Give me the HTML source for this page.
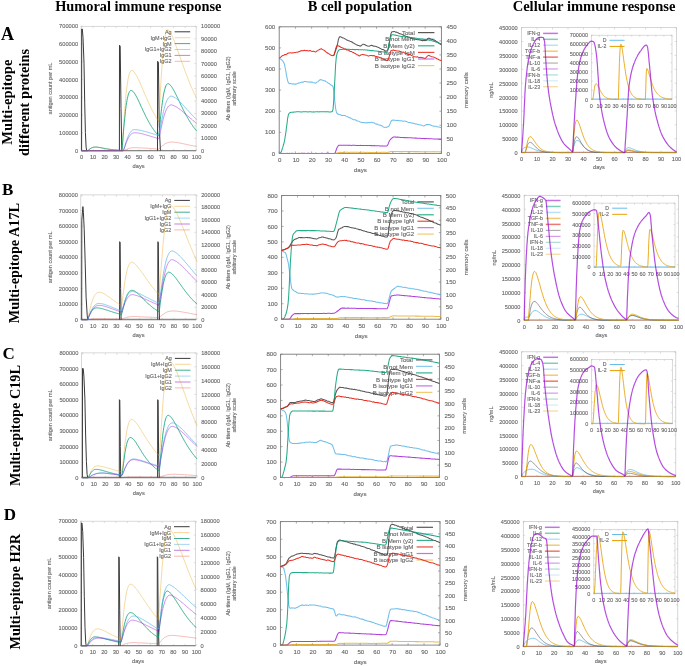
<!DOCTYPE html>
<html><head><meta charset="utf-8"><style>
html,body{margin:0;padding:0;background:#fff;}
svg{display:block;will-change:transform;}
text{stroke:#7a7a7a;stroke-width:0.12px;}
text[font-weight=bold]{stroke:none;}
</style></head><body>
<svg width="685" height="666" viewBox="0 0 685 666">
<rect width="685" height="666" fill="#fff"/>
<g font-family="Liberation Sans" fill="#5a5a5a" stroke-width="0.6">
<text x="138.3" y="11.1" font-family="Liberation Serif" font-size="14.35" font-weight="bold" text-anchor="middle" fill="#000">Humoral immune response</text>
<text x="359.8" y="11.1" font-family="Liberation Serif" font-size="14.45" font-weight="bold" text-anchor="middle" fill="#000">B cell population</text>
<text x="594" y="11.1" font-family="Liberation Serif" font-size="14.55" font-weight="bold" text-anchor="middle" fill="#000">Cellular immune response</text>
<text x="0.9" y="39.6" font-family="Liberation Serif" font-size="18" font-weight="bold" fill="#000">A</text>
<text x="2" y="195" font-family="Liberation Serif" font-size="17" font-weight="bold" fill="#000">B</text>
<text x="2.6" y="358.6" font-family="Liberation Serif" font-size="17" font-weight="bold" fill="#000">C</text>
<text x="3.8" y="520.3" font-family="Liberation Serif" font-size="17" font-weight="bold" fill="#000">D</text>
<text transform="translate(11.5,102.1) rotate(-90)" font-family="Liberation Serif" font-size="14.6" font-weight="bold" text-anchor="middle" fill="#000">Multi-epitope</text>
<text transform="translate(28.8,102.4) rotate(-90)" font-family="Liberation Serif" font-size="14.4" font-weight="bold" text-anchor="middle" fill="#000">different proteins</text>
<text transform="translate(18.8,263) rotate(-90)" font-family="Liberation Serif" font-size="14.3" font-weight="bold" text-anchor="middle" fill="#000">Multi-epitope A17L</text>
<text transform="translate(20.1,425.5) rotate(-90)" font-family="Liberation Serif" font-size="14.3" font-weight="bold" text-anchor="middle" fill="#000">Multi-epitope C19L</text>
<text transform="translate(20.1,591.8) rotate(-90)" font-family="Liberation Serif" font-size="14.3" font-weight="bold" text-anchor="middle" fill="#000">Multi-epitope H2R</text>
<rect x="81.1" y="26.3" width="115" height="124.5" fill="none" stroke="#c8c8c8" stroke-width="0.7"/>
<path d="M81.6 150.8v-1.8M81.6 26.3v1.8M93.1 150.8v-1.8M93.1 26.3v1.8M104.6 150.8v-1.8M104.6 26.3v1.8M116.1 150.8v-1.8M116.1 26.3v1.8M127.6 150.8v-1.8M127.6 26.3v1.8M139.1 150.8v-1.8M139.1 26.3v1.8M150.6 150.8v-1.8M150.6 26.3v1.8M162.1 150.8v-1.8M162.1 26.3v1.8M173.6 150.8v-1.8M173.6 26.3v1.8M185.1 150.8v-1.8M185.1 26.3v1.8M196.6 150.8v-1.8M196.6 26.3v1.8M81.1 150.8h1.8M81.1 133.01h1.8M81.1 115.23h1.8M81.1 97.44h1.8M81.1 79.66h1.8M81.1 61.87h1.8M81.1 44.09h1.8M81.1 26.3h1.8M196.1 150.8h-1.8M196.1 138.35h-1.8M196.1 125.9h-1.8M196.1 113.45h-1.8M196.1 101h-1.8M196.1 88.55h-1.8M196.1 76.1h-1.8M196.1 63.65h-1.8M196.1 51.2h-1.8M196.1 38.75h-1.8M196.1 26.3h-1.8" stroke="#c8c8c8" stroke-width="0.6" fill="none"/>
<text x="78.1" y="152.8" font-size="5.7" text-anchor="end">0</text>
<text x="78.1" y="135.01" font-size="5.7" text-anchor="end">100000</text>
<text x="78.1" y="117.23" font-size="5.7" text-anchor="end">200000</text>
<text x="78.1" y="99.44" font-size="5.7" text-anchor="end">300000</text>
<text x="78.1" y="81.66" font-size="5.7" text-anchor="end">400000</text>
<text x="78.1" y="63.87" font-size="5.7" text-anchor="end">500000</text>
<text x="78.1" y="46.09" font-size="5.7" text-anchor="end">600000</text>
<text x="78.1" y="28.3" font-size="5.7" text-anchor="end">700000</text>
<text x="201.1" y="152.8" font-size="5.7">0</text>
<text x="201.1" y="140.35" font-size="5.7">10000</text>
<text x="201.1" y="127.9" font-size="5.7">20000</text>
<text x="201.1" y="115.45" font-size="5.7">30000</text>
<text x="201.1" y="103" font-size="5.7">40000</text>
<text x="201.1" y="90.55" font-size="5.7">50000</text>
<text x="201.1" y="78.1" font-size="5.7">60000</text>
<text x="201.1" y="65.65" font-size="5.7">70000</text>
<text x="201.1" y="53.2" font-size="5.7">80000</text>
<text x="201.1" y="40.75" font-size="5.7">90000</text>
<text x="201.1" y="28.3" font-size="5.7">100000</text>
<text x="81.6" y="159" font-size="5.7" text-anchor="middle">0</text>
<text x="93.1" y="159" font-size="5.7" text-anchor="middle">10</text>
<text x="104.6" y="159" font-size="5.7" text-anchor="middle">20</text>
<text x="116.1" y="159" font-size="5.7" text-anchor="middle">30</text>
<text x="127.6" y="159" font-size="5.7" text-anchor="middle">40</text>
<text x="139.1" y="159" font-size="5.7" text-anchor="middle">50</text>
<text x="150.6" y="159" font-size="5.7" text-anchor="middle">60</text>
<text x="162.1" y="159" font-size="5.7" text-anchor="middle">70</text>
<text x="173.6" y="159" font-size="5.7" text-anchor="middle">80</text>
<text x="185.1" y="159" font-size="5.7" text-anchor="middle">90</text>
<text x="196.6" y="159" font-size="5.7" text-anchor="middle">100</text>
<text x="138.6" y="167.8" font-size="5.7" text-anchor="middle">days</text>
<text transform="translate(51.9,88.55) rotate(-90)" font-size="5.5" text-anchor="middle">antigen count per mL</text>
<text transform="translate(230.2,88.55) rotate(-90)" font-size="5.5" text-anchor="middle">Ab titers (IgM, IgG1, IgG2)</text>
<text transform="translate(236.1,88.55) rotate(-90)" font-size="5.5" text-anchor="middle">arbitrary scale</text>
<text x="171.6" y="33.76" font-size="5.45" text-anchor="end">Ag</text>
<path d="M174.6 31.8H190.2" stroke="#3a3a3a" stroke-width="1.0" stroke-opacity="1.0"/>
<text x="171.6" y="39.66" font-size="5.45" text-anchor="end">IgM+IgG</text>
<path d="M174.6 37.7H190.2" stroke="#f2c46a" stroke-width="0.7" stroke-opacity="1.0"/>
<text x="171.6" y="45.56" font-size="5.45" text-anchor="end">IgM</text>
<path d="M174.6 43.6H190.2" stroke="#3fb08f" stroke-width="1.0" stroke-opacity="1.0"/>
<text x="171.6" y="51.46" font-size="5.45" text-anchor="end">IgG1+IgG2</text>
<path d="M174.6 49.5H190.2" stroke="#8fcdf0" stroke-width="0.8" stroke-opacity="1.0"/>
<text x="171.6" y="57.36" font-size="5.45" text-anchor="end">IgG1</text>
<path d="M174.6 55.4H190.2" stroke="#b860e0" stroke-width="0.8" stroke-opacity="1.0"/>
<text x="171.6" y="63.26" font-size="5.45" text-anchor="end">IgG2</text>
<path d="M174.6 61.3H190.2" stroke="#f08a80" stroke-width="0.6" stroke-opacity="1.0"/>
<path d="M81.1 150.6H196.1" stroke="#808080" stroke-width="1.3" stroke-opacity="0.9"/>
<path d="M81.6 150.8 81.7 29 82.3 29 83 37.5 84 63.1 84.7 102.1 85.4 132.5 86.1 147.1 86.7 150.8" stroke="#3a3a3a" stroke-width="1.0" fill="none" stroke-linejoin="round" stroke-opacity="1.0"/>
<path d="M119.4 150.8 119.5 45.2 120.2 46.2 121 108.5 121.8 150.8" stroke="#3a3a3a" stroke-width="1.0" fill="none" stroke-linejoin="round" stroke-opacity="1.0"/>
<path d="M157.5 150.8 157.6 61.3 158.4 62.2 159.2 124 160.4 150.8" stroke="#3a3a3a" stroke-width="1.0" fill="none" stroke-linejoin="round" stroke-opacity="1.0"/>
<path d="M81.6 150.8 82 150.8 82.4 150.8 82.8 150.8 83.1 150.8 83.5 150.8 83.9 150.8 84.3 150.8 84.7 150.8 85.1 150.8 85.4 150.8 85.8 150.8 86.2 150.8 86.6 150.8 87 150.8 87.4 150.8 87.8 150.6 88.1 150.4 88.5 150.1 88.9 149.7 89.3 149.4 89.7 149.1 90.1 148.8 90.4 148.6 90.8 148.3 91.2 148.1 91.6 147.9 92 147.7 92.4 147.6 92.8 147.4 93.1 147.3 93.5 147.2 93.9 147.2 94.3 147.1 94.7 147.1 95.1 147.1 95.4 147.1 95.8 147.1 96.2 147.1 96.6 147.1 97 147.1 97.4 147.2 97.8 147.2 98.1 147.3 98.5 147.3 98.9 147.4 99.3 147.4 99.7 147.5 100.1 147.5 100.4 147.6 100.8 147.7 101.2 147.7 101.6 147.8 102 147.9 102.4 147.9 102.8 148 103.1 148.1 103.5 148.2 103.9 148.2 104.3 148.3 104.7 148.4 105.1 148.4 105.4 148.5 105.8 148.6 106.2 148.6 106.6 148.7 107 148.8 107.4 148.8 107.8 148.9 108.1 149 108.5 149 108.9 149.1 109.3 149.1 109.7 149.2 110.1 149.2 110.4 149.3 110.8 149.3 111.2 149.4 111.6 149.4 112 149.5 112.4 149.5 112.8 149.6 113.1 149.6 113.5 149.7 113.9 149.7 114.3 149.7 114.7 149.8 115.1 149.8 115.4 149.9 115.8 149.9 116.2 149.9 116.6 150 117 150 117.4 150 117.8 150.1 118.1 150.1 118.5 150.1 118.9 150.1 119.3 150.2 119.7 150.2 120.1 150.2 120.4 150.2 120.8 150.3 121.2 150.3 121.6 150.3 122 149.2 122.4 144.3 122.8 138.6 123.1 132.6 123.5 126.7 123.9 120.9 124.3 115.4 124.7 110.2 125.1 105.3 125.4 100.8 125.8 96.6 126.2 92.8 126.6 89.3 127 86.2 127.4 83.4 127.8 80.9 128.1 78.7 128.5 76.9 128.9 75.3 129.3 73.9 129.7 72.8 130.1 71.9 130.4 71.3 130.8 70.8 131.2 70.6 131.6 70.5 132 70.5 132.4 70.7 132.8 70.9 133.1 71.1 133.5 71.5 133.9 71.8 134.3 72.3 134.7 72.8 135.1 73.3 135.4 73.9 135.8 74.5 136.2 75.2 136.6 75.9 137 76.6 137.4 77.3 137.8 78.1 138.1 78.9 138.5 79.7 138.9 80.5 139.3 81.3 139.7 82.2 140.1 83 140.4 83.9 140.8 84.8 141.2 85.7 141.6 86.5 142 87.4 142.4 88.3 142.8 89.2 143.1 90.1 143.5 91.1 143.9 92 144.3 92.9 144.7 93.8 145.1 94.7 145.4 95.5 145.8 96.4 146.2 97.3 146.6 98.2 147 99.1 147.4 99.9 147.8 100.8 148.1 101.7 148.5 102.5 148.9 103.3 149.3 104.2 149.7 105 150.1 105.8 150.4 106.6 150.8 107.4 151.2 108.2 151.6 109 152 109.7 152.4 110.5 152.8 111.2 153.1 112 153.5 112.7 153.9 113.4 154.3 114.1 154.7 114.8 155.1 115.5 155.4 116.2 155.8 116.9 156.2 117.5 156.6 118.2 157 118.8 157.4 119.5 157.8 120.1 158.1 120.7 158.5 121.3 158.9 118.6 159.3 112.3 159.7 105.3 160.1 98.1 160.4 91.1 160.8 84.2 161.2 77.8 161.6 71.7 162 66 162.4 60.8 162.8 56 163.1 51.7 163.5 47.8 163.9 44.4 164.3 41.3 164.7 38.7 165.1 36.4 165.4 34.5 165.8 33 166.2 31.8 166.6 30.8 167 30.2 167.4 29.8 167.8 29.7 168.1 29.8 168.5 30.1 168.9 30.6 169.3 31 169.7 31.6 170.1 32.2 170.4 32.8 170.8 33.5 171.2 34.3 171.6 35.1 172 35.9 172.4 36.7 172.8 37.6 173.1 38.5 173.5 39.4 173.9 40.4 174.3 41.3 174.7 42.3 175.1 43.3 175.4 44.3 175.8 45.4 176.2 46.4 176.6 47.5 177 48.5 177.4 49.6 177.8 50.6 178.1 51.7 178.5 52.8 178.9 53.9 179.3 55 179.7 56.1 180.1 57.2 180.4 58.2 180.8 59.3 181.2 60.4 181.6 61.5 182 62.6 182.4 63.7 182.8 64.7 183.1 65.8 183.5 66.9 183.9 67.9 184.3 69 184.7 70 185.1 71.1 185.4 72.1 185.8 73.1 186.2 74.2 186.6 75.2 187 76.2 187.4 77.2 187.8 78.2 188.1 79.1 188.5 80.1 188.9 81.1 189.3 82 189.7 83 190.1 83.9 190.4 84.9 190.8 85.8 191.2 86.7 191.6 87.6 192 88.5 192.4 89.4 192.8 90.3 193.1 91.1 193.5 92 193.9 92.8 194.3 93.7 194.7 94.5 195.1 95.3 195.4 96.1 195.8 96.9 196.2 97.7 196.6 98.5" stroke="#e69f00" stroke-width="0.7" fill="none" stroke-linejoin="round" stroke-opacity="0.55"/>
<path d="M81.6 150.8 82 150.8 82.4 150.8 82.8 150.8 83.1 150.8 83.5 150.8 83.9 150.8 84.3 150.8 84.7 150.8 85.1 150.8 85.4 150.8 85.8 150.8 86.2 150.8 86.6 150.8 87 150.8 87.4 150.8 87.8 150.6 88.1 150.4 88.5 150.1 88.9 149.7 89.3 149.4 89.7 149.1 90.1 148.8 90.4 148.6 90.8 148.3 91.2 148.1 91.6 147.9 92 147.7 92.4 147.6 92.8 147.4 93.1 147.3 93.5 147.2 93.9 147.2 94.3 147.1 94.7 147.1 95.1 147.1 95.4 147.1 95.8 147.1 96.2 147.1 96.6 147.1 97 147.1 97.4 147.2 97.8 147.2 98.1 147.3 98.5 147.3 98.9 147.4 99.3 147.5 99.7 147.5 100.1 147.6 100.4 147.7 100.8 147.7 101.2 147.8 101.6 147.9 102 148 102.4 148 102.8 148.1 103.1 148.2 103.5 148.3 103.9 148.3 104.3 148.4 104.7 148.5 105.1 148.6 105.4 148.6 105.8 148.7 106.2 148.8 106.6 148.8 107 148.9 107.4 149 107.8 149 108.1 149.1 108.5 149.2 108.9 149.2 109.3 149.3 109.7 149.3 110.1 149.4 110.4 149.5 110.8 149.5 111.2 149.6 111.6 149.6 112 149.6 112.4 149.7 112.8 149.7 113.1 149.8 113.5 149.8 113.9 149.9 114.3 149.9 114.7 149.9 115.1 150 115.4 150 115.8 150 116.2 150.1 116.6 150.1 117 150.1 117.4 150.2 117.8 150.2 118.1 150.2 118.5 150.2 118.9 150.3 119.3 150.3 119.7 150.3 120.1 150.3 120.4 150.4 120.8 150.4 121.2 150.4 121.6 150.4 122 149.5 122.4 145.5 122.8 140.9 123.1 136.2 123.5 131.5 123.9 126.9 124.3 122.6 124.7 118.5 125.1 114.8 125.4 111.3 125.8 108.2 126.2 105.3 126.6 102.7 127 100.4 127.4 98.4 127.8 96.7 128.1 95.2 128.5 93.9 128.9 92.9 129.3 92 129.7 91.4 130.1 90.9 130.4 90.6 130.8 90.4 131.2 90.4 131.6 90.5 132 90.7 132.4 90.9 132.8 91.2 133.1 91.6 133.5 92 133.9 92.5 134.3 93 134.7 93.6 135.1 94.2 135.4 94.8 135.8 95.5 136.2 96.2 136.6 96.9 137 97.7 137.4 98.5 137.8 99.2 138.1 100 138.5 100.8 138.9 101.6 139.3 102.5 139.7 103.3 140.1 104.1 140.4 105 140.8 105.8 141.2 106.7 141.6 107.5 142 108.3 142.4 109.2 142.8 110 143.1 110.8 143.5 111.6 143.9 112.4 144.3 113.2 144.7 114 145.1 114.8 145.4 115.6 145.8 116.4 146.2 117.2 146.6 117.9 147 118.6 147.4 119.4 147.8 120.1 148.1 120.8 148.5 121.5 148.9 122.2 149.3 122.9 149.7 123.5 150.1 124.2 150.4 124.8 150.8 125.5 151.2 126.1 151.6 126.7 152 127.3 152.4 127.9 152.8 128.5 153.1 129 153.5 129.6 153.9 130.1 154.3 130.6 154.7 131.1 155.1 131.7 155.4 132.1 155.8 132.6 156.2 133.1 156.6 133.6 157 134 157.4 134.5 157.8 134.9 158.1 135.3 158.5 135.7 158.9 134.3 159.3 130.9 159.7 127.1 160.1 123.1 160.4 119.2 160.8 115.4 161.2 111.8 161.6 108.4 162 105.2 162.4 102.3 162.8 99.6 163.1 97.1 163.5 94.9 163.9 92.9 164.3 91.1 164.7 89.5 165.1 88.2 165.4 87 165.8 86 166.2 85.2 166.6 84.6 167 84.2 167.4 83.8 167.8 83.7 168.1 83.6 168.5 83.7 168.9 83.9 169.3 84.2 169.7 84.5 170.1 84.8 170.4 85.3 170.8 85.7 171.2 86.2 171.6 86.8 172 87.3 172.4 87.9 172.8 88.6 173.1 89.2 173.5 89.9 173.9 90.6 174.3 91.3 174.7 92 175.1 92.8 175.4 93.6 175.8 94.3 176.2 95.1 176.6 95.9 177 96.7 177.4 97.5 177.8 98.3 178.1 99.1 178.5 99.9 178.9 100.7 179.3 101.5 179.7 102.3 180.1 103.1 180.4 104 180.8 104.8 181.2 105.6 181.6 106.3 182 107.1 182.4 107.9 182.8 108.7 183.1 109.5 183.5 110.2 183.9 111 184.3 111.7 184.7 112.5 185.1 113.2 185.4 113.9 185.8 114.6 186.2 115.3 186.6 116 187 116.7 187.4 117.4 187.8 118.1 188.1 118.7 188.5 119.4 188.9 120 189.3 120.7 189.7 121.3 190.1 121.9 190.4 122.5 190.8 123.1 191.2 123.7 191.6 124.3 192 124.8 192.4 125.4 192.8 125.9 193.1 126.5 193.5 127 193.9 127.5 194.3 128 194.7 128.5 195.1 129 195.4 129.5 195.8 130 196.2 130.4 196.6 130.9" stroke="#009e73" stroke-width="1.0" fill="none" stroke-linejoin="round" stroke-opacity="0.8"/>
<path d="M81.6 150.8 82 150.8 82.4 150.8 82.8 150.8 83.1 150.8 83.5 150.8 83.9 150.8 84.3 150.8 84.7 150.8 85.1 150.8 85.4 150.8 85.8 150.8 86.2 150.8 86.6 150.8 87 150.8 87.4 150.8 87.8 150.8 88.1 150.8 88.5 150.8 88.9 150.8 89.3 150.8 89.7 150.8 90.1 150.8 90.4 150.8 90.8 150.8 91.2 150.8 91.6 150.8 92 150.8 92.4 150.8 92.8 150.8 93.1 150.8 93.5 150.8 93.9 150.8 94.3 150.8 94.7 150.8 95.1 150.8 95.4 150.8 95.8 150.8 96.2 150.8 96.6 150.8 97 150.8 97.4 150.8 97.8 150.8 98.1 150.8 98.5 150.8 98.9 150.8 99.3 150.8 99.7 150.8 100.1 150.8 100.4 150.8 100.8 150.8 101.2 150.8 101.6 150.8 102 150.8 102.4 150.8 102.8 150.8 103.1 150.8 103.5 150.8 103.9 150.8 104.3 150.8 104.7 150.8 105.1 150.8 105.4 150.8 105.8 150.8 106.2 150.8 106.6 150.8 107 150.8 107.4 150.8 107.8 150.8 108.1 150.8 108.5 150.8 108.9 150.8 109.3 150.8 109.7 150.8 110.1 150.8 110.4 150.8 110.8 150.8 111.2 150.8 111.6 150.8 112 150.8 112.4 150.8 112.8 150.8 113.1 150.8 113.5 150.8 113.9 150.8 114.3 150.8 114.7 150.8 115.1 150.8 115.4 150.8 115.8 150.8 116.2 150.8 116.6 150.8 117 150.8 117.4 150.8 117.8 150.8 118.1 150.8 118.5 150.8 118.9 150.8 119.3 150.8 119.7 150.8 120.1 150.8 120.4 150.8 120.8 150.8 121.2 150.8 121.6 150.8 122 150.8 122.4 150.8 122.8 150.8 123.1 150.7 123.5 149.9 123.9 148.9 124.3 147.8 124.7 146.6 125.1 145.3 125.4 144 125.8 142.8 126.2 141.6 126.6 140.4 127 139.3 127.4 138.2 127.8 137.2 128.1 136.3 128.5 135.4 128.9 134.6 129.3 133.9 129.7 133.2 130.1 132.6 130.4 132.1 130.8 131.6 131.2 131.2 131.6 130.8 132 130.5 132.4 130.2 132.8 130 133.1 129.9 133.5 129.8 133.9 129.7 134.3 129.6 134.7 129.6 135.1 129.6 135.4 129.7 135.8 129.7 136.2 129.7 136.6 129.7 137 129.8 137.4 129.8 137.8 129.9 138.1 129.9 138.5 130 138.9 130.1 139.3 130.1 139.7 130.2 140.1 130.3 140.4 130.3 140.8 130.4 141.2 130.5 141.6 130.6 142 130.7 142.4 130.8 142.8 130.9 143.1 131 143.5 131.1 143.9 131.2 144.3 131.3 144.7 131.4 145.1 131.5 145.4 131.6 145.8 131.7 146.2 131.8 146.6 131.9 147 132 147.4 132.1 147.8 132.2 148.1 132.4 148.5 132.5 148.9 132.6 149.3 132.7 149.7 132.8 150.1 132.9 150.4 133.1 150.8 133.2 151.2 133.3 151.6 133.4 152 133.5 152.4 133.6 152.8 133.8 153.1 133.9 153.5 134 153.9 134.1 154.3 134.2 154.7 134.4 155.1 134.5 155.4 134.6 155.8 134.7 156.2 134.8 156.6 135 157 135.1 157.4 135.2 157.8 135.3 158.1 135.4 158.5 135.6 158.9 135 159.3 133.4 159.7 131.6 160.1 129.5 160.4 127.4 160.8 125.2 161.2 123.1 161.6 121 162 118.9 162.4 116.9 162.8 115 163.1 113.2 163.5 111.4 163.9 109.8 164.3 108.3 164.7 106.8 165.1 105.5 165.4 104.3 165.8 103.1 166.2 102.1 166.6 101.1 167 100.3 167.4 99.5 167.8 98.9 168.1 98.3 168.5 97.8 168.9 97.3 169.3 97 169.7 96.7 170.1 96.5 170.4 96.3 170.8 96.2 171.2 96.2 171.6 96.2 172 96.3 172.4 96.4 172.8 96.5 173.1 96.7 173.5 96.8 173.9 97 174.3 97.3 174.7 97.5 175.1 97.7 175.4 98 175.8 98.3 176.2 98.5 176.6 98.8 177 99.2 177.4 99.5 177.8 99.8 178.1 100.2 178.5 100.5 178.9 100.9 179.3 101.2 179.7 101.6 180.1 102 180.4 102.4 180.8 102.8 181.2 103.1 181.6 103.5 182 104 182.4 104.4 182.8 104.8 183.1 105.2 183.5 105.6 183.9 106 184.3 106.4 184.7 106.9 185.1 107.3 185.4 107.7 185.8 108.1 186.2 108.6 186.6 109 187 109.4 187.4 109.8 187.8 110.3 188.1 110.7 188.5 111.1 188.9 111.6 189.3 112 189.7 112.4 190.1 112.8 190.4 113.2 190.8 113.7 191.2 114.1 191.6 114.5 192 114.9 192.4 115.3 192.8 115.7 193.1 116.1 193.5 116.5 193.9 116.9 194.3 117.3 194.7 117.7 195.1 118.1 195.4 118.5 195.8 118.9 196.2 119.3 196.6 119.7" stroke="#56b4e9" stroke-width="0.85" fill="none" stroke-linejoin="round" stroke-opacity="0.85"/>
<path d="M81.6 150.8 82 150.8 82.4 150.8 82.8 150.8 83.1 150.8 83.5 150.8 83.9 150.8 84.3 150.8 84.7 150.8 85.1 150.8 85.4 150.8 85.8 150.8 86.2 150.8 86.6 150.8 87 150.8 87.4 150.8 87.8 150.8 88.1 150.8 88.5 150.8 88.9 150.8 89.3 150.8 89.7 150.8 90.1 150.8 90.4 150.8 90.8 150.8 91.2 150.8 91.6 150.8 92 150.8 92.4 150.8 92.8 150.8 93.1 150.8 93.5 150.8 93.9 150.8 94.3 150.8 94.7 150.8 95.1 150.8 95.4 150.8 95.8 150.8 96.2 150.8 96.6 150.8 97 150.8 97.4 150.8 97.8 150.8 98.1 150.8 98.5 150.8 98.9 150.8 99.3 150.8 99.7 150.8 100.1 150.8 100.4 150.8 100.8 150.8 101.2 150.8 101.6 150.8 102 150.8 102.4 150.8 102.8 150.8 103.1 150.8 103.5 150.8 103.9 150.8 104.3 150.8 104.7 150.8 105.1 150.8 105.4 150.8 105.8 150.8 106.2 150.8 106.6 150.8 107 150.8 107.4 150.8 107.8 150.8 108.1 150.8 108.5 150.8 108.9 150.8 109.3 150.8 109.7 150.8 110.1 150.8 110.4 150.8 110.8 150.8 111.2 150.8 111.6 150.8 112 150.8 112.4 150.8 112.8 150.8 113.1 150.8 113.5 150.8 113.9 150.8 114.3 150.8 114.7 150.8 115.1 150.8 115.4 150.8 115.8 150.8 116.2 150.8 116.6 150.8 117 150.8 117.4 150.8 117.8 150.8 118.1 150.8 118.5 150.8 118.9 150.8 119.3 150.8 119.7 150.8 120.1 150.8 120.4 150.8 120.8 150.8 121.2 150.8 121.6 150.8 122 150.8 122.4 150.8 122.8 150.8 123.1 150.7 123.5 150.1 123.9 149.2 124.3 148.2 124.7 147.2 125.1 146.1 125.4 145 125.8 144 126.2 142.9 126.6 141.9 127 141 127.4 140.1 127.8 139.2 128.1 138.4 128.5 137.7 128.9 137 129.3 136.4 129.7 135.8 130.1 135.3 130.4 134.8 130.8 134.4 131.2 134.1 131.6 133.8 132 133.5 132.4 133.3 132.8 133.1 133.1 133 133.5 132.9 133.9 132.8 134.3 132.8 134.7 132.7 135.1 132.8 135.4 132.8 135.8 132.8 136.2 132.8 136.6 132.9 137 132.9 137.4 132.9 137.8 133 138.1 133.1 138.5 133.1 138.9 133.2 139.3 133.2 139.7 133.3 140.1 133.4 140.4 133.5 140.8 133.6 141.2 133.6 141.6 133.7 142 133.8 142.4 133.9 142.8 134 143.1 134.1 143.5 134.2 143.9 134.3 144.3 134.4 144.7 134.5 145.1 134.6 145.4 134.7 145.8 134.8 146.2 135 146.6 135.1 147 135.2 147.4 135.3 147.8 135.4 148.1 135.5 148.5 135.6 148.9 135.7 149.3 135.9 149.7 136 150.1 136.1 150.4 136.2 150.8 136.3 151.2 136.4 151.6 136.6 152 136.7 152.4 136.8 152.8 136.9 153.1 137 153.5 137.1 153.9 137.3 154.3 137.4 154.7 137.5 155.1 137.6 155.4 137.7 155.8 137.8 156.2 138 156.6 138.1 157 138.2 157.4 138.3 157.8 138.4 158.1 138.5 158.5 138.7 158.9 138.2 159.3 136.9 159.7 135.2 160.1 133.5 160.4 131.7 160.8 129.8 161.2 128 161.6 126.1 162 124.4 162.4 122.7 162.8 121 163.1 119.4 163.5 118 163.9 116.6 164.3 115.2 164.7 114 165.1 112.9 165.4 111.8 165.8 110.8 166.2 109.9 166.6 109.1 167 108.4 167.4 107.7 167.8 107.2 168.1 106.7 168.5 106.2 168.9 105.9 169.3 105.5 169.7 105.3 170.1 105.1 170.4 105 170.8 104.9 171.2 104.9 171.6 104.9 172 105 172.4 105.1 172.8 105.2 173.1 105.3 173.5 105.5 173.9 105.6 174.3 105.8 174.7 106 175.1 106.2 175.4 106.4 175.8 106.6 176.2 106.8 176.6 107.1 177 107.3 177.4 107.6 177.8 107.8 178.1 108.1 178.5 108.4 178.9 108.7 179.3 108.9 179.7 109.2 180.1 109.5 180.4 109.8 180.8 110.1 181.2 110.4 181.6 110.7 182 111.1 182.4 111.4 182.8 111.7 183.1 112 183.5 112.3 183.9 112.7 184.3 113 184.7 113.3 185.1 113.6 185.4 114 185.8 114.3 186.2 114.6 186.6 115 187 115.3 187.4 115.6 187.8 116 188.1 116.3 188.5 116.6 188.9 117 189.3 117.3 189.7 117.6 190.1 118 190.4 118.3 190.8 118.6 191.2 119 191.6 119.3 192 119.6 192.4 119.9 192.8 120.3 193.1 120.6 193.5 120.9 193.9 121.2 194.3 121.5 194.7 121.9 195.1 122.2 195.4 122.5 195.8 122.8 196.2 123.1 196.6 123.4" stroke="#9400d3" stroke-width="0.8" fill="none" stroke-linejoin="round" stroke-opacity="0.55"/>
<path d="M81.6 150.8 82 150.8 82.4 150.8 82.8 150.8 83.1 150.8 83.5 150.8 83.9 150.8 84.3 150.8 84.7 150.8 85.1 150.8 85.4 150.8 85.8 150.8 86.2 150.8 86.6 150.8 87 150.8 87.4 150.8 87.8 150.8 88.1 150.8 88.5 150.8 88.9 150.8 89.3 150.8 89.7 150.8 90.1 150.8 90.4 150.8 90.8 150.8 91.2 150.8 91.6 150.8 92 150.8 92.4 150.8 92.8 150.8 93.1 150.8 93.5 150.8 93.9 150.8 94.3 150.8 94.7 150.8 95.1 150.8 95.4 150.8 95.8 150.8 96.2 150.8 96.6 150.8 97 150.8 97.4 150.8 97.8 150.8 98.1 150.8 98.5 150.8 98.9 150.8 99.3 150.8 99.7 150.8 100.1 150.8 100.4 150.8 100.8 150.8 101.2 150.8 101.6 150.8 102 150.8 102.4 150.8 102.8 150.8 103.1 150.8 103.5 150.8 103.9 150.8 104.3 150.8 104.7 150.8 105.1 150.8 105.4 150.8 105.8 150.8 106.2 150.8 106.6 150.8 107 150.8 107.4 150.8 107.8 150.8 108.1 150.8 108.5 150.8 108.9 150.8 109.3 150.8 109.7 150.8 110.1 150.8 110.4 150.8 110.8 150.8 111.2 150.8 111.6 150.8 112 150.8 112.4 150.8 112.8 150.8 113.1 150.8 113.5 150.8 113.9 150.8 114.3 150.8 114.7 150.8 115.1 150.8 115.4 150.8 115.8 150.8 116.2 150.8 116.6 150.8 117 150.8 117.4 150.8 117.8 150.8 118.1 150.8 118.5 150.8 118.9 150.8 119.3 150.8 119.7 150.8 120.1 150.8 120.4 150.8 120.8 150.8 121.2 150.8 121.6 150.8 122 150.8 122.4 150.8 122.8 150.8 123.1 150.8 123.5 150.7 123.9 150.5 124.3 150.4 124.7 150.2 125.1 150 125.4 149.8 125.8 149.6 126.2 149.4 126.6 149.3 127 149.1 127.4 149 127.8 148.8 128.1 148.7 128.5 148.5 128.9 148.4 129.3 148.3 129.7 148.2 130.1 148.1 130.4 148 130.8 148 131.2 147.9 131.6 147.9 132 147.8 132.4 147.8 132.8 147.7 133.1 147.7 133.5 147.7 133.9 147.7 134.3 147.7 134.7 147.7 135.1 147.7 135.4 147.7 135.8 147.7 136.2 147.7 136.6 147.7 137 147.7 137.4 147.7 137.8 147.7 138.1 147.8 138.5 147.8 138.9 147.8 139.3 147.8 139.7 147.8 140.1 147.8 140.4 147.9 140.8 147.9 141.2 147.9 141.6 147.9 142 147.9 142.4 148 142.8 148 143.1 148 143.5 148 143.9 148.1 144.3 148.1 144.7 148.1 145.1 148.1 145.4 148.1 145.8 148.2 146.2 148.2 146.6 148.2 147 148.2 147.4 148.3 147.8 148.3 148.1 148.3 148.5 148.3 148.9 148.4 149.3 148.4 149.7 148.4 150.1 148.5 150.4 148.5 150.8 148.5 151.2 148.5 151.6 148.6 152 148.6 152.4 148.6 152.8 148.6 153.1 148.7 153.5 148.7 153.9 148.7 154.3 148.7 154.7 148.8 155.1 148.8 155.4 148.8 155.8 148.8 156.2 148.9 156.6 148.9 157 148.9 157.4 148.9 157.8 148.9 158.1 149 158.5 149 158.9 148.9 159.3 148.6 159.7 148.3 160.1 148 160.4 147.6 160.8 147.3 161.2 146.9 161.6 146.5 162 146.2 162.4 145.8 162.8 145.5 163.1 145.2 163.5 144.9 163.9 144.6 164.3 144.3 164.7 144.1 165.1 143.8 165.4 143.6 165.8 143.4 166.2 143.2 166.6 143.1 167 142.9 167.4 142.8 167.8 142.6 168.1 142.5 168.5 142.4 168.9 142.3 169.3 142.3 169.7 142.2 170.1 142.2 170.4 142.1 170.8 142.1 171.2 142.1 171.6 142.1 172 142.1 172.4 142.1 172.8 142.1 173.1 142.1 173.5 142.1 173.9 142.2 174.3 142.2 174.7 142.3 175.1 142.3 175.4 142.3 175.8 142.4 176.2 142.4 176.6 142.5 177 142.6 177.4 142.6 177.8 142.7 178.1 142.7 178.5 142.8 178.9 142.9 179.3 142.9 179.7 143 180.1 143.1 180.4 143.2 180.8 143.2 181.2 143.3 181.6 143.4 182 143.5 182.4 143.6 182.8 143.6 183.1 143.7 183.5 143.8 183.9 143.9 184.3 144 184.7 144 185.1 144.1 185.4 144.2 185.8 144.3 186.2 144.4 186.6 144.4 187 144.5 187.4 144.6 187.8 144.7 188.1 144.8 188.5 144.9 188.9 144.9 189.3 145 189.7 145.1 190.1 145.2 190.4 145.3 190.8 145.3 191.2 145.4 191.6 145.5 192 145.6 192.4 145.6 192.8 145.7 193.1 145.8 193.5 145.9 193.9 145.9 194.3 146 194.7 146.1 195.1 146.2 195.4 146.2 195.8 146.3 196.2 146.4 196.6 146.4" stroke="#e51e10" stroke-width="0.6" fill="none" stroke-linejoin="round" stroke-opacity="0.5"/>
<rect x="80.8" y="194.9" width="115.4" height="124.8" fill="none" stroke="#c8c8c8" stroke-width="0.7"/>
<path d="M81.7 319.7v-1.8M81.7 194.9v1.8M93.24 319.7v-1.8M93.24 194.9v1.8M104.78 319.7v-1.8M104.78 194.9v1.8M116.32 319.7v-1.8M116.32 194.9v1.8M127.86 319.7v-1.8M127.86 194.9v1.8M139.4 319.7v-1.8M139.4 194.9v1.8M150.94 319.7v-1.8M150.94 194.9v1.8M162.48 319.7v-1.8M162.48 194.9v1.8M174.02 319.7v-1.8M174.02 194.9v1.8M185.56 319.7v-1.8M185.56 194.9v1.8M197.1 319.7v-1.8M197.1 194.9v1.8M80.8 319.7h1.8M80.8 304.1h1.8M80.8 288.5h1.8M80.8 272.9h1.8M80.8 257.3h1.8M80.8 241.7h1.8M80.8 226.1h1.8M80.8 210.5h1.8M80.8 194.9h1.8M196.2 319.7h-1.8M196.2 307.22h-1.8M196.2 294.74h-1.8M196.2 282.26h-1.8M196.2 269.78h-1.8M196.2 257.3h-1.8M196.2 244.82h-1.8M196.2 232.34h-1.8M196.2 219.86h-1.8M196.2 207.38h-1.8M196.2 194.9h-1.8" stroke="#c8c8c8" stroke-width="0.6" fill="none"/>
<text x="77.8" y="321.7" font-size="5.7" text-anchor="end">0</text>
<text x="77.8" y="306.1" font-size="5.7" text-anchor="end">100000</text>
<text x="77.8" y="290.5" font-size="5.7" text-anchor="end">200000</text>
<text x="77.8" y="274.9" font-size="5.7" text-anchor="end">300000</text>
<text x="77.8" y="259.3" font-size="5.7" text-anchor="end">400000</text>
<text x="77.8" y="243.7" font-size="5.7" text-anchor="end">500000</text>
<text x="77.8" y="228.1" font-size="5.7" text-anchor="end">600000</text>
<text x="77.8" y="212.5" font-size="5.7" text-anchor="end">700000</text>
<text x="77.8" y="196.9" font-size="5.7" text-anchor="end">800000</text>
<text x="201.2" y="321.7" font-size="5.7">0</text>
<text x="201.2" y="309.22" font-size="5.7">20000</text>
<text x="201.2" y="296.74" font-size="5.7">40000</text>
<text x="201.2" y="284.26" font-size="5.7">60000</text>
<text x="201.2" y="271.78" font-size="5.7">80000</text>
<text x="201.2" y="259.3" font-size="5.7">100000</text>
<text x="201.2" y="246.82" font-size="5.7">120000</text>
<text x="201.2" y="234.34" font-size="5.7">140000</text>
<text x="201.2" y="221.86" font-size="5.7">160000</text>
<text x="201.2" y="209.38" font-size="5.7">180000</text>
<text x="201.2" y="196.9" font-size="5.7">200000</text>
<text x="81.7" y="327.9" font-size="5.7" text-anchor="middle">0</text>
<text x="93.24" y="327.9" font-size="5.7" text-anchor="middle">10</text>
<text x="104.78" y="327.9" font-size="5.7" text-anchor="middle">20</text>
<text x="116.32" y="327.9" font-size="5.7" text-anchor="middle">30</text>
<text x="127.86" y="327.9" font-size="5.7" text-anchor="middle">40</text>
<text x="139.4" y="327.9" font-size="5.7" text-anchor="middle">50</text>
<text x="150.94" y="327.9" font-size="5.7" text-anchor="middle">60</text>
<text x="162.48" y="327.9" font-size="5.7" text-anchor="middle">70</text>
<text x="174.02" y="327.9" font-size="5.7" text-anchor="middle">80</text>
<text x="185.56" y="327.9" font-size="5.7" text-anchor="middle">90</text>
<text x="197.1" y="327.9" font-size="5.7" text-anchor="middle">100</text>
<text x="138.5" y="336.7" font-size="5.7" text-anchor="middle">days</text>
<text transform="translate(51.6,257.3) rotate(-90)" font-size="5.5" text-anchor="middle">antigen count per mL</text>
<text transform="translate(230.3,257.3) rotate(-90)" font-size="5.5" text-anchor="middle">Ab titers (IgM, IgG1, IgG2)</text>
<text transform="translate(236.2,257.3) rotate(-90)" font-size="5.5" text-anchor="middle">arbitrary scale</text>
<text x="171.3" y="202.36" font-size="5.45" text-anchor="end">Ag</text>
<path d="M174.3 200.4H189.9" stroke="#3a3a3a" stroke-width="1.0" stroke-opacity="1.0"/>
<text x="171.3" y="208.26" font-size="5.45" text-anchor="end">IgM+IgG</text>
<path d="M174.3 206.3H189.9" stroke="#f2c46a" stroke-width="0.7" stroke-opacity="1.0"/>
<text x="171.3" y="214.16" font-size="5.45" text-anchor="end">IgM</text>
<path d="M174.3 212.2H189.9" stroke="#3fb08f" stroke-width="1.0" stroke-opacity="1.0"/>
<text x="171.3" y="220.06" font-size="5.45" text-anchor="end">IgG1+IgG2</text>
<path d="M174.3 218.1H189.9" stroke="#8fcdf0" stroke-width="0.8" stroke-opacity="1.0"/>
<text x="171.3" y="225.96" font-size="5.45" text-anchor="end">IgG1</text>
<path d="M174.3 224H189.9" stroke="#b860e0" stroke-width="0.8" stroke-opacity="1.0"/>
<text x="171.3" y="231.86" font-size="5.45" text-anchor="end">IgG2</text>
<path d="M174.3 229.9H189.9" stroke="#f08a80" stroke-width="0.6" stroke-opacity="1.0"/>
<path d="M80.8 319.5H196.2" stroke="#808080" stroke-width="1.3" stroke-opacity="0.9"/>
<path d="M81.7 319.7 81.8 220.2 82.9 206.6 83.4 212.3 84.2 229.2 85.2 263.1 86.1 297.1 87.2 315.2 87.7 319.7" stroke="#3a3a3a" stroke-width="1.0" fill="none" stroke-linejoin="round" stroke-opacity="1.0"/>
<path d="M119.6 319.7 119.7 241.7 120.1 242.5 120.6 288.5 121.1 319.7" stroke="#3a3a3a" stroke-width="1.0" fill="none" stroke-linejoin="round" stroke-opacity="1.0"/>
<path d="M157.7 319.7 157.9 241.7 158.3 242.5 158.8 296.3 159.5 319.7" stroke="#3a3a3a" stroke-width="1.0" fill="none" stroke-linejoin="round" stroke-opacity="1.0"/>
<path d="M81.7 319.7 82.1 319.7 82.5 319.7 82.9 319.7 83.2 319.7 83.6 319.7 84 319.7 84.4 319.7 84.8 319.7 85.2 319.7 85.6 319.7 85.9 319.7 86.3 319.7 86.7 319.7 87.1 319.7 87.5 319.7 87.9 318.5 88.3 316.9 88.6 315.2 89 313.4 89.4 311.7 89.8 310 90.2 308.4 90.6 306.8 91 305.3 91.3 303.9 91.7 302.6 92.1 301.4 92.5 300.3 92.9 299.2 93.3 298.2 93.7 297.4 94.1 296.6 94.4 295.9 94.8 295.2 95.2 294.6 95.6 294.1 96 293.7 96.4 293.3 96.8 293 97.1 292.8 97.5 292.6 97.9 292.4 98.3 292.3 98.7 292.3 99.1 292.2 99.5 292.3 99.8 292.3 100.2 292.4 100.6 292.4 101 292.5 101.4 292.6 101.8 292.8 102.2 292.9 102.5 293.1 102.9 293.2 103.3 293.4 103.7 293.6 104.1 293.8 104.5 294 104.9 294.3 105.2 294.5 105.6 294.7 106 295 106.4 295.2 106.8 295.5 107.2 295.7 107.6 296 107.9 296.3 108.3 296.5 108.7 296.8 109.1 297.1 109.5 297.4 109.9 297.6 110.3 297.9 110.6 298.2 111 298.5 111.4 298.8 111.8 299.1 112.2 299.3 112.6 299.6 113 299.9 113.3 300.2 113.7 300.5 114.1 300.8 114.5 301 114.9 301.3 115.3 301.6 115.7 301.9 116 302.2 116.4 302.4 116.8 302.7 117.2 303 117.6 303.2 118 303.5 118.4 303.8 118.8 304 119.1 304.3 119.5 304.6 119.9 304.8 120.3 305.1 120.7 305.3 121.1 305.6 121.5 305.8 121.8 304.2 122.2 301.5 122.6 298.5 123 295.5 123.4 292.4 123.8 289.5 124.2 286.7 124.5 284 124.9 281.4 125.3 279 125.7 276.8 126.1 274.8 126.5 272.9 126.9 271.2 127.2 269.7 127.6 268.3 128 267.1 128.4 266.1 128.8 265.1 129.2 264.4 129.6 263.7 129.9 263.2 130.3 262.8 130.7 262.5 131.1 262.3 131.5 262.1 131.9 262.1 132.3 262.2 132.6 262.4 133 262.6 133.4 262.8 133.8 263 134.2 263.3 134.6 263.6 135 264 135.3 264.3 135.7 264.7 136.1 265.1 136.5 265.5 136.9 265.9 137.3 266.4 137.7 266.8 138 267.3 138.4 267.8 138.8 268.3 139.2 268.8 139.6 269.3 140 269.8 140.4 270.3 140.8 270.8 141.1 271.4 141.5 271.9 141.9 272.5 142.3 273 142.7 273.5 143.1 274.1 143.5 274.6 143.8 275.2 144.2 275.7 144.6 276.3 145 276.8 145.4 277.4 145.8 277.9 146.2 278.5 146.5 279 146.9 279.6 147.3 280.1 147.7 280.7 148.1 281.2 148.5 281.7 148.9 282.3 149.2 282.8 149.6 283.3 150 283.9 150.4 284.4 150.8 284.9 151.2 285.4 151.6 285.9 151.9 286.4 152.3 286.9 152.7 287.4 153.1 287.9 153.5 288.4 153.9 288.8 154.3 289.3 154.6 289.8 155 290.2 155.4 290.7 155.8 291.2 156.2 291.6 156.6 292 157 292.5 157.3 292.9 157.7 293.3 158.1 293.8 158.5 294.2 158.9 294.6 159.3 292.8 159.7 288.3 160 283.3 160.4 278 160.8 272.6 161.2 267.3 161.6 262.1 162 257.1 162.4 252.3 162.8 247.8 163.1 243.4 163.5 239.4 163.9 235.6 164.3 232 164.7 228.7 165.1 225.6 165.5 222.8 165.8 220.3 166.2 218 166.6 215.9 167 214 167.4 212.4 167.8 210.9 168.2 209.7 168.5 208.7 168.9 207.8 169.3 207.1 169.7 206.6 170.1 206.2 170.5 206 170.9 205.9 171.2 205.9 171.6 206.1 172 206.3 172.4 206.7 172.8 207 173.2 207.5 173.6 207.9 173.9 208.5 174.3 209 174.7 209.6 175.1 210.2 175.5 210.9 175.9 211.6 176.3 212.3 176.6 213 177 213.8 177.4 214.6 177.8 215.4 178.2 216.2 178.6 217.1 179 218 179.3 218.8 179.7 219.7 180.1 220.6 180.5 221.6 180.9 222.5 181.3 223.4 181.7 224.4 182 225.3 182.4 226.3 182.8 227.3 183.2 228.2 183.6 229.2 184 230.2 184.4 231.1 184.7 232.1 185.1 233.1 185.5 234.1 185.9 235.1 186.3 236 186.7 237 187.1 238 187.5 239 187.8 239.9 188.2 240.9 188.6 241.9 189 242.8 189.4 243.8 189.8 244.7 190.2 245.7 190.5 246.6 190.9 247.6 191.3 248.5 191.7 249.4 192.1 250.3 192.5 251.3 192.9 252.2 193.2 253.1 193.6 254 194 254.8 194.4 255.7 194.8 256.6 195.2 257.5 195.6 258.3 195.9 259.2 196.3 260 196.7 260.8 197.1 261.7" stroke="#e69f00" stroke-width="0.7" fill="none" stroke-linejoin="round" stroke-opacity="0.55"/>
<path d="M81.7 319.7 82.1 319.7 82.5 319.7 82.9 319.7 83.2 319.7 83.6 319.7 84 319.7 84.4 319.7 84.8 319.7 85.2 319.7 85.6 319.7 85.9 319.7 86.3 319.7 86.7 319.7 87.1 319.7 87.5 319.7 87.9 319 88.3 318.1 88.6 317.2 89 316.2 89.4 315.3 89.8 314.5 90.2 313.6 90.6 312.9 91 312.2 91.3 311.5 91.7 311 92.1 310.4 92.5 310 92.9 309.5 93.3 309.2 93.7 308.9 94.1 308.6 94.4 308.4 94.8 308.2 95.2 308.1 95.6 308 96 307.9 96.4 307.9 96.8 307.8 97.1 307.9 97.5 307.9 97.9 307.9 98.3 307.9 98.7 308 99.1 308 99.5 308.1 99.8 308.2 100.2 308.3 100.6 308.3 101 308.4 101.4 308.5 101.8 308.6 102.2 308.7 102.5 308.8 102.9 308.9 103.3 309 103.7 309.1 104.1 309.3 104.5 309.4 104.9 309.5 105.2 309.6 105.6 309.7 106 309.9 106.4 310 106.8 310.1 107.2 310.2 107.6 310.4 107.9 310.5 108.3 310.6 108.7 310.7 109.1 310.9 109.5 311 109.9 311.1 110.3 311.2 110.6 311.4 111 311.5 111.4 311.6 111.8 311.7 112.2 311.9 112.6 312 113 312.1 113.3 312.2 113.7 312.4 114.1 312.5 114.5 312.6 114.9 312.7 115.3 312.8 115.7 312.9 116 313.1 116.4 313.2 116.8 313.3 117.2 313.4 117.6 313.5 118 313.6 118.4 313.7 118.8 313.8 119.1 313.9 119.5 314 119.9 314.1 120.3 314.2 120.7 314.3 121.1 314.4 121.5 314.5 121.8 313.6 122.2 312.2 122.6 310.5 123 308.9 123.4 307.2 123.8 305.6 124.2 304 124.5 302.6 124.9 301.2 125.3 299.9 125.7 298.7 126.1 297.5 126.5 296.5 126.9 295.6 127.2 294.7 127.6 294 128 293.3 128.4 292.7 128.8 292.2 129.2 291.7 129.6 291.3 129.9 291 130.3 290.8 130.7 290.6 131.1 290.4 131.5 290.4 131.9 290.3 132.3 290.3 132.6 290.4 133 290.5 133.4 290.6 133.8 290.8 134.2 290.9 134.6 291.1 135 291.4 135.3 291.6 135.7 291.9 136.1 292.1 136.5 292.4 136.9 292.7 137.3 293.1 137.7 293.4 138 293.7 138.4 294.1 138.8 294.4 139.2 294.8 139.6 295.2 140 295.6 140.4 295.9 140.8 296.3 141.1 296.7 141.5 297.1 141.9 297.5 142.3 297.9 142.7 298.3 143.1 298.7 143.5 299.1 143.8 299.5 144.2 299.8 144.6 300.2 145 300.6 145.4 301 145.8 301.4 146.2 301.8 146.5 302.1 146.9 302.5 147.3 302.9 147.7 303.2 148.1 303.6 148.5 303.9 148.9 304.3 149.2 304.6 149.6 305 150 305.3 150.4 305.6 150.8 306 151.2 306.3 151.6 306.6 151.9 306.9 152.3 307.2 152.7 307.5 153.1 307.8 153.5 308.1 153.9 308.4 154.3 308.6 154.6 308.9 155 309.2 155.4 309.4 155.8 309.7 156.2 309.9 156.6 310.2 157 310.4 157.3 310.7 157.7 310.9 158.1 311.1 158.5 311.3 158.9 311.5 159.3 310.5 159.7 308 160 305.2 160.4 302.3 160.8 299.5 161.2 296.7 161.6 294 162 291.5 162.4 289.2 162.8 287 163.1 284.9 163.5 283.1 163.9 281.4 164.3 279.9 164.7 278.5 165.1 277.3 165.5 276.2 165.8 275.3 166.2 274.5 166.6 273.8 167 273.3 167.4 272.9 167.8 272.6 168.2 272.3 168.5 272.2 168.9 272.2 169.3 272.3 169.7 272.4 170.1 272.5 170.5 272.7 170.9 273 171.2 273.2 171.6 273.5 172 273.9 172.4 274.2 172.8 274.6 173.2 275 173.6 275.4 173.9 275.8 174.3 276.3 174.7 276.7 175.1 277.2 175.5 277.7 175.9 278.2 176.3 278.7 176.6 279.2 177 279.7 177.4 280.2 177.8 280.8 178.2 281.3 178.6 281.9 179 282.4 179.3 282.9 179.7 283.5 180.1 284 180.5 284.6 180.9 285.1 181.3 285.7 181.7 286.2 182 286.8 182.4 287.3 182.8 287.8 183.2 288.4 183.6 288.9 184 289.4 184.4 289.9 184.7 290.5 185.1 291 185.5 291.5 185.9 292 186.3 292.5 186.7 293 187.1 293.5 187.5 294 187.8 294.4 188.2 294.9 188.6 295.4 189 295.8 189.4 296.3 189.8 296.7 190.2 297.2 190.5 297.6 190.9 298 191.3 298.5 191.7 298.9 192.1 299.3 192.5 299.7 192.9 300.1 193.2 300.5 193.6 300.9 194 301.3 194.4 301.6 194.8 302 195.2 302.4 195.6 302.7 195.9 303.1 196.3 303.4 196.7 303.8 197.1 304.1" stroke="#009e73" stroke-width="1.0" fill="none" stroke-linejoin="round" stroke-opacity="0.8"/>
<path d="M81.7 319.7 82.1 319.7 82.5 319.7 82.9 319.7 83.2 319.7 83.6 319.7 84 319.7 84.4 319.7 84.8 319.7 85.2 319.7 85.6 319.7 85.9 319.7 86.3 319.7 86.7 319.7 87.1 319.7 87.5 319.7 87.9 319 88.3 318 88.6 317 89 316 89.4 315 89.8 314 90.2 313 90.6 312.1 91 311.2 91.3 310.4 91.7 309.6 92.1 308.9 92.5 308.2 92.9 307.6 93.3 307 93.7 306.5 94.1 306 94.4 305.6 94.8 305.2 95.2 304.9 95.6 304.6 96 304.3 96.4 304.1 96.8 303.9 97.1 303.8 97.5 303.7 97.9 303.6 98.3 303.5 98.7 303.5 99.1 303.5 99.5 303.5 99.8 303.5 100.2 303.5 100.6 303.6 101 303.6 101.4 303.7 101.8 303.8 102.2 303.8 102.5 303.9 102.9 304 103.3 304.1 103.7 304.2 104.1 304.3 104.5 304.4 104.9 304.6 105.2 304.7 105.6 304.8 106 304.9 106.4 305.1 106.8 305.2 107.2 305.4 107.6 305.5 107.9 305.6 108.3 305.8 108.7 305.9 109.1 306.1 109.5 306.2 109.9 306.4 110.3 306.6 110.6 306.7 111 306.9 111.4 307 111.8 307.2 112.2 307.3 112.6 307.5 113 307.6 113.3 307.8 113.7 308 114.1 308.1 114.5 308.3 114.9 308.4 115.3 308.6 115.7 308.7 116 308.9 116.4 309.1 116.8 309.2 117.2 309.4 117.6 309.5 118 309.7 118.4 309.8 118.8 310 119.1 310.1 119.5 310.2 119.9 310.4 120.3 310.5 120.7 310.7 121.1 310.8 121.5 311 121.8 310.3 122.2 309.3 122.6 308.1 123 306.8 123.4 305.6 123.8 304.3 124.2 303.1 124.5 302 124.9 300.9 125.3 299.9 125.7 298.9 126.1 298 126.5 297.1 126.9 296.4 127.2 295.7 127.6 295 128 294.4 128.4 293.9 128.8 293.4 129.2 293 129.6 292.7 129.9 292.4 130.3 292.1 130.7 291.9 131.1 291.7 131.5 291.6 131.9 291.5 132.3 291.5 132.6 291.5 133 291.5 133.4 291.6 133.8 291.7 134.2 291.8 134.6 291.9 135 292 135.3 292.1 135.7 292.2 136.1 292.4 136.5 292.5 136.9 292.7 137.3 292.8 137.7 293 138 293.1 138.4 293.3 138.8 293.5 139.2 293.6 139.6 293.8 140 294 140.4 294.2 140.8 294.3 141.1 294.5 141.5 294.7 141.9 294.9 142.3 295.1 142.7 295.3 143.1 295.5 143.5 295.7 143.8 295.9 144.2 296.1 144.6 296.3 145 296.5 145.4 296.7 145.8 296.9 146.2 297.1 146.5 297.3 146.9 297.5 147.3 297.6 147.7 297.8 148.1 298 148.5 298.2 148.9 298.4 149.2 298.6 149.6 298.8 150 299 150.4 299.2 150.8 299.4 151.2 299.6 151.6 299.8 151.9 300 152.3 300.2 152.7 300.4 153.1 300.6 153.5 300.8 153.9 301 154.3 301.1 154.6 301.3 155 301.5 155.4 301.7 155.8 301.9 156.2 302.1 156.6 302.3 157 302.4 157.3 302.6 157.7 302.8 158.1 303 158.5 303.1 158.9 303.3 159.3 302.3 159.7 300 160 297.3 160.4 294.4 160.8 291.6 161.2 288.7 161.6 285.8 162 283.1 162.4 280.4 162.8 277.9 163.1 275.4 163.5 273.1 163.9 270.9 164.3 268.8 164.7 266.9 165.1 265.1 165.5 263.4 165.8 261.8 166.2 260.3 166.6 259 167 257.8 167.4 256.7 167.8 255.7 168.2 254.8 168.5 254 168.9 253.4 169.3 252.8 169.7 252.3 170.1 251.8 170.5 251.5 170.9 251.3 171.2 251.1 171.6 251 172 250.9 172.4 250.9 172.8 251 173.2 251.2 173.6 251.3 173.9 251.5 174.3 251.7 174.7 251.9 175.1 252.1 175.5 252.4 175.9 252.7 176.3 252.9 176.6 253.2 177 253.5 177.4 253.9 177.8 254.2 178.2 254.5 178.6 254.9 179 255.2 179.3 255.6 179.7 256 180.1 256.4 180.5 256.8 180.9 257.2 181.3 257.6 181.7 258 182 258.4 182.4 258.8 182.8 259.3 183.2 259.7 183.6 260.1 184 260.6 184.4 261 184.7 261.5 185.1 261.9 185.5 262.4 185.9 262.8 186.3 263.3 186.7 263.7 187.1 264.2 187.5 264.6 187.8 265.1 188.2 265.6 188.6 266 189 266.5 189.4 266.9 189.8 267.4 190.2 267.9 190.5 268.3 190.9 268.8 191.3 269.3 191.7 269.7 192.1 270.2 192.5 270.6 192.9 271.1 193.2 271.6 193.6 272 194 272.5 194.4 272.9 194.8 273.4 195.2 273.8 195.6 274.3 195.9 274.7 196.3 275.1 196.7 275.6 197.1 276" stroke="#56b4e9" stroke-width="0.85" fill="none" stroke-linejoin="round" stroke-opacity="0.85"/>
<path d="M81.7 319.7 82.1 319.7 82.5 319.7 82.9 319.7 83.2 319.7 83.6 319.7 84 319.7 84.4 319.7 84.8 319.7 85.2 319.7 85.6 319.7 85.9 319.7 86.3 319.7 86.7 319.7 87.1 319.7 87.5 319.7 87.9 319.1 88.3 318.2 88.6 317.3 89 316.4 89.4 315.5 89.8 314.6 90.2 313.8 90.6 313 91 312.2 91.3 311.5 91.7 310.8 92.1 310.1 92.5 309.5 92.9 309 93.3 308.5 93.7 308 94.1 307.6 94.4 307.2 94.8 306.9 95.2 306.6 95.6 306.3 96 306.1 96.4 305.9 96.8 305.8 97.1 305.6 97.5 305.5 97.9 305.4 98.3 305.4 98.7 305.4 99.1 305.3 99.5 305.4 99.8 305.4 100.2 305.4 100.6 305.4 101 305.5 101.4 305.5 101.8 305.6 102.2 305.7 102.5 305.8 102.9 305.8 103.3 305.9 103.7 306 104.1 306.1 104.5 306.2 104.9 306.3 105.2 306.5 105.6 306.6 106 306.7 106.4 306.8 106.8 306.9 107.2 307.1 107.6 307.2 107.9 307.3 108.3 307.5 108.7 307.6 109.1 307.7 109.5 307.9 109.9 308 110.3 308.2 110.6 308.3 111 308.4 111.4 308.6 111.8 308.7 112.2 308.9 112.6 309 113 309.2 113.3 309.3 113.7 309.4 114.1 309.6 114.5 309.7 114.9 309.9 115.3 310 115.7 310.1 116 310.3 116.4 310.4 116.8 310.6 117.2 310.7 117.6 310.8 118 311 118.4 311.1 118.8 311.2 119.1 311.4 119.5 311.5 119.9 311.6 120.3 311.8 120.7 311.9 121.1 312 121.5 312.1 121.8 311.6 122.2 310.6 122.6 309.5 123 308.4 123.4 307.3 123.8 306.2 124.2 305.1 124.5 304.1 124.9 303.1 125.3 302.2 125.7 301.3 126.1 300.5 126.5 299.7 126.9 299 127.2 298.4 127.6 297.8 128 297.3 128.4 296.8 128.8 296.4 129.2 296 129.6 295.7 129.9 295.4 130.3 295.2 130.7 295 131.1 294.9 131.5 294.7 131.9 294.7 132.3 294.6 132.6 294.6 133 294.6 133.4 294.7 133.8 294.8 134.2 294.9 134.6 295 135 295.1 135.3 295.2 135.7 295.3 136.1 295.4 136.5 295.5 136.9 295.7 137.3 295.8 137.7 295.9 138 296.1 138.4 296.2 138.8 296.4 139.2 296.5 139.6 296.7 140 296.8 140.4 297 140.8 297.2 141.1 297.3 141.5 297.5 141.9 297.7 142.3 297.8 142.7 298 143.1 298.2 143.5 298.3 143.8 298.5 144.2 298.7 144.6 298.9 145 299 145.4 299.2 145.8 299.4 146.2 299.6 146.5 299.7 146.9 299.9 147.3 300.1 147.7 300.3 148.1 300.4 148.5 300.6 148.9 300.8 149.2 301 149.6 301.2 150 301.3 150.4 301.5 150.8 301.7 151.2 301.8 151.6 302 151.9 302.2 152.3 302.4 152.7 302.5 153.1 302.7 153.5 302.9 153.9 303 154.3 303.2 154.6 303.4 155 303.5 155.4 303.7 155.8 303.9 156.2 304 156.6 304.2 157 304.4 157.3 304.5 157.7 304.7 158.1 304.8 158.5 305 158.9 305.1 159.3 304.3 159.7 302.2 160 299.9 160.4 297.4 160.8 294.9 161.2 292.4 161.6 290 162 287.6 162.4 285.3 162.8 283 163.1 280.9 163.5 278.9 163.9 277 164.3 275.2 164.7 273.5 165.1 271.9 165.5 270.4 165.8 269.1 166.2 267.8 166.6 266.7 167 265.6 167.4 264.7 167.8 263.8 168.2 263 168.5 262.4 168.9 261.8 169.3 261.3 169.7 260.8 170.1 260.5 170.5 260.2 170.9 260 171.2 259.8 171.6 259.7 172 259.7 172.4 259.7 172.8 259.8 173.2 259.9 173.6 260 173.9 260.2 174.3 260.4 174.7 260.5 175.1 260.8 175.5 261 175.9 261.2 176.3 261.4 176.6 261.7 177 262 177.4 262.3 177.8 262.5 178.2 262.8 178.6 263.2 179 263.5 179.3 263.8 179.7 264.1 180.1 264.5 180.5 264.8 180.9 265.2 181.3 265.5 181.7 265.9 182 266.2 182.4 266.6 182.8 267 183.2 267.4 183.6 267.7 184 268.1 184.4 268.5 184.7 268.9 185.1 269.3 185.5 269.7 185.9 270.1 186.3 270.5 186.7 270.9 187.1 271.3 187.5 271.7 187.8 272.1 188.2 272.5 188.6 272.9 189 273.3 189.4 273.7 189.8 274.1 190.2 274.5 190.5 274.9 190.9 275.3 191.3 275.7 191.7 276.1 192.1 276.5 192.5 276.9 192.9 277.3 193.2 277.7 193.6 278.1 194 278.5 194.4 278.9 194.8 279.3 195.2 279.7 195.6 280.1 195.9 280.5 196.3 280.9 196.7 281.3 197.1 281.6" stroke="#9400d3" stroke-width="0.8" fill="none" stroke-linejoin="round" stroke-opacity="0.55"/>
<path d="M81.7 319.7 82.1 319.7 82.5 319.7 82.9 319.7 83.2 319.7 83.6 319.7 84 319.7 84.4 319.7 84.8 319.7 85.2 319.7 85.6 319.7 85.9 319.7 86.3 319.7 86.7 319.7 87.1 319.7 87.5 319.7 87.9 319.7 88.3 319.6 88.6 319.5 89 319.5 89.4 319.4 89.8 319.4 90.2 319.3 90.6 319.3 91 319.2 91.3 319.2 91.7 319.1 92.1 319.1 92.5 319 92.9 319 93.3 319 93.7 318.9 94.1 318.9 94.4 318.9 94.8 318.9 95.2 318.8 95.6 318.8 96 318.8 96.4 318.8 96.8 318.8 97.1 318.8 97.5 318.8 97.9 318.8 98.3 318.8 98.7 318.8 99.1 318.8 99.5 318.8 99.8 318.8 100.2 318.8 100.6 318.8 101 318.8 101.4 318.8 101.8 318.8 102.2 318.8 102.5 318.8 102.9 318.8 103.3 318.8 103.7 318.8 104.1 318.8 104.5 318.8 104.9 318.8 105.2 318.8 105.6 318.9 106 318.9 106.4 318.9 106.8 318.9 107.2 318.9 107.6 318.9 107.9 318.9 108.3 318.9 108.7 318.9 109.1 318.9 109.5 318.9 109.9 319 110.3 319 110.6 319 111 319 111.4 319 111.8 319 112.2 319 112.6 319 113 319 113.3 319 113.7 319.1 114.1 319.1 114.5 319.1 114.9 319.1 115.3 319.1 115.7 319.1 116 319.1 116.4 319.1 116.8 319.1 117.2 319.1 117.6 319.1 118 319.2 118.4 319.2 118.8 319.2 119.1 319.2 119.5 319.2 119.9 319.2 120.3 319.2 120.7 319.2 121.1 319.2 121.5 319.2 121.8 319.2 122.2 319 122.6 318.8 123 318.7 123.4 318.5 123.8 318.4 124.2 318.2 124.5 318 124.9 317.9 125.3 317.8 125.7 317.6 126.1 317.5 126.5 317.4 126.9 317.3 127.2 317.2 127.6 317.1 128 317 128.4 317 128.8 316.9 129.2 316.8 129.6 316.8 129.9 316.7 130.3 316.7 130.7 316.7 131.1 316.6 131.5 316.6 131.9 316.6 132.3 316.6 132.6 316.6 133 316.6 133.4 316.6 133.8 316.6 134.2 316.6 134.6 316.6 135 316.6 135.3 316.6 135.7 316.6 136.1 316.6 136.5 316.6 136.9 316.6 137.3 316.7 137.7 316.7 138 316.7 138.4 316.7 138.8 316.7 139.2 316.7 139.6 316.7 140 316.8 140.4 316.8 140.8 316.8 141.1 316.8 141.5 316.8 141.9 316.8 142.3 316.8 142.7 316.9 143.1 316.9 143.5 316.9 143.8 316.9 144.2 316.9 144.6 316.9 145 317 145.4 317 145.8 317 146.2 317 146.5 317 146.9 317 147.3 317.1 147.7 317.1 148.1 317.1 148.5 317.1 148.9 317.1 149.2 317.1 149.6 317.2 150 317.2 150.4 317.2 150.8 317.2 151.2 317.2 151.6 317.2 151.9 317.3 152.3 317.3 152.7 317.3 153.1 317.3 153.5 317.3 153.9 317.3 154.3 317.4 154.6 317.4 155 317.4 155.4 317.4 155.8 317.4 156.2 317.4 156.6 317.5 157 317.5 157.3 317.5 157.7 317.5 158.1 317.5 158.5 317.5 158.9 317.6 159.3 317.4 159.7 317.2 160 316.9 160.4 316.5 160.8 316.2 161.2 315.9 161.6 315.5 162 315.2 162.4 314.9 162.8 314.6 163.1 314.3 163.5 314 163.9 313.8 164.3 313.5 164.7 313.3 165.1 313 165.5 312.8 165.8 312.6 166.2 312.4 166.6 312.2 167 312.1 167.4 311.9 167.8 311.8 168.2 311.7 168.5 311.6 168.9 311.5 169.3 311.4 169.7 311.3 170.1 311.2 170.5 311.1 170.9 311.1 171.2 311 171.6 311 172 311 172.4 311 172.8 311 173.2 311 173.6 311 173.9 311 174.3 311 174.7 311 175.1 311 175.5 311 175.9 311.1 176.3 311.1 176.6 311.1 177 311.2 177.4 311.2 177.8 311.3 178.2 311.3 178.6 311.4 179 311.4 179.3 311.5 179.7 311.5 180.1 311.6 180.5 311.6 180.9 311.7 181.3 311.8 181.7 311.8 182 311.9 182.4 312 182.8 312 183.2 312.1 183.6 312.2 184 312.2 184.4 312.3 184.7 312.4 185.1 312.5 185.5 312.5 185.9 312.6 186.3 312.7 186.7 312.7 187.1 312.8 187.5 312.9 187.8 313 188.2 313 188.6 313.1 189 313.2 189.4 313.3 189.8 313.3 190.2 313.4 190.5 313.5 190.9 313.6 191.3 313.6 191.7 313.7 192.1 313.8 192.5 313.9 192.9 313.9 193.2 314 193.6 314.1 194 314.2 194.4 314.2 194.8 314.3 195.2 314.4 195.6 314.4 195.9 314.5 196.3 314.6 196.7 314.6 197.1 314.7" stroke="#e51e10" stroke-width="0.6" fill="none" stroke-linejoin="round" stroke-opacity="0.5"/>
<rect x="81.4" y="352.9" width="114.8" height="124.8" fill="none" stroke="#c8c8c8" stroke-width="0.7"/>
<path d="M82.4 477.7v-1.8M82.4 352.9v1.8M93.88 477.7v-1.8M93.88 352.9v1.8M105.36 477.7v-1.8M105.36 352.9v1.8M116.84 477.7v-1.8M116.84 352.9v1.8M128.32 477.7v-1.8M128.32 352.9v1.8M139.8 477.7v-1.8M139.8 352.9v1.8M151.28 477.7v-1.8M151.28 352.9v1.8M162.76 477.7v-1.8M162.76 352.9v1.8M174.24 477.7v-1.8M174.24 352.9v1.8M185.72 477.7v-1.8M185.72 352.9v1.8M197.2 477.7v-1.8M197.2 352.9v1.8M81.4 477.7h1.8M81.4 462.1h1.8M81.4 446.5h1.8M81.4 430.9h1.8M81.4 415.3h1.8M81.4 399.7h1.8M81.4 384.1h1.8M81.4 368.5h1.8M81.4 352.9h1.8M196.2 477.7h-1.8M196.2 463.83h-1.8M196.2 449.97h-1.8M196.2 436.1h-1.8M196.2 422.23h-1.8M196.2 408.37h-1.8M196.2 394.5h-1.8M196.2 380.63h-1.8M196.2 366.77h-1.8M196.2 352.9h-1.8" stroke="#c8c8c8" stroke-width="0.6" fill="none"/>
<text x="78.4" y="479.7" font-size="5.7" text-anchor="end">0</text>
<text x="78.4" y="464.1" font-size="5.7" text-anchor="end">100000</text>
<text x="78.4" y="448.5" font-size="5.7" text-anchor="end">200000</text>
<text x="78.4" y="432.9" font-size="5.7" text-anchor="end">300000</text>
<text x="78.4" y="417.3" font-size="5.7" text-anchor="end">400000</text>
<text x="78.4" y="401.7" font-size="5.7" text-anchor="end">500000</text>
<text x="78.4" y="386.1" font-size="5.7" text-anchor="end">600000</text>
<text x="78.4" y="370.5" font-size="5.7" text-anchor="end">700000</text>
<text x="78.4" y="354.9" font-size="5.7" text-anchor="end">800000</text>
<text x="201.2" y="479.7" font-size="5.7">0</text>
<text x="201.2" y="465.83" font-size="5.7">20000</text>
<text x="201.2" y="451.97" font-size="5.7">40000</text>
<text x="201.2" y="438.1" font-size="5.7">60000</text>
<text x="201.2" y="424.23" font-size="5.7">80000</text>
<text x="201.2" y="410.37" font-size="5.7">100000</text>
<text x="201.2" y="396.5" font-size="5.7">120000</text>
<text x="201.2" y="382.63" font-size="5.7">140000</text>
<text x="201.2" y="368.77" font-size="5.7">160000</text>
<text x="201.2" y="354.9" font-size="5.7">180000</text>
<text x="82.4" y="485.9" font-size="5.7" text-anchor="middle">0</text>
<text x="93.88" y="485.9" font-size="5.7" text-anchor="middle">10</text>
<text x="105.36" y="485.9" font-size="5.7" text-anchor="middle">20</text>
<text x="116.84" y="485.9" font-size="5.7" text-anchor="middle">30</text>
<text x="128.32" y="485.9" font-size="5.7" text-anchor="middle">40</text>
<text x="139.8" y="485.9" font-size="5.7" text-anchor="middle">50</text>
<text x="151.28" y="485.9" font-size="5.7" text-anchor="middle">60</text>
<text x="162.76" y="485.9" font-size="5.7" text-anchor="middle">70</text>
<text x="174.24" y="485.9" font-size="5.7" text-anchor="middle">80</text>
<text x="185.72" y="485.9" font-size="5.7" text-anchor="middle">90</text>
<text x="197.2" y="485.9" font-size="5.7" text-anchor="middle">100</text>
<text x="138.8" y="494.7" font-size="5.7" text-anchor="middle">days</text>
<text transform="translate(52.2,415.3) rotate(-90)" font-size="5.5" text-anchor="middle">antigen count per mL</text>
<text transform="translate(230.3,415.3) rotate(-90)" font-size="5.5" text-anchor="middle">Ab titers (IgM, IgG1, IgG2)</text>
<text transform="translate(236.2,415.3) rotate(-90)" font-size="5.5" text-anchor="middle">arbitrary scale</text>
<text x="171.9" y="360.36" font-size="5.45" text-anchor="end">Ag</text>
<path d="M174.9 358.4H190.5" stroke="#3a3a3a" stroke-width="1.0" stroke-opacity="1.0"/>
<text x="171.9" y="366.26" font-size="5.45" text-anchor="end">IgM+IgG</text>
<path d="M174.9 364.3H190.5" stroke="#f2c46a" stroke-width="0.7" stroke-opacity="1.0"/>
<text x="171.9" y="372.16" font-size="5.45" text-anchor="end">IgM</text>
<path d="M174.9 370.2H190.5" stroke="#3fb08f" stroke-width="1.0" stroke-opacity="1.0"/>
<text x="171.9" y="378.06" font-size="5.45" text-anchor="end">IgG1+IgG2</text>
<path d="M174.9 376.1H190.5" stroke="#8fcdf0" stroke-width="0.8" stroke-opacity="1.0"/>
<text x="171.9" y="383.96" font-size="5.45" text-anchor="end">IgG1</text>
<path d="M174.9 382H190.5" stroke="#b860e0" stroke-width="0.8" stroke-opacity="1.0"/>
<text x="171.9" y="389.86" font-size="5.45" text-anchor="end">IgG2</text>
<path d="M174.9 387.9H190.5" stroke="#f08a80" stroke-width="0.6" stroke-opacity="1.0"/>
<path d="M81.4 477.5H196.2" stroke="#808080" stroke-width="1.3" stroke-opacity="0.9"/>
<path d="M82.4 477.7 82.5 368.5 83.2 368.5 83.9 376.1 84.9 399.1 85.6 434 86.4 461.3 87.1 474.4 87.7 477.7" stroke="#3a3a3a" stroke-width="1.0" fill="none" stroke-linejoin="round" stroke-opacity="1.0"/>
<path d="M119.3 477.7 119.4 399.7 119.8 400.5 120.3 446.5 120.7 477.7" stroke="#3a3a3a" stroke-width="1.0" fill="none" stroke-linejoin="round" stroke-opacity="1.0"/>
<path d="M157.6 477.7 157.7 399.7 158.1 400.5 158.6 454.3 159.3 477.7" stroke="#3a3a3a" stroke-width="1.0" fill="none" stroke-linejoin="round" stroke-opacity="1.0"/>
<path d="M82.4 477.7 82.8 477.7 83.2 477.7 83.6 477.7 83.9 477.7 84.3 477.7 84.7 477.7 85.1 477.7 85.5 477.7 85.9 477.7 86.2 477.7 86.6 477.7 87 477.7 87.4 477.7 87.8 477.7 88.2 477.7 88.5 477 88.9 476.1 89.3 475.2 89.7 474.3 90.1 473.3 90.5 472.5 90.8 471.7 91.2 470.9 91.6 470.2 92 469.6 92.4 469 92.8 468.5 93.2 468 93.5 467.6 93.9 467.2 94.3 466.9 94.7 466.7 95.1 466.5 95.5 466.3 95.8 466.1 96.2 466 96.6 466 97 465.9 97.4 465.9 97.8 465.9 98.1 465.9 98.5 466 98.9 466 99.3 466 99.7 466.1 100.1 466.1 100.4 466.2 100.8 466.3 101.2 466.3 101.6 466.4 102 466.5 102.4 466.6 102.7 466.6 103.1 466.7 103.5 466.8 103.9 466.9 104.3 467 104.7 467.1 105.1 467.2 105.4 467.3 105.8 467.4 106.2 467.5 106.6 467.6 107 467.8 107.4 467.9 107.7 468 108.1 468.1 108.5 468.2 108.9 468.3 109.3 468.4 109.7 468.5 110 468.6 110.4 468.8 110.8 468.9 111.2 469 111.6 469.1 112 469.2 112.3 469.3 112.7 469.4 113.1 469.5 113.5 469.6 113.9 469.8 114.3 469.9 114.7 470 115 470.1 115.4 470.2 115.8 470.3 116.2 470.4 116.6 470.5 117 470.6 117.3 470.7 117.7 470.8 118.1 470.9 118.5 471 118.9 471.1 119.3 471.2 119.6 471.3 120 471.4 120.4 471.5 120.8 471.6 121.2 471.7 121.6 471.8 121.9 471.9 122.3 469.7 122.7 466 123.1 462.1 123.5 458.1 123.9 454.2 124.3 450.5 124.6 446.9 125 443.6 125.4 440.5 125.8 437.6 126.2 434.9 126.6 432.5 126.9 430.3 127.3 428.4 127.7 426.7 128.1 425.2 128.5 423.9 128.9 422.7 129.2 421.8 129.6 421 130 420.4 130.4 420 130.8 419.7 131.2 419.5 131.5 419.4 131.9 419.5 132.3 419.6 132.7 419.8 133.1 420 133.5 420.2 133.8 420.5 134.2 420.8 134.6 421.2 135 421.6 135.4 422 135.8 422.4 136.2 422.9 136.5 423.3 136.9 423.8 137.3 424.4 137.7 424.9 138.1 425.4 138.5 426 138.8 426.6 139.2 427.1 139.6 427.7 140 428.3 140.4 428.9 140.8 429.5 141.1 430.1 141.5 430.8 141.9 431.4 142.3 432 142.7 432.6 143.1 433.3 143.4 433.9 143.8 434.5 144.2 435.1 144.6 435.8 145 436.4 145.4 437 145.8 437.6 146.1 438.2 146.5 438.8 146.9 439.4 147.3 440 147.7 440.6 148.1 441.2 148.4 441.8 148.8 442.4 149.2 443 149.6 443.6 150 444.1 150.4 444.7 150.7 445.3 151.1 445.8 151.5 446.4 151.9 446.9 152.3 447.4 152.7 448 153 448.5 153.4 449 153.8 449.5 154.2 450 154.6 450.5 155 451 155.3 451.5 155.7 452 156.1 452.4 156.5 452.9 156.9 453.3 157.3 453.8 157.7 454.2 158 454.7 158.4 455.1 158.8 455.5 159.2 455.9 159.6 453.7 160 448.4 160.3 442.5 160.7 436.3 161.1 430.1 161.5 424 161.9 418.1 162.3 412.5 162.6 407.1 163 402.1 163.4 397.3 163.8 392.9 164.2 388.9 164.6 385.1 164.9 381.7 165.3 378.5 165.7 375.7 166.1 373.2 166.5 371 166.9 369 167.3 367.3 167.6 365.8 168 364.6 168.4 363.7 168.8 362.9 169.2 362.3 169.6 361.9 169.9 361.7 170.3 361.7 170.7 361.9 171.1 362.1 171.5 362.5 171.9 362.9 172.2 363.3 172.6 363.8 173 364.4 173.4 365 173.8 365.7 174.2 366.4 174.5 367.1 174.9 367.9 175.3 368.7 175.7 369.6 176.1 370.5 176.5 371.4 176.9 372.3 177.2 373.2 177.6 374.2 178 375.2 178.4 376.2 178.8 377.2 179.2 378.2 179.5 379.3 179.9 380.3 180.3 381.4 180.7 382.4 181.1 383.5 181.5 384.6 181.8 385.7 182.2 386.7 182.6 387.8 183 388.9 183.4 390 183.8 391.1 184.1 392.2 184.5 393.3 184.9 394.4 185.3 395.5 185.7 396.5 186.1 397.6 186.4 398.7 186.8 399.8 187.2 400.8 187.6 401.9 188 402.9 188.4 404 188.8 405 189.1 406.1 189.5 407.1 189.9 408.1 190.3 409.1 190.7 410.1 191.1 411.1 191.4 412.1 191.8 413.1 192.2 414 192.6 415 193 415.9 193.4 416.9 193.7 417.8 194.1 418.7 194.5 419.6 194.9 420.5 195.3 421.4 195.7 422.3 196 423.2 196.4 424 196.8 424.9 197.2 425.7" stroke="#e69f00" stroke-width="0.7" fill="none" stroke-linejoin="round" stroke-opacity="0.55"/>
<path d="M82.4 477.7 82.8 477.7 83.2 477.7 83.6 477.7 83.9 477.7 84.3 477.7 84.7 477.7 85.1 477.7 85.5 477.7 85.9 477.7 86.2 477.7 86.6 477.7 87 477.7 87.4 477.7 87.8 477.7 88.2 477.7 88.5 477.1 88.9 476.4 89.3 475.6 89.7 474.9 90.1 474.2 90.5 473.5 90.8 472.9 91.2 472.4 91.6 471.8 92 471.4 92.4 471 92.8 470.7 93.2 470.4 93.5 470.1 93.9 469.9 94.3 469.7 94.7 469.6 95.1 469.5 95.5 469.4 95.8 469.4 96.2 469.4 96.6 469.4 97 469.4 97.4 469.4 97.8 469.5 98.1 469.5 98.5 469.6 98.9 469.6 99.3 469.7 99.7 469.8 100.1 469.9 100.4 470 100.8 470 101.2 470.1 101.6 470.2 102 470.3 102.4 470.4 102.7 470.5 103.1 470.6 103.5 470.8 103.9 470.9 104.3 471 104.7 471.1 105.1 471.2 105.4 471.3 105.8 471.4 106.2 471.5 106.6 471.6 107 471.7 107.4 471.9 107.7 472 108.1 472.1 108.5 472.2 108.9 472.3 109.3 472.4 109.7 472.5 110 472.6 110.4 472.7 110.8 472.8 111.2 472.9 111.6 473 112 473.1 112.3 473.2 112.7 473.3 113.1 473.4 113.5 473.5 113.9 473.6 114.3 473.7 114.7 473.8 115 473.9 115.4 474 115.8 474 116.2 474.1 116.6 474.2 117 474.3 117.3 474.4 117.7 474.4 118.1 474.5 118.5 474.6 118.9 474.7 119.3 474.7 119.6 474.8 120 474.9 120.4 474.9 120.8 475 121.2 475.1 121.6 475.1 121.9 475.2 122.3 473.4 122.7 470.4 123.1 467.1 123.5 463.9 123.9 460.8 124.3 457.9 124.6 455.1 125 452.6 125.4 450.3 125.8 448.2 126.2 446.3 126.6 444.6 126.9 443.1 127.3 441.9 127.7 440.8 128.1 439.9 128.5 439.1 128.9 438.5 129.2 438.1 129.6 437.7 130 437.6 130.4 437.5 130.8 437.5 131.2 437.6 131.5 437.8 131.9 438 132.3 438.3 132.7 438.6 133.1 438.9 133.5 439.3 133.8 439.8 134.2 440.2 134.6 440.7 135 441.2 135.4 441.8 135.8 442.3 136.2 442.9 136.5 443.5 136.9 444.1 137.3 444.7 137.7 445.3 138.1 445.9 138.5 446.6 138.8 447.2 139.2 447.8 139.6 448.4 140 449.1 140.4 449.7 140.8 450.3 141.1 450.9 141.5 451.6 141.9 452.2 142.3 452.8 142.7 453.4 143.1 454 143.4 454.5 143.8 455.1 144.2 455.7 144.6 456.2 145 456.8 145.4 457.3 145.8 457.9 146.1 458.4 146.5 458.9 146.9 459.4 147.3 459.9 147.7 460.4 148.1 460.9 148.4 461.3 148.8 461.8 149.2 462.2 149.6 462.7 150 463.1 150.4 463.5 150.7 463.9 151.1 464.3 151.5 464.7 151.9 465.1 152.3 465.5 152.7 465.8 153 466.2 153.4 466.5 153.8 466.8 154.2 467.2 154.6 467.5 155 467.8 155.3 468.1 155.7 468.4 156.1 468.7 156.5 469 156.9 469.2 157.3 469.5 157.7 469.7 158 470 158.4 470.2 158.8 470.5 159.2 470.7 159.6 468.9 160 464.9 160.3 460.5 160.7 456 161.1 451.6 161.5 447.3 161.9 443.3 162.3 439.6 162.6 436.2 163 433 163.4 430.2 163.8 427.6 164.2 425.3 164.6 423.3 164.9 421.5 165.3 420 165.7 418.7 166.1 417.7 166.5 416.8 166.9 416.2 167.3 415.7 167.6 415.4 168 415.3 168.4 415.3 168.8 415.4 169.2 415.6 169.6 415.8 169.9 416.1 170.3 416.5 170.7 416.9 171.1 417.3 171.5 417.8 171.9 418.3 172.2 418.8 172.6 419.3 173 419.9 173.4 420.5 173.8 421.2 174.2 421.8 174.5 422.5 174.9 423.1 175.3 423.8 175.7 424.5 176.1 425.2 176.5 425.9 176.9 426.7 177.2 427.4 177.6 428.1 178 428.9 178.4 429.6 178.8 430.3 179.2 431.1 179.5 431.8 179.9 432.5 180.3 433.3 180.7 434 181.1 434.7 181.5 435.5 181.8 436.2 182.2 436.9 182.6 437.6 183 438.3 183.4 439 183.8 439.7 184.1 440.4 184.5 441.1 184.9 441.7 185.3 442.4 185.7 443.1 186.1 443.7 186.4 444.4 186.8 445 187.2 445.6 187.6 446.2 188 446.9 188.4 447.5 188.8 448.1 189.1 448.6 189.5 449.2 189.9 449.8 190.3 450.3 190.7 450.9 191.1 451.4 191.4 452 191.8 452.5 192.2 453 192.6 453.5 193 454 193.4 454.5 193.7 455 194.1 455.5 194.5 455.9 194.9 456.4 195.3 456.8 195.7 457.3 196 457.7 196.4 458.1 196.8 458.6 197.2 459" stroke="#009e73" stroke-width="1.0" fill="none" stroke-linejoin="round" stroke-opacity="0.8"/>
<path d="M82.4 477.7 82.8 477.7 83.2 477.7 83.6 477.7 83.9 477.7 84.3 477.7 84.7 477.7 85.1 477.7 85.5 477.7 85.9 477.7 86.2 477.7 86.6 477.7 87 477.7 87.4 477.7 87.8 477.7 88.2 477.7 88.5 477.5 88.9 477.3 89.3 477.1 89.7 476.8 90.1 476.5 90.5 476.3 90.8 476 91.2 475.8 91.6 475.6 92 475.3 92.4 475.1 92.8 474.9 93.2 474.7 93.5 474.5 93.9 474.4 94.3 474.2 94.7 474.1 95.1 473.9 95.5 473.8 95.8 473.7 96.2 473.5 96.6 473.4 97 473.4 97.4 473.3 97.8 473.2 98.1 473.1 98.5 473.1 98.9 473 99.3 473 99.7 472.9 100.1 472.9 100.4 472.9 100.8 472.9 101.2 472.9 101.6 472.8 102 472.8 102.4 472.8 102.7 472.9 103.1 472.9 103.5 472.9 103.9 472.9 104.3 472.9 104.7 472.9 105.1 473 105.4 473 105.8 473 106.2 473.1 106.6 473.1 107 473.1 107.4 473.2 107.7 473.2 108.1 473.3 108.5 473.3 108.9 473.4 109.3 473.4 109.7 473.5 110 473.5 110.4 473.6 110.8 473.6 111.2 473.7 111.6 473.7 112 473.8 112.3 473.8 112.7 473.9 113.1 473.9 113.5 474 113.9 474 114.3 474.1 114.7 474.1 115 474.2 115.4 474.3 115.8 474.3 116.2 474.4 116.6 474.4 117 474.5 117.3 474.5 117.7 474.6 118.1 474.6 118.5 474.7 118.9 474.7 119.3 474.8 119.6 474.8 120 474.9 120.4 474.9 120.8 475 121.2 475 121.6 475.1 121.9 475.1 122.3 474.6 122.7 473.8 123.1 472.8 123.5 471.8 123.9 470.8 124.3 469.8 124.6 468.8 125 467.9 125.4 467 125.8 466.2 126.2 465.4 126.6 464.7 126.9 464 127.3 463.4 127.7 462.8 128.1 462.2 128.5 461.7 128.9 461.3 129.2 460.9 129.6 460.5 130 460.2 130.4 459.9 130.8 459.7 131.2 459.5 131.5 459.3 131.9 459.2 132.3 459.1 132.7 459 133.1 459 133.5 459 133.8 459 134.2 459 134.6 459 135 459.1 135.4 459.1 135.8 459.2 136.2 459.2 136.5 459.3 136.9 459.4 137.3 459.5 137.7 459.5 138.1 459.6 138.5 459.7 138.8 459.8 139.2 459.9 139.6 460 140 460.1 140.4 460.2 140.8 460.3 141.1 460.4 141.5 460.5 141.9 460.6 142.3 460.8 142.7 460.9 143.1 461 143.4 461.1 143.8 461.2 144.2 461.3 144.6 461.5 145 461.6 145.4 461.7 145.8 461.8 146.1 462 146.5 462.1 146.9 462.2 147.3 462.3 147.7 462.5 148.1 462.6 148.4 462.7 148.8 462.9 149.2 463 149.6 463.1 150 463.2 150.4 463.4 150.7 463.5 151.1 463.6 151.5 463.8 151.9 463.9 152.3 464 152.7 464.1 153 464.3 153.4 464.4 153.8 464.5 154.2 464.6 154.6 464.8 155 464.9 155.3 465 155.7 465.1 156.1 465.3 156.5 465.4 156.9 465.5 157.3 465.6 157.7 465.8 158 465.9 158.4 466 158.8 466.1 159.2 466.2 159.6 465.4 160 463.4 160.3 461.2 160.7 458.9 161.1 456.5 161.5 454.2 161.9 451.8 162.3 449.6 162.6 447.4 163 445.3 163.4 443.2 163.8 441.3 164.2 439.5 164.6 437.8 164.9 436.2 165.3 434.7 165.7 433.3 166.1 432 166.5 430.8 166.9 429.7 167.3 428.7 167.6 427.8 168 426.9 168.4 426.2 168.8 425.5 169.2 425 169.6 424.5 169.9 424 170.3 423.7 170.7 423.4 171.1 423.2 171.5 423 171.9 422.9 172.2 422.9 172.6 422.9 173 422.9 173.4 423 173.8 423.1 174.2 423.3 174.5 423.4 174.9 423.6 175.3 423.8 175.7 424 176.1 424.2 176.5 424.5 176.9 424.7 177.2 425 177.6 425.3 178 425.6 178.4 425.9 178.8 426.2 179.2 426.5 179.5 426.8 179.9 427.2 180.3 427.5 180.7 427.9 181.1 428.2 181.5 428.6 181.8 429 182.2 429.3 182.6 429.7 183 430.1 183.4 430.5 183.8 430.9 184.1 431.3 184.5 431.7 184.9 432.1 185.3 432.5 185.7 432.9 186.1 433.3 186.4 433.7 186.8 434.2 187.2 434.6 187.6 435 188 435.4 188.4 435.8 188.8 436.2 189.1 436.6 189.5 437.1 189.9 437.5 190.3 437.9 190.7 438.3 191.1 438.7 191.4 439.1 191.8 439.5 192.2 439.9 192.6 440.4 193 440.8 193.4 441.2 193.7 441.6 194.1 442 194.5 442.4 194.9 442.8 195.3 443.2 195.7 443.6 196 444 196.4 444.3 196.8 444.7 197.2 445.1" stroke="#56b4e9" stroke-width="0.85" fill="none" stroke-linejoin="round" stroke-opacity="0.85"/>
<path d="M82.4 477.7 82.8 477.7 83.2 477.7 83.6 477.7 83.9 477.7 84.3 477.7 84.7 477.7 85.1 477.7 85.5 477.7 85.9 477.7 86.2 477.7 86.6 477.7 87 477.7 87.4 477.7 87.8 477.7 88.2 477.7 88.5 477.5 88.9 477.3 89.3 477.1 89.7 476.9 90.1 476.6 90.5 476.4 90.8 476.2 91.2 475.9 91.6 475.7 92 475.5 92.4 475.3 92.8 475.1 93.2 474.9 93.5 474.8 93.9 474.6 94.3 474.5 94.7 474.3 95.1 474.2 95.5 474.1 95.8 473.9 96.2 473.8 96.6 473.7 97 473.7 97.4 473.6 97.8 473.5 98.1 473.5 98.5 473.4 98.9 473.4 99.3 473.3 99.7 473.3 100.1 473.3 100.4 473.2 100.8 473.2 101.2 473.2 101.6 473.2 102 473.2 102.4 473.2 102.7 473.2 103.1 473.2 103.5 473.2 103.9 473.2 104.3 473.3 104.7 473.3 105.1 473.3 105.4 473.4 105.8 473.4 106.2 473.4 106.6 473.5 107 473.5 107.4 473.5 107.7 473.6 108.1 473.6 108.5 473.7 108.9 473.7 109.3 473.8 109.7 473.8 110 473.9 110.4 473.9 110.8 474 111.2 474 111.6 474.1 112 474.1 112.3 474.2 112.7 474.2 113.1 474.3 113.5 474.3 113.9 474.4 114.3 474.4 114.7 474.5 115 474.6 115.4 474.6 115.8 474.7 116.2 474.7 116.6 474.8 117 474.8 117.3 474.9 117.7 474.9 118.1 475 118.5 475 118.9 475.1 119.3 475.1 119.6 475.2 120 475.2 120.4 475.3 120.8 475.3 121.2 475.4 121.6 475.4 121.9 475.5 122.3 475 122.7 474.1 123.1 473.2 123.5 472.2 123.9 471.2 124.3 470.3 124.6 469.3 125 468.4 125.4 467.6 125.8 466.8 126.2 466 126.6 465.3 126.9 464.6 127.3 464 127.7 463.4 128.1 462.9 128.5 462.4 128.9 462 129.2 461.6 129.6 461.2 130 460.9 130.4 460.6 130.8 460.4 131.2 460.2 131.5 460 131.9 459.9 132.3 459.8 132.7 459.7 133.1 459.7 133.5 459.7 133.8 459.7 134.2 459.7 134.6 459.7 135 459.8 135.4 459.8 135.8 459.9 136.2 459.9 136.5 460 136.9 460.1 137.3 460.1 137.7 460.2 138.1 460.3 138.5 460.4 138.8 460.5 139.2 460.6 139.6 460.7 140 460.8 140.4 460.9 140.8 461 141.1 461.1 141.5 461.2 141.9 461.3 142.3 461.4 142.7 461.5 143.1 461.7 143.4 461.8 143.8 461.9 144.2 462 144.6 462.1 145 462.3 145.4 462.4 145.8 462.5 146.1 462.6 146.5 462.8 146.9 462.9 147.3 463 147.7 463.2 148.1 463.3 148.4 463.4 148.8 463.5 149.2 463.7 149.6 463.8 150 463.9 150.4 464.1 150.7 464.2 151.1 464.3 151.5 464.4 151.9 464.6 152.3 464.7 152.7 464.8 153 465 153.4 465.1 153.8 465.2 154.2 465.3 154.6 465.5 155 465.6 155.3 465.7 155.7 465.8 156.1 466 156.5 466.1 156.9 466.2 157.3 466.3 157.7 466.4 158 466.6 158.4 466.7 158.8 466.8 159.2 466.9 159.6 466.1 160 464.3 160.3 462.2 160.7 460.1 161.1 457.8 161.5 455.6 161.9 453.4 162.3 451.3 162.6 449.2 163 447.3 163.4 445.4 163.8 443.6 164.2 441.9 164.6 440.3 164.9 438.8 165.3 437.4 165.7 436.1 166.1 434.8 166.5 433.7 166.9 432.7 167.3 431.7 167.6 430.9 168 430.1 168.4 429.4 168.8 428.8 169.2 428.3 169.6 427.8 169.9 427.4 170.3 427.1 170.7 426.8 171.1 426.6 171.5 426.5 171.9 426.4 172.2 426.3 172.6 426.3 173 426.4 173.4 426.5 173.8 426.6 174.2 426.7 174.5 426.9 174.9 427 175.3 427.2 175.7 427.4 176.1 427.6 176.5 427.8 176.9 428 177.2 428.3 177.6 428.5 178 428.8 178.4 429.1 178.8 429.4 179.2 429.7 179.5 430 179.9 430.3 180.3 430.6 180.7 430.9 181.1 431.2 181.5 431.6 181.8 431.9 182.2 432.2 182.6 432.6 183 432.9 183.4 433.3 183.8 433.6 184.1 434 184.5 434.4 184.9 434.7 185.3 435.1 185.7 435.4 186.1 435.8 186.4 436.2 186.8 436.6 187.2 436.9 187.6 437.3 188 437.7 188.4 438.1 188.8 438.4 189.1 438.8 189.5 439.2 189.9 439.6 190.3 439.9 190.7 440.3 191.1 440.7 191.4 441.1 191.8 441.4 192.2 441.8 192.6 442.2 193 442.5 193.4 442.9 193.7 443.3 194.1 443.6 194.5 444 194.9 444.4 195.3 444.7 195.7 445.1 196 445.4 196.4 445.8 196.8 446.1 197.2 446.5" stroke="#9400d3" stroke-width="0.8" fill="none" stroke-linejoin="round" stroke-opacity="0.55"/>
<path d="M82.4 477.7 82.8 477.7 83.2 477.7 83.6 477.7 83.9 477.7 84.3 477.7 84.7 477.7 85.1 477.7 85.5 477.7 85.9 477.7 86.2 477.7 86.6 477.7 87 477.7 87.4 477.7 87.8 477.7 88.2 477.7 88.5 477.7 88.9 477.7 89.3 477.7 89.7 477.7 90.1 477.7 90.5 477.7 90.8 477.7 91.2 477.7 91.6 477.7 92 477.7 92.4 477.7 92.8 477.7 93.2 477.7 93.5 477.7 93.9 477.7 94.3 477.7 94.7 477.7 95.1 477.7 95.5 477.7 95.8 477.7 96.2 477.7 96.6 477.7 97 477.7 97.4 477.7 97.8 477.7 98.1 477.7 98.5 477.7 98.9 477.7 99.3 477.7 99.7 477.7 100.1 477.7 100.4 477.7 100.8 477.7 101.2 477.7 101.6 477.7 102 477.7 102.4 477.7 102.7 477.7 103.1 477.7 103.5 477.7 103.9 477.7 104.3 477.7 104.7 477.7 105.1 477.7 105.4 477.7 105.8 477.7 106.2 477.7 106.6 477.7 107 477.7 107.4 477.7 107.7 477.7 108.1 477.7 108.5 477.7 108.9 477.7 109.3 477.7 109.7 477.7 110 477.7 110.4 477.7 110.8 477.7 111.2 477.7 111.6 477.7 112 477.7 112.3 477.7 112.7 477.7 113.1 477.7 113.5 477.7 113.9 477.7 114.3 477.7 114.7 477.7 115 477.7 115.4 477.7 115.8 477.7 116.2 477.7 116.6 477.7 117 477.7 117.3 477.7 117.7 477.7 118.1 477.7 118.5 477.7 118.9 477.7 119.3 477.7 119.6 477.7 120 477.7 120.4 477.7 120.8 477.7 121.2 477.7 121.6 477.7 121.9 477.7 122.3 477.7 122.7 477.6 123.1 477.6 123.5 477.6 123.9 477.5 124.3 477.5 124.6 477.4 125 477.4 125.4 477.4 125.8 477.3 126.2 477.3 126.6 477.3 126.9 477.2 127.3 477.2 127.7 477.2 128.1 477.2 128.5 477.1 128.9 477.1 129.2 477.1 129.6 477.1 130 477.1 130.4 477.1 130.8 477 131.2 477 131.5 477 131.9 477 132.3 477 132.7 477 133.1 477 133.5 477 133.8 477 134.2 477 134.6 477 135 477 135.4 477 135.8 477 136.2 477 136.5 477 136.9 477 137.3 477 137.7 477 138.1 477 138.5 477 138.8 477 139.2 477 139.6 477 140 477 140.4 477 140.8 477 141.1 477 141.5 477 141.9 477 142.3 477 142.7 477.1 143.1 477.1 143.4 477.1 143.8 477.1 144.2 477.1 144.6 477.1 145 477.1 145.4 477.1 145.8 477.1 146.1 477.1 146.5 477.1 146.9 477.1 147.3 477.1 147.7 477.1 148.1 477.1 148.4 477.1 148.8 477.1 149.2 477.1 149.6 477.1 150 477.1 150.4 477.1 150.7 477.1 151.1 477.1 151.5 477.1 151.9 477.1 152.3 477.2 152.7 477.2 153 477.2 153.4 477.2 153.8 477.2 154.2 477.2 154.6 477.2 155 477.2 155.3 477.2 155.7 477.2 156.1 477.2 156.5 477.2 156.9 477.2 157.3 477.2 157.7 477.2 158 477.2 158.4 477.2 158.8 477.2 159.2 477.2 159.6 477.2 160 477.1 160.3 476.9 160.7 476.8 161.1 476.6 161.5 476.5 161.9 476.3 162.3 476.2 162.6 476 163 475.9 163.4 475.8 163.8 475.6 164.2 475.5 164.6 475.4 164.9 475.3 165.3 475.2 165.7 475.1 166.1 475 166.5 474.9 166.9 474.8 167.3 474.8 167.6 474.7 168 474.6 168.4 474.6 168.8 474.5 169.2 474.5 169.6 474.4 169.9 474.4 170.3 474.4 170.7 474.3 171.1 474.3 171.5 474.3 171.9 474.3 172.2 474.3 172.6 474.2 173 474.2 173.4 474.2 173.8 474.2 174.2 474.2 174.5 474.2 174.9 474.2 175.3 474.2 175.7 474.3 176.1 474.3 176.5 474.3 176.9 474.3 177.2 474.3 177.6 474.3 178 474.3 178.4 474.4 178.8 474.4 179.2 474.4 179.5 474.4 179.9 474.4 180.3 474.4 180.7 474.5 181.1 474.5 181.5 474.5 181.8 474.5 182.2 474.6 182.6 474.6 183 474.6 183.4 474.6 183.8 474.7 184.1 474.7 184.5 474.7 184.9 474.7 185.3 474.8 185.7 474.8 186.1 474.8 186.4 474.8 186.8 474.9 187.2 474.9 187.6 474.9 188 475 188.4 475 188.8 475 189.1 475 189.5 475.1 189.9 475.1 190.3 475.1 190.7 475.2 191.1 475.2 191.4 475.2 191.8 475.2 192.2 475.3 192.6 475.3 193 475.3 193.4 475.3 193.7 475.4 194.1 475.4 194.5 475.4 194.9 475.5 195.3 475.5 195.7 475.5 196 475.5 196.4 475.6 196.8 475.6 197.2 475.6" stroke="#e51e10" stroke-width="0.6" fill="none" stroke-linejoin="round" stroke-opacity="0.5"/>
<rect x="80.5" y="521.2" width="115.1" height="124.6" fill="none" stroke="#c8c8c8" stroke-width="0.7"/>
<path d="M81.3 645.8v-1.8M81.3 521.2v1.8M92.81 645.8v-1.8M92.81 521.2v1.8M104.32 645.8v-1.8M104.32 521.2v1.8M115.83 645.8v-1.8M115.83 521.2v1.8M127.34 645.8v-1.8M127.34 521.2v1.8M138.85 645.8v-1.8M138.85 521.2v1.8M150.36 645.8v-1.8M150.36 521.2v1.8M161.87 645.8v-1.8M161.87 521.2v1.8M173.38 645.8v-1.8M173.38 521.2v1.8M184.89 645.8v-1.8M184.89 521.2v1.8M196.4 645.8v-1.8M196.4 521.2v1.8M80.5 645.8h1.8M80.5 628h1.8M80.5 610.2h1.8M80.5 592.4h1.8M80.5 574.6h1.8M80.5 556.8h1.8M80.5 539h1.8M80.5 521.2h1.8M195.6 645.8h-1.8M195.6 631.96h-1.8M195.6 618.11h-1.8M195.6 604.27h-1.8M195.6 590.42h-1.8M195.6 576.58h-1.8M195.6 562.73h-1.8M195.6 548.89h-1.8M195.6 535.04h-1.8M195.6 521.2h-1.8" stroke="#c8c8c8" stroke-width="0.6" fill="none"/>
<text x="77.5" y="647.8" font-size="5.7" text-anchor="end">0</text>
<text x="77.5" y="630" font-size="5.7" text-anchor="end">100000</text>
<text x="77.5" y="612.2" font-size="5.7" text-anchor="end">200000</text>
<text x="77.5" y="594.4" font-size="5.7" text-anchor="end">300000</text>
<text x="77.5" y="576.6" font-size="5.7" text-anchor="end">400000</text>
<text x="77.5" y="558.8" font-size="5.7" text-anchor="end">500000</text>
<text x="77.5" y="541" font-size="5.7" text-anchor="end">600000</text>
<text x="77.5" y="523.2" font-size="5.7" text-anchor="end">700000</text>
<text x="200.6" y="647.8" font-size="5.7">0</text>
<text x="200.6" y="633.96" font-size="5.7">20000</text>
<text x="200.6" y="620.11" font-size="5.7">40000</text>
<text x="200.6" y="606.27" font-size="5.7">60000</text>
<text x="200.6" y="592.42" font-size="5.7">80000</text>
<text x="200.6" y="578.58" font-size="5.7">100000</text>
<text x="200.6" y="564.73" font-size="5.7">120000</text>
<text x="200.6" y="550.89" font-size="5.7">140000</text>
<text x="200.6" y="537.04" font-size="5.7">160000</text>
<text x="200.6" y="523.2" font-size="5.7">180000</text>
<text x="81.3" y="654" font-size="5.7" text-anchor="middle">0</text>
<text x="92.81" y="654" font-size="5.7" text-anchor="middle">10</text>
<text x="104.32" y="654" font-size="5.7" text-anchor="middle">20</text>
<text x="115.83" y="654" font-size="5.7" text-anchor="middle">30</text>
<text x="127.34" y="654" font-size="5.7" text-anchor="middle">40</text>
<text x="138.85" y="654" font-size="5.7" text-anchor="middle">50</text>
<text x="150.36" y="654" font-size="5.7" text-anchor="middle">60</text>
<text x="161.87" y="654" font-size="5.7" text-anchor="middle">70</text>
<text x="173.38" y="654" font-size="5.7" text-anchor="middle">80</text>
<text x="184.89" y="654" font-size="5.7" text-anchor="middle">90</text>
<text x="196.4" y="654" font-size="5.7" text-anchor="middle">100</text>
<text x="138.05" y="662.8" font-size="5.7" text-anchor="middle">days</text>
<text transform="translate(51.3,583.5) rotate(-90)" font-size="5.5" text-anchor="middle">antigen count per mL</text>
<text transform="translate(229.7,583.5) rotate(-90)" font-size="5.5" text-anchor="middle">Ab titers (IgM, IgG1, IgG2)</text>
<text transform="translate(235.6,583.5) rotate(-90)" font-size="5.5" text-anchor="middle">arbitrary scale</text>
<text x="171" y="528.66" font-size="5.45" text-anchor="end">Ag</text>
<path d="M174 526.7H189.6" stroke="#3a3a3a" stroke-width="1.0" stroke-opacity="1.0"/>
<text x="171" y="534.56" font-size="5.45" text-anchor="end">IgM+IgG</text>
<path d="M174 532.6H189.6" stroke="#f2c46a" stroke-width="0.7" stroke-opacity="1.0"/>
<text x="171" y="540.46" font-size="5.45" text-anchor="end">IgM</text>
<path d="M174 538.5H189.6" stroke="#3fb08f" stroke-width="1.0" stroke-opacity="1.0"/>
<text x="171" y="546.36" font-size="5.45" text-anchor="end">IgG1+IgG2</text>
<path d="M174 544.4H189.6" stroke="#8fcdf0" stroke-width="0.8" stroke-opacity="1.0"/>
<text x="171" y="552.26" font-size="5.45" text-anchor="end">IgG1</text>
<path d="M174 550.3H189.6" stroke="#b860e0" stroke-width="0.8" stroke-opacity="1.0"/>
<text x="171" y="558.16" font-size="5.45" text-anchor="end">IgG2</text>
<path d="M174 556.2H189.6" stroke="#f08a80" stroke-width="0.6" stroke-opacity="1.0"/>
<path d="M80.5 645.6H195.6" stroke="#808080" stroke-width="1.3" stroke-opacity="0.9"/>
<path d="M81.3 645.8 81.4 523 82 523 82.7 531.6 83.6 557.4 84.3 596.7 85 627.4 85.7 642.1 86.2 645.8" stroke="#3a3a3a" stroke-width="1.0" fill="none" stroke-linejoin="round" stroke-opacity="1.0"/>
<path d="M118.7 645.8 118.8 556.8 119.2 557.7 119.7 610.2 120.2 645.8" stroke="#3a3a3a" stroke-width="1.0" fill="none" stroke-linejoin="round" stroke-opacity="1.0"/>
<path d="M157.2 645.8 157.3 556.8 157.7 557.7 158.2 619.1 158.9 645.8" stroke="#3a3a3a" stroke-width="1.0" fill="none" stroke-linejoin="round" stroke-opacity="1.0"/>
<path d="M81.3 645.8 81.7 645.8 82.1 645.8 82.5 645.8 82.8 645.8 83.2 645.8 83.6 645.8 84 645.8 84.4 645.8 84.8 645.8 85.1 645.8 85.5 645.8 85.9 645.8 86.3 645.8 86.7 645.8 87.1 645.8 87.5 644.9 87.8 643.8 88.2 642.6 88.6 641.4 89 640.3 89.4 639.1 89.8 638 90.2 637 90.5 636.1 90.9 635.2 91.3 634.3 91.7 633.6 92.1 632.9 92.5 632.2 92.8 631.7 93.2 631.2 93.6 630.7 94 630.3 94.4 630 94.8 629.7 95.2 629.4 95.5 629.2 95.9 629.1 96.3 629 96.7 628.9 97.1 628.9 97.5 628.8 97.9 628.9 98.2 628.9 98.6 628.9 99 629 99.4 629.1 99.8 629.2 100.2 629.3 100.5 629.4 100.9 629.5 101.3 629.6 101.7 629.8 102.1 629.9 102.5 630.1 102.9 630.2 103.2 630.4 103.6 630.6 104 630.7 104.4 630.9 104.8 631.1 105.2 631.3 105.6 631.5 105.9 631.7 106.3 631.9 106.7 632.1 107.1 632.3 107.5 632.5 107.9 632.7 108.2 632.9 108.6 633.1 109 633.3 109.4 633.5 109.8 633.7 110.2 633.9 110.6 634.1 110.9 634.3 111.3 634.5 111.7 634.7 112.1 634.9 112.5 635.1 112.9 635.3 113.3 635.4 113.6 635.6 114 635.8 114.4 636 114.8 636.2 115.2 636.4 115.6 636.6 115.9 636.7 116.3 636.9 116.7 637.1 117.1 637.3 117.5 637.4 117.9 637.6 118.3 637.8 118.6 637.9 119 638.1 119.4 638.2 119.8 638.4 120.2 638.5 120.6 638.7 120.9 638.8 121.3 636.6 121.7 632.8 122.1 628.7 122.5 624.5 122.9 620.4 123.3 616.5 123.6 612.7 124 609.2 124.4 605.9 124.8 602.9 125.2 600.2 125.6 597.6 126 595.4 126.3 593.4 126.7 591.6 127.1 590 127.5 588.6 127.9 587.5 128.3 586.5 128.6 585.7 129 585.1 129.4 584.7 129.8 584.4 130.2 584.2 130.6 584.2 131 584.2 131.3 584.4 131.7 584.5 132.1 584.8 132.5 585 132.9 585.3 133.3 585.6 133.7 585.9 134 586.3 134.4 586.7 134.8 587.1 135.2 587.5 135.6 588 136 588.4 136.3 588.9 136.7 589.4 137.1 589.9 137.5 590.4 137.9 591 138.3 591.5 138.7 592 139 592.6 139.4 593.2 139.8 593.7 140.2 594.3 140.6 594.9 141 595.4 141.4 596 141.7 596.6 142.1 597.2 142.5 597.8 142.9 598.4 143.3 598.9 143.7 599.5 144 600.1 144.4 600.7 144.8 601.3 145.2 601.9 145.6 602.4 146 603 146.4 603.6 146.7 604.2 147.1 604.7 147.5 605.3 147.9 605.9 148.3 606.4 148.7 607 149.1 607.5 149.4 608.1 149.8 608.6 150.2 609.1 150.6 609.7 151 610.2 151.4 610.7 151.7 611.2 152.1 611.8 152.5 612.3 152.9 612.8 153.3 613.3 153.7 613.8 154.1 614.3 154.4 614.7 154.8 615.2 155.2 615.7 155.6 616.1 156 616.6 156.4 617.1 156.8 617.5 157.1 618 157.5 618.4 157.9 618.8 158.3 619.3 158.7 617.1 159.1 612.1 159.4 606.3 159.8 600.4 160.2 594.4 160.6 588.6 161 582.9 161.4 577.5 161.8 572.4 162.1 567.5 162.5 563 162.9 558.8 163.3 554.9 163.7 551.3 164.1 548 164.4 545 164.8 542.3 165.2 539.9 165.6 537.8 166 535.9 166.4 534.3 166.8 533 167.1 531.9 167.5 530.9 167.9 530.2 168.3 529.7 168.7 529.4 169.1 529.3 169.5 529.3 169.8 529.4 170.2 529.7 170.6 530.1 171 530.5 171.4 531 171.8 531.5 172.1 532 172.5 532.6 172.9 533.3 173.3 533.9 173.7 534.6 174.1 535.4 174.5 536.1 174.8 536.9 175.2 537.8 175.6 538.6 176 539.5 176.4 540.3 176.8 541.2 177.2 542.2 177.5 543.1 177.9 544 178.3 545 178.7 545.9 179.1 546.9 179.5 547.9 179.8 548.9 180.2 549.9 180.6 550.9 181 551.9 181.4 552.9 181.8 553.9 182.2 554.9 182.5 555.9 182.9 557 183.3 558 183.7 559 184.1 560 184.5 561 184.9 562 185.2 563 185.6 564 186 565 186.4 566 186.8 567 187.2 568 187.5 569 187.9 570 188.3 571 188.7 571.9 189.1 572.9 189.5 573.8 189.9 574.8 190.2 575.7 190.6 576.7 191 577.6 191.4 578.5 191.8 579.4 192.2 580.3 192.6 581.2 192.9 582.1 193.3 583 193.7 583.9 194.1 584.7 194.5 585.6 194.9 586.4 195.2 587.3 195.6 588.1 196 588.9 196.4 589.7" stroke="#e69f00" stroke-width="0.7" fill="none" stroke-linejoin="round" stroke-opacity="0.55"/>
<path d="M81.3 645.8 81.7 645.8 82.1 645.8 82.5 645.8 82.8 645.8 83.2 645.8 83.6 645.8 84 645.8 84.4 645.8 84.8 645.8 85.1 645.8 85.5 645.8 85.9 645.8 86.3 645.8 86.7 645.8 87.1 645.8 87.5 645.2 87.8 644.4 88.2 643.6 88.6 642.8 89 642 89.4 641.3 89.8 640.6 90.2 640 90.5 639.5 90.9 639 91.3 638.6 91.7 638.2 92.1 637.9 92.5 637.6 92.8 637.4 93.2 637.2 93.6 637 94 636.9 94.4 636.9 94.8 636.8 95.2 636.8 95.5 636.8 95.9 636.8 96.3 636.9 96.7 636.9 97.1 636.9 97.5 637 97.9 637.1 98.2 637.1 98.6 637.2 99 637.3 99.4 637.3 99.8 637.4 100.2 637.5 100.5 637.6 100.9 637.7 101.3 637.8 101.7 637.9 102.1 638 102.5 638.1 102.9 638.2 103.2 638.3 103.6 638.4 104 638.5 104.4 638.6 104.8 638.7 105.2 638.9 105.6 639 105.9 639.1 106.3 639.2 106.7 639.3 107.1 639.4 107.5 639.5 107.9 639.6 108.2 639.7 108.6 639.8 109 639.9 109.4 640 109.8 640.1 110.2 640.2 110.6 640.3 110.9 640.4 111.3 640.5 111.7 640.6 112.1 640.7 112.5 640.8 112.9 640.9 113.3 641 113.6 641.1 114 641.2 114.4 641.3 114.8 641.4 115.2 641.5 115.6 641.6 115.9 641.7 116.3 641.7 116.7 641.8 117.1 641.9 117.5 642 117.9 642.1 118.3 642.1 118.6 642.2 119 642.3 119.4 642.4 119.8 642.4 120.2 642.5 120.6 642.6 120.9 642.6 121.3 641.4 121.7 639.3 122.1 637.1 122.5 634.8 122.9 632.5 123.3 630.4 123.6 628.3 124 626.4 124.4 624.6 124.8 622.9 125.2 621.4 125.6 620 126 618.8 126.3 617.7 126.7 616.7 127.1 615.8 127.5 615.1 127.9 614.4 128.3 613.9 128.6 613.5 129 613.1 129.4 612.9 129.8 612.7 130.2 612.6 130.6 612.6 131 612.6 131.3 612.7 131.7 612.8 132.1 613 132.5 613.1 132.9 613.4 133.3 613.6 133.7 613.9 134 614.2 134.4 614.5 134.8 614.8 135.2 615.2 135.6 615.6 136 615.9 136.3 616.3 136.7 616.7 137.1 617.2 137.5 617.6 137.9 618 138.3 618.4 138.7 618.9 139 619.3 139.4 619.8 139.8 620.2 140.2 620.7 140.6 621.1 141 621.6 141.4 622.1 141.7 622.5 142.1 623 142.5 623.4 142.9 623.8 143.3 624.3 143.7 624.7 144 625.2 144.4 625.6 144.8 626 145.2 626.4 145.6 626.9 146 627.3 146.4 627.7 146.7 628.1 147.1 628.5 147.5 628.9 147.9 629.3 148.3 629.6 148.7 630 149.1 630.4 149.4 630.8 149.8 631.1 150.2 631.5 150.6 631.8 151 632.1 151.4 632.5 151.7 632.8 152.1 633.1 152.5 633.4 152.9 633.7 153.3 634 153.7 634.3 154.1 634.6 154.4 634.9 154.8 635.2 155.2 635.4 155.6 635.7 156 636 156.4 636.2 156.8 636.5 157.1 636.7 157.5 637 157.9 637.2 158.3 637.4 158.7 635.9 159.1 632.5 159.4 628.8 159.8 625 160.2 621.3 160.6 617.8 161 614.4 161.4 611.3 161.8 608.4 162.1 605.7 162.5 603.3 162.9 601.2 163.3 599.3 163.7 597.6 164.1 596.1 164.4 594.9 164.8 593.8 165.2 592.9 165.6 592.2 166 591.7 166.4 591.4 166.8 591.1 167.1 591.1 167.5 591.1 167.9 591.2 168.3 591.4 168.7 591.6 169.1 591.9 169.5 592.2 169.8 592.5 170.2 592.9 170.6 593.3 171 593.7 171.4 594.2 171.8 594.6 172.1 595.1 172.5 595.6 172.9 596.1 173.3 596.7 173.7 597.2 174.1 597.8 174.5 598.3 174.8 598.9 175.2 599.5 175.6 600.1 176 600.7 176.4 601.3 176.8 601.9 177.2 602.5 177.5 603.1 177.9 603.7 178.3 604.3 178.7 604.9 179.1 605.5 179.5 606.1 179.8 606.7 180.2 607.3 180.6 607.9 181 608.5 181.4 609.1 181.8 609.7 182.2 610.3 182.5 610.8 182.9 611.4 183.3 612 183.7 612.6 184.1 613.1 184.5 613.7 184.9 614.2 185.2 614.8 185.6 615.3 186 615.8 186.4 616.4 186.8 616.9 187.2 617.4 187.5 617.9 187.9 618.4 188.3 618.9 188.7 619.4 189.1 619.9 189.5 620.3 189.9 620.8 190.2 621.3 190.6 621.7 191 622.2 191.4 622.6 191.8 623.1 192.2 623.5 192.6 623.9 192.9 624.3 193.3 624.7 193.7 625.1 194.1 625.5 194.5 625.9 194.9 626.3 195.2 626.7 195.6 627.1 196 627.4 196.4 627.8" stroke="#009e73" stroke-width="1.0" fill="none" stroke-linejoin="round" stroke-opacity="0.8"/>
<path d="M81.3 645.8 81.7 645.8 82.1 645.8 82.5 645.8 82.8 645.8 83.2 645.8 83.6 645.8 84 645.8 84.4 645.8 84.8 645.8 85.1 645.8 85.5 645.8 85.9 645.8 86.3 645.8 86.7 645.8 87.1 645.8 87.5 645.4 87.8 644.8 88.2 644.2 88.6 643.7 89 643.1 89.4 642.5 89.8 642 90.2 641.5 90.5 641 90.9 640.6 91.3 640.2 91.7 639.8 92.1 639.5 92.5 639.2 92.8 638.9 93.2 638.6 93.6 638.4 94 638.2 94.4 638 94.8 637.9 95.2 637.8 95.5 637.7 95.9 637.6 96.3 637.6 96.7 637.5 97.1 637.5 97.5 637.5 97.9 637.5 98.2 637.5 98.6 637.5 99 637.5 99.4 637.6 99.8 637.6 100.2 637.6 100.5 637.7 100.9 637.7 101.3 637.8 101.7 637.8 102.1 637.8 102.5 637.9 102.9 638 103.2 638 103.6 638.1 104 638.1 104.4 638.2 104.8 638.3 105.2 638.3 105.6 638.4 105.9 638.5 106.3 638.5 106.7 638.6 107.1 638.7 107.5 638.7 107.9 638.8 108.2 638.9 108.6 638.9 109 639 109.4 639.1 109.8 639.2 110.2 639.2 110.6 639.3 110.9 639.4 111.3 639.5 111.7 639.5 112.1 639.6 112.5 639.7 112.9 639.8 113.3 639.8 113.6 639.9 114 640 114.4 640.1 114.8 640.1 115.2 640.2 115.6 640.3 115.9 640.4 116.3 640.4 116.7 640.5 117.1 640.6 117.5 640.6 117.9 640.7 118.3 640.8 118.6 640.8 119 640.9 119.4 641 119.8 641 120.2 641.1 120.6 641.2 120.9 641.2 121.3 640.5 121.7 639.3 122.1 637.9 122.5 636.5 122.9 635.1 123.3 633.7 123.6 632.3 124 630.9 124.4 629.6 124.8 628.4 125.2 627.2 125.6 626.1 126 625 126.3 624.1 126.7 623.1 127.1 622.3 127.5 621.5 127.9 620.7 128.3 620.1 128.6 619.5 129 618.9 129.4 618.4 129.8 618 130.2 617.6 130.6 617.2 131 616.9 131.3 616.7 131.7 616.5 132.1 616.3 132.5 616.2 132.9 616.1 133.3 616 133.7 616 134 616 134.4 616.1 134.8 616.1 135.2 616.2 135.6 616.3 136 616.4 136.3 616.5 136.7 616.6 137.1 616.7 137.5 616.9 137.9 617 138.3 617.2 138.7 617.3 139 617.5 139.4 617.7 139.8 617.9 140.2 618.1 140.6 618.3 141 618.5 141.4 618.7 141.7 618.9 142.1 619.1 142.5 619.3 142.9 619.5 143.3 619.8 143.7 620 144 620.2 144.4 620.5 144.8 620.7 145.2 620.9 145.6 621.2 146 621.4 146.4 621.7 146.7 621.9 147.1 622.2 147.5 622.4 147.9 622.6 148.3 622.9 148.7 623.1 149.1 623.4 149.4 623.6 149.8 623.9 150.2 624.1 150.6 624.4 151 624.6 151.4 624.9 151.7 625.1 152.1 625.4 152.5 625.6 152.9 625.8 153.3 626.1 153.7 626.3 154.1 626.6 154.4 626.8 154.8 627 155.2 627.3 155.6 627.5 156 627.7 156.4 628 156.8 628.2 157.1 628.4 157.5 628.6 157.9 628.9 158.3 629.1 158.7 628 159.1 625.5 159.4 622.7 159.8 619.7 160.2 616.8 160.6 613.9 161 611.1 161.4 608.4 161.8 605.8 162.1 603.4 162.5 601.2 162.9 599.1 163.3 597.2 163.7 595.4 164.1 593.8 164.4 592.3 164.8 591 165.2 589.8 165.6 588.8 166 587.9 166.4 587.1 166.8 586.4 167.1 585.9 167.5 585.5 167.9 585.1 168.3 584.9 168.7 584.8 169.1 584.7 169.5 584.7 169.8 584.8 170.2 585 170.6 585.2 171 585.4 171.4 585.6 171.8 585.8 172.1 586.1 172.5 586.3 172.9 586.6 173.3 586.8 173.7 587.1 174.1 587.4 174.5 587.7 174.8 588 175.2 588.3 175.6 588.6 176 588.9 176.4 589.2 176.8 589.6 177.2 589.9 177.5 590.2 177.9 590.6 178.3 590.9 178.7 591.3 179.1 591.6 179.5 592 179.8 592.3 180.2 592.7 180.6 593.1 181 593.4 181.4 593.8 181.8 594.1 182.2 594.5 182.5 594.9 182.9 595.2 183.3 595.6 183.7 596 184.1 596.3 184.5 596.7 184.9 597.1 185.2 597.5 185.6 597.8 186 598.2 186.4 598.6 186.8 598.9 187.2 599.3 187.5 599.7 187.9 600 188.3 600.4 188.7 600.8 189.1 601.1 189.5 601.5 189.9 601.8 190.2 602.2 190.6 602.6 191 602.9 191.4 603.3 191.8 603.6 192.2 604 192.6 604.3 192.9 604.7 193.3 605 193.7 605.4 194.1 605.7 194.5 606 194.9 606.4 195.2 606.7 195.6 607.1 196 607.4 196.4 607.7" stroke="#56b4e9" stroke-width="0.85" fill="none" stroke-linejoin="round" stroke-opacity="0.85"/>
<path d="M81.3 645.8 81.7 645.8 82.1 645.8 82.5 645.8 82.8 645.8 83.2 645.8 83.6 645.8 84 645.8 84.4 645.8 84.8 645.8 85.1 645.8 85.5 645.8 85.9 645.8 86.3 645.8 86.7 645.8 87.1 645.8 87.5 645.5 87.8 645 88.2 644.5 88.6 644.1 89 643.6 89.4 643.1 89.8 642.7 90.2 642.2 90.5 641.8 90.9 641.4 91.3 641.1 91.7 640.7 92.1 640.4 92.5 640.1 92.8 639.9 93.2 639.6 93.6 639.4 94 639.2 94.4 639 94.8 638.8 95.2 638.7 95.5 638.6 95.9 638.5 96.3 638.4 96.7 638.3 97.1 638.3 97.5 638.2 97.9 638.2 98.2 638.2 98.6 638.2 99 638.2 99.4 638.2 99.8 638.2 100.2 638.2 100.5 638.3 100.9 638.3 101.3 638.3 101.7 638.4 102.1 638.4 102.5 638.5 102.9 638.5 103.2 638.6 103.6 638.6 104 638.7 104.4 638.7 104.8 638.8 105.2 638.9 105.6 638.9 105.9 639 106.3 639.1 106.7 639.2 107.1 639.2 107.5 639.3 107.9 639.4 108.2 639.4 108.6 639.5 109 639.6 109.4 639.7 109.8 639.8 110.2 639.8 110.6 639.9 110.9 640 111.3 640.1 111.7 640.2 112.1 640.2 112.5 640.3 112.9 640.4 113.3 640.5 113.6 640.5 114 640.6 114.4 640.7 114.8 640.8 115.2 640.9 115.6 640.9 115.9 641 116.3 641.1 116.7 641.2 117.1 641.2 117.5 641.3 117.9 641.4 118.3 641.5 118.6 641.5 119 641.6 119.4 641.7 119.8 641.7 120.2 641.8 120.6 641.9 120.9 641.9 121.3 641.3 121.7 640.1 122.1 638.8 122.5 637.4 122.9 636.1 123.3 634.7 123.6 633.4 124 632.2 124.4 631 124.8 629.9 125.2 628.8 125.6 627.8 126 626.9 126.3 626.1 126.7 625.3 127.1 624.5 127.5 623.9 127.9 623.3 128.3 622.7 128.6 622.3 129 621.8 129.4 621.5 129.8 621.2 130.2 620.9 130.6 620.7 131 620.5 131.3 620.3 131.7 620.2 132.1 620.2 132.5 620.2 132.9 620.2 133.3 620.2 133.7 620.3 134 620.3 134.4 620.4 134.8 620.5 135.2 620.6 135.6 620.7 136 620.8 136.3 620.9 136.7 621 137.1 621.1 137.5 621.3 137.9 621.4 138.3 621.6 138.7 621.7 139 621.9 139.4 622 139.8 622.2 140.2 622.3 140.6 622.5 141 622.7 141.4 622.9 141.7 623 142.1 623.2 142.5 623.4 142.9 623.6 143.3 623.8 143.7 623.9 144 624.1 144.4 624.3 144.8 624.5 145.2 624.7 145.6 624.9 146 625.1 146.4 625.3 146.7 625.5 147.1 625.6 147.5 625.8 147.9 626 148.3 626.2 148.7 626.4 149.1 626.6 149.4 626.8 149.8 627 150.2 627.2 150.6 627.4 151 627.6 151.4 627.8 151.7 627.9 152.1 628.1 152.5 628.3 152.9 628.5 153.3 628.7 153.7 628.9 154.1 629.1 154.4 629.3 154.8 629.4 155.2 629.6 155.6 629.8 156 630 156.4 630.2 156.8 630.3 157.1 630.5 157.5 630.7 157.9 630.9 158.3 631 158.7 630.3 159.1 628.5 159.4 626.4 159.8 624.2 160.2 622.1 160.6 619.9 161 617.8 161.4 615.7 161.8 613.8 162.1 611.9 162.5 610.2 162.9 608.5 163.3 607 163.7 605.5 164.1 604.2 164.4 602.9 164.8 601.8 165.2 600.8 165.6 599.8 166 599 166.4 598.3 166.8 597.6 167.1 597 167.5 596.5 167.9 596.1 168.3 595.8 168.7 595.5 169.1 595.3 169.5 595.2 169.8 595.1 170.2 595.1 170.6 595.1 171 595.2 171.4 595.4 171.8 595.5 172.1 595.7 172.5 595.8 172.9 596 173.3 596.2 173.7 596.4 174.1 596.7 174.5 596.9 174.8 597.1 175.2 597.4 175.6 597.6 176 597.9 176.4 598.1 176.8 598.4 177.2 598.7 177.5 599 177.9 599.2 178.3 599.5 178.7 599.8 179.1 600.1 179.5 600.4 179.8 600.7 180.2 601.1 180.6 601.4 181 601.7 181.4 602 181.8 602.3 182.2 602.7 182.5 603 182.9 603.3 183.3 603.6 183.7 604 184.1 604.3 184.5 604.6 184.9 605 185.2 605.3 185.6 605.6 186 605.9 186.4 606.3 186.8 606.6 187.2 606.9 187.5 607.3 187.9 607.6 188.3 607.9 188.7 608.3 189.1 608.6 189.5 608.9 189.9 609.3 190.2 609.6 190.6 609.9 191 610.2 191.4 610.6 191.8 610.9 192.2 611.2 192.6 611.5 192.9 611.8 193.3 612.2 193.7 612.5 194.1 612.8 194.5 613.1 194.9 613.4 195.2 613.7 195.6 614 196 614.3 196.4 614.6" stroke="#9400d3" stroke-width="0.8" fill="none" stroke-linejoin="round" stroke-opacity="0.55"/>
<path d="M81.3 645.8 81.7 645.8 82.1 645.8 82.5 645.8 82.8 645.8 83.2 645.8 83.6 645.8 84 645.8 84.4 645.8 84.8 645.8 85.1 645.8 85.5 645.8 85.9 645.8 86.3 645.8 86.7 645.8 87.1 645.8 87.5 645.8 87.8 645.8 88.2 645.7 88.6 645.7 89 645.7 89.4 645.7 89.8 645.7 90.2 645.6 90.5 645.6 90.9 645.6 91.3 645.6 91.7 645.6 92.1 645.6 92.5 645.5 92.8 645.5 93.2 645.5 93.6 645.5 94 645.5 94.4 645.5 94.8 645.5 95.2 645.5 95.5 645.5 95.9 645.5 96.3 645.5 96.7 645.5 97.1 645.5 97.5 645.5 97.9 645.5 98.2 645.5 98.6 645.5 99 645.5 99.4 645.5 99.8 645.5 100.2 645.5 100.5 645.5 100.9 645.5 101.3 645.5 101.7 645.5 102.1 645.5 102.5 645.5 102.9 645.5 103.2 645.5 103.6 645.5 104 645.5 104.4 645.5 104.8 645.5 105.2 645.5 105.6 645.5 105.9 645.5 106.3 645.5 106.7 645.5 107.1 645.5 107.5 645.5 107.9 645.5 108.2 645.5 108.6 645.5 109 645.5 109.4 645.5 109.8 645.5 110.2 645.5 110.6 645.5 110.9 645.5 111.3 645.5 111.7 645.5 112.1 645.5 112.5 645.5 112.9 645.5 113.3 645.5 113.6 645.5 114 645.6 114.4 645.6 114.8 645.6 115.2 645.6 115.6 645.6 115.9 645.6 116.3 645.6 116.7 645.6 117.1 645.6 117.5 645.6 117.9 645.6 118.3 645.6 118.6 645.6 119 645.6 119.4 645.6 119.8 645.6 120.2 645.6 120.6 645.6 120.9 645.6 121.3 645.5 121.7 645.4 122.1 645.2 122.5 645 122.9 644.8 123.3 644.7 123.6 644.5 124 644.3 124.4 644.2 124.8 644 125.2 643.9 125.6 643.7 126 643.6 126.3 643.5 126.7 643.4 127.1 643.3 127.5 643.2 127.9 643.1 128.3 643.1 128.6 643 129 642.9 129.4 642.9 129.8 642.8 130.2 642.8 130.6 642.8 131 642.7 131.3 642.7 131.7 642.7 132.1 642.7 132.5 642.7 132.9 642.7 133.3 642.7 133.7 642.7 134 642.7 134.4 642.7 134.8 642.7 135.2 642.7 135.6 642.7 136 642.7 136.3 642.7 136.7 642.8 137.1 642.8 137.5 642.8 137.9 642.8 138.3 642.8 138.7 642.8 139 642.8 139.4 642.8 139.8 642.9 140.2 642.9 140.6 642.9 141 642.9 141.4 642.9 141.7 642.9 142.1 643 142.5 643 142.9 643 143.3 643 143.7 643 144 643 144.4 643.1 144.8 643.1 145.2 643.1 145.6 643.1 146 643.1 146.4 643.2 146.7 643.2 147.1 643.2 147.5 643.2 147.9 643.2 148.3 643.3 148.7 643.3 149.1 643.3 149.4 643.3 149.8 643.3 150.2 643.4 150.6 643.4 151 643.4 151.4 643.4 151.7 643.4 152.1 643.5 152.5 643.5 152.9 643.5 153.3 643.5 153.7 643.5 154.1 643.6 154.4 643.6 154.8 643.6 155.2 643.6 155.6 643.6 156 643.7 156.4 643.7 156.8 643.7 157.1 643.7 157.5 643.7 157.9 643.8 158.3 643.8 158.7 643.6 159.1 643.2 159.4 642.8 159.8 642.4 160.2 641.9 160.6 641.5 161 641 161.4 640.6 161.8 640.1 162.1 639.7 162.5 639.4 162.9 639 163.3 638.6 163.7 638.3 164.1 638 164.4 637.7 164.8 637.4 165.2 637.2 165.6 637 166 636.7 166.4 636.5 166.8 636.4 167.1 636.2 167.5 636.1 167.9 635.9 168.3 635.8 168.7 635.7 169.1 635.6 169.5 635.6 169.8 635.5 170.2 635.5 170.6 635.4 171 635.4 171.4 635.4 171.8 635.4 172.1 635.4 172.5 635.4 172.9 635.4 173.3 635.5 173.7 635.5 174.1 635.5 174.5 635.5 174.8 635.6 175.2 635.6 175.6 635.6 176 635.7 176.4 635.7 176.8 635.7 177.2 635.8 177.5 635.8 177.9 635.8 178.3 635.9 178.7 635.9 179.1 636 179.5 636 179.8 636 180.2 636.1 180.6 636.1 181 636.2 181.4 636.2 181.8 636.3 182.2 636.3 182.5 636.4 182.9 636.4 183.3 636.4 183.7 636.5 184.1 636.5 184.5 636.6 184.9 636.6 185.2 636.7 185.6 636.7 186 636.8 186.4 636.8 186.8 636.9 187.2 636.9 187.5 637 187.9 637 188.3 637.1 188.7 637.1 189.1 637.2 189.5 637.3 189.9 637.3 190.2 637.4 190.6 637.4 191 637.5 191.4 637.5 191.8 637.6 192.2 637.6 192.6 637.7 192.9 637.7 193.3 637.8 193.7 637.8 194.1 637.9 194.5 637.9 194.9 638 195.2 638 195.6 638.1 196 638.1 196.4 638.2" stroke="#e51e10" stroke-width="0.6" fill="none" stroke-linejoin="round" stroke-opacity="0.5"/>
<rect x="279.2" y="26.8" width="162.2" height="126.6" fill="none" stroke="#7a7a7a" stroke-width="0.9"/>
<path d="M279.2 153.4v-2.0M279.2 26.8v2.0M295.42 153.4v-2.0M295.42 26.8v2.0M311.64 153.4v-2.0M311.64 26.8v2.0M327.86 153.4v-2.0M327.86 26.8v2.0M344.08 153.4v-2.0M344.08 26.8v2.0M360.3 153.4v-2.0M360.3 26.8v2.0M376.52 153.4v-2.0M376.52 26.8v2.0M392.74 153.4v-2.0M392.74 26.8v2.0M408.96 153.4v-2.0M408.96 26.8v2.0M425.18 153.4v-2.0M425.18 26.8v2.0M441.4 153.4v-2.0M441.4 26.8v2.0M279.2 153.4h2.0M279.2 132.3h2.0M279.2 111.2h2.0M279.2 90.1h2.0M279.2 69h2.0M279.2 47.9h2.0M279.2 26.8h2.0M441.4 153.4h-2.0M441.4 139.33h-2.0M441.4 125.27h-2.0M441.4 111.2h-2.0M441.4 97.13h-2.0M441.4 83.07h-2.0M441.4 69h-2.0M441.4 54.93h-2.0M441.4 40.87h-2.0M441.4 26.8h-2.0" stroke="#7a7a7a" stroke-width="0.6" fill="none"/>
<text x="275.2" y="155.5" font-size="6.1" text-anchor="end">0</text>
<text x="275.2" y="134.4" font-size="6.1" text-anchor="end">100</text>
<text x="275.2" y="113.3" font-size="6.1" text-anchor="end">200</text>
<text x="275.2" y="92.2" font-size="6.1" text-anchor="end">300</text>
<text x="275.2" y="71.1" font-size="6.1" text-anchor="end">400</text>
<text x="275.2" y="50" font-size="6.1" text-anchor="end">500</text>
<text x="275.2" y="28.9" font-size="6.1" text-anchor="end">600</text>
<text x="446.4" y="155.5" font-size="6.1">0</text>
<text x="446.4" y="141.43" font-size="6.1">50</text>
<text x="446.4" y="127.37" font-size="6.1">100</text>
<text x="446.4" y="113.3" font-size="6.1">150</text>
<text x="446.4" y="99.23" font-size="6.1">200</text>
<text x="446.4" y="85.17" font-size="6.1">250</text>
<text x="446.4" y="71.1" font-size="6.1">300</text>
<text x="446.4" y="57.03" font-size="6.1">350</text>
<text x="446.4" y="42.97" font-size="6.1">400</text>
<text x="446.4" y="28.9" font-size="6.1">450</text>
<text x="279.8" y="162.2" font-size="6.1" text-anchor="middle">0</text>
<text x="296.02" y="162.2" font-size="6.1" text-anchor="middle">10</text>
<text x="312.24" y="162.2" font-size="6.1" text-anchor="middle">20</text>
<text x="328.46" y="162.2" font-size="6.1" text-anchor="middle">30</text>
<text x="344.68" y="162.2" font-size="6.1" text-anchor="middle">40</text>
<text x="360.9" y="162.2" font-size="6.1" text-anchor="middle">50</text>
<text x="377.12" y="162.2" font-size="6.1" text-anchor="middle">60</text>
<text x="393.34" y="162.2" font-size="6.1" text-anchor="middle">70</text>
<text x="409.56" y="162.2" font-size="6.1" text-anchor="middle">80</text>
<text x="425.78" y="162.2" font-size="6.1" text-anchor="middle">90</text>
<text x="442" y="162.2" font-size="6.1" text-anchor="middle">100</text>
<text x="360.3" y="172" font-size="6.1" text-anchor="middle">days</text>
<text transform="translate(468.4,90.1) rotate(-90)" font-size="6.1" text-anchor="middle">memory cells</text>
<text x="414.8" y="34.8" font-size="6.1" text-anchor="end">Total</text>
<path d="M418 32.6H434.4" stroke="#3a3a3a" stroke-width="1.2" stroke-opacity="0.85"/>
<text x="414.8" y="41.4" font-size="6.1" text-anchor="end">B not Mem</text>
<path d="M418 39.2H434.4" stroke="#56b4e9" stroke-width="1.2" stroke-opacity="0.7"/>
<text x="414.8" y="48" font-size="6.1" text-anchor="end">B Mem (y2)</text>
<path d="M418 45.8H434.4" stroke="#009e73" stroke-width="1.2" stroke-opacity="0.8"/>
<text x="414.8" y="54.6" font-size="6.1" text-anchor="end">B isotype IgM</text>
<path d="M418 52.4H434.4" stroke="#e51e10" stroke-width="1.2" stroke-opacity="0.8"/>
<text x="414.8" y="61.2" font-size="6.1" text-anchor="end">B isotype IgG1</text>
<path d="M418 59H434.4" stroke="#9400d3" stroke-width="1.2" stroke-opacity="0.55"/>
<text x="414.8" y="67.8" font-size="6.1" text-anchor="end">B isotype IgG2</text>
<path d="M418 65.6H434.4" stroke="#e69f00" stroke-width="1.2" stroke-opacity="0.55"/>
<path d="M333.9 55.2 334.5 53.6 335 52.1 335.2 51.7 335.8 50 336.1 49 336.5 48 337.1 45.6 337.3 44.8 337.8 42.7 338.4 39.7 338.4 39.6 339.1 37.6 339.6 36.8 339.7 36.7 340.3 36.7 340.7 36.8 341 37 341.6 37.4 341.9 37.6 342.3 37.7 342.9 37.9 343 37.9 343.6 38.1 344.2 38.4 344.9 38.8 345.3 39 345.5 39.1 346.2 39.6 346.4 39.8 346.8 39.9 347.5 40.2 347.6 40.2 348.1 40.5 348.7 40.8 348.8 40.8 349.4 41 349.9 41.1 350.1 41.2 350.7 41.4 351 41.5 351.4 41.7 352 42.1 352.2 42.1 352.7 42.5 353.3 43 354 43.3 354.5 43.6 354.6 43.7 355.3 44.1 355.6 44.2 355.9 44.4 356.6 44.8 356.7 44.9 357.2 45.1 357.9 45.4 358.5 45.5 359 45.6 359.2 45.7 359.8 46 360.2 46.1 360.5 46.1 361.1 45.8 361.3 45.6 361.8 45.2 362.4 44.5 362.5 44.5 363.1 44.3 363.6 44.3 363.7 44.3 364.4 44.5 364.8 44.7 365 44.8 365.7 45.2 365.9 45.3 366.3 45.5 367 45.9 367.6 46 368.2 46.1 368.9 46.2 369.3 46.2 369.5 46.1 370.2 45.8 370.5 45.6 370.8 45.4 371.5 45.2 371.6 45.2 372.1 45.4 372.8 45.7 373.4 46 373.9 46.3 374.1 46.3 374.7 46.2 375 46.1 375.4 46.3 376 46.5 376.2 46.5 376.7 46.7 377.3 47 378 47.2 378.5 47.4 378.6 47.5 379.3 47.9 379.6 48 379.9 48.2 380.6 48.5 380.8 48.6 381.2 48.9 381.9 49.3 381.9 49.4 382.5 49.4 383.1 49.5 383.2 49.5 383.8 49.9 384.2 50 384.5 50.3 385.1 50.9 385.3 51.1 385.8 51.1 386.4 51 386.5 50.9 387.1 50.8 387.6 50.4 387.7 50.3 388.4 48.5 388.8 46.5 389 45.1 389.7 40.9 389.9 39.2 390.3 36.8 391 33.7 391.1 33.4 391.6 32.2 392.2 31.7 392.3 31.7 392.9 31.7 393.4 31.7 393.6 31.6 394.2 31.4 394.5 31.4 394.8 31.6 395.5 32 395.6 32.1 396.1 32.1 396.8 32.2 397.4 32.5 397.9 32.7 398.1 32.8 398.7 33.2 399.1 33.4 399.4 33.5 400 33.8 400.2 33.8 400.7 33.9 401.3 34.1 401.4 34.1 402 34.4 402.5 34.7 402.6 34.8 403.3 35.1 403.6 35.3 403.9 35.4 404.6 35.8 404.8 35.9 405.2 36 405.9 36.3 406.5 36.4 407.1 36.5 407.2 36.5 407.8 37 408.2 37.3 408.5 37.3 409.1 37.2 409.4 37.2 409.8 37.5 410.4 38 410.5 38.1 411.1 38.1 411.7 38.1 411.7 38.2 412.4 38.6 412.8 38.9 413 38.9 413.7 38.9 413.9 38.8 414.3 38.9 415 39.1 415.1 39.2 415.6 39.3 416.2 39.5 416.3 39.5 416.9 39.6 417.4 39.7 417.6 39.7 418.2 39.7 418.5 39.8 418.9 39.8 419.5 39.9 419.7 40 420.2 40.1 420.8 40.3 421.4 40.5 422 40.6 422.1 40.6 422.7 40.6 423.1 40.6 423.4 40.5 424 40.5 424.2 40.5 424.7 40.6 425.3 40.6 425.4 40.6 426 40.5 426.5 40.2 426.6 40 427.3 39.1 427.7 38.6 427.9 38.5 428.6 38.3 428.8 38.3 429.2 38.3 429.9 38.5 430 38.5 430.5 38.9 431.1 39.3 431.2 39.3 431.8 39.3 432.2 39.3 432.5 39.5 433.1 39.9 433.4 40.1 433.8 40.1 434.4 40.1 434.5 40.1 435.1 40.5 435.7 41 436.4 41.5 436.8 41.8 437 41.9 437.7 42.1 438 42.3 438.3 42.7 439 43.4 439.1 43.6 439.6 43.8 440.3 44.1 440.9 44.5 441.4 44.7" stroke="#3a3a3a" stroke-width="1.05" fill="none" stroke-linejoin="round" stroke-opacity="0.85"/>
<path d="M279.2 58.5 279.8 58.7 280.3 58.9 280.5 59 281.1 59.4 281.5 59.7 281.8 59.9 282.4 60.6 282.6 60.8 283.1 61.4 283.7 62.4 283.8 62.5 284.4 64.1 284.9 66.4 285 67 285.7 70.5 286.1 72.6 286.3 74.2 287 77.6 287.2 78.6 287.6 80.6 288.3 82.5 288.3 82.6 288.9 83.3 289.5 83.7 289.6 83.7 290.2 83.6 290.6 83.5 290.9 83.6 291.5 83.9 291.8 83.9 292.2 83.9 292.8 83.8 292.9 83.8 293.5 84 294 84.1 294.1 84.1 294.8 84.1 295.2 84 295.4 84.1 296.1 84.1 296.3 84.1 296.7 83.9 297.4 83.5 297.5 83.5 298 83.2 298.6 83 298.7 83 299.3 82.9 299.8 82.9 300 82.8 300.6 82.5 300.9 82.4 301.3 82.3 301.9 82.1 302 82.1 302.6 82.1 303.2 82.2 303.2 82.1 303.9 81.7 304.3 81.4 304.5 81.4 305.2 81.4 305.5 81.5 305.8 81.6 306.4 81.8 306.6 81.8 307.1 81.9 307.7 82.1 307.8 82.1 308.4 81.9 308.9 81.7 309 81.8 309.7 82 310 82.1 310.3 82.1 311 82.1 311.2 82.1 311.6 82.1 312.3 82.2 312.9 82.5 313.5 82.7 313.6 82.7 314.2 82.8 314.6 82.8 314.9 83 315.5 83.1 315.8 83.1 316.2 82.8 316.8 82.2 316.9 82.2 317.5 81.9 318 81.6 318.1 81.5 318.8 80.8 319.2 80.4 319.4 80.3 320.1 79.8 320.3 79.7 320.7 79.6 321.4 79.8 321.5 79.9 322 80 322.6 80.3 322.7 80.3 323.3 80.6 323.7 80.7 324 80.7 324.6 80.8 324.9 80.8 325.3 81 325.9 81.5 326 81.6 326.6 81.9 327.2 82.2 327.9 82.8 328.3 83.2 328.5 83.3 329.2 83.6 329.5 83.8 329.8 84.1 330.5 84.5 330.6 84.7 331.1 85 331.7 85.4 331.8 85.4 332.4 85.8 332.9 86.4 333.1 86.8 333.7 90.2 334 93.2 334.3 96.5 335 103.1 335.2 104.6 335.6 108.3 336.3 111.7 336.3 111.8 336.9 113.3 337.5 113.7 337.6 113.8 338.2 114.2 338.6 114.3 338.9 114.4 339.5 114.5 339.7 114.5 340.2 114.7 340.8 115 340.9 115 341.5 115.3 342 115.6 342.1 115.5 342.8 115.4 343.2 115.4 343.4 115.4 344.1 115.5 344.3 115.5 344.7 115.6 345.4 115.8 345.5 115.8 346 116.1 346.6 116.4 346.7 116.4 347.3 116.6 347.7 116.8 348 116.9 348.6 117.4 348.9 117.6 349.3 117.6 349.9 117.7 350 117.7 350.6 118 351.2 118.4 351.9 118.8 352.3 119.1 352.5 119.2 353.2 119.6 353.4 119.7 353.8 119.7 354.5 119.7 354.6 119.7 355.1 119.8 355.7 120 355.8 120 356.4 120.5 356.9 120.9 357.1 120.9 357.7 120.9 358 120.9 358.4 121.1 359 121.4 359.2 121.5 359.7 121.7 360.3 122 360.9 122.2 361.4 122.3 361.6 122.4 362.2 122.4 362.6 122.4 362.9 122.4 363.5 122.4 363.7 122.4 364.2 122.6 364.8 122.9 364.9 122.9 365.5 122.7 366 122.5 366.1 122.6 366.8 122.8 367.2 122.9 367.4 122.8 368.1 122.5 368.3 122.5 368.7 122.5 369.4 122.7 370 122.5 370.6 122.4 370.7 122.3 371.3 122.3 371.7 122.3 372 122.4 372.6 122.7 372.9 122.8 373.3 122.8 373.9 122.8 374 122.8 374.6 123.2 375.1 123.6 375.2 123.7 375.9 123.9 376.3 124.1 376.5 124.1 377.2 124.1 377.4 124.1 377.8 124.4 378.5 124.8 378.6 124.9 379.1 125 379.7 125.1 379.8 125.1 380.4 125.3 380.9 125.5 381.1 125.6 381.7 125.8 382 125.9 382.4 126.2 383 126.7 383.1 126.8 383.7 127.1 384.3 127.4 385 127.3 385.4 127.1 385.6 127.2 386.3 127.3 386.6 127.4 386.9 127.2 387.5 126.9 387.7 126.8 388.2 126.7 388.8 126.2 388.9 126.2 389.5 125.1 390 124 390.1 123.6 390.8 121.9 391.1 121.2 391.4 120.7 392.1 120.2 392.3 120.2 392.7 120.1 393.4 120.1 394 120.2 394.6 120.3 394.7 120.3 395.3 120.3 395.7 120.4 396 120.4 396.6 120.4 396.9 120.4 397.3 120.4 397.9 120.3 398 120.3 398.6 120.5 399.1 120.7 399.2 120.7 399.9 120.8 400.3 120.8 400.5 120.8 401.2 120.8 401.4 120.7 401.8 120.9 402.5 121.1 402.6 121.1 403.1 121.2 403.7 121.2 403.8 121.2 404.4 121 404.8 121 405.1 121.1 405.7 121.4 406 121.5 406.4 121.6 407 121.8 407.1 121.8 407.7 122.1 408.3 122.4 409 122.4 409.4 122.4 409.6 122.5 410.3 122.5 410.6 122.6 410.9 122.8 411.6 123.1 411.7 123.2 412.2 123.2 412.8 123.1 412.9 123.1 413.5 123.3 414 123.4 414.2 123.5 414.8 123.8 415.1 124 415.4 124 416.1 124 416.3 123.9 416.7 124.1 417.4 124.3 418 124.4 418.6 124.5 418.7 124.5 419.3 124.8 419.7 124.9 420 124.9 420.6 125 420.8 125 421.3 125.1 421.9 125.2 422 125.2 422.6 125.6 423.1 125.9 423.2 125.9 423.9 125.9 424.3 125.8 424.5 125.6 425.2 125.2 425.4 125.1 425.8 124.9 426.5 124.6 426.6 124.6 427.1 124.6 427.7 124.7 427.8 124.6 428.4 124.5 428.8 124.5 429.1 124.5 429.7 124.7 430 124.8 430.4 125 431 125.3 431.1 125.3 431.7 125.5 432.3 125.7 433 125.9 433.4 126.1 433.6 126.1 434.3 126.2 434.5 126.3 434.9 126.3 435.6 126.3 435.7 126.3 436.2 126.5 436.8 126.7 436.9 126.7 437.5 126.8 438 126.9 438.2 126.9 438.8 126.9 439.1 126.9 439.5 127.1 440.1 127.4 440.3 127.5 440.8 127.5 441.4 127.4" stroke="#56b4e9" stroke-width="1.05" fill="none" stroke-linejoin="round" stroke-opacity="0.85"/>
<path d="M279.2 153.4 279.8 153.4 280.3 153.3 280.5 153.2 281.1 152.1 281.5 151.2 281.8 150.3 282.4 148.2 282.6 147.7 283.1 146.2 283.7 144 283.8 143.9 284.4 141.4 284.9 138.5 285 137.8 285.7 133.5 286.1 130.8 286.3 128.7 287 123.6 287.2 122 287.6 118.7 288.3 115.2 288.3 115 288.9 113.6 289.5 113 289.6 112.9 290.2 112.5 290.6 112.4 290.9 112.3 291.5 112.3 291.8 112.3 292.2 112.2 292.8 112.2 292.9 112.2 293.5 112.1 294 112.1 294.1 112.1 294.8 112 295.2 111.9 295.4 111.9 296.1 111.8 296.3 111.7 296.7 111.7 297.4 111.8 297.5 111.8 298 111.8 298.6 111.8 298.7 111.8 299.3 111.8 299.8 111.8 300 111.8 300.6 111.9 300.9 111.9 301.3 111.9 301.9 111.9 302 111.9 302.6 111.8 303.2 111.8 303.9 111.8 304.3 111.8 304.5 111.8 305.2 111.8 305.5 111.8 305.8 111.8 306.4 111.8 306.6 111.8 307.1 111.8 307.7 111.9 307.8 111.9 308.4 111.9 308.9 111.8 309 111.8 309.7 111.8 310 111.8 310.3 111.8 311 111.8 311.2 111.8 311.6 111.9 312.3 111.9 312.9 111.9 313.5 111.8 313.6 111.8 314.2 111.9 314.6 111.9 314.9 111.9 315.5 111.8 315.8 111.7 316.2 111.7 316.8 111.8 316.9 111.8 317.5 111.8 318 111.8 318.1 111.8 318.8 111.9 319.2 111.9 319.4 111.8 320.1 111.8 320.3 111.7 320.7 111.8 321.4 111.8 321.5 111.8 322 111.8 322.6 111.8 322.7 111.8 323.3 111.8 323.7 111.8 324 111.8 324.6 111.8 324.9 111.8 325.3 111.8 325.9 111.8 326 111.9 326.6 111.8 327.2 111.8 327.9 111.8 328.3 111.8 328.5 111.9 329.2 111.9 329.5 111.9 329.8 111.9 330.5 111.9 330.6 111.9 331.1 111.8 331.7 111.8 331.8 111.8 332.4 111.4 332.9 109.7 333.1 108.8 333.7 101.3 334 95.7 334.3 89.6 335 76.7 335.2 73.3 335.6 64.8 336.3 57.2 336.3 57.1 336.9 54 337.5 52.6 337.6 52.3 338.2 50.8 338.6 50.3 338.9 50 339.5 49.7 339.7 49.7 340.2 49.6 340.8 49.4 340.9 49.4 341.5 49.4 342 49.5 342.1 49.4 342.8 49.3 343.2 49.3 343.4 49.3 344.1 49.3 344.3 49.3 344.7 49.2 345.4 49.2 345.5 49.2 346 49.2 346.6 49.3 346.7 49.3 347.3 49.3 347.7 49.3 348 49.3 348.6 49.3 348.9 49.3 349.3 49.3 349.9 49.4 350 49.4 350.6 49.4 351.2 49.4 351.9 49.4 352.3 49.3 352.5 49.4 353.2 49.5 353.4 49.5 353.8 49.6 354.5 49.6 354.6 49.6 355.1 49.6 355.7 49.6 355.8 49.6 356.4 49.5 356.9 49.5 357.1 49.5 357.7 49.6 358 49.6 358.4 49.6 359 49.7 359.2 49.7 359.7 49.7 360.3 49.7 360.9 49.7 361.4 49.8 361.6 49.8 362.2 49.8 362.6 49.8 362.9 49.8 363.5 49.9 363.7 49.9 364.2 49.8 364.8 49.8 364.9 49.8 365.5 49.9 366 49.9 366.1 49.9 366.8 50 367.2 50 367.4 50.1 368.1 50.1 368.3 50.2 368.7 50.2 369.4 50.3 370 50.4 370.6 50.6 370.7 50.6 371.3 50.6 371.7 50.6 372 50.6 372.6 50.6 372.9 50.6 373.3 50.7 373.9 50.8 374 50.8 374.6 50.9 375.1 51 375.2 51 375.9 51 376.3 51 376.5 51 377.2 51.2 377.4 51.2 377.8 51.2 378.5 51.3 378.6 51.3 379.1 51.4 379.7 51.5 379.8 51.5 380.4 51.6 380.9 51.7 381.1 51.7 381.7 51.7 382 51.7 382.4 51.8 383 51.9 383.1 51.9 383.7 52 384.3 52 385 52 385.4 52 385.6 52 386.3 52.2 386.6 52.2 386.9 52.1 387.5 50.8 387.7 50 388.2 47.5 388.8 43.9 388.9 43.9 389.5 41.3 390 39.6 390.1 39.1 390.8 37 391.1 36 391.4 35.4 392.1 34.7 392.3 34.7 392.7 34.7 393.4 34.8 394 35 394.6 35.1 394.7 35.1 395.3 35.1 395.7 35.1 396 35.2 396.6 35.4 396.9 35.5 397.3 35.6 397.9 35.8 398 35.8 398.6 35.9 399.1 36 399.2 36.1 399.9 36.2 400.3 36.3 400.5 36.3 401.2 36.4 401.4 36.4 401.8 36.4 402.5 36.5 402.6 36.5 403.1 36.6 403.7 36.7 403.8 36.7 404.4 36.8 404.8 36.9 405.1 36.9 405.7 36.9 406 36.9 406.4 37 407 37.1 407.1 37.1 407.7 37.1 408.3 37.1 409 37.3 409.4 37.5 409.6 37.5 410.3 37.5 410.6 37.5 410.9 37.5 411.6 37.6 411.7 37.6 412.2 37.7 412.8 37.8 412.9 37.8 413.5 37.8 414 37.8 414.2 37.9 414.8 38 415.1 38.1 415.4 38.2 416.1 38.3 416.3 38.3 416.7 38.3 417.4 38.4 418 38.6 418.6 38.7 418.7 38.7 419.3 38.7 419.7 38.7 420 38.8 420.6 38.9 420.8 38.9 421.3 39 421.9 39 422 39 422.6 39.1 423.1 39.1 423.2 39.2 423.9 39.3 424.3 39.4 424.5 39.4 425.2 39.6 425.4 39.6 425.8 39.7 426.5 39.7 426.6 39.7 427.1 39.8 427.7 39.9 427.8 39.9 428.4 40 428.8 40.1 429.1 40.1 429.7 40.2 430 40.2 430.4 40.3 431 40.3 431.1 40.3 431.7 40.6 432.3 40.9 433 41.1 433.4 41.3 433.6 41.3 434.3 41.4 434.5 41.5 434.9 41.6 435.6 41.9 435.7 41.9 436.2 42.1 436.8 42.2 436.9 42.2 437.5 42.5 438 42.7 438.2 42.8 438.8 43 439.1 43 439.5 43.2 440.1 43.4 440.3 43.5 440.8 43.6 441.4 43.8" stroke="#009e73" stroke-width="1.05" fill="none" stroke-linejoin="round" stroke-opacity="0.85"/>
<path d="M279.2 58.3 279.8 57.8 280.3 57.4 280.5 57.3 281.1 56.8 281.5 56.5 281.8 56.2 282.4 55.7 282.6 55.6 283.1 55.4 283.7 55.2 283.8 55.2 284.4 54.8 284.9 54.5 285 54.5 285.7 54.6 286.1 54.6 286.3 54.4 287 53.9 287.2 53.8 287.6 53.5 288.3 53 288.9 53 289.5 53 289.6 53 290.2 52.8 290.6 52.7 290.9 52.8 291.5 53 291.8 53.1 292.2 53 292.8 52.8 292.9 52.8 293.5 52.8 294 52.8 294.1 52.8 294.8 52.6 295.2 52.5 295.4 52.4 296.1 52.3 296.3 52.2 296.7 52.2 297.4 52.3 297.5 52.3 298 52.1 298.6 51.8 298.7 51.8 299.3 51.6 299.8 51.5 300 51.4 300.6 51 300.9 50.8 301.3 50.7 301.9 50.6 302 50.6 302.6 50.7 303.2 50.7 303.9 50.4 304.3 50.3 304.5 50.3 305.2 50.6 305.5 50.7 305.8 50.7 306.4 50.5 306.6 50.5 307.1 50.6 307.7 50.8 307.8 50.8 308.4 50.9 308.9 50.9 309 50.9 309.7 50.6 310 50.5 310.3 50.6 311 51 311.2 51.1 311.6 51.3 312.3 51.4 312.9 51.3 313.5 51.3 313.6 51.3 314.2 51.5 314.6 51.6 314.9 51.8 315.5 52 315.8 52 316.2 51.6 316.8 51 316.9 50.9 317.5 50.7 318 50.4 318.1 50.3 318.8 49.9 319.2 49.6 319.4 49.5 320.1 49.2 320.3 49.2 320.7 48.9 321.4 48.7 321.5 48.7 322 49.1 322.6 49.5 322.7 49.6 323.3 49.9 323.7 50.1 324 50.3 324.6 50.7 324.9 50.9 325.3 51.3 325.9 51.9 326 52 326.6 52.3 327.2 52.7 327.9 53.2 328.3 53.5 328.5 53.6 329.2 54 329.5 54.2 329.8 54.4 330.5 54.9 330.6 55 331.1 55.2 331.7 55.5 331.8 55.5 332.4 55.6 332.9 55.6 333.1 55.6 333.7 55.4 334 54.9 334.3 54 335 51.4 335.2 50.7 335.6 49 336.3 46.9 336.9 45.8 337.5 45.7 337.6 45.7 338.2 45.8 338.6 45.9 338.9 46 339.5 46.5 339.7 46.6 340.2 46.8 340.8 47.2 340.9 47.2 341.5 47.4 342 47.6 342.1 47.7 342.8 47.9 343.2 48 343.4 48.2 344.1 48.8 344.3 49 344.7 48.9 345.4 48.9 345.5 48.9 346 49.4 346.6 50 346.7 50 347.3 50 347.7 50 348 50.1 348.6 50.3 348.9 50.4 349.3 50.7 349.9 51.3 350 51.4 350.6 51.4 351.2 51.4 351.9 51.8 352.3 52.1 352.5 52.2 353.2 52.4 353.4 52.4 353.8 52.7 354.5 53.2 354.6 53.3 355.1 53.5 355.7 53.9 355.8 53.9 356.4 54.4 356.9 54.7 357.1 54.7 357.7 54.9 358 55 358.4 55.3 359 55.8 359.2 55.9 359.7 55.7 360.3 55.3 360.9 55 361.4 54.8 361.6 54.7 362.2 54.5 362.6 54.4 362.9 54.4 363.5 54.6 363.7 54.7 364.2 54.8 364.8 55 364.9 55 365.5 55.1 366 55.2 366.1 55.2 366.8 55.3 367.2 55.4 367.4 55.6 368.1 56 368.3 56.1 368.7 55.9 369.4 55.7 370 55.6 370.6 55.5 370.7 55.5 371.3 55.5 371.7 55.4 372 55.5 372.6 55.7 372.9 55.9 373.3 55.7 373.9 55.5 374 55.5 374.6 55.9 375.1 56.3 375.2 56.3 375.9 56.5 376.3 56.5 376.5 56.6 377.2 56.7 377.4 56.7 377.8 56.8 378.5 56.9 378.6 57 379.1 57.3 379.7 57.7 379.8 57.7 380.4 57.7 380.9 57.8 381.1 57.9 381.7 58.2 382 58.4 382.4 58.6 383 58.9 383.1 58.9 383.7 59.1 384.3 59.3 384.3 59.4 385 59.6 385.4 59.8 385.6 59.9 386.3 60.2 386.6 60.3 386.9 60.4 387.5 60.4 387.7 60.4 388.2 59.7 388.8 57.8 388.9 57.7 389.5 55.3 390 53.3 390.1 52.8 390.8 51.1 391.1 50.7 391.4 50.4 392.1 50.3 392.3 50.3 392.7 50.2 393.4 50 393.4 49.9 394 50.2 394.6 50.4 394.7 50.5 395.3 50.6 395.7 50.7 396 50.8 396.6 51 396.9 51 397.3 51 397.9 51 398 51 398.6 51.1 399.1 51.1 399.2 51.1 399.9 51.4 400.3 51.5 400.5 51.6 401.2 51.7 401.4 51.8 401.8 51.9 402.5 52.2 402.6 52.3 403.1 52.2 403.7 52.1 403.8 52.2 404.4 52.8 404.8 53.2 405.1 53.2 405.7 53.3 406 53.3 406.4 53.4 407 53.6 407.1 53.6 407.7 54 408.3 54.5 409 54.6 409.4 54.6 409.6 54.6 410.3 54.8 410.6 54.9 410.9 55.1 411.6 55.5 411.7 55.6 412.2 55.7 412.8 55.9 412.9 55.9 413.5 56.4 414 56.7 414.2 56.7 414.8 56.7 415.1 56.7 415.4 56.8 416.1 57 416.3 57.1 416.7 57 417.4 56.8 418 57.1 418.6 57.4 418.7 57.4 419.3 57.4 419.7 57.5 420 57.4 420.6 57.4 420.8 57.3 421.3 57.4 421.9 57.6 422 57.6 422.6 57.7 423.1 57.7 423.2 57.8 423.9 58.1 424.3 58.3 424.5 58.3 425.2 58.3 425.4 58.2 425.8 57.9 426.5 57.1 426.6 57 427.1 56.4 427.7 55.9 427.8 55.8 428.4 55.5 428.8 55.5 429.1 55.6 429.7 55.8 430 55.9 430.4 56.1 431 56.4 431.1 56.5 431.7 56.7 432.3 56.8 433 56.9 433.4 56.9 433.6 57 434.3 57.3 434.5 57.4 434.9 57.6 435.6 58 435.7 58.1 436.2 58.3 436.8 58.7 436.9 58.7 437.5 59 438 59.2 438.2 59.3 438.8 59.7 439.1 59.9 439.5 60 440.1 60.2 440.3 60.2 440.8 60.4 441.4 60.5" stroke="#e51e10" stroke-width="1.05" fill="none" stroke-linejoin="round" stroke-opacity="0.9"/>
<path d="M279.2 153.4 279.8 153.4 280.3 153.3 280.5 153.3 281.1 153.4 281.5 153.4 281.8 153.4 282.4 153.4 282.6 153.5 283.1 153.5 283.7 153.5 283.8 153.5 284.4 153.4 284.9 153.4 285 153.4 285.7 153.4 286.1 153.4 286.3 153.4 287 153.4 287.2 153.3 287.6 153.4 288.3 153.4 288.9 153.4 289.5 153.3 289.6 153.4 290.2 153.4 290.6 153.4 290.9 153.4 291.5 153.4 291.8 153.3 292.2 153.3 292.8 153.4 292.9 153.4 293.5 153.4 294 153.4 294.1 153.4 294.8 153.4 295.2 153.4 295.4 153.4 296.1 153.4 296.3 153.4 296.7 153.4 297.4 153.5 297.5 153.5 298 153.4 298.6 153.4 298.7 153.4 299.3 153.4 299.8 153.3 300 153.4 300.6 153.4 300.9 153.4 301.3 153.4 301.9 153.3 302 153.3 302.6 153.3 303.2 153.4 303.9 153.3 304.3 153.3 304.5 153.3 305.2 153.4 305.5 153.4 305.8 153.4 306.4 153.5 306.6 153.5 307.1 153.4 307.7 153.3 307.8 153.3 308.4 153.3 308.9 153.3 309 153.3 309.7 153.4 310 153.4 310.3 153.4 311 153.5 311.2 153.5 311.6 153.5 312.3 153.5 312.9 153.4 313.5 153.4 313.6 153.4 314.2 153.4 314.6 153.4 314.9 153.4 315.5 153.3 315.8 153.3 316.2 153.3 316.8 153.4 316.9 153.4 317.5 153.4 318 153.5 318.1 153.5 318.8 153.4 319.2 153.4 319.4 153.4 320.1 153.4 320.3 153.4 320.7 153.4 321.4 153.3 321.5 153.3 322 153.3 322.6 153.3 322.7 153.3 323.3 153.4 323.7 153.4 324 153.4 324.6 153.4 324.9 153.4 325.3 153.4 325.9 153.4 326 153.4 326.6 153.3 327.2 153.3 327.9 153.3 328.3 153.3 328.5 153.3 329.2 153.4 329.5 153.5 329.8 153.5 330.5 153.4 330.6 153.4 331.1 153.4 331.7 153.4 331.8 153.4 332.4 153.4 332.9 153.4 333.1 153.4 333.7 153.4 334 153.4 334.3 153.3 335 153 335.2 152.7 335.6 151.6 336.3 149.7 336.9 148 337.5 147 337.6 146.7 338.2 145.8 338.6 145.5 338.9 145.3 339.5 145.2 339.7 145.2 340.2 145.2 340.8 145.2 340.9 145.2 341.5 145.3 342 145.3 342.1 145.3 342.8 145.2 343.2 145.2 343.4 145.2 344.1 145.3 344.3 145.3 344.7 145.3 345.4 145.3 345.5 145.3 346 145.2 346.6 145.2 346.7 145.2 347.3 145.2 347.7 145.2 348 145.3 348.6 145.3 348.9 145.4 349.3 145.3 349.9 145.2 350 145.2 350.6 145.3 351.2 145.4 351.9 145.4 352.3 145.3 352.5 145.3 353.2 145.3 353.4 145.2 353.8 145.3 354.5 145.3 354.6 145.3 355.1 145.3 355.7 145.4 355.8 145.4 356.4 145.4 356.9 145.4 357.1 145.4 357.7 145.4 358 145.4 358.4 145.4 359 145.4 359.2 145.4 359.7 145.4 360.3 145.3 360.9 145.4 361.4 145.5 361.6 145.5 362.2 145.5 362.6 145.5 362.9 145.4 363.5 145.4 363.7 145.4 364.2 145.5 364.8 145.5 364.9 145.5 365.5 145.5 366 145.4 366.1 145.4 366.8 145.5 367.2 145.6 367.4 145.6 368.1 145.5 368.3 145.5 368.7 145.5 369.4 145.5 370 145.5 370.6 145.6 370.7 145.6 371.3 145.6 371.7 145.6 372 145.6 372.6 145.7 372.9 145.7 373.3 145.7 373.9 145.6 374 145.6 374.6 145.6 375.1 145.7 375.2 145.7 375.9 145.7 376.3 145.7 376.5 145.8 377.2 145.8 377.4 145.8 377.8 145.8 378.5 145.8 378.6 145.8 379.1 145.8 379.7 145.9 379.8 145.9 380.4 145.9 380.9 145.9 381.1 145.9 381.7 145.9 382 145.8 382.4 145.9 383 145.9 383.1 146 383.7 146 384.3 145.9 385 145.9 385.4 145.9 385.6 145.9 386.3 146 386.6 146 386.9 146 387.5 145.4 387.7 145.1 388.2 143.9 388.8 142.1 388.9 142.1 389.5 140.7 390 140 390.1 139.8 390.8 139.2 391.1 138.8 391.4 138.6 392.1 137.9 392.3 137.8 392.7 137.4 393.4 137.1 394 137 394.6 136.9 394.7 137 395.3 137.1 395.7 137.1 396 137.1 396.6 137.2 396.9 137.2 397.3 137.1 397.9 137.1 398 137.1 398.6 137.2 399.1 137.2 399.2 137.3 399.9 137.3 400.3 137.4 400.5 137.4 401.2 137.4 401.4 137.4 401.8 137.4 402.5 137.4 402.6 137.5 403.1 137.5 403.7 137.6 403.8 137.6 404.4 137.6 404.8 137.6 405.1 137.6 405.7 137.7 406 137.7 406.4 137.7 407 137.6 407.1 137.6 407.7 137.7 408.3 137.8 409 137.8 409.4 137.8 409.6 137.8 410.3 137.8 410.6 137.8 410.9 137.8 411.6 137.8 411.7 137.8 412.2 137.9 412.8 138 412.9 138 413.5 138 414 138 414.2 138 414.8 138.1 415.1 138.1 415.4 138.1 416.1 138.1 416.3 138.1 416.7 138.2 417.4 138.2 418 138.2 418.6 138.2 418.7 138.2 419.3 138.2 419.7 138.2 420 138.2 420.6 138.3 420.8 138.4 421.3 138.4 421.9 138.5 422 138.5 422.6 138.5 423.1 138.4 423.2 138.5 423.9 138.5 424.3 138.6 424.5 138.6 425.2 138.6 425.4 138.6 425.8 138.6 426.5 138.5 426.6 138.5 427.1 138.6 427.7 138.7 427.8 138.7 428.4 138.7 428.8 138.6 429.1 138.7 429.7 138.7 430 138.8 430.4 138.7 431 138.7 431.1 138.7 431.7 138.7 432.3 138.8 433 138.9 433.4 139 433.6 139 434.3 139 434.5 139 434.9 139 435.6 138.9 435.7 138.9 436.2 139 436.8 139 436.9 139 437.5 139.1 438 139.1 438.2 139.1 438.8 139.1 439.1 139.1 439.5 139.1 440.1 139.1 440.3 139.1 440.8 139.2 441.4 139.3" stroke="#9400d3" stroke-width="1.05" fill="none" stroke-linejoin="round" stroke-opacity="0.75"/>
<path d="M279.2 153.4 279.8 153.4 280.3 153.4 280.5 153.4 281.1 153.4 281.5 153.4 281.8 153.4 282.4 153.4 282.6 153.5 283.1 153.4 283.7 153.4 283.8 153.4 284.4 153.4 284.9 153.4 285 153.4 285.7 153.4 286.1 153.5 286.3 153.4 287 153.4 287.2 153.4 287.6 153.4 288.3 153.5 288.9 153.4 289.5 153.4 289.6 153.4 290.2 153.4 290.6 153.5 290.9 153.5 291.5 153.5 291.8 153.5 292.2 153.4 292.8 153.4 292.9 153.4 293.5 153.4 294 153.4 294.1 153.4 294.8 153.4 295.2 153.4 295.4 153.4 296.1 153.4 296.3 153.4 296.7 153.4 297.4 153.4 297.5 153.4 298 153.4 298.6 153.3 298.7 153.3 299.3 153.4 299.8 153.4 300 153.4 300.6 153.4 300.9 153.4 301.3 153.4 301.9 153.3 302 153.3 302.6 153.4 303.2 153.5 303.9 153.4 304.3 153.4 304.5 153.4 305.2 153.4 305.5 153.4 305.8 153.4 306.4 153.4 306.6 153.4 307.1 153.4 307.7 153.4 307.8 153.4 308.4 153.4 308.9 153.4 309 153.4 309.7 153.4 310 153.4 310.3 153.4 311 153.4 311.2 153.4 311.6 153.4 312.3 153.4 312.9 153.4 313.5 153.4 313.6 153.4 314.2 153.4 314.6 153.4 314.9 153.4 315.5 153.4 315.8 153.4 316.2 153.4 316.8 153.5 316.9 153.5 317.5 153.5 318 153.5 318.1 153.5 318.8 153.4 319.2 153.4 319.4 153.4 320.1 153.4 320.3 153.4 320.7 153.4 321.4 153.4 321.5 153.4 322 153.4 322.6 153.4 322.7 153.4 323.3 153.4 323.7 153.4 324 153.4 324.6 153.4 324.9 153.4 325.3 153.4 325.9 153.4 326 153.4 326.6 153.4 327.2 153.4 327.9 153.4 328.3 153.4 328.5 153.4 329.2 153.4 329.5 153.4 329.8 153.4 330.5 153.4 330.6 153.4 331.1 153.4 331.7 153.4 331.8 153.4 332.4 153.4 332.9 153.4 333.1 153.4 333.7 153.4 334 153.4 334.3 153.4 335 153.4 335.2 153.4 335.6 153.4 336.3 153.2 336.9 153.1 337.5 153 337.6 152.9 338.2 152.7 338.6 152.6 338.9 152.5 339.5 152.4 339.7 152.3 340.2 152.3 340.8 152.4 340.9 152.4 341.5 152.4 342 152.3 342.1 152.4 342.8 152.4 343.2 152.4 343.4 152.4 344.1 152.3 344.3 152.3 344.7 152.3 345.4 152.3 345.5 152.3 346 152.3 346.6 152.3 346.7 152.3 347.3 152.3 347.7 152.3 348 152.3 348.6 152.4 348.9 152.4 349.3 152.4 349.9 152.3 350 152.3 350.6 152.3 351.2 152.3 351.9 152.3 352.3 152.3 352.5 152.3 353.2 152.3 353.4 152.4 353.8 152.3 354.5 152.3 354.6 152.3 355.1 152.3 355.7 152.3 355.8 152.3 356.4 152.3 356.9 152.3 357.1 152.3 357.7 152.3 358 152.3 358.4 152.3 359 152.4 359.2 152.4 359.7 152.4 360.3 152.3 360.9 152.3 361.4 152.3 361.6 152.3 362.2 152.3 362.6 152.3 362.9 152.3 363.5 152.3 363.7 152.3 364.2 152.3 364.8 152.4 364.9 152.4 365.5 152.4 366 152.4 366.1 152.4 366.8 152.3 367.2 152.3 367.4 152.3 368.1 152.4 368.3 152.4 368.7 152.4 369.4 152.4 369.4 152.3 370 152.4 370.6 152.4 370.7 152.4 371.3 152.4 371.7 152.4 372 152.4 372.6 152.4 372.9 152.4 373.3 152.4 373.9 152.3 374 152.3 374.6 152.4 375.1 152.4 375.2 152.4 375.9 152.4 376.3 152.4 376.5 152.4 377.2 152.4 377.4 152.4 377.8 152.3 378.5 152.3 378.6 152.3 379.1 152.3 379.7 152.4 379.8 152.4 380.4 152.4 380.9 152.4 381.1 152.3 381.7 152.3 382 152.3 382.4 152.3 383 152.3 383.1 152.3 383.7 152.3 384.3 152.3 385 152.3 385.4 152.3 385.6 152.3 386.3 152.4 386.6 152.4 386.9 152.4 387.5 152.3 387.7 152.3 388.2 152.2 388.8 152.1 388.9 152.1 389.5 151.9 390 151.7 390.1 151.7 390.8 151.5 391.1 151.5 391.4 151.5 392.1 151.5 392.3 151.6 392.7 151.6 393.4 151.6 394 151.6 394.6 151.5 394.7 151.5 395.3 151.6 395.7 151.6 396 151.5 396.6 151.5 396.9 151.5 397.3 151.5 397.9 151.5 398 151.5 398.6 151.5 399.1 151.6 399.2 151.6 399.9 151.6 400.3 151.6 400.5 151.6 401.2 151.6 401.4 151.6 401.8 151.6 402.5 151.6 402.6 151.6 403.1 151.6 403.7 151.5 403.8 151.5 404.4 151.5 404.8 151.5 405.1 151.5 405.7 151.5 406 151.5 406.4 151.5 407 151.6 407.1 151.6 407.7 151.6 408.3 151.6 409 151.6 409.4 151.6 409.6 151.6 410.3 151.6 410.6 151.6 410.9 151.6 411.6 151.5 411.7 151.5 412.2 151.5 412.8 151.6 412.9 151.6 413.5 151.6 414 151.5 414.2 151.6 414.8 151.6 415.1 151.6 415.4 151.6 416.1 151.6 416.3 151.6 416.7 151.6 417.4 151.6 418 151.6 418.6 151.7 418.7 151.7 419.3 151.6 419.7 151.6 420 151.6 420.6 151.7 420.8 151.7 421.3 151.7 421.9 151.7 422 151.7 422.6 151.7 423.1 151.7 423.2 151.7 423.9 151.7 424.3 151.7 424.5 151.7 425.2 151.7 425.4 151.7 425.8 151.7 426.5 151.7 426.6 151.7 427.1 151.7 427.7 151.7 427.8 151.7 428.4 151.7 428.8 151.7 429.1 151.7 429.7 151.7 430 151.7 430.4 151.7 431 151.7 431.1 151.7 431.7 151.7 432.3 151.7 433 151.7 433.4 151.6 433.6 151.6 434.3 151.7 434.5 151.7 434.9 151.7 435.6 151.7 435.7 151.7 436.2 151.7 436.8 151.7 436.9 151.7 437.5 151.7 438 151.7 438.2 151.7 438.8 151.7 439.1 151.7 439.5 151.7 440.1 151.8 440.3 151.8 440.8 151.7 441.4 151.7" stroke="#e69f00" stroke-width="1.05" fill="none" stroke-linejoin="round" stroke-opacity="0.7"/>
<rect x="281.6" y="195.5" width="159.2" height="123.7" fill="none" stroke="#7a7a7a" stroke-width="0.9"/>
<path d="M281.6 319.2v-2.0M281.6 195.5v2.0M297.52 319.2v-2.0M297.52 195.5v2.0M313.44 319.2v-2.0M313.44 195.5v2.0M329.36 319.2v-2.0M329.36 195.5v2.0M345.28 319.2v-2.0M345.28 195.5v2.0M361.2 319.2v-2.0M361.2 195.5v2.0M377.12 319.2v-2.0M377.12 195.5v2.0M393.04 319.2v-2.0M393.04 195.5v2.0M408.96 319.2v-2.0M408.96 195.5v2.0M424.88 319.2v-2.0M424.88 195.5v2.0M440.8 319.2v-2.0M440.8 195.5v2.0M281.6 319.2h2.0M281.6 303.74h2.0M281.6 288.27h2.0M281.6 272.81h2.0M281.6 257.35h2.0M281.6 241.89h2.0M281.6 226.42h2.0M281.6 210.96h2.0M281.6 195.5h2.0M440.8 319.2h-2.0M440.8 306.83h-2.0M440.8 294.46h-2.0M440.8 282.09h-2.0M440.8 269.72h-2.0M440.8 257.35h-2.0M440.8 244.98h-2.0M440.8 232.61h-2.0M440.8 220.24h-2.0M440.8 207.87h-2.0M440.8 195.5h-2.0" stroke="#7a7a7a" stroke-width="0.6" fill="none"/>
<text x="277.6" y="321.3" font-size="6.1" text-anchor="end">0</text>
<text x="277.6" y="305.84" font-size="6.1" text-anchor="end">100</text>
<text x="277.6" y="290.38" font-size="6.1" text-anchor="end">200</text>
<text x="277.6" y="274.91" font-size="6.1" text-anchor="end">300</text>
<text x="277.6" y="259.45" font-size="6.1" text-anchor="end">400</text>
<text x="277.6" y="243.99" font-size="6.1" text-anchor="end">500</text>
<text x="277.6" y="228.52" font-size="6.1" text-anchor="end">600</text>
<text x="277.6" y="213.06" font-size="6.1" text-anchor="end">700</text>
<text x="277.6" y="197.6" font-size="6.1" text-anchor="end">800</text>
<text x="445.8" y="321.3" font-size="6.1">0</text>
<text x="445.8" y="308.93" font-size="6.1">50</text>
<text x="445.8" y="296.56" font-size="6.1">100</text>
<text x="445.8" y="284.19" font-size="6.1">150</text>
<text x="445.8" y="271.82" font-size="6.1">200</text>
<text x="445.8" y="259.45" font-size="6.1">250</text>
<text x="445.8" y="247.08" font-size="6.1">300</text>
<text x="445.8" y="234.71" font-size="6.1">350</text>
<text x="445.8" y="222.34" font-size="6.1">400</text>
<text x="445.8" y="209.97" font-size="6.1">450</text>
<text x="445.8" y="197.6" font-size="6.1">500</text>
<text x="282.2" y="328" font-size="6.1" text-anchor="middle">0</text>
<text x="298.12" y="328" font-size="6.1" text-anchor="middle">10</text>
<text x="314.04" y="328" font-size="6.1" text-anchor="middle">20</text>
<text x="329.96" y="328" font-size="6.1" text-anchor="middle">30</text>
<text x="345.88" y="328" font-size="6.1" text-anchor="middle">40</text>
<text x="361.8" y="328" font-size="6.1" text-anchor="middle">50</text>
<text x="377.72" y="328" font-size="6.1" text-anchor="middle">60</text>
<text x="393.64" y="328" font-size="6.1" text-anchor="middle">70</text>
<text x="409.56" y="328" font-size="6.1" text-anchor="middle">80</text>
<text x="425.48" y="328" font-size="6.1" text-anchor="middle">90</text>
<text x="441.4" y="328" font-size="6.1" text-anchor="middle">100</text>
<text x="361.2" y="337.8" font-size="6.1" text-anchor="middle">days</text>
<text transform="translate(467.8,257.35) rotate(-90)" font-size="6.1" text-anchor="middle">memory cells</text>
<text x="414.2" y="204.1" font-size="6.1" text-anchor="end">Total</text>
<path d="M417.4 201.9H433.8" stroke="#3a3a3a" stroke-width="1.2" stroke-opacity="0.85"/>
<text x="414.2" y="210.54" font-size="6.1" text-anchor="end">B not Mem</text>
<path d="M417.4 208.34H433.8" stroke="#56b4e9" stroke-width="1.2" stroke-opacity="0.7"/>
<text x="414.2" y="216.98" font-size="6.1" text-anchor="end">B Mem (y2)</text>
<path d="M417.4 214.78H433.8" stroke="#009e73" stroke-width="1.2" stroke-opacity="0.8"/>
<text x="414.2" y="223.42" font-size="6.1" text-anchor="end">B isotype IgM</text>
<path d="M417.4 221.22H433.8" stroke="#e51e10" stroke-width="1.2" stroke-opacity="0.8"/>
<text x="414.2" y="229.86" font-size="6.1" text-anchor="end">B isotype IgG1</text>
<path d="M417.4 227.66H433.8" stroke="#9400d3" stroke-width="1.2" stroke-opacity="0.55"/>
<text x="414.2" y="236.3" font-size="6.1" text-anchor="end">B isotype IgG2</text>
<path d="M417.4 234.1H433.8" stroke="#e69f00" stroke-width="1.2" stroke-opacity="0.55"/>
<path d="M281.6 250.6 282.2 250.3 282.7 250 282.9 250 283.5 250 283.8 250 284.1 249.8 284.8 249.6 285 249.5 285.4 249.2 286.1 248.7 286.7 248.5 287.2 248.3 287.3 248.2 288 247.9 288.3 247.5 288.6 247.3 289.2 246.5 289.4 246.2 289.9 245.5 290.5 244.4 290.6 244.3 291.2 243.4 291.7 242.6 291.8 242.5 292.4 241.6 292.8 241 293.1 240.7 293.7 240.1 293.9 239.9 294.3 239.6 295 239.3 295.1 239.3 295.6 239.1 296.2 238.9 296.2 238.8 296.9 238.5 297.3 238.3 297.5 238.2 298.2 237.9 298.4 237.8 298.8 237.6 299.4 237.5 299.5 237.5 300.1 237.6 300.7 237.6 301.3 237.6 301.8 237.6 302 237.6 302.6 237.7 302.9 237.7 303.3 237.7 303.9 237.7 304 237.7 304.5 237.7 305.1 237.7 305.2 237.7 305.8 237.6 306.3 237.5 306.4 237.5 307.1 237.5 307.4 237.6 307.7 237.6 308.3 237.7 308.5 237.7 309 237.7 309.6 237.6 310.3 237.8 310.7 238 310.9 238 311.5 238.1 311.9 238.2 312.2 238.2 312.8 238.4 313 238.5 313.4 238.6 314.1 238.8 314.7 238.8 315.2 238.8 315.4 238.8 316 239 316.4 239 316.6 239 317.3 238.7 317.5 238.6 317.9 238.4 318.5 238 318.6 238 319.2 237.8 319.7 237.7 319.8 237.7 320.4 237.6 320.8 237.5 321.1 237.4 321.7 237 322 236.9 322.4 236.9 323 237.1 323.1 237.1 323.6 237.2 324.2 237.4 324.3 237.4 324.9 237.5 325.3 237.6 325.5 237.7 326.2 237.9 326.4 238 326.8 238.1 327.4 238.3 327.6 238.3 328.1 238.5 328.7 238.8 329.4 238.8 329.8 238.8 330 238.9 330.6 239 330.9 239.1 331.3 239.3 331.9 239.7 332.1 239.8 332.5 239.8 333.2 239.8 333.8 239.9 334.3 239.7 334.5 239.6 335.1 239 335.4 238.6 335.7 238.2 336.4 236.9 336.5 236.4 337 234.8 337.6 232.2 337.7 232.1 338.3 230.1 338.8 229.3 338.9 229.2 339.5 228.9 339.9 228.8 340.2 228.6 340.8 228.2 341 228.1 341.5 227.9 342.1 227.8 342.1 227.7 342.7 227.3 343.3 226.9 343.4 226.9 344 226.6 344.4 226.4 344.6 226.4 345.3 226.4 345.5 226.4 345.9 226.5 346.6 226.6 347.2 226.6 347.7 226.6 347.8 226.7 348.5 226.8 348.9 227 349.1 227 349.7 227.2 350 227.3 350.4 227.4 351 227.6 351.1 227.7 351.6 227.7 352.2 227.8 352.3 227.8 352.9 227.9 353.4 227.9 353.6 228 354.2 228.2 354.5 228.4 354.8 228.3 355.5 228.3 355.6 228.3 356.1 228.6 356.7 228.9 357.4 229 357.8 229 358 229.1 358.7 229.4 359 229.6 359.3 229.6 359.9 229.6 360.1 229.6 360.6 229.8 361.2 230 361.8 230.3 362.3 230.5 362.5 230.5 363.1 230.7 363.4 230.8 363.7 230.9 364.4 231 364.6 231 365 231.2 365.7 231.4 366.3 231.6 366.8 231.8 366.9 231.9 367.6 232.1 367.9 232.2 368.2 232.2 368.8 232.3 369 232.4 369.5 232.4 370.1 232.5 370.2 232.5 370.8 232.7 371.3 232.9 371.4 233 372 233.3 372.4 233.5 372.7 233.5 373.3 233.5 373.5 233.5 373.9 233.6 374.6 233.8 374.7 233.8 375.2 233.9 375.8 234 375.8 234.1 376.5 234.4 376.9 234.7 377.1 234.7 377.8 234.7 378 234.7 378.4 234.9 379 235.3 379.1 235.4 379.7 235.4 380.3 235.4 380.9 235.7 381.4 235.9 381.6 235.9 382.2 236.1 382.5 236.2 382.9 236.2 383.5 236.2 383.6 236.2 384.1 236.5 384.7 236.9 384.8 236.9 385.4 237 385.9 237 386 237 386.7 237.1 387 237 387.3 236.8 387.9 235.1 388.1 234.2 388.6 231.2 389.2 226.6 389.2 226.5 389.9 222 390.3 218.7 390.5 217.8 391.1 214.7 391.5 213.6 391.8 212.9 392.4 211.7 392.6 211.4 393 211 393.7 210.8 394.3 210.6 394.8 210.5 395 210.5 395.6 210.6 396 210.7 396.2 210.7 396.9 210.7 397.1 210.6 397.5 210.8 398.1 211.1 398.2 211.1 398.8 211 399.3 211 399.4 211 400 211.4 400.4 211.6 400.7 211.6 401.3 211.5 401.6 211.5 402 211.7 402.6 212 402.7 212 403.2 212.1 403.8 212.2 403.9 212.2 404.5 212.1 404.9 212.1 405.1 212.2 405.8 212.5 406 212.6 406.4 212.7 407 212.8 407.2 212.9 407.7 212.8 408.3 212.8 409 213.1 409.4 213.2 409.6 213.3 410.2 213.5 410.5 213.6 410.9 213.5 411.5 213.4 411.7 213.4 412.1 213.6 412.8 214 413.4 214.1 413.9 214.3 414.1 214.3 414.7 214.4 415 214.5 415.3 214.6 416 214.8 416.1 214.9 416.6 215.1 417.2 215.3 417.3 215.3 417.9 215.7 418.4 216.1 418.5 216.1 419.1 216.3 419.5 216.4 419.8 216.6 420.4 216.9 420.6 217 421.1 217.2 421.7 217.3 422.3 217.5 422.9 217.7 423 217.7 423.6 218 424 218.1 424.2 218.2 424.9 218.5 425.1 218.5 425.5 218.7 426.2 219 426.2 219.1 426.8 219.3 427.3 219.5 427.4 219.5 428.1 219.8 428.5 220 428.7 220.2 429.3 220.5 429.6 220.6 430 220.8 430.6 221.2 430.7 221.2 431.2 221.3 431.8 221.5 431.9 221.5 432.5 221.9 433 222.1 433.2 222.2 433.8 222.6 434.1 222.7 434.4 222.8 435.1 223 435.2 223 435.7 223.1 436.3 223.3 437 223.8 437.4 224.1 437.6 224.1 438.3 224.3 438.6 224.4 438.9 224.5 439.5 224.8 439.7 224.9 440.2 225 440.8 225.1" stroke="#3a3a3a" stroke-width="1.05" fill="none" stroke-linejoin="round" stroke-opacity="0.85"/>
<path d="M281.6 250.8 282.2 251 282.7 251.2 282.9 251.3 283.5 251.7 283.8 251.9 284.1 252 284.8 252.2 285 252.4 285.4 252.8 286.1 254.3 286.1 254.4 286.7 256.6 287.2 258.6 287.3 259.1 288 261.7 288.3 263.3 288.6 264.7 289.2 269.1 289.4 270.9 289.9 275 290.5 280.9 290.6 281.4 291.2 285.6 291.7 288.2 291.8 288.6 292.4 289.6 292.8 289.8 293.1 290 293.7 290.5 293.9 290.7 294.3 290.9 295 291.2 295.1 291.2 295.6 291.6 296.2 292.1 296.9 292.4 297.3 292.6 297.5 292.8 298.2 293.2 298.4 293.3 298.8 293.3 299.4 293.3 299.5 293.3 300.1 293.2 300.7 293.2 301.3 293.4 301.8 293.5 302 293.5 302.6 293.4 302.9 293.4 303.3 293.5 303.9 293.5 304 293.5 304.5 293.7 305.1 293.9 305.2 293.9 305.8 293.8 306.3 293.7 306.4 293.7 307.1 293.8 307.4 293.8 307.7 293.9 308.3 294 308.5 294 309 294.1 309.6 294.2 310.3 294 310.7 293.9 310.9 293.9 311.5 294.1 311.9 294.2 312.2 294.2 312.8 294.1 313 294.1 313.4 294.1 314.1 294.1 314.7 294 315.2 294 315.4 294 316 293.8 316.4 293.7 316.6 293.7 317.3 293.7 317.5 293.7 317.9 293.6 318.5 293.4 318.6 293.4 319.2 293.3 319.7 293.3 319.8 293.3 320.4 293 320.8 292.9 321.1 292.9 321.7 292.8 322 292.7 322.4 292.8 323 292.9 323.1 292.9 323.6 292.9 324.2 292.9 324.3 293 324.9 293.1 325.3 293.2 325.5 293.2 326.2 293.2 326.4 293.2 326.8 293.3 327.4 293.6 327.6 293.7 328.1 293.8 328.7 293.9 329.4 294.2 329.8 294.4 330 294.4 330.6 294.5 330.9 294.6 331.3 294.7 331.9 294.9 332.1 294.9 332.5 295.1 333.2 295.3 333.8 295.6 334.3 295.8 334.5 296 335.1 296.4 335.4 296.6 335.7 296.8 336.4 297 336.5 297 337 297.1 337.6 297.1 337.7 297.1 338.3 297 338.8 296.9 338.9 296.9 339.5 296.8 339.9 296.7 340.2 296.7 340.8 296.6 341 296.5 341.5 296.5 342.1 296.5 342.7 296.6 343.3 296.7 343.4 296.7 344 296.6 344.4 296.5 344.6 296.6 345.3 296.7 345.5 296.7 345.9 296.8 346.6 296.9 347.2 297.1 347.7 297.2 347.8 297.2 348.5 297.3 348.9 297.3 349.1 297.4 349.7 297.7 350 297.8 350.4 297.7 351 297.7 351.1 297.7 351.6 297.8 352.2 298 352.3 298 352.9 298.2 353.4 298.3 353.6 298.3 354.2 298.5 354.5 298.6 354.8 298.5 355.5 298.4 355.6 298.4 356.1 298.4 356.7 298.5 357.4 298.9 357.8 299.1 358 299.1 358.7 299 359 299 359.3 299.1 359.9 299.3 360.1 299.3 360.6 299.5 361.2 299.6 361.8 299.7 362.3 299.8 362.5 299.7 363.1 299.7 363.4 299.7 363.7 299.8 364.4 299.8 364.6 299.9 365 300.1 365.7 300.4 366.3 300.4 366.8 300.3 366.9 300.4 367.6 300.7 367.9 300.8 368.2 300.8 368.8 300.7 369 300.7 369.5 300.8 370.1 301 370.2 301 370.8 301 371.3 301 371.4 301 372 301.1 372.4 301.1 372.7 301.2 373.3 301.4 373.5 301.5 373.9 301.5 374.6 301.5 374.7 301.5 375.2 301.7 375.8 302 376.5 302.2 376.9 302.3 377.1 302.3 377.8 302.2 378 302.2 378.4 302.4 379 302.6 379.1 302.7 379.7 302.7 380.3 302.8 380.9 302.8 381.4 302.9 381.6 302.9 382.2 302.9 382.5 303 382.9 303.1 383.5 303.3 383.6 303.4 384.1 303.5 384.7 303.6 384.8 303.6 385.4 303.5 385.9 303.4 386 303.5 386.7 303.7 387 303.8 387.3 303.6 387.9 302.4 388.1 301.9 388.6 300.4 389.2 297.9 389.9 295.5 390.3 293.8 390.5 293.2 391.1 291.5 391.5 290.9 391.8 290.5 392.4 290 392.6 289.8 393 289.5 393.7 289 393.7 288.9 394.3 288.5 394.8 288.1 395 288 395.6 287.6 396 287.3 396.2 287.1 396.9 286.6 397.1 286.5 397.5 286.3 398.1 286.2 398.2 286.2 398.8 286.4 399.3 286.6 399.4 286.6 400 286.7 400.4 286.8 400.7 286.8 401.3 286.8 401.6 286.8 402 287 402.6 287.2 402.7 287.2 403.2 287.3 403.8 287.4 403.9 287.4 404.5 287.3 404.9 287.3 405.1 287.3 405.8 287.6 406 287.7 406.4 287.7 407 287.8 407.2 287.8 407.7 288 408.3 288.2 409 288.2 409.4 288.2 409.6 288.3 410.2 288.3 410.5 288.3 410.9 288.5 411.5 288.7 411.7 288.8 412.1 288.7 412.8 288.7 413.4 288.8 413.9 288.9 414.1 288.9 414.7 289.2 415 289.3 415.3 289.3 416 289.2 416.1 289.2 416.6 289.3 417.2 289.5 417.3 289.5 417.9 289.6 418.4 289.7 418.5 289.7 419.1 289.9 419.5 290.1 419.8 290.1 420.4 290.1 420.6 290.2 421.1 290.3 421.7 290.4 422.3 290.7 422.9 291 423 291 423.6 291.1 424 291.2 424.2 291.2 424.9 291.2 425.1 291.2 425.5 291.2 426.2 291.3 426.8 291.6 427.3 291.9 427.4 291.9 428.1 292 428.5 292 428.7 292.1 429.3 292.2 429.6 292.2 430 292.3 430.6 292.6 430.7 292.6 431.2 292.7 431.8 292.8 431.9 292.8 432.5 293 433 293.1 433.2 293.1 433.8 293.3 434.1 293.3 434.4 293.4 435.1 293.5 435.2 293.5 435.7 293.6 436.3 293.9 437 294 437.4 294.1 437.6 294.1 438.3 294.1 438.6 294.1 438.9 294.3 439.5 294.7 439.7 294.7 440.2 294.7 440.8 294.7" stroke="#56b4e9" stroke-width="1.05" fill="none" stroke-linejoin="round" stroke-opacity="0.85"/>
<path d="M281.6 319.2 282.2 319.2 282.7 319.2 282.9 319.2 283.5 318.9 283.8 318.5 284.1 318 284.8 316.7 285 316.3 285.4 315.2 286.1 313.6 286.1 313.5 286.7 311.3 287.2 308.9 287.3 308.3 288 304.2 288.3 300.7 288.6 297.3 289.2 286.5 289.4 282.2 289.9 273 290.5 260.1 290.6 259.2 291.2 250.3 291.7 243.9 291.8 242.8 292.4 237.3 292.8 235.5 293.1 234.7 293.7 233.7 293.9 233.4 294.3 233 295 232.3 295.1 232.2 295.6 231.6 296.2 231.1 296.2 231 296.9 230.7 297.3 230.7 297.5 230.6 298.2 230.6 298.4 230.5 298.8 230.5 299.4 230.5 299.5 230.5 300.1 230.6 300.7 230.6 301.3 230.6 301.8 230.6 302 230.6 302.6 230.6 302.9 230.6 303.3 230.6 303.9 230.6 304 230.6 304.5 230.6 305.1 230.6 305.2 230.6 305.8 230.6 306.3 230.6 306.4 230.6 307.1 230.6 307.4 230.5 307.7 230.5 308.3 230.5 308.5 230.5 309 230.6 309.6 230.7 310.3 230.6 310.7 230.6 310.9 230.6 311.5 230.6 311.9 230.6 312.2 230.6 312.8 230.6 313 230.6 313.4 230.6 314.1 230.6 314.1 230.7 314.7 230.6 315.2 230.6 315.4 230.6 316 230.7 316.4 230.7 316.6 230.7 317.3 230.7 317.5 230.7 317.9 230.7 318.5 230.7 318.6 230.7 319.2 230.8 319.7 230.8 319.8 230.8 320.4 230.9 320.8 230.9 321.1 230.9 321.7 230.9 322 230.9 322.4 230.9 323 231 323.1 231 323.6 231 324.2 231 324.3 231 324.9 231 325.3 231 325.5 231.1 326.2 231.1 326.4 231.2 326.8 231.2 327.4 231.2 327.6 231.2 328.1 231.2 328.7 231.2 328.7 231.3 329.4 231.3 329.8 231.3 330 231.3 330.6 231.4 330.9 231.4 331.3 231.4 331.9 231.5 332.1 231.5 332.5 231.4 333.2 231.4 333.8 231.2 334.3 230.4 334.5 230.1 335.1 228 335.4 226.8 335.7 225.7 336.4 223.2 336.5 222.6 337 220.8 337.6 218.3 337.7 218.2 338.3 215.7 338.8 213.8 338.9 213.3 339.5 211.4 339.9 210.7 340.2 210.4 340.8 209.9 341 209.8 341.5 209.4 342.1 209 342.1 208.9 342.7 208.6 343.3 208.4 343.4 208.3 344 207.9 344.4 207.7 344.6 207.5 345.3 207.4 345.5 207.4 345.9 207.4 346.6 207.4 347.2 207.5 347.7 207.6 347.8 207.6 348.5 207.7 348.9 207.7 349.1 207.8 349.7 207.8 350 207.8 350.4 207.9 351 208 351.1 208 351.6 208.1 352.2 208.1 352.3 208.1 352.9 208.2 353.4 208.2 353.6 208.2 354.2 208.4 354.5 208.4 354.8 208.5 355.5 208.6 355.6 208.6 356.1 208.6 356.7 208.7 357.4 208.7 357.8 208.7 358 208.8 358.7 208.9 359 208.9 359.3 209 359.9 209.1 360.1 209.1 360.6 209.1 361.2 209.2 361.8 209.3 362.3 209.4 362.5 209.4 363.1 209.4 363.4 209.5 363.7 209.5 364.4 209.6 364.6 209.7 365 209.7 365.7 209.7 366.3 209.8 366.8 209.8 366.9 209.9 367.6 209.9 367.9 210 368.2 210 368.8 210.1 369 210.2 369.5 210.2 370.1 210.3 370.2 210.3 370.8 210.5 371.3 210.6 371.4 210.6 372 210.7 372.4 210.7 372.7 210.7 373.3 210.7 373.5 210.8 373.9 210.8 374.6 210.9 374.7 210.9 375.2 211 375.8 211.2 376.5 211.2 376.9 211.2 377.1 211.3 377.8 211.4 378 211.4 378.4 211.5 379 211.5 379.1 211.6 379.7 211.7 380.3 211.8 380.9 211.9 381.4 212 381.6 212 382.2 212 382.5 212.1 382.9 212.1 383.5 212.3 383.6 212.3 384.1 212.3 384.7 212.4 384.8 212.4 385.4 212.4 385.9 212.5 386 212.5 386.7 212.6 387 212.7 387.3 212.6 387.9 211.8 388.1 211.3 388.6 209.5 389.2 206.7 389.9 204.5 390.3 203.2 390.5 202.9 391.1 201.5 391.5 200.8 391.8 200.2 392.4 199.3 392.6 199.1 393 198.8 393.7 198.6 394.3 198.5 394.8 198.4 395 198.4 395.6 198.4 396 198.4 396.2 198.5 396.9 198.7 397.1 198.7 397.5 198.8 398.1 199 398.2 199 398.8 199.1 399.3 199.2 399.4 199.2 400 199.3 400.4 199.4 400.7 199.4 401.3 199.6 401.6 199.6 402 199.6 402.6 199.7 402.7 199.7 403.2 199.9 403.8 200 403.9 200 404.5 200.1 404.9 200.2 405.1 200.2 405.8 200.3 406 200.4 406.4 200.4 407 200.6 407.2 200.6 407.7 200.6 408.3 200.7 409 200.9 409.4 201 409.6 201 410.2 201.1 410.5 201.2 410.9 201.2 411.5 201.3 411.7 201.3 412.1 201.4 412.8 201.6 413.4 201.7 413.9 201.7 414.1 201.7 414.7 201.9 415 202 415.3 202.1 416 202.2 416.1 202.2 416.6 202.3 417.2 202.4 417.3 202.4 417.9 202.5 418.4 202.6 418.5 202.6 419.1 202.7 419.5 202.7 419.8 202.8 420.4 202.9 420.6 202.9 421.1 202.9 421.7 203 422.3 203.1 422.9 203.2 423 203.2 423.6 203.3 424 203.4 424.2 203.4 424.9 203.6 425.1 203.6 425.5 203.7 426.2 203.7 426.8 203.8 427.3 203.9 427.4 203.9 428.1 204 428.5 204.1 428.7 204.1 429.3 204.2 429.6 204.2 430 204.3 430.6 204.3 430.7 204.3 431.2 204.4 431.8 204.6 431.9 204.6 432.5 204.7 433 204.8 433.2 204.8 433.8 204.8 434.1 204.8 434.4 204.9 435.1 205 435.2 205 435.7 205.1 436.3 205.1 437 205.3 437.4 205.4 437.6 205.4 438.3 205.4 438.6 205.5 438.9 205.5 439.5 205.6 439.7 205.7 440.2 205.7 440.8 205.8" stroke="#009e73" stroke-width="1.05" fill="none" stroke-linejoin="round" stroke-opacity="0.85"/>
<path d="M281.6 250.6 282.2 250.4 282.7 250.1 282.9 250.1 283.5 249.8 283.8 249.6 284.1 249.5 284.8 249.2 285 249.1 285.4 248.9 286.1 248.7 286.7 248.4 287.2 248.2 287.3 248.2 288 248.1 288.3 248 288.6 247.7 289.2 247.1 289.4 246.9 289.9 246.4 290.5 245.7 290.6 245.7 291.2 245.4 291.7 245.4 291.8 245.3 292.4 245.2 292.8 245.1 293.1 245.2 293.7 245.4 293.9 245.4 294.3 245.3 295 245.2 295.1 245.2 295.6 245.2 296.2 245.2 296.9 245.1 297.3 245 297.5 245 298.2 244.9 298.4 244.9 298.8 244.9 299.4 245 299.5 245.1 300.1 245 300.7 244.9 301.3 244.8 301.8 244.8 302 244.7 302.6 244.5 302.9 244.4 303.3 244.4 303.9 244.4 304 244.4 304.5 244.4 305.1 244.5 305.2 244.5 305.8 244.3 306.3 244.1 306.4 244.2 307.1 244.3 307.4 244.5 307.7 244.4 308.3 244.4 308.5 244.4 309 244.6 309.6 244.8 310.3 245 310.7 245.1 310.9 245.1 311.5 245 311.9 244.9 312.2 245 312.8 245.3 313 245.4 313.4 245.5 314.1 245.6 314.7 245.5 315.2 245.4 315.4 245.5 316 245.6 316.4 245.6 316.6 245.7 317.3 245.7 317.5 245.7 317.9 245.4 318.5 245 318.6 245 319.2 244.8 319.7 244.7 319.8 244.7 320.4 244.4 320.8 244.3 321.1 244.2 321.7 244.2 322 244.2 322.4 244.1 323 244 323.1 244 323.6 244.2 324.2 244.4 324.3 244.4 324.9 244.5 325.3 244.5 325.5 244.6 326.2 244.8 326.4 244.8 326.8 245 327.4 245.3 327.6 245.4 328.1 245.5 328.7 245.7 329.4 245.9 329.8 246 330 246.1 330.6 246.3 330.9 246.3 331.3 246.4 331.9 246.6 332.1 246.7 332.5 246.7 333.2 246.8 333.8 246.8 334.3 246.5 334.5 246.4 335.1 245.8 335.4 245.4 335.7 244.8 336.4 243.8 336.5 243.5 337 242.9 337.6 242.1 337.7 242.1 338.3 241.5 338.8 241.3 338.9 241.2 339.5 241 339.9 240.8 340.2 240.8 340.8 240.8 341 240.8 341.5 240.8 342.1 240.7 342.7 240.6 343.3 240.5 343.4 240.4 344 240.3 344.4 240.2 344.6 240.2 345.3 240.4 345.5 240.5 345.9 240.4 346.6 240.3 347.2 240.7 347.7 241 347.8 241 348.5 240.9 348.9 240.9 349.1 241 349.7 241.1 350 241.1 350.4 241.3 351 241.7 351.1 241.7 351.6 241.7 352.2 241.6 352.3 241.6 352.9 241.9 353.4 242.1 353.6 242.1 354.2 242.2 354.5 242.2 354.8 242.4 355.5 242.6 355.6 242.7 356.1 242.8 356.7 242.9 357.4 243 357.8 243.1 358 243.1 358.7 243 359 243 359.3 243.2 359.9 243.5 360.1 243.6 360.6 243.6 361.2 243.6 361.8 243.6 362.3 243.7 362.5 243.8 363.1 243.9 363.4 244 363.7 244.1 364.4 244.4 364.6 244.5 365 244.6 365.7 244.7 366.3 244.8 366.8 244.9 366.9 244.9 367.6 244.9 367.9 245 368.2 245.1 368.8 245.4 369 245.5 369.5 245.5 370.1 245.5 370.2 245.5 370.8 245.6 371.3 245.7 371.4 245.7 372 245.8 372.4 245.9 372.7 246 373.3 246.4 373.5 246.5 373.9 246.4 374.6 246.3 374.7 246.3 375.2 246.6 375.8 246.9 375.8 247 376.5 247 376.9 247.1 377.1 247.1 377.8 247.1 378 247.2 378.4 247.2 379 247.3 379.1 247.3 379.7 247.5 380.3 247.8 380.9 247.7 381.4 247.7 381.6 247.8 382.2 248 382.5 248.1 382.9 248.3 383.5 248.4 383.6 248.5 384.1 248.6 384.7 248.7 384.8 248.7 385.4 248.9 385.9 249 386 249.1 386.7 249.2 387 249.3 387.3 249.2 387.9 248.6 388.1 248.2 388.6 246.8 389.2 244.4 389.2 244.3 389.9 242.3 390.3 241.2 390.5 241 391.1 240.4 391.5 240.1 391.8 239.8 392.4 239.2 392.6 239.1 393 238.7 393.7 238.4 394.3 238.6 394.8 238.8 395 238.8 395.6 238.9 396 239 396.2 239.1 396.9 239.2 397.1 239.3 397.5 239.3 398.1 239.3 398.2 239.3 398.8 239.3 399.3 239.3 399.4 239.4 400 239.6 400.4 239.7 400.7 239.7 401.3 239.8 401.6 239.9 402 240 402.6 240.2 402.7 240.2 403.2 240.1 403.8 240 403.9 240 404.5 240.3 404.9 240.6 405.1 240.6 405.8 240.5 406 240.5 406.4 240.5 407 240.5 407.2 240.5 407.7 240.8 408.3 241 409 241 409.4 241 409.6 241 410.2 241.1 410.5 241.1 410.9 241.2 411.5 241.4 411.7 241.5 412.1 241.5 412.8 241.6 413.4 242 413.9 242.2 414.1 242.2 414.7 242.3 415 242.3 415.3 242.4 416 242.6 416.1 242.7 416.6 242.6 417.2 242.6 417.3 242.6 417.9 242.8 418.4 243.1 418.5 243.1 419.1 243.2 419.5 243.2 419.8 243.2 420.4 243.2 420.6 243.2 421.1 243.3 421.7 243.5 422.3 243.6 422.9 243.7 423 243.8 423.6 244 424 244.2 424.2 244.2 424.9 244.4 425.1 244.4 425.5 244.5 426.2 244.5 426.8 244.7 427.3 244.9 427.4 244.9 428.1 245.1 428.5 245.2 428.7 245.3 429.3 245.4 429.6 245.4 430 245.5 430.6 245.7 430.7 245.8 431.2 245.8 431.8 245.9 431.9 245.9 432.5 245.9 433 245.9 433.2 245.9 433.8 246 434.1 246.1 434.4 246.2 435.1 246.5 435.2 246.5 435.7 246.6 436.3 246.8 437 247 437.4 247.1 437.6 247.2 438.3 247.4 438.6 247.5 438.9 247.5 439.5 247.6 439.7 247.6 440.2 247.7 440.8 247.7" stroke="#e51e10" stroke-width="1.05" fill="none" stroke-linejoin="round" stroke-opacity="0.9"/>
<path d="M281.6 319.2 282.2 319.2 282.7 319.2 282.9 319.2 283.5 319.2 283.8 319.2 284.1 319.2 284.8 319.2 285 319.2 285.4 319.3 286.1 319.3 286.7 319.2 287.2 319.2 287.3 319.2 288 319.2 288.3 319.2 288.6 319.2 289.2 319.1 289.4 319 289.9 318.8 290.5 318 290.6 317.9 291.2 316.8 291.7 315.9 291.8 315.8 292.4 315.1 292.8 314.8 293.1 314.6 293.7 314.1 293.9 313.9 294.3 313.7 295 313.6 295.1 313.6 295.6 313.6 296.2 313.6 296.9 313.6 297.3 313.6 297.5 313.6 298.2 313.6 298.4 313.6 298.8 313.6 299.4 313.6 299.5 313.6 300.1 313.6 300.7 313.6 301.3 313.5 301.8 313.5 302 313.5 302.6 313.6 302.9 313.6 303.3 313.6 303.9 313.5 304 313.5 304.5 313.5 305.1 313.5 305.2 313.5 305.8 313.5 306.3 313.5 306.4 313.5 307.1 313.5 307.4 313.6 307.7 313.6 308.3 313.6 308.5 313.6 309 313.5 309.6 313.5 310.3 313.5 310.7 313.5 310.9 313.5 311.5 313.5 311.9 313.5 312.2 313.5 312.8 313.5 313 313.6 313.4 313.5 314.1 313.5 314.7 313.5 315.2 313.5 315.4 313.5 316 313.5 316.4 313.5 316.6 313.5 317.3 313.4 317.5 313.4 317.9 313.4 318.5 313.4 318.6 313.4 319.2 313.5 319.7 313.5 319.8 313.5 320.4 313.4 320.8 313.4 321.1 313.4 321.7 313.4 322 313.4 322.4 313.4 323 313.4 323.1 313.3 323.6 313.3 324.2 313.3 324.3 313.3 324.9 313.4 325.3 313.4 325.5 313.4 326.2 313.4 326.4 313.4 326.8 313.4 327.4 313.3 327.6 313.3 328.1 313.3 328.7 313.3 329.4 313.3 329.8 313.3 330 313.3 330.6 313.4 330.9 313.4 331.3 313.4 331.9 313.4 332.1 313.4 332.5 313.3 333.2 313.3 333.8 313.3 334.3 313.2 334.5 313.1 335.1 312.8 335.4 312.6 335.7 312.4 336.4 312 336.5 311.9 337 311.5 337.6 311 337.7 311 338.3 310.5 338.8 310.1 338.9 310 339.5 309.5 339.9 309.3 340.2 309 340.8 308.5 341 308.4 341.5 308.2 342.1 308.1 342.7 308.1 343.3 308.1 343.4 308.1 344 308.1 344.4 308.1 344.6 308.1 345.3 308.2 345.5 308.2 345.9 308.2 346.6 308.2 347.2 308.2 347.7 308.1 347.8 308.1 348.5 308.1 348.9 308.2 349.1 308.2 349.7 308.3 350 308.3 350.4 308.3 351 308.2 351.1 308.2 351.6 308.3 352.2 308.3 352.3 308.3 352.9 308.3 353.4 308.3 353.6 308.3 354.2 308.2 354.5 308.2 354.8 308.2 355.5 308.3 355.6 308.3 356.1 308.3 356.7 308.4 357.4 308.4 357.8 308.4 358 308.4 358.7 308.4 359 308.4 359.3 308.4 359.9 308.4 360.1 308.4 360.6 308.4 361.2 308.3 361.8 308.4 362.3 308.5 362.5 308.5 363.1 308.5 363.4 308.4 363.7 308.4 364.4 308.4 364.6 308.4 365 308.4 365.7 308.5 366.3 308.5 366.8 308.4 366.9 308.4 367.6 308.5 367.9 308.6 368.2 308.5 368.8 308.5 369 308.5 369.5 308.5 370.1 308.5 370.2 308.5 370.8 308.5 371.3 308.5 371.4 308.5 372 308.5 372.4 308.5 372.7 308.5 373.3 308.6 373.5 308.6 373.9 308.6 374.6 308.6 374.7 308.6 375.2 308.6 375.8 308.6 376.5 308.6 376.9 308.7 377.1 308.7 377.8 308.7 378 308.7 378.4 308.7 379 308.7 379.1 308.7 379.7 308.7 380.3 308.7 380.9 308.8 381.4 308.8 381.6 308.8 382.2 308.7 382.5 308.7 382.9 308.7 383.5 308.8 383.6 308.8 384.1 308.8 384.7 308.8 384.8 308.8 385.4 308.8 385.9 308.8 386 308.8 386.7 308.8 387 308.7 387.3 308.3 387.9 306.9 388.1 306.4 388.6 304.8 389.2 302.4 389.9 300 390.3 298.3 390.5 297.8 391.1 296.4 391.5 296 391.8 295.8 392.4 295.7 392.6 295.7 393 295.6 393.7 295.5 394.3 295.3 394.8 295.2 395 295.2 395.6 295.2 396 295.2 396.2 295.1 396.9 295 397.1 295 397.5 295 398.1 295 398.2 295 398.8 295 399.3 295.1 399.4 295.1 400 295.2 400.4 295.3 400.7 295.3 401.3 295.3 401.6 295.3 402 295.4 402.6 295.4 402.7 295.4 403.2 295.5 403.8 295.6 403.9 295.6 404.5 295.6 404.9 295.7 405.1 295.7 405.8 295.8 406 295.8 406.4 295.8 407 295.8 407.2 295.8 407.7 295.9 408.3 296 409 296 409.4 296.1 409.6 296.1 410.2 296.1 410.5 296.1 410.9 296.2 411.5 296.2 411.7 296.2 412.1 296.3 412.8 296.4 413.4 296.5 413.9 296.5 414.1 296.5 414.7 296.6 415 296.6 415.3 296.7 416 296.7 416.1 296.7 416.6 296.8 417.2 296.8 417.3 296.8 417.9 296.9 418.4 296.9 418.5 296.9 419.1 297 419.5 297 419.8 297 420.4 297.2 420.6 297.2 421.1 297.3 421.7 297.3 422.3 297.4 422.9 297.4 423 297.4 423.6 297.5 424 297.6 424.2 297.6 424.9 297.6 425.1 297.7 425.5 297.7 426.2 297.7 426.8 297.8 427.3 297.9 427.4 297.9 428.1 297.9 428.5 297.9 428.7 297.9 429.3 298 429.6 298 430 298 430.6 298.1 430.7 298.1 431.2 298.1 431.8 298.2 431.9 298.2 432.5 298.3 433 298.4 433.2 298.4 433.8 298.5 434.1 298.5 434.4 298.5 435.1 298.5 435.2 298.5 435.7 298.6 436.3 298.7 437 298.7 437.4 298.8 437.6 298.8 438.3 298.8 438.6 298.8 438.9 298.9 439.5 298.9 439.7 298.9 440.2 299 440.8 299.1" stroke="#9400d3" stroke-width="1.05" fill="none" stroke-linejoin="round" stroke-opacity="0.75"/>
<path d="M281.6 319.2 282.2 319.2 282.7 319.2 282.9 319.2 283.5 319.2 283.8 319.2 284.1 319.2 284.8 319.2 285 319.2 285.4 319.2 286.1 319.2 286.7 319.2 287.2 319.2 287.3 319.2 288 319.2 288.3 319.2 288.6 319.2 289.2 319.2 289.4 319.2 289.9 319.2 290.5 319.2 290.6 319.2 291.2 319.2 291.7 319.2 291.8 319.2 292.4 319.2 292.8 319.2 293.1 319.1 293.7 319 293.9 318.9 294.3 318.8 295 318.7 295.1 318.6 295.6 318.5 296.2 318.4 296.9 318.4 297.3 318.5 297.5 318.5 298.2 318.5 298.4 318.5 298.8 318.4 299.4 318.4 299.5 318.4 300.1 318.4 300.7 318.4 301.3 318.4 301.8 318.4 302 318.4 302.6 318.4 302.9 318.4 303.3 318.4 303.9 318.4 304 318.4 304.5 318.4 305.1 318.5 305.2 318.5 305.8 318.4 306.3 318.4 306.4 318.4 307.1 318.4 307.4 318.4 307.7 318.5 308.3 318.5 308.5 318.5 309 318.5 309.6 318.5 310.3 318.5 310.7 318.4 310.9 318.4 311.5 318.4 311.9 318.4 312.2 318.4 312.8 318.4 313 318.5 313.4 318.4 314.1 318.4 314.7 318.4 315.2 318.4 315.4 318.4 316 318.4 316.4 318.4 316.6 318.4 317.3 318.4 317.5 318.4 317.9 318.4 318.5 318.5 318.6 318.5 319.2 318.5 319.7 318.5 319.8 318.5 320.4 318.5 320.8 318.5 321.1 318.4 321.7 318.4 322 318.4 322.4 318.4 323 318.4 323.1 318.4 323.6 318.4 324.2 318.4 324.3 318.4 324.9 318.4 325.3 318.4 325.5 318.4 326.2 318.4 326.4 318.4 326.8 318.4 327.4 318.4 327.6 318.4 328.1 318.4 328.7 318.4 329.4 318.4 329.8 318.4 330 318.4 330.6 318.4 330.9 318.5 331.3 318.4 331.9 318.4 332.1 318.4 332.5 318.4 333.2 318.4 333.8 318.4 334.3 318.4 334.5 318.4 335.1 318.4 335.4 318.4 335.7 318.4 336.4 318.4 336.5 318.4 337 318.4 337.6 318.3 337.7 318.3 338.3 318.2 338.8 318.1 338.9 318.1 339.5 317.9 339.9 317.8 340.2 317.8 340.8 317.7 341 317.6 341.5 317.7 342.1 317.7 342.7 317.7 343.3 317.7 343.4 317.7 344 317.7 344.4 317.7 344.6 317.7 345.3 317.6 345.5 317.6 345.9 317.6 346.6 317.6 347.2 317.6 347.7 317.6 347.8 317.6 348.5 317.6 348.9 317.6 349.1 317.6 349.7 317.7 350 317.7 350.4 317.7 351 317.6 351.1 317.6 351.6 317.6 352.2 317.6 352.3 317.6 352.9 317.6 353.4 317.6 353.6 317.6 354.2 317.7 354.5 317.7 354.8 317.6 355.5 317.6 355.6 317.6 356.1 317.6 356.7 317.6 357.4 317.6 357.8 317.7 358 317.7 358.7 317.6 359 317.6 359.3 317.7 359.9 317.7 360.1 317.7 360.6 317.7 361.2 317.6 361.8 317.6 362.3 317.6 362.5 317.6 363.1 317.6 363.4 317.6 363.7 317.6 364.4 317.6 364.6 317.6 365 317.6 365.7 317.7 366.3 317.7 366.8 317.7 366.9 317.7 367.6 317.6 367.9 317.6 368.2 317.7 368.8 317.7 369 317.7 369.5 317.7 370.1 317.7 370.2 317.7 370.8 317.7 371.3 317.7 371.4 317.7 372 317.7 372.4 317.7 372.7 317.7 373.3 317.7 373.5 317.7 373.9 317.7 374.6 317.6 374.7 317.6 375.2 317.7 375.8 317.7 376.5 317.7 376.9 317.7 377.1 317.7 377.8 317.7 378 317.7 378.4 317.6 379 317.6 379.1 317.6 379.7 317.7 380.3 317.7 380.9 317.7 381.4 317.7 381.6 317.7 382.2 317.7 382.5 317.6 382.9 317.6 383.5 317.6 383.6 317.6 384.1 317.6 384.7 317.6 384.8 317.6 385.4 317.6 385.9 317.6 386 317.6 386.7 317.7 387 317.7 387.3 317.7 387.9 317.6 388.1 317.6 388.6 317.5 389.2 317.3 389.9 317 390.3 316.8 390.5 316.8 391.1 316.5 391.5 316.4 391.8 316.3 392.4 316.1 392.6 316 393 315.9 393.7 315.8 394.3 315.8 394.8 315.8 395 315.8 395.6 315.9 396 315.9 396.2 315.9 396.9 315.9 397.1 315.9 397.5 315.9 398.1 315.9 398.2 315.9 398.8 315.9 399.3 315.9 399.4 315.9 400 315.9 400.4 315.9 400.7 315.9 401.3 315.9 401.6 315.9 402 315.9 402.6 315.9 402.7 315.9 403.2 315.9 403.8 315.9 403.9 315.9 404.5 315.9 404.9 315.9 405.1 315.9 405.8 315.9 406 315.9 406.4 316 407 316 407.2 316 407.7 316 408.3 316 409 316 409.4 316 409.6 316 410.2 316 410.5 316.1 410.9 316 411.5 316 411.7 316 412.1 316 412.8 316 413.4 316 413.9 316 414.1 316 414.7 316 415 316.1 415.3 316.1 416 316.1 416.1 316.1 416.6 316.1 417.2 316.1 417.3 316.1 417.9 316.1 418.4 316.2 418.5 316.2 419.1 316.1 419.5 316.1 419.8 316.1 420.4 316.2 420.6 316.2 421.1 316.2 421.7 316.2 422.3 316.2 422.9 316.2 423 316.2 423.6 316.2 424 316.2 424.2 316.2 424.9 316.2 425.1 316.2 425.5 316.2 426.2 316.3 426.8 316.3 427.3 316.3 427.4 316.3 428.1 316.3 428.5 316.3 428.7 316.3 429.3 316.3 429.6 316.3 430 316.3 430.6 316.3 430.7 316.3 431.2 316.3 431.8 316.3 431.9 316.3 432.5 316.3 433 316.3 433.2 316.3 433.8 316.3 434.1 316.3 434.4 316.3 435.1 316.4 435.2 316.4 435.7 316.4 436.3 316.4 437 316.4 437.4 316.4 437.6 316.4 438.3 316.4 438.6 316.4 438.9 316.4 439.5 316.4 439.7 316.4 440.2 316.4 440.8 316.4" stroke="#e69f00" stroke-width="1.05" fill="none" stroke-linejoin="round" stroke-opacity="0.7"/>
<rect x="280.6" y="354.2" width="158.8" height="123.3" fill="none" stroke="#7a7a7a" stroke-width="0.9"/>
<path d="M280.6 477.5v-2.0M280.6 354.2v2.0M296.48 477.5v-2.0M296.48 354.2v2.0M312.36 477.5v-2.0M312.36 354.2v2.0M328.24 477.5v-2.0M328.24 354.2v2.0M344.12 477.5v-2.0M344.12 354.2v2.0M360 477.5v-2.0M360 354.2v2.0M375.88 477.5v-2.0M375.88 354.2v2.0M391.76 477.5v-2.0M391.76 354.2v2.0M407.64 477.5v-2.0M407.64 354.2v2.0M423.52 477.5v-2.0M423.52 354.2v2.0M439.4 477.5v-2.0M439.4 354.2v2.0M280.6 477.5h2.0M280.6 462.09h2.0M280.6 446.68h2.0M280.6 431.26h2.0M280.6 415.85h2.0M280.6 400.44h2.0M280.6 385.02h2.0M280.6 369.61h2.0M280.6 354.2h2.0M439.4 477.5h-2.0M439.4 465.17h-2.0M439.4 452.84h-2.0M439.4 440.51h-2.0M439.4 428.18h-2.0M439.4 415.85h-2.0M439.4 403.52h-2.0M439.4 391.19h-2.0M439.4 378.86h-2.0M439.4 366.53h-2.0M439.4 354.2h-2.0" stroke="#7a7a7a" stroke-width="0.6" fill="none"/>
<text x="276.6" y="479.6" font-size="6.1" text-anchor="end">0</text>
<text x="276.6" y="464.19" font-size="6.1" text-anchor="end">100</text>
<text x="276.6" y="448.78" font-size="6.1" text-anchor="end">200</text>
<text x="276.6" y="433.36" font-size="6.1" text-anchor="end">300</text>
<text x="276.6" y="417.95" font-size="6.1" text-anchor="end">400</text>
<text x="276.6" y="402.54" font-size="6.1" text-anchor="end">500</text>
<text x="276.6" y="387.12" font-size="6.1" text-anchor="end">600</text>
<text x="276.6" y="371.71" font-size="6.1" text-anchor="end">700</text>
<text x="276.6" y="356.3" font-size="6.1" text-anchor="end">800</text>
<text x="444.4" y="479.6" font-size="6.1">0</text>
<text x="444.4" y="467.27" font-size="6.1">50</text>
<text x="444.4" y="454.94" font-size="6.1">100</text>
<text x="444.4" y="442.61" font-size="6.1">150</text>
<text x="444.4" y="430.28" font-size="6.1">200</text>
<text x="444.4" y="417.95" font-size="6.1">250</text>
<text x="444.4" y="405.62" font-size="6.1">300</text>
<text x="444.4" y="393.29" font-size="6.1">350</text>
<text x="444.4" y="380.96" font-size="6.1">400</text>
<text x="444.4" y="368.63" font-size="6.1">450</text>
<text x="444.4" y="356.3" font-size="6.1">500</text>
<text x="281.2" y="486.3" font-size="6.1" text-anchor="middle">0</text>
<text x="297.08" y="486.3" font-size="6.1" text-anchor="middle">10</text>
<text x="312.96" y="486.3" font-size="6.1" text-anchor="middle">20</text>
<text x="328.84" y="486.3" font-size="6.1" text-anchor="middle">30</text>
<text x="344.72" y="486.3" font-size="6.1" text-anchor="middle">40</text>
<text x="360.6" y="486.3" font-size="6.1" text-anchor="middle">50</text>
<text x="376.48" y="486.3" font-size="6.1" text-anchor="middle">60</text>
<text x="392.36" y="486.3" font-size="6.1" text-anchor="middle">70</text>
<text x="408.24" y="486.3" font-size="6.1" text-anchor="middle">80</text>
<text x="424.12" y="486.3" font-size="6.1" text-anchor="middle">90</text>
<text x="440" y="486.3" font-size="6.1" text-anchor="middle">100</text>
<text x="360" y="496.1" font-size="6.1" text-anchor="middle">days</text>
<text transform="translate(466.4,415.85) rotate(-90)" font-size="6.1" text-anchor="middle">memory cells</text>
<text x="412.8" y="362.1" font-size="6.1" text-anchor="end">Total</text>
<path d="M416 359.9H432.4" stroke="#3a3a3a" stroke-width="1.2" stroke-opacity="0.85"/>
<text x="412.8" y="368.6" font-size="6.1" text-anchor="end">B not Mem</text>
<path d="M416 366.4H432.4" stroke="#56b4e9" stroke-width="1.2" stroke-opacity="0.7"/>
<text x="412.8" y="375.1" font-size="6.1" text-anchor="end">B Mem (y2)</text>
<path d="M416 372.9H432.4" stroke="#009e73" stroke-width="1.2" stroke-opacity="0.8"/>
<text x="412.8" y="381.6" font-size="6.1" text-anchor="end">B isotype IgM</text>
<path d="M416 379.4H432.4" stroke="#e51e10" stroke-width="1.2" stroke-opacity="0.8"/>
<text x="412.8" y="388.1" font-size="6.1" text-anchor="end">B isotype IgG1</text>
<path d="M416 385.9H432.4" stroke="#9400d3" stroke-width="1.2" stroke-opacity="0.55"/>
<text x="412.8" y="394.6" font-size="6.1" text-anchor="end">B isotype IgG2</text>
<path d="M416 392.4H432.4" stroke="#e69f00" stroke-width="1.2" stroke-opacity="0.55"/>
<path d="M280.6 409.1 281.2 408.8 281.7 408.5 281.9 408.5 282.5 408.5 282.8 408.5 283.1 408.4 283.8 408.1 284 408 284.4 407.7 285 407.2 285.1 407.2 285.7 407 286.2 406.8 286.3 406.7 287 406.4 287.3 406.1 287.6 405.8 288.2 405.1 288.4 404.8 288.9 404.1 289.5 403.2 289.5 403.1 290.1 402.6 290.7 402.4 290.8 402.4 291.4 402.4 291.8 402.4 292 402.4 292.7 402.6 292.9 402.6 293.3 402.6 293.9 402.5 294 402.5 294.6 402.5 295.1 402.5 295.2 402.4 295.8 402.3 296.3 402.1 296.5 402 297.1 401.8 297.4 401.7 297.8 401.6 298.4 401.5 298.5 401.4 299 401.4 299.6 401.3 299.7 401.3 300.3 401.2 300.7 401.1 300.9 401 301.6 400.9 301.8 400.9 302.2 400.8 302.8 400.7 303 400.7 303.5 400.6 304.1 400.4 304.7 400.2 305.2 400.1 305.4 400.1 306 400.2 306.3 400.3 306.6 400.3 307.3 400.4 307.4 400.4 307.9 400.4 308.5 400.4 308.6 400.4 309.2 400.6 309.7 400.7 309.8 400.8 310.5 400.9 310.8 400.9 311.1 401 311.7 401.2 311.9 401.2 312.4 401.3 313 401.5 313.6 401.5 314.1 401.5 314.3 401.5 314.9 401.4 315.3 401.3 315.5 401.2 316.2 400.8 316.4 400.7 316.8 400.4 317.4 400 317.5 400 318.1 399.8 318.6 399.7 318.7 399.7 319.3 399.5 319.7 399.5 320 399.3 320.6 398.9 320.9 398.8 321.3 398.8 321.9 398.9 322 398.9 322.5 399.2 323.1 399.4 323.2 399.4 323.8 399.6 324.2 399.7 324.4 399.8 325.1 400.1 325.3 400.2 325.7 400.3 326.3 400.6 326.5 400.6 327 400.9 327.6 401.2 328.2 401.3 328.7 401.3 328.9 401.4 329.5 401.7 329.8 401.8 330.1 402 330.8 402.4 330.9 402.5 331.4 402.5 332 402.6 332.1 402.6 332.7 402.6 333.2 402.2 333.3 402 334 400.2 334.3 399 334.6 397.7 335.2 395.1 335.4 394.4 335.9 392.8 336.5 391.2 337.1 390.1 337.6 389.4 337.8 389.2 338.4 388.5 338.8 388.2 339 387.8 339.7 387.3 339.9 387.2 340.3 387.3 340.9 387.5 341 387.5 341.6 387.4 342.1 387.4 342.2 387.4 342.8 387.5 343.2 387.6 343.5 387.7 344.1 387.9 344.3 388 344.8 388 345.4 388.1 345.5 388.1 346 388.1 346.6 388.1 346.7 388.1 347.3 388.3 347.7 388.4 347.9 388.4 348.6 388.6 348.8 388.6 349.2 388.7 349.8 388.9 349.9 388.9 350.5 389 351.1 389.1 351.7 389.1 352.2 389.1 352.4 389.1 353 389.4 353.3 389.5 353.6 389.4 354.3 389.3 354.4 389.3 354.9 389.5 355.5 389.8 355.6 389.8 356.2 389.8 356.6 389.7 356.8 389.8 357.5 390.1 357.8 390.2 358.1 390.2 358.7 390.2 358.9 390.2 359.4 390.3 360 390.5 360.6 390.7 361.1 390.9 361.3 390.9 361.9 391 362.2 391.1 362.5 391.2 363.2 391.3 363.4 391.3 363.8 391.4 364.4 391.6 364.5 391.6 365.1 391.8 365.6 391.9 365.7 392 366.4 392.1 366.7 392.2 367 392.2 367.6 392.3 367.8 392.3 368.3 392.3 368.9 392.4 369.5 392.6 370.1 392.8 370.2 392.8 370.8 393.1 371.2 393.3 371.4 393.2 372.1 393.2 372.3 393.1 372.7 393.2 373.3 393.4 373.4 393.4 374 393.5 374.5 393.6 374.6 393.6 375.2 394 375.7 394.2 375.9 394.2 376.5 394.2 376.8 394.1 377.2 394.3 377.8 394.7 377.9 394.7 378.4 394.7 379 394.7 379.1 394.7 379.7 394.9 380.1 395.1 380.3 395.1 381 395.3 381.2 395.4 381.6 395.3 382.2 395.3 382.4 395.3 382.9 395.6 383.5 395.9 384.1 395.9 384.6 395.9 384.8 396 385.4 396 385.7 396 386 395.9 386.7 394.8 386.8 394 387.3 390.9 387.9 385.1 388 385 388.6 379 389.1 375 389.2 374 389.9 371 390.2 370.3 390.5 369.8 391.1 369.3 391.3 369.3 391.8 369.3 392.4 369.5 393 369.4 393.5 369.4 393.7 369.4 394.3 369.4 394.7 369.5 394.9 369.4 395.6 369.3 395.8 369.3 396.2 369.4 396.8 369.7 396.9 369.8 397.5 369.7 398 369.7 398.1 369.7 398.7 370.2 399.1 370.4 399.4 370.4 400 370.4 400.3 370.4 400.7 370.7 401.3 371 401.4 371.1 401.9 371.2 402.5 371.3 402.6 371.3 403.2 371.4 403.6 371.4 403.8 371.5 404.5 371.9 404.7 372 405.1 372.1 405.7 372.3 405.9 372.3 406.4 372.4 407 372.4 407.6 372.7 408.1 372.9 408.3 373 408.9 373.2 409.2 373.4 409.5 373.3 410.2 373.3 410.3 373.3 410.8 373.6 411.4 374 411.5 374 412.1 374.2 412.6 374.4 412.7 374.4 413.4 374.5 413.7 374.5 414 374.6 414.6 374.7 414.8 374.8 415.3 374.9 415.9 375 416.5 375.4 417 375.7 417.2 375.7 417.8 375.9 418.2 376 418.4 376.1 419.1 376.4 419.3 376.5 419.7 376.6 420.3 376.7 420.4 376.7 421 376.8 421.5 377 421.6 377 422.2 377.2 422.6 377.4 422.9 377.5 423.5 377.6 423.7 377.7 424.2 377.9 424.8 378.1 424.9 378.2 425.4 378.3 426 378.5 426.1 378.6 426.7 378.8 427.1 379 427.3 379.1 428 379.4 428.2 379.5 428.6 379.7 429.2 380 429.3 380 429.9 380.1 430.5 380.2 431.1 380.6 431.6 380.8 431.8 380.9 432.4 381.1 432.7 381.3 433 381.3 433.7 381.5 433.8 381.5 434.3 381.6 434.9 381.7 435 381.7 435.6 382.2 436 382.5 436.2 382.5 436.9 382.6 437.2 382.6 437.5 382.8 438.1 383.1 438.3 383.1 438.8 383.3 439.4 383.4" stroke="#3a3a3a" stroke-width="1.05" fill="none" stroke-linejoin="round" stroke-opacity="0.85"/>
<path d="M280.6 409.3 281.2 409.5 281.7 409.8 281.9 409.9 282.5 410.2 282.8 410.4 283.1 410.5 283.8 410.8 284 410.9 284.4 411.3 285 412 285.1 412.1 285.7 413.2 286.2 414.9 286.3 415.5 287 420 287.3 423.4 287.6 426.2 288.2 432.5 288.4 434.3 288.9 437.9 289.5 441.1 289.5 441.2 290.1 442.3 290.7 442.7 290.8 442.7 291.4 442.9 291.8 443 292 443.2 292.7 443.5 292.9 443.6 293.3 443.5 293.9 443.4 294 443.4 294.6 443.5 295.1 443.5 295.2 443.5 295.8 443.5 296.3 443.4 296.5 443.5 297.1 443.6 297.4 443.6 297.8 443.5 298.4 443.4 298.5 443.3 299 443.2 299.6 443.1 299.7 443.1 300.3 443.1 300.7 443.1 300.9 443 301.6 442.9 301.8 442.8 302.2 442.8 302.8 442.7 303 442.7 303.5 442.7 304.1 442.8 304.7 442.5 305.2 442.3 305.4 442.3 306 442.3 306.3 442.2 306.6 442.2 307.3 442.2 307.4 442.2 307.9 442.2 308.5 442.3 308.6 442.3 309.2 442.1 309.7 442 309.8 442.1 310.5 442.2 310.8 442.3 311.1 442.3 311.7 442.3 311.9 442.3 312.4 442.3 313 442.3 313.6 442.4 314.1 442.4 314.3 442.4 314.9 442.4 315.3 442.4 315.5 442.5 316.2 442.5 316.4 442.5 316.8 442.2 317.4 441.8 317.5 441.8 318.1 441.5 318.6 441.3 318.7 441.3 319.3 440.8 319.7 440.5 320 440.4 320.6 440.2 320.9 440.2 321.3 440.4 321.9 440.8 322 440.8 322.5 441 323.1 441.2 323.2 441.2 323.8 441.4 324.2 441.6 324.4 441.6 325.1 441.6 325.3 441.6 325.7 441.9 326.3 442.2 326.5 442.3 327 442.4 327.6 442.6 328.2 442.9 328.7 443.2 328.9 443.2 329.5 443.4 329.8 443.5 330.1 443.6 330.8 443.9 330.9 444 331.4 444.2 332 444.8 332.1 444.8 332.7 446 333.2 447.3 333.3 447.7 334 449.7 334.3 450.6 334.6 451.5 335.2 453 335.4 453.2 335.9 453.8 336.5 454 337.1 454 337.6 454 337.8 454 338.4 454.1 338.8 454.1 339 454.1 339.7 454.1 339.9 454.1 340.3 454.2 340.9 454.3 341 454.3 341.6 454.5 342.1 454.6 342.2 454.6 342.8 454.4 343.2 454.4 343.5 454.4 344.1 454.5 344.3 454.5 344.8 454.6 345.4 454.7 345.5 454.8 346 454.9 346.6 455.1 346.7 455.1 347.3 455.2 347.7 455.3 347.9 455.4 348.6 455.7 348.8 455.8 349.2 455.7 349.8 455.7 349.9 455.7 350.5 455.9 351.1 456 351.1 456.1 351.7 456.3 352.2 456.4 352.4 456.5 353 456.7 353.3 456.7 353.6 456.7 354.3 456.6 354.4 456.6 354.9 456.7 355.5 456.8 355.6 456.8 356.2 457.1 356.6 457.4 356.8 457.4 357.5 457.3 357.8 457.2 358.1 457.4 358.7 457.6 358.9 457.6 359.4 457.7 360 457.9 360.6 458 361.1 458 361.3 458 361.9 458 362.2 458 362.5 458 363.2 458.1 363.4 458.1 363.8 458.3 364.4 458.7 364.5 458.7 365.1 458.6 365.6 458.6 365.7 458.6 366.4 458.9 366.7 459 367 459 367.6 458.9 367.8 458.9 368.3 459 368.9 459.2 368.9 459.3 369.5 459.2 370.1 459.2 370.2 459.2 370.8 459.3 371.2 459.3 371.4 459.4 372.1 459.6 372.3 459.7 372.7 459.7 373.3 459.7 373.4 459.7 374 459.9 374.5 460.2 374.6 460.2 375.2 460.4 375.7 460.5 375.9 460.4 376.5 460.4 376.8 460.4 377.2 460.5 377.8 460.8 377.9 460.8 378.4 460.9 379 460.9 379.1 460.9 379.7 461 380.1 461 380.3 461 381 461.1 381.2 461.1 381.6 461.2 382.2 461.5 382.4 461.5 382.9 461.6 383.5 461.7 384.1 461.6 384.6 461.5 384.8 461.6 385.4 461.8 385.7 462 386 461.9 386.7 461.4 386.8 461 387.3 459.9 387.9 457.2 388 457.2 388.6 454.1 389.1 451.6 389.2 450.9 389.9 448.1 390.2 447.1 390.5 446.5 391.1 445.9 391.3 445.9 391.8 445.8 392.4 445.6 393 445.5 393.5 445.4 393.7 445.4 394.3 445.3 394.7 445.3 394.9 445.2 395.6 445.1 395.8 445.1 396.2 445 396.8 444.9 396.9 444.9 397.5 445 398 445.2 398.1 445.2 398.7 445.4 399.1 445.5 399.4 445.5 400 445.5 400.3 445.5 400.7 445.6 401.3 445.9 401.4 445.9 401.9 446 402.5 446.1 402.6 446.1 403.2 446 403.6 445.9 403.8 446 404.5 446.3 404.7 446.3 405.1 446.4 405.7 446.5 405.9 446.5 406.4 446.7 407 447 407.6 447 408.1 447 408.3 447 408.9 447 409.2 447.1 409.5 447.2 410.2 447.5 410.3 447.5 410.8 447.5 411.4 447.4 411.5 447.4 412.1 447.5 412.6 447.6 412.7 447.7 413.4 447.9 413.7 448.1 414 448 414.6 448 414.8 448 415.3 448.1 415.9 448.2 416.5 448.3 417 448.3 417.2 448.4 417.8 448.6 418.2 448.7 418.4 448.8 419.1 448.8 419.3 448.8 419.7 448.9 420.3 449.1 420.4 449.1 421 449.4 421.5 449.7 421.6 449.8 422.2 449.9 422.6 450 422.9 450 423.5 450 423.7 450 424.2 450.1 424.8 450.1 424.9 450.2 425.4 450.5 426 450.8 426.1 450.8 426.7 450.9 427.1 451 427.3 451 428 451.1 428.2 451.2 428.6 451.3 429.2 451.6 429.3 451.6 429.9 451.7 430.5 451.9 431.1 452 431.6 452.2 431.8 452.2 432.4 452.4 432.7 452.4 433 452.5 433.7 452.6 433.8 452.6 434.3 452.8 434.9 453 435 453 435.6 453.2 436 453.3 436.2 453.3 436.9 453.3 437.2 453.4 437.5 453.6 438.1 453.9 438.3 454 438.8 454 439.4 454" stroke="#56b4e9" stroke-width="1.05" fill="none" stroke-linejoin="round" stroke-opacity="0.85"/>
<path d="M280.6 477.5 281.2 477.5 281.7 477.3 281.9 477.2 282.5 476 282.8 475 283.1 473.9 283.8 471.6 284 470.9 284.4 469.1 285 466.7 285.1 466.6 285.7 464.1 286.2 461 286.3 460.1 287 453.1 287.3 448 287.6 443.6 288.2 433.1 288.4 429.7 288.9 423.1 289.5 416.6 289.5 416.3 290.1 413.9 290.7 412.8 290.8 412.6 291.4 411.8 291.8 411.5 292 411.3 292.7 411.1 292.9 411 293.3 411 293.9 411 294 411 294.6 411 295.1 411 295.2 411 295.8 411 296.3 411 296.5 411 297.1 410.9 297.4 410.9 297.8 410.9 298.4 410.9 298.5 410.9 299 410.9 299.6 410.9 299.7 410.9 300.3 410.9 300.7 410.9 300.9 411 301.6 411 301.8 411 302.2 411 302.8 411 303 411 303.5 411 304.1 411 304.7 411 305.2 411 305.4 411 306 411 306.3 411 306.6 411 307.3 411 307.4 411 307.9 411 308.5 411.1 308.6 411.1 309.2 411.1 309.7 411 309.8 411 310.5 411 310.8 411 311.1 411 311.7 411.1 311.9 411.1 312.4 411.1 313 411.1 313.6 411.1 314.1 411.1 314.3 411.1 314.9 411.1 315.3 411.2 315.5 411.1 316.2 411.1 316.4 411 316.8 411 317.4 411 317.5 411 318.1 411.1 318.6 411.1 318.7 411.1 319.3 411.1 319.7 411.2 320 411.1 320.6 411.1 320.9 411.1 321.3 411.1 321.9 411.1 322 411.1 322.5 411.1 323.1 411.1 323.2 411.1 323.8 411.1 324.2 411.1 324.4 411.1 325.1 411.1 325.3 411.2 325.7 411.2 326.3 411.2 326.5 411.2 327 411.2 327.6 411.2 328.2 411.2 328.7 411.2 328.9 411.2 329.5 411.2 329.8 411.3 330.1 411.2 330.8 411.2 330.9 411.2 331.4 411.2 332 411.2 332.1 411.2 332.7 410.8 333.2 409.3 333.3 408.6 334 402.9 334.3 399.2 334.6 395.5 335.2 388.4 335.4 386.9 335.9 383 336.5 378.7 336.5 378.6 337.1 374.9 337.6 372.2 337.8 371.5 338.4 369.6 338.8 369.2 339 369.1 339.7 369.1 339.9 369.1 340.3 369.1 340.9 369.1 341 369.1 341.6 369.2 342.1 369.2 342.2 369.2 342.8 369.3 343.2 369.3 343.5 369.3 344.1 369.3 344.3 369.4 344.8 369.4 345.4 369.4 345.5 369.4 346 369.4 346.6 369.5 346.7 369.5 347.3 369.5 347.7 369.5 347.9 369.5 348.6 369.5 348.8 369.5 349.2 369.5 349.8 369.6 349.9 369.6 350.5 369.6 351.1 369.6 351.7 369.6 352.2 369.6 352.4 369.7 353 369.8 353.3 369.8 353.6 369.8 354.3 369.9 354.4 369.9 354.9 369.9 355.5 369.9 355.6 369.9 356.2 369.9 356.6 369.9 356.8 369.9 357.5 370 357.8 370 358.1 370 358.7 370.1 358.9 370.1 359.4 370.1 360 370.1 360.6 370.2 361.1 370.2 361.3 370.2 361.9 370.2 362.2 370.2 362.5 370.3 363.2 370.3 363.4 370.3 363.8 370.3 364.4 370.3 364.5 370.3 365.1 370.3 365.6 370.4 365.7 370.4 366.4 370.4 366.7 370.5 367 370.5 367.6 370.6 367.8 370.6 368.3 370.6 368.9 370.7 369.5 370.8 370.1 371 370.2 371 370.8 371 371.2 371 371.4 371 372.1 371.1 372.3 371.1 372.7 371.1 373.3 371.2 373.4 371.2 374 371.3 374.5 371.4 374.6 371.4 375.2 371.4 375.7 371.4 375.9 371.5 376.5 371.6 376.8 371.6 377.2 371.6 377.8 371.7 377.9 371.7 378.4 371.8 379 371.9 379.1 371.9 379.7 372 380.1 372 380.3 372 381 372.1 381.2 372.1 381.6 372.2 382.2 372.3 382.4 372.3 382.9 372.3 383.5 372.4 384.1 372.4 384.6 372.4 384.8 372.4 385.4 372.5 385.7 372.6 386 372.5 386.7 371.6 386.8 371.1 387.3 369.2 387.9 366 388 366 388.6 362.8 389.1 360.6 389.2 360 389.9 358.2 390.2 357.6 390.5 357.2 391.1 356.5 391.3 356.4 391.8 355.9 392.4 355.6 393 355.6 393.5 355.7 393.7 355.7 394.3 355.7 394.7 355.7 394.9 355.8 395.6 355.9 395.8 355.9 396.2 356 396.8 356.1 396.9 356.1 397.5 356.2 398 356.3 398.1 356.3 398.7 356.4 399.1 356.5 399.4 356.5 400 356.6 400.3 356.6 400.7 356.6 401.3 356.7 401.4 356.7 401.9 356.8 402.5 356.9 402.6 356.9 403.2 357 403.6 357.1 403.8 357.1 404.5 357.1 404.7 357.2 405.1 357.2 405.7 357.3 405.9 357.3 406.4 357.4 407 357.4 407.6 357.6 408.1 357.7 408.3 357.7 408.9 357.7 409.2 357.8 409.5 357.8 410.2 357.9 410.3 357.9 410.8 358 411.4 358.1 411.5 358.1 412.1 358.1 412.6 358.1 412.7 358.2 413.4 358.3 413.7 358.4 414 358.4 414.6 358.5 414.8 358.6 415.3 358.6 415.9 358.7 416.5 358.8 417 358.9 417.2 358.9 417.8 359 418.2 359 418.4 359 419.1 359.2 419.3 359.2 419.7 359.2 420.3 359.3 420.4 359.3 421 359.4 421.5 359.5 421.6 359.6 422.2 359.7 422.6 359.8 422.9 359.9 423.5 360 423.7 360.1 424.2 360.2 424.8 360.3 424.9 360.3 425.4 360.4 426 360.5 426.1 360.5 426.7 360.7 427.1 360.7 427.3 360.8 428 360.9 428.2 361 428.6 361 429.2 361.1 429.3 361.1 429.9 361.2 430.5 361.4 431.1 361.6 431.6 361.7 431.8 361.7 432.4 361.7 432.7 361.7 433 361.8 433.7 362 433.8 362 434.3 362.1 434.9 362.2 435 362.2 435.6 362.4 436 362.5 436.2 362.5 436.9 362.6 437.2 362.6 437.5 362.7 438.1 362.9 438.3 362.9 438.8 363 439.4 363.1" stroke="#009e73" stroke-width="1.05" fill="none" stroke-linejoin="round" stroke-opacity="0.85"/>
<path d="M280.6 409.1 281.2 408.9 281.7 408.6 281.9 408.6 282.5 408.3 282.8 408.2 283.1 408 283.8 407.7 284 407.6 284.4 407.5 285 407.3 285.1 407.3 285.7 407 286.2 406.7 286.3 406.7 287 406.6 287.3 406.5 287.6 406.3 288.2 405.7 288.4 405.5 288.9 405 289.5 404.4 289.5 404.3 290.1 404.1 290.7 404 290.8 404 291.4 403.8 291.8 403.7 292 403.7 292.7 403.9 292.9 403.9 293.3 403.8 293.9 403.6 294 403.6 294.6 403.5 295.1 403.5 295.2 403.5 295.8 403.3 296.3 403.2 296.5 403.2 297.1 403.1 297.4 403 297.8 403.1 298.4 403.1 298.5 403.1 299 403 299.6 402.9 299.7 402.9 300.3 402.8 300.7 402.7 300.9 402.6 301.6 402.3 301.8 402.2 302.2 402.2 302.8 402.1 303 402.1 303.5 402.2 304.1 402.3 304.7 402 305.2 401.9 305.4 402 306 402.2 306.3 402.3 306.6 402.3 307.3 402.2 307.4 402.2 307.9 402.4 308.5 402.6 308.6 402.6 309.2 402.7 309.7 402.8 309.8 402.7 310.5 402.6 310.8 402.5 311.1 402.6 311.7 402.8 311.9 402.9 312.4 403 313 403 313.6 402.9 314.1 402.7 314.3 402.7 314.9 402.6 315.3 402.5 315.5 402.5 316.2 402.3 316.4 402.3 316.8 402 317.4 401.5 317.5 401.5 318.1 401.3 318.6 401.2 318.7 401.2 319.3 400.8 319.7 400.6 320 400.6 320.6 400.5 320.9 400.5 321.3 400.3 321.9 400.3 322 400.3 322.5 400.5 323.1 400.8 323.2 400.8 323.8 401 324.2 401.1 324.4 401.2 325.1 401.5 325.3 401.6 325.7 401.8 326.3 402.2 326.5 402.3 327 402.5 327.6 402.7 328.2 403 328.7 403.2 328.9 403.3 329.5 403.6 329.8 403.7 330.1 403.8 330.8 404 330.9 404.1 331.4 404.2 332 404.2 332.1 404.2 332.7 404.2 333.2 403.9 333.3 403.8 334 402.6 334.3 401.8 334.6 400.8 335.2 398.8 335.4 398.3 335.9 397.3 336.5 396.6 337.1 396.4 337.6 396.3 337.8 396.3 338.4 396.1 338.8 396 339 396.1 339.7 396.3 339.9 396.3 340.3 396.4 340.9 396.6 341 396.6 341.6 396.6 342.1 396.7 342.2 396.7 342.8 396.7 343.2 396.8 343.5 396.9 344.1 397.1 344.3 397.2 344.8 397.1 345.4 397 345.5 397 346 397.3 346.6 397.6 346.7 397.6 347.3 397.5 347.7 397.5 347.9 397.5 348.6 397.6 348.8 397.6 349.2 397.8 349.8 398.1 349.9 398.2 350.5 398.1 351.1 398 351.7 398.2 352.2 398.4 352.4 398.4 353 398.4 353.3 398.4 353.6 398.6 354.3 398.8 354.4 398.9 354.9 399 355.5 399.1 355.6 399.1 356.2 399.1 356.6 399.2 356.8 399.1 357.5 399 357.8 399 358.1 399.1 358.7 399.5 358.9 399.5 359.4 399.5 360 399.4 360.6 399.5 361.1 399.5 361.3 399.6 361.9 399.7 362.2 399.7 362.5 399.8 363.2 400.1 363.4 400.2 363.8 400.3 364.4 400.4 364.5 400.4 365.1 400.4 365.6 400.5 365.7 400.5 366.4 400.5 366.7 400.6 367 400.7 367.6 401 367.8 401.1 368.3 401 368.9 401 369.5 401.1 370.1 401.2 370.2 401.2 370.8 401.3 371.2 401.4 371.4 401.5 372.1 401.8 372.3 402 372.7 401.9 373.3 401.8 373.4 401.7 374 402 374.5 402.3 374.6 402.4 375.2 402.4 375.7 402.4 375.9 402.5 376.5 402.5 376.8 402.5 377.2 402.6 377.8 402.6 377.9 402.6 378.4 402.8 379 403.1 379.1 403.1 379.7 403 380.1 403 380.3 403.1 381 403.3 381.2 403.4 381.6 403.5 382.2 403.7 382.4 403.7 382.9 403.8 383.5 403.9 384.1 404.1 384.6 404.2 384.8 404.2 385.4 404.4 385.7 404.4 386 404.4 386.7 403.8 386.8 403.5 387.3 402.2 387.9 399.9 388 399.9 388.6 397.7 389.1 396.1 389.2 395.8 389.9 394.7 390.2 394.4 390.5 394.1 391.1 393.5 391.3 393.3 391.8 392.7 392.4 392.2 393 392.4 393.5 392.5 393.7 392.6 394.3 392.7 394.7 392.8 394.9 392.9 395.6 393.1 395.8 393.1 396.2 393.1 396.8 393.2 396.9 393.2 397.5 393.2 398 393.3 398.1 393.3 398.7 393.5 399.1 393.7 399.4 393.7 400 393.9 400.3 393.9 400.7 394 401.3 394.3 401.4 394.3 401.9 394.2 402.5 394.1 402.6 394.1 403.2 394.5 403.6 394.7 403.8 394.7 404.5 394.7 404.7 394.7 405.1 394.8 405.7 394.8 405.9 394.8 406.4 395.1 407 395.3 407.6 395.3 408.1 395.3 408.3 395.3 408.9 395.4 409.2 395.4 409.5 395.5 410.2 395.7 410.3 395.8 410.8 395.8 411.4 395.9 411.5 395.9 412.1 396.2 412.6 396.5 412.7 396.5 413.4 396.5 413.7 396.5 414 396.6 414.6 396.8 414.8 396.9 415.3 396.8 415.9 396.8 416.5 397 417 397.3 417.2 397.3 417.8 397.4 418.2 397.5 418.4 397.5 419.1 397.5 419.3 397.5 419.7 397.7 420.3 397.9 420.4 397.9 421 398 421.5 398.1 421.6 398.2 422.2 398.5 422.6 398.7 422.9 398.7 423.5 398.9 423.7 398.9 424.2 399 424.8 399.1 424.9 399.1 425.4 399.3 426 399.5 426.1 399.6 426.7 399.8 427.1 399.9 427.3 400 428 400.1 428.2 400.2 428.6 400.3 429.2 400.5 429.3 400.6 429.9 400.7 430.5 400.8 431.1 400.8 431.6 400.8 431.8 400.8 432.4 401 432.7 401.1 433 401.2 433.7 401.5 433.8 401.5 434.3 401.7 434.9 401.9 435 401.9 435.6 402.1 436 402.3 436.2 402.3 436.9 402.5 437.2 402.7 437.5 402.7 438.1 402.8 438.3 402.9 438.8 402.9 439.4 403" stroke="#e51e10" stroke-width="1.05" fill="none" stroke-linejoin="round" stroke-opacity="0.9"/>
<path d="M280.6 477.5 281.2 477.5 281.7 477.5 281.9 477.5 282.5 477.5 282.8 477.5 283.1 477.5 283.8 477.5 284 477.5 284.4 477.6 285 477.6 285.1 477.6 285.7 477.5 286.2 477.5 286.3 477.5 287 477.5 287.3 477.5 287.6 477.5 288.2 477.5 288.4 477.5 288.9 477.5 289.5 477.5 290.1 477.3 290.7 477 290.8 477 291.4 476.6 291.8 476.4 292 476.2 292.7 475.9 292.9 475.8 293.3 475.8 293.9 475.8 294 475.8 294.6 475.8 295.1 475.8 295.2 475.8 295.8 475.8 296.3 475.8 296.5 475.8 297.1 475.8 297.4 475.8 297.8 475.8 298.4 475.8 298.5 475.9 299 475.8 299.6 475.8 299.7 475.8 300.3 475.8 300.7 475.8 300.9 475.8 301.6 475.8 301.8 475.8 302.2 475.8 302.8 475.8 303 475.8 303.5 475.8 304.1 475.8 304.7 475.8 305.2 475.8 305.4 475.8 306 475.8 306.3 475.8 306.6 475.8 307.3 475.9 307.4 475.9 307.9 475.8 308.5 475.8 308.6 475.8 309.2 475.8 309.7 475.8 309.8 475.8 310.5 475.8 310.8 475.8 311.1 475.8 311.7 475.9 311.9 475.9 312.4 475.9 313 475.9 313.6 475.8 314.1 475.8 314.3 475.8 314.9 475.8 315.3 475.8 315.5 475.8 316.2 475.8 316.4 475.7 316.8 475.8 317.4 475.8 317.5 475.8 318.1 475.8 318.6 475.9 318.7 475.8 319.3 475.8 319.7 475.8 320 475.8 320.6 475.8 320.9 475.8 321.3 475.8 321.9 475.7 322 475.7 322.5 475.7 323.1 475.7 323.2 475.7 323.8 475.8 324.2 475.8 324.4 475.8 325.1 475.8 325.3 475.8 325.7 475.8 326.3 475.8 326.5 475.8 327 475.8 327.6 475.8 328.2 475.7 328.7 475.7 328.9 475.8 329.5 475.8 329.8 475.9 330.1 475.9 330.8 475.8 330.9 475.8 331.4 475.8 332 475.8 332.1 475.8 332.7 475.8 333.2 475.8 333.3 475.8 334 475.7 334.3 475.5 334.6 475.2 335.2 474 335.4 473.5 335.9 472.2 336.5 470.5 337.1 469.4 337.6 469.1 337.8 469.1 338.4 469.1 338.8 469.1 339 469.1 339.7 469.1 339.9 469.1 340.3 469.1 340.9 469.1 341 469.1 341.6 469.2 342.1 469.2 342.2 469.2 342.8 469.2 343.2 469.2 343.5 469.2 344.1 469.2 344.3 469.2 344.8 469.2 345.4 469.3 345.5 469.3 346 469.2 346.6 469.2 346.7 469.2 347.3 469.2 347.7 469.2 347.9 469.3 348.6 469.3 348.8 469.4 349.2 469.3 349.8 469.3 349.9 469.3 350.5 469.3 351.1 469.4 351.7 469.4 352.2 469.4 352.4 469.4 353 469.3 353.3 469.3 353.6 469.3 354.3 469.4 354.4 469.4 354.9 469.4 355.5 469.5 355.6 469.5 356.2 469.5 356.6 469.5 356.8 469.5 357.5 469.5 357.8 469.5 358.1 469.5 358.7 469.6 358.9 469.6 359.4 469.5 360 469.5 360.6 469.5 361.1 469.6 361.3 469.6 361.9 469.6 362.2 469.6 362.5 469.6 363.2 469.6 363.4 469.6 363.8 469.6 364.4 469.6 364.5 469.6 365.1 469.6 365.6 469.6 365.7 469.6 366.4 469.7 366.7 469.7 367 469.7 367.6 469.6 367.8 469.6 368.3 469.6 368.9 469.7 369.5 469.7 370.1 469.7 370.2 469.7 370.8 469.7 371.2 469.7 371.4 469.7 372.1 469.8 372.3 469.8 372.7 469.8 373.3 469.8 373.4 469.8 374 469.8 374.5 469.8 374.6 469.8 375.2 469.8 375.7 469.9 375.9 469.9 376.5 469.9 376.8 469.9 377.2 469.9 377.8 469.9 377.9 469.9 378.4 469.9 379 470 379.1 470 379.7 470 380.1 470 380.3 470 381 470 381.2 470 381.6 470 382.2 470 382.4 470.1 382.9 470 383.5 470 384.1 470 384.6 470 384.8 470 385.4 470 385.7 469.8 386 469.4 386.7 467.4 386.8 466.7 387.3 464.5 387.9 461.3 388 461.2 388.6 458.3 389.1 456.8 389.2 456.4 389.9 455.8 390.2 455.7 390.5 455.8 391.1 455.8 391.3 455.8 391.8 455.8 392.4 455.9 393 455.9 393.5 455.9 393.7 455.9 394.3 456 394.7 456.1 394.9 456.1 395.6 456.1 395.8 456.1 396.2 456.1 396.8 456.2 396.9 456.2 397.5 456.2 398 456.3 398.1 456.3 398.7 456.4 399.1 456.4 399.4 456.4 400 456.5 400.3 456.5 400.7 456.5 401.3 456.6 401.4 456.6 401.9 456.6 402.5 456.7 402.6 456.7 403.2 456.7 403.6 456.7 403.8 456.8 404.5 456.8 404.7 456.8 405.1 456.8 405.7 456.9 405.9 456.9 406.4 456.9 407 457 407.6 457 408.1 457 408.3 457.1 408.9 457.1 409.2 457.1 409.5 457.1 410.2 457.2 410.3 457.2 410.8 457.3 411.4 457.3 411.5 457.3 412.1 457.4 412.6 457.4 412.7 457.4 413.4 457.5 413.7 457.5 414 457.5 414.6 457.6 414.8 457.6 415.3 457.6 415.9 457.7 416.5 457.7 417 457.7 417.2 457.7 417.8 457.8 418.2 457.8 418.4 457.8 419.1 457.9 419.3 458 419.7 458 420.3 458.1 420.4 458.1 421 458.1 421.5 458.1 421.6 458.1 422.2 458.2 422.6 458.3 422.9 458.3 423.5 458.3 423.7 458.3 424.2 458.3 424.8 458.3 424.9 458.3 425.4 458.4 426 458.5 426.1 458.5 426.7 458.5 427.1 458.5 427.3 458.5 428 458.6 428.2 458.6 428.6 458.6 429.2 458.6 429.3 458.6 429.9 458.7 430.5 458.7 431.1 458.9 431.6 458.9 431.8 458.9 432.4 459 432.7 459 433 459 433.7 459 433.8 459 434.3 459 434.9 459.1 435 459.1 435.6 459.2 436 459.2 436.2 459.2 436.9 459.2 437.2 459.3 437.5 459.3 438.1 459.3 438.3 459.3 438.8 459.4 439.4 459.5" stroke="#9400d3" stroke-width="1.05" fill="none" stroke-linejoin="round" stroke-opacity="0.75"/>
<path d="M280.6 477.5 281.2 477.5 281.7 477.5 281.9 477.5 282.5 477.5 282.8 477.5 283.1 477.5 283.8 477.5 284 477.5 284.4 477.5 285 477.5 285.1 477.5 285.7 477.5 286.2 477.5 286.3 477.5 287 477.5 287.3 477.5 287.6 477.5 288.2 477.5 288.4 477.5 288.9 477.5 289.5 477.5 290.1 477.5 290.7 477.5 290.8 477.5 291.4 477.5 291.8 477.5 292 477.5 292.7 477.4 292.9 477.4 293.3 477.4 293.9 477.3 294 477.3 294.6 477.2 295.1 477.2 295.2 477.2 295.8 477.2 296.3 477.2 296.5 477.2 297.1 477.2 297.4 477.2 297.8 477.2 298.4 477.2 298.5 477.2 299 477.2 299.6 477.2 299.7 477.2 300.3 477.2 300.7 477.2 300.9 477.2 301.6 477.2 301.8 477.2 302.2 477.2 302.8 477.2 303 477.1 303.5 477.2 304.1 477.2 304.7 477.2 305.2 477.2 305.4 477.2 306 477.2 306.3 477.2 306.6 477.2 307.3 477.2 307.4 477.2 307.9 477.2 308.5 477.2 308.6 477.2 309.2 477.2 309.7 477.2 309.8 477.2 310.5 477.2 310.8 477.2 311.1 477.2 311.7 477.2 311.9 477.2 312.4 477.2 313 477.2 313.6 477.2 314.1 477.2 314.3 477.2 314.9 477.2 315.3 477.2 315.5 477.2 316.2 477.2 316.4 477.2 316.8 477.2 317.4 477.2 317.5 477.2 318.1 477.2 318.6 477.2 318.7 477.2 319.3 477.2 319.7 477.2 320 477.2 320.6 477.2 320.9 477.2 321.3 477.2 321.9 477.2 322 477.2 322.5 477.2 323.1 477.2 323.2 477.2 323.8 477.2 324.2 477.2 324.4 477.2 325.1 477.2 325.3 477.2 325.7 477.2 326.3 477.2 326.5 477.2 327 477.2 327.6 477.2 328.2 477.2 328.7 477.2 328.9 477.2 329.5 477.2 329.8 477.2 330.1 477.2 330.8 477.2 330.9 477.2 331.4 477.2 332 477.2 332.1 477.2 332.7 477.2 333.2 477.2 333.3 477.2 334 477.2 334.3 477.2 334.6 477.2 335.2 477.2 335.4 477.2 335.9 477.2 336.5 477.1 337.1 477.1 337.6 477 337.8 477 338.4 476.9 338.8 476.8 339 476.8 339.7 476.7 339.9 476.7 340.3 476.7 340.9 476.8 341 476.8 341.6 476.7 342.1 476.7 342.2 476.7 342.8 476.8 343.2 476.8 343.5 476.8 344.1 476.7 344.3 476.7 344.8 476.7 345.4 476.7 345.5 476.7 346 476.7 346.6 476.7 346.7 476.7 347.3 476.7 347.7 476.7 347.9 476.7 348.6 476.7 348.8 476.7 349.2 476.7 349.8 476.7 349.9 476.7 350.5 476.7 351.1 476.7 351.7 476.7 352.2 476.7 352.4 476.7 353 476.7 353.3 476.7 353.6 476.7 354.3 476.7 354.4 476.7 354.9 476.7 355.5 476.7 355.6 476.7 356.2 476.7 356.6 476.7 356.8 476.7 357.5 476.7 357.8 476.7 358.1 476.7 358.7 476.8 358.9 476.8 359.4 476.7 360 476.7 360.6 476.7 361.1 476.7 361.3 476.7 361.9 476.7 362.2 476.7 362.5 476.7 363.2 476.7 363.4 476.7 363.8 476.7 364.4 476.7 364.5 476.7 365.1 476.7 365.6 476.7 365.7 476.7 366.4 476.7 366.7 476.7 367 476.7 367.6 476.8 367.8 476.8 368.3 476.8 368.9 476.7 369.5 476.7 370.1 476.8 370.2 476.8 370.8 476.8 371.2 476.8 371.4 476.8 372.1 476.8 372.3 476.8 372.7 476.7 373.3 476.7 373.4 476.7 374 476.7 374.5 476.8 374.6 476.8 375.2 476.8 375.7 476.8 375.9 476.8 376.5 476.7 376.8 476.7 377.2 476.7 377.8 476.7 377.9 476.7 378.4 476.7 379 476.8 379.1 476.8 379.7 476.7 380.1 476.7 380.3 476.7 381 476.7 381.2 476.7 381.6 476.7 382.2 476.7 382.4 476.7 382.9 476.7 383.5 476.7 384.1 476.7 384.6 476.7 384.8 476.7 385.4 476.7 385.7 476.7 386 476.7 386.7 476.7 386.8 476.7 387.3 476.6 387.9 476.5 388 476.5 388.6 476.3 389.1 476.2 389.2 476.2 389.9 476 390.2 476 390.5 476 391.1 476 391.3 476 391.8 476 392.4 476 393 476 393.5 476 393.7 476 394.3 476 394.7 476 394.9 476 395.6 476 395.8 476 396.2 476 396.8 476 396.9 476 397.5 476 398 476 398.1 476 398.7 476 399.1 476 399.4 476 400 476 400.3 476 400.7 476 401.3 476 401.4 476 401.9 476 402.5 476 402.6 476 403.2 476 403.6 476 403.8 476 404.5 476 404.7 476 405.1 476 405.7 476 405.9 476 406.4 476 407 476 407.6 476 408.1 476 408.3 476 408.9 476 409.2 476.1 409.5 476 410.2 476 410.3 476 410.8 476 411.4 476 411.5 476 412.1 476 412.6 476 412.7 476 413.4 476 413.7 476 414 476 414.6 476 414.8 476 415.3 476 415.9 476 416.5 476.1 417 476.1 417.2 476.1 417.8 476 418.2 476 418.4 476 419.1 476.1 419.3 476.1 419.7 476.1 420.3 476.1 420.4 476.1 421 476.1 421.5 476.1 421.6 476.1 422.2 476.1 422.6 476.1 422.9 476.1 423.5 476.1 423.7 476.1 424.2 476.1 424.8 476.1 424.9 476.1 425.4 476.1 426 476.1 426.1 476.1 426.7 476.1 427.1 476.1 427.3 476.1 428 476.1 428.2 476.1 428.6 476.1 429.2 476.1 429.3 476.1 429.9 476.1 430.5 476.1 431.1 476.1 431.6 476.1 431.8 476.1 432.4 476.1 432.7 476.1 433 476.1 433.7 476.1 433.8 476.1 434.3 476.1 434.9 476.1 435 476.1 435.6 476.1 436 476.1 436.2 476.1 436.9 476.1 437.2 476.1 437.5 476.1 438.1 476.1 438.3 476.1 438.8 476.1 439.4 476.1" stroke="#e69f00" stroke-width="1.05" fill="none" stroke-linejoin="round" stroke-opacity="0.7"/>
<rect x="280.4" y="521.6" width="159.6" height="123.5" fill="none" stroke="#7a7a7a" stroke-width="0.9"/>
<path d="M280.4 645.1v-2.0M280.4 521.6v2.0M296.36 645.1v-2.0M296.36 521.6v2.0M312.32 645.1v-2.0M312.32 521.6v2.0M328.28 645.1v-2.0M328.28 521.6v2.0M344.24 645.1v-2.0M344.24 521.6v2.0M360.2 645.1v-2.0M360.2 521.6v2.0M376.16 645.1v-2.0M376.16 521.6v2.0M392.12 645.1v-2.0M392.12 521.6v2.0M408.08 645.1v-2.0M408.08 521.6v2.0M424.04 645.1v-2.0M424.04 521.6v2.0M440 645.1v-2.0M440 521.6v2.0M280.4 645.1h2.0M280.4 627.46h2.0M280.4 609.81h2.0M280.4 592.17h2.0M280.4 574.53h2.0M280.4 556.89h2.0M280.4 539.24h2.0M280.4 521.6h2.0M440 645.1h-2.0M440 632.75h-2.0M440 620.4h-2.0M440 608.05h-2.0M440 595.7h-2.0M440 583.35h-2.0M440 571h-2.0M440 558.65h-2.0M440 546.3h-2.0M440 533.95h-2.0M440 521.6h-2.0" stroke="#7a7a7a" stroke-width="0.6" fill="none"/>
<text x="276.4" y="647.2" font-size="6.1" text-anchor="end">0</text>
<text x="276.4" y="629.56" font-size="6.1" text-anchor="end">100</text>
<text x="276.4" y="611.91" font-size="6.1" text-anchor="end">200</text>
<text x="276.4" y="594.27" font-size="6.1" text-anchor="end">300</text>
<text x="276.4" y="576.63" font-size="6.1" text-anchor="end">400</text>
<text x="276.4" y="558.99" font-size="6.1" text-anchor="end">500</text>
<text x="276.4" y="541.34" font-size="6.1" text-anchor="end">600</text>
<text x="276.4" y="523.7" font-size="6.1" text-anchor="end">700</text>
<text x="445" y="647.2" font-size="6.1">0</text>
<text x="445" y="634.85" font-size="6.1">50</text>
<text x="445" y="622.5" font-size="6.1">100</text>
<text x="445" y="610.15" font-size="6.1">150</text>
<text x="445" y="597.8" font-size="6.1">200</text>
<text x="445" y="585.45" font-size="6.1">250</text>
<text x="445" y="573.1" font-size="6.1">300</text>
<text x="445" y="560.75" font-size="6.1">350</text>
<text x="445" y="548.4" font-size="6.1">400</text>
<text x="445" y="536.05" font-size="6.1">450</text>
<text x="445" y="523.7" font-size="6.1">500</text>
<text x="281" y="653.9" font-size="6.1" text-anchor="middle">0</text>
<text x="296.96" y="653.9" font-size="6.1" text-anchor="middle">10</text>
<text x="312.92" y="653.9" font-size="6.1" text-anchor="middle">20</text>
<text x="328.88" y="653.9" font-size="6.1" text-anchor="middle">30</text>
<text x="344.84" y="653.9" font-size="6.1" text-anchor="middle">40</text>
<text x="360.8" y="653.9" font-size="6.1" text-anchor="middle">50</text>
<text x="376.76" y="653.9" font-size="6.1" text-anchor="middle">60</text>
<text x="392.72" y="653.9" font-size="6.1" text-anchor="middle">70</text>
<text x="408.68" y="653.9" font-size="6.1" text-anchor="middle">80</text>
<text x="424.64" y="653.9" font-size="6.1" text-anchor="middle">90</text>
<text x="440.6" y="653.9" font-size="6.1" text-anchor="middle">100</text>
<text x="360.2" y="663.7" font-size="6.1" text-anchor="middle">days</text>
<text transform="translate(467,583.35) rotate(-90)" font-size="6.1" text-anchor="middle">memory cells</text>
<text x="413.4" y="529.5" font-size="6.1" text-anchor="end">Total</text>
<path d="M416.6 527.3H433" stroke="#3a3a3a" stroke-width="1.2" stroke-opacity="0.85"/>
<text x="413.4" y="536.05" font-size="6.1" text-anchor="end">B not Mem</text>
<path d="M416.6 533.85H433" stroke="#56b4e9" stroke-width="1.2" stroke-opacity="0.7"/>
<text x="413.4" y="542.6" font-size="6.1" text-anchor="end">B Mem (y2)</text>
<path d="M416.6 540.4H433" stroke="#009e73" stroke-width="1.2" stroke-opacity="0.8"/>
<text x="413.4" y="549.15" font-size="6.1" text-anchor="end">B isotype IgM</text>
<path d="M416.6 546.95H433" stroke="#e51e10" stroke-width="1.2" stroke-opacity="0.8"/>
<text x="413.4" y="555.7" font-size="6.1" text-anchor="end">B isotype IgG1</text>
<path d="M416.6 553.5H433" stroke="#9400d3" stroke-width="1.2" stroke-opacity="0.55"/>
<text x="413.4" y="562.25" font-size="6.1" text-anchor="end">B isotype IgG2</text>
<path d="M416.6 560.05H433" stroke="#e69f00" stroke-width="1.2" stroke-opacity="0.55"/>
<path d="M280.4 566.7 281 566.4 281.5 566.1 281.7 566.1 282.3 566.1 282.6 566.1 283 566 283.6 565.7 283.8 565.7 284.2 565.3 284.9 564.8 285.5 564.4 286 563.8 286.1 563.6 286.8 562.4 287.1 561.6 287.4 561 288.1 559.7 288.3 559.4 288.7 558.6 289.3 557.9 289.4 557.8 290 557.4 290.5 557 290.6 556.9 291.3 556.5 291.6 556.3 291.9 556.3 292.5 556.1 292.8 556 293.2 555.8 293.8 555.5 293.9 555.4 294.4 555.2 295 555 295.1 554.9 295.7 554.6 296.1 554.4 296.4 554.3 297 554.1 297.3 554 297.6 553.9 298.3 553.7 298.4 553.7 298.9 553.7 299.5 553.6 299.6 553.6 300.2 553.5 300.6 553.4 300.8 553.3 301.5 553.3 301.8 553.2 302.1 553.2 302.7 553.3 302.9 553.4 303.4 553.4 304 553.5 304.7 553.4 305.1 553.4 305.3 553.4 305.9 553.5 306.3 553.6 306.6 553.6 307.2 553.7 307.4 553.7 307.9 553.6 308.5 553.5 309.1 553.7 309.6 553.9 309.8 553.9 310.4 553.9 310.7 554 311 554.1 311.7 554.2 311.9 554.3 312.3 554.3 313 554.2 313.6 553.7 314.1 553.4 314.2 553.3 314.9 553.4 315.2 553.5 315.5 553.6 316.2 553.6 316.4 553.7 316.8 553.7 317.4 553.7 317.5 553.7 318.1 554 318.6 554.2 318.7 554.3 319.3 554.6 319.7 554.8 320 554.8 320.6 554.8 320.9 554.7 321.3 554.9 321.9 555.1 322 555.1 322.5 555.3 323.1 555.5 323.2 555.5 323.8 555.6 324.2 555.7 324.4 555.8 325.1 556 325.4 556.1 325.7 556.2 326.4 556.4 326.5 556.4 327 556.6 327.6 556.9 328.3 556.9 328.7 556.9 328.9 556.9 329.6 557.1 329.9 557.1 330.2 557.3 330.8 557.7 331 557.8 331.5 557.8 332.1 557.8 332.7 558 333.2 558.1 333.4 558.1 334 557.8 334.3 557.1 334.7 555.9 335.3 552.5 335.5 551.5 335.9 548.6 336.6 545 336.6 544.9 337.2 542.3 337.7 541.3 337.9 541.1 338.5 540.7 338.8 540.6 339.1 540.3 339.8 540 340 540 340.4 540.1 341 540.4 341.1 540.4 341.7 540.4 342.2 540.5 342.3 540.5 343 540.7 343.3 540.8 343.6 540.9 344.2 541.2 344.5 541.3 344.9 541.4 345.5 541.6 345.6 541.6 346.2 541.7 346.7 541.7 346.8 541.8 347.4 542 347.8 542.2 348.1 542.3 348.7 542.5 349 542.6 349.3 542.8 350 543 350.1 543.1 350.6 543.2 351.2 543.3 351.3 543.3 351.9 543.4 352.3 543.5 352.5 543.6 353.2 543.9 353.5 544.1 353.8 544.1 354.5 544 354.6 544 355.1 544.3 355.7 544.7 356.4 544.7 356.8 544.7 357 544.8 357.6 545.1 358 545.3 358.3 545.3 358.9 545.3 359.1 545.3 359.6 545.5 360.2 545.7 360.8 546 361.3 546.2 361.5 546.2 362.1 546.4 362.4 546.5 362.8 546.6 363.4 546.7 363.6 546.7 364 546.9 364.7 547.1 365.3 547.4 365.8 547.7 365.9 547.7 366.6 548 366.9 548.2 367.2 548.2 367.9 548.4 368.1 548.4 368.5 548.5 369.1 548.6 369.2 548.6 369.8 548.9 370.3 549.2 370.4 549.3 371.1 549.7 371.4 550 371.7 550 372.3 550 372.6 550 373 550.2 373.6 550.4 373.7 550.5 374.2 550.6 374.8 550.8 374.9 550.9 375.5 551.3 375.9 551.6 376.2 551.7 376.8 551.7 377.1 551.8 377.4 552 378.1 552.5 378.2 552.6 378.7 552.6 379.3 552.7 379.4 552.7 380 553.1 380.4 553.3 380.6 553.4 381.3 553.7 381.6 553.8 381.9 553.8 382.5 553.8 382.7 553.9 383.2 554.2 383.8 554.7 384.5 554.8 384.9 554.9 385.1 554.9 385.7 555 386.1 554.9 386.4 554.9 387 554.5 387.2 554.2 387.7 552.4 388.3 546.8 388.3 546.7 388.9 538.8 389.4 532.8 389.6 531.1 390.2 526.6 390.5 525.6 390.8 525.1 391.5 524.6 391.7 524.5 392.1 524.4 392.8 524.5 393.4 524.5 393.9 524.7 394 524.7 394.7 525 395 525.2 395.3 525.2 396 525.3 396.2 525.3 396.6 525.6 397.2 526 397.3 526.1 397.9 526.1 398.4 526.1 398.5 526.1 399.1 526.7 399.5 527 399.8 527 400.4 527 400.7 527 401.1 527.3 401.7 527.8 401.8 527.8 402.3 528 402.9 528.2 403 528.2 403.6 528.2 404 528.3 404.2 528.4 404.9 528.9 405.2 529.1 405.5 529.2 406.2 529.4 406.3 529.5 406.8 529.6 407.4 529.7 408.1 530 408.5 530.2 408.7 530.3 409.4 530.7 409.7 530.9 410 530.8 410.6 530.8 410.8 530.8 411.3 531.2 411.9 531.7 412.5 531.9 413 532.2 413.2 532.2 413.8 532.3 414.1 532.4 414.5 532.5 415.1 532.7 415.3 532.7 415.7 532.9 416.4 533.1 417 533.5 417.5 533.9 417.7 533.9 418.3 534.1 418.6 534.2 418.9 534.4 419.6 534.7 419.8 534.8 420.2 534.9 420.8 535 420.9 535 421.5 535.2 422 535.3 422.1 535.4 422.8 535.6 423.1 535.8 423.4 535.9 424 536.1 424.3 536.1 424.7 536.3 425.3 536.6 425.4 536.7 426 536.9 426.5 537 426.6 537.1 427.2 537.4 427.6 537.6 427.9 537.7 428.5 538 428.8 538.1 429.1 538.3 429.8 538.7 429.9 538.7 430.4 538.8 431 538.9 431.1 539 431.7 539.3 432.1 539.6 432.3 539.7 433 540 433.3 540.1 433.6 540.2 434.3 540.4 434.4 540.4 434.9 540.5 435.5 540.6 436.2 541.1 436.6 541.5 436.8 541.5 437.4 541.6 437.8 541.7 438.1 541.8 438.7 542.1 438.9 542.2 439.4 542.4 440 542.5" stroke="#3a3a3a" stroke-width="1.05" fill="none" stroke-linejoin="round" stroke-opacity="0.85"/>
<path d="M280.4 566.8 281 566.9 281.5 567 281.7 567 282.3 567.2 282.6 567.3 283 567.4 283.6 568.1 283.8 568.5 284.2 570 284.9 572.8 284.9 572.9 285.5 576.1 286 579.6 286.1 580.5 286.8 586.3 287.1 589.9 287.4 592.8 288.1 599.3 288.3 601.2 288.7 604.7 289.3 607.5 289.4 607.6 290 608.1 290.5 608.2 290.6 608.2 291.3 607.9 291.6 607.8 291.9 607.9 292.5 608 292.8 608.1 293.2 608 293.8 608 293.9 608 294.4 608.2 295 608.2 295.1 608.2 295.7 608 296.1 607.7 296.4 607.7 297 607.5 297.3 607.4 297.6 607.2 298.3 606.7 298.4 606.6 298.9 606.3 299.5 605.9 299.6 605.9 300.2 605.7 300.6 605.6 300.8 605.5 301.5 605.2 301.8 605.1 302.1 605.1 302.7 605.1 302.9 605.1 303.4 605.3 304 605.4 304.7 605.2 305.1 605 305.3 605 305.9 605.1 306.3 605.1 306.6 605.2 307.2 605.2 307.4 605.2 307.9 605.3 308.5 605.4 309.1 605.1 309.6 604.9 309.8 604.9 310.4 605.1 310.7 605.1 311 605.1 311.7 605 311.9 605 312.3 604.9 313 604.9 313.6 604.9 314.1 605 314.2 605 314.9 605 315.2 605.1 315.5 605.2 316.2 605.4 316.4 605.5 316.8 605.5 317.4 605.5 317.5 605.5 318.1 605.8 318.6 605.9 318.7 605.9 319.3 605.9 319.7 605.9 320 606 320.6 606.1 320.9 606.1 321.3 606.4 321.9 606.7 322 606.8 322.5 606.9 323.1 607 323.2 607 323.8 607.1 324.2 607.1 324.4 607.1 325.1 607 325.4 607 325.7 607.1 326.4 607.4 326.5 607.5 327 607.5 327.6 607.6 328.3 607.8 328.7 608 328.9 608 329.6 608.1 329.9 608.2 330.2 608.3 330.8 608.4 331 608.5 331.5 608.6 332.1 608.8 332.7 608.8 333.2 609 333.4 609 334 609.9 334.3 610.8 334.7 611.8 335.3 614.2 335.5 614.7 335.9 615.8 336.6 616 337.2 615.2 337.7 614.6 337.9 614.4 338.5 614.1 338.8 614 339.1 614 339.8 614.1 340 614.1 340.4 614.3 341 614.5 341.1 614.5 341.7 614.7 342.2 615 342.3 614.9 343 614.8 343.3 614.8 343.6 614.8 344.2 614.9 344.5 614.9 344.9 615 345.5 615.1 345.6 615.2 346.2 615.4 346.7 615.5 346.8 615.6 347.4 615.6 347.8 615.7 348.1 615.8 348.7 616 349 616.1 349.3 616.1 350 616 350.1 616 350.6 616.2 351.2 616.3 351.3 616.4 351.9 616.6 352.3 616.7 352.5 616.8 353.2 616.9 353.5 617 353.8 616.9 354.5 616.8 354.6 616.8 355.1 616.9 355.7 617 356.4 617.4 356.8 617.7 357 617.7 357.6 617.7 358 617.7 358.3 617.9 358.9 618.2 359.1 618.3 359.6 618.5 360.2 618.8 360.8 618.9 361.3 619 361.5 619.1 362.1 619.1 362.4 619.1 362.8 619.2 363.4 619.4 363.6 619.4 364 619.8 364.7 620.2 365.3 620.3 365.8 620.3 365.9 620.4 366.6 620.7 366.9 620.9 367.2 620.9 367.9 620.9 368.1 620.9 368.5 621.1 369.1 621.5 369.2 621.5 369.8 621.5 370.3 621.6 370.4 621.6 371.1 621.8 371.4 621.9 371.7 622 372.3 622.3 372.6 622.5 373 622.5 373.6 622.5 373.7 622.6 374.2 622.9 374.8 623.3 374.9 623.3 375.5 623.6 375.9 623.7 376.2 623.8 376.8 623.8 377.1 623.8 377.4 624 378.1 624.4 378.2 624.5 378.7 624.6 379.3 624.7 379.4 624.8 380 624.9 380.4 625 380.6 625 381.3 625.2 381.6 625.2 381.9 625.4 382.5 625.8 382.7 625.8 383.2 626 383.8 626.2 384.5 626.2 384.9 626.1 385.1 626.2 385.7 626.3 386.1 626 386.4 625.3 387 622.8 387.2 622 387.7 620 388.3 617.2 388.9 614.3 389.4 612.2 389.6 611.7 390.2 609.8 390.5 609.4 390.8 609.2 391.5 609 391.7 609 392.1 609 392.8 608.9 393.4 608.9 393.9 608.9 394 608.9 394.7 608.8 395 608.8 395.3 608.8 396 608.8 396.2 608.8 396.6 608.7 397.2 608.6 397.3 608.6 397.9 608.7 398.4 608.9 398.5 608.9 399.1 609.1 399.5 609.1 399.8 609.1 400.4 609.1 400.7 609.1 401.1 609.3 401.7 609.5 401.8 609.6 402.3 609.6 402.9 609.7 403 609.7 403.6 609.6 404 609.5 404.2 609.6 404.9 609.9 405.2 610 405.5 610 406.2 610.1 406.3 610.1 406.8 610.3 407.4 610.6 408.1 610.5 408.5 610.5 408.7 610.5 409.4 610.6 409.7 610.6 410 610.8 410.6 611 410.8 611.1 411.3 611 411.9 610.9 411.9 611 412.5 611 413 611.1 413.2 611.2 413.8 611.5 414.1 611.6 414.5 611.6 415.1 611.5 415.3 611.5 415.7 611.6 416.4 611.7 417 611.8 417.5 612 417.7 612 418.3 612.4 418.6 612.6 418.9 612.6 419.6 612.7 419.8 612.8 420.2 612.9 420.8 613.2 420.9 613.2 421.5 613.6 422 614 422.1 614 422.8 614.2 423.1 614.4 423.4 614.4 424 614.5 424.3 614.5 424.7 614.6 425.3 614.7 425.4 614.7 426 615.1 426.5 615.5 426.6 615.6 427.2 615.7 427.6 615.8 427.9 615.9 428.5 616.1 428.8 616.2 429.1 616.4 429.8 616.7 429.9 616.7 430.4 616.9 431 617.1 431.1 617.2 431.7 617.4 432.1 617.6 432.3 617.7 433 617.9 433.3 618 433.6 618.1 434.3 618.2 434.4 618.3 434.9 618.5 435.5 618.8 436.2 619.1 436.6 619.2 436.8 619.2 437.4 619.4 437.8 619.4 438.1 619.7 438.7 620.1 438.9 620.2 439.4 620.3 440 620.3" stroke="#56b4e9" stroke-width="1.05" fill="none" stroke-linejoin="round" stroke-opacity="0.85"/>
<path d="M280.4 645.1 281 645.1 281.5 645.2 281.7 645.1 282.3 644.8 282.6 644.2 283 643.5 283.6 641.4 283.8 640.7 284.2 638.8 284.9 636 284.9 635.9 285.5 632.6 286 629.4 286.1 628.6 286.8 623.6 287.1 619.3 287.4 614.8 288.1 599.9 288.3 594.6 288.7 584.7 289.3 576.5 289.4 576.2 290 574.2 290.5 573.5 290.6 573.4 291.3 573 291.6 572.8 291.9 572.7 292.5 572.6 292.8 572.6 293.2 572.6 293.8 572.5 293.9 572.5 294.4 572.5 295 572.5 295.1 572.5 295.7 572.5 296.1 572.5 296.4 572.5 297 572.4 297.3 572.4 297.6 572.4 298.3 572.4 298.4 572.4 298.9 572.4 299.5 572.5 299.6 572.5 300.2 572.5 300.6 572.5 300.8 572.5 301.5 572.6 301.8 572.6 302.1 572.6 302.7 572.6 302.9 572.6 303.4 572.6 304 572.6 304.7 572.6 305.1 572.6 305.3 572.6 305.9 572.6 306.3 572.6 306.6 572.6 307.2 572.6 307.4 572.6 307.9 572.7 308.5 572.7 309.1 572.7 309.6 572.7 309.8 572.7 310.4 572.7 310.7 572.7 311 572.7 311.7 572.7 311.9 572.7 312.3 572.8 313 572.8 313.6 572.8 314.1 572.8 314.2 572.8 314.9 572.8 315.2 572.9 315.5 572.8 316.2 572.8 316.4 572.7 316.8 572.7 317.4 572.8 317.5 572.8 318.1 572.8 318.6 572.8 318.7 572.8 319.3 572.9 319.7 572.9 320 572.9 320.6 572.8 320.9 572.8 321.3 572.8 321.9 572.9 322 572.9 322.5 572.9 323.1 572.9 323.2 572.9 323.8 572.9 324.2 572.9 324.4 572.9 325.1 572.9 325.4 573 325.7 573 326.4 573 326.5 573 327 573 327.6 573 328.3 573 328.7 573 328.9 573.1 329.6 573.1 329.9 573.1 330.2 573.1 330.8 573.1 331 573.1 331.5 573.1 332.1 573 332.7 573 333.2 572.4 333.4 572 334 568.1 334.3 564.9 334.7 561.6 335.3 555.4 335.5 554 335.9 550.4 336.6 546.1 336.6 546 337.2 543.2 337.7 542.1 337.9 541.9 338.5 541.4 338.8 541.2 339.1 541.1 339.8 540.8 340 540.8 340.4 540.7 341 540.7 341.1 540.7 341.7 540.8 342.2 540.9 342.3 540.9 343 540.9 343.3 540.9 343.6 540.9 344.2 541 344.5 541 344.9 541 345.5 541 345.6 541 346.2 541.1 346.7 541.1 346.8 541.1 347.4 541.2 347.8 541.2 348.1 541.2 348.7 541.2 349 541.2 349.3 541.2 350 541.3 350.1 541.3 350.6 541.4 351.2 541.4 351.3 541.4 351.9 541.4 352.3 541.4 352.5 541.4 353.2 541.5 353.5 541.6 353.8 541.6 354.5 541.7 354.6 541.7 355.1 541.7 355.7 541.7 356.4 541.7 356.8 541.7 357 541.7 357.6 541.8 358 541.8 358.3 541.8 358.9 541.9 359.1 541.9 359.6 541.9 360.2 542 360.8 542 361.3 542.1 361.5 542.1 362.1 542.1 362.4 542.1 362.8 542.1 363.4 542.2 363.6 542.2 364 542.2 364.7 542.2 365.3 542.3 365.8 542.3 365.9 542.3 366.6 542.4 366.9 542.5 367.2 542.5 367.9 542.7 368.1 542.7 368.5 542.7 369.1 542.8 369.2 542.8 369.8 543 370.3 543.2 370.4 543.2 371.1 543.2 371.4 543.3 371.7 543.3 372.3 543.3 372.6 543.3 373 543.4 373.6 543.5 373.7 543.5 374.2 543.6 374.8 543.8 374.9 543.8 375.5 543.8 375.9 543.8 376.2 543.9 376.8 544 377.1 544.1 377.4 544.1 378.1 544.2 378.2 544.2 378.7 544.3 379.3 544.5 379.4 544.5 380 544.6 380.4 544.6 380.6 544.7 381.3 544.7 381.6 544.8 381.9 544.8 382.5 545 382.7 545 383.2 545.1 383.8 545.1 384.5 545.2 384.9 545.1 385.1 545.1 385.7 544.6 386.1 543.9 386.4 542.8 387 539.9 387.2 539.1 387.7 536.8 388.3 533.7 388.3 533.6 388.9 530.9 389.4 529.5 389.6 529.2 390.2 528.4 390.5 528.2 390.8 528.2 391.5 528.1 391.7 528.1 392.1 528.1 392.8 528.2 393.4 528.4 393.9 528.5 394 528.5 394.7 528.5 395 528.5 395.3 528.6 396 528.8 396.2 528.8 396.6 528.9 397.2 529 397.3 529 397.9 529.2 398.4 529.3 398.5 529.3 399.1 529.4 399.5 529.5 399.8 529.5 400.4 529.6 400.7 529.6 401.1 529.7 401.7 529.7 401.8 529.7 402.3 529.9 402.9 530 403 530 403.6 530.2 404 530.3 404.2 530.3 404.9 530.3 405.2 530.4 405.5 530.4 406.2 530.6 406.3 530.6 406.8 530.6 407.4 530.7 408.1 530.9 408.5 531 408.7 531 409.4 531.1 409.7 531.1 410 531.2 410.6 531.3 410.8 531.3 411.3 531.4 411.9 531.6 412.5 531.6 413 531.7 413.2 531.7 413.8 531.9 414.1 531.9 414.5 532 415.1 532.1 415.3 532.2 415.7 532.3 416.4 532.4 417 532.5 417.5 532.6 417.7 532.7 418.3 532.8 418.6 532.8 418.9 532.9 419.6 533 419.8 533 420.2 533.1 420.8 533.1 420.9 533.2 421.5 533.3 422 533.4 422.1 533.4 422.8 533.6 423.1 533.7 423.4 533.7 424 533.9 424.3 534 424.7 534 425.3 534.1 425.4 534.1 426 534.3 426.5 534.4 426.6 534.4 427.2 534.5 427.6 534.6 427.9 534.6 428.5 534.8 428.8 534.8 429.1 534.8 429.8 534.9 429.9 534.9 430.4 535.1 431 535.3 431.1 535.3 431.7 535.4 432.1 535.5 432.3 535.5 433 535.5 433.3 535.6 433.6 535.6 434.3 535.8 434.4 535.8 434.9 535.9 435.5 536 436.2 536.2 436.6 536.3 436.8 536.3 437.4 536.4 437.8 536.4 438.1 536.5 438.7 536.7 438.9 536.7 439.4 536.8 440 536.9" stroke="#009e73" stroke-width="1.05" fill="none" stroke-linejoin="round" stroke-opacity="0.85"/>
<path d="M280.4 566.7 281 566.4 281.5 566.2 281.7 566.1 282.3 565.9 282.6 565.7 283 565.6 283.6 565.3 283.8 565.2 284.2 565.1 284.9 564.9 285.5 564.5 286 564 286.1 564 286.8 563.5 287.1 563.2 287.4 562.8 288.1 561.9 288.3 561.6 288.7 561.2 289.3 560.7 289.4 560.7 290 560.6 290.5 560.6 290.6 560.6 291.3 560.4 291.6 560.2 291.9 560.3 292.5 560.3 292.8 560.3 293.2 560.1 293.8 559.8 293.9 559.7 294.4 559.6 295 559.4 295.1 559.4 295.7 559 296.1 558.8 296.4 558.7 297 558.4 297.3 558.3 297.6 558.3 298.3 558.2 298.4 558.2 298.9 557.9 299.5 557.6 299.6 557.6 300.2 557.4 300.6 557.2 300.8 557 301.5 556.6 301.8 556.5 302.1 556.4 302.7 556.5 302.9 556.6 303.4 556.8 304 557 304.7 557 305.1 556.9 305.3 557 305.9 557.3 306.3 557.4 306.6 557.4 307.2 557.4 307.4 557.4 307.9 557.5 308.5 557.8 309.1 557.9 309.6 558 309.8 558 310.4 557.9 310.7 557.8 311 557.9 311.7 558.2 311.9 558.3 312.3 558.3 313 558.2 313.6 557.6 314.1 557.2 314.2 557.2 314.9 557.3 315.2 557.4 315.5 557.5 316.2 557.9 316.4 558 316.8 558 317.4 557.9 317.5 557.9 318.1 558.2 318.6 558.5 318.7 558.5 319.3 558.6 319.7 558.7 320 558.8 320.6 559.1 320.9 559.2 321.3 559.2 321.9 559.2 322 559.2 322.5 559.4 323.1 559.6 323.2 559.6 323.8 559.7 324.2 559.8 324.4 559.8 325.1 560 325.4 560.1 325.7 560.3 326.4 560.4 326.5 560.4 327 560.2 327.6 559.9 328.3 560 328.7 560.2 328.9 560.2 329.6 560.5 329.9 560.6 330.2 560.8 330.8 561.1 331 561.1 331.5 561.3 332.1 561.5 332.7 561.6 333.2 561.6 333.4 561.6 334 561.1 334.3 560.6 334.7 559.8 335.3 558.1 335.5 557.6 335.9 556.6 336.6 555.3 337.2 554.4 337.7 554.2 337.9 554.2 338.5 554.2 338.8 554.1 339.1 554.3 339.8 554.5 340 554.6 340.4 554.7 341 554.9 341.1 555 341.7 555.1 342.2 555.1 342.3 555.2 343 555.2 343.3 555.3 343.6 555.4 344.2 555.8 344.5 555.9 344.9 555.8 345.5 555.7 345.6 555.7 346.2 556.1 346.7 556.5 346.8 556.5 347.4 556.4 347.8 556.4 348.1 556.4 348.7 556.5 349 556.6 349.3 556.8 350 557.2 350.1 557.3 350.6 557.2 351.2 557.2 351.3 557.2 351.9 557.5 352.3 557.6 352.5 557.7 353.2 557.8 353.5 557.8 353.8 558 354.5 558.3 354.6 558.4 355.1 558.5 355.7 558.6 356.4 558.7 356.8 558.8 357 558.8 357.6 558.7 358 558.7 358.3 558.9 358.9 559.3 359.1 559.4 359.6 559.4 360.2 559.3 360.8 559.4 361.3 559.5 361.5 559.6 362.1 559.7 362.4 559.8 362.8 559.9 363.4 560.3 363.6 560.4 364 560.5 364.7 560.6 365.3 560.8 365.8 560.9 365.9 560.9 366.6 561 366.9 561.1 367.2 561.3 367.9 561.7 368.1 561.8 368.5 561.8 369.1 561.8 369.2 561.8 369.8 562 370.3 562.1 370.4 562.2 371.1 562.3 371.4 562.4 371.7 562.6 372.3 563.1 372.6 563.2 373 563.2 373.6 563.1 373.7 563.1 374.2 563.5 374.8 563.9 374.9 563.9 375.5 564 375.9 564.1 376.2 564.2 376.8 564.3 377.1 564.3 377.4 564.4 378.1 564.5 378.2 564.5 378.7 564.8 379.3 565.2 379.4 565.2 380 565.2 380.4 565.2 380.6 565.3 381.3 565.6 381.6 565.7 381.9 565.9 382.5 566.2 382.7 566.2 383.2 566.4 383.8 566.6 384.5 566.8 384.9 567 385.1 567 385.7 567 386.1 566.8 386.4 566.4 387 565.4 387.2 565 387.7 563.7 388.3 561.2 388.3 561.1 388.9 558.1 389.4 555.8 389.6 555.3 390.2 553.9 390.5 553.7 390.8 553.6 391.5 553.6 391.7 553.6 392.1 553.4 392.8 553.1 393.4 553.2 393.9 553.3 394 553.3 394.7 553.4 395 553.4 395.3 553.5 396 553.7 396.2 553.7 396.6 553.7 397.2 553.8 397.3 553.8 397.9 553.9 398.4 553.9 398.5 554 399.1 554.2 399.5 554.4 399.8 554.4 400.4 554.6 400.7 554.6 401.1 554.8 401.7 555 401.8 555.1 402.3 555 402.9 554.9 403 554.9 403.6 555.3 404 555.6 404.2 555.6 404.9 555.6 405.2 555.6 405.5 555.6 406.2 555.7 406.3 555.7 406.8 556 407.4 556.3 408.1 556.3 408.5 556.2 408.7 556.3 409.4 556.3 409.7 556.4 410 556.5 410.6 556.7 410.8 556.8 411.3 556.9 411.9 557 412.5 557.3 413 557.6 413.2 557.6 413.8 557.6 414.1 557.7 414.5 557.8 415.1 558 415.3 558.1 415.7 558 416.4 558 417 558.4 417.5 558.6 417.7 558.7 418.3 558.8 418.6 558.9 418.9 558.9 419.6 558.9 419.8 559 420.2 559.1 420.8 559.4 420.9 559.4 421.5 559.5 422 559.6 422.1 559.7 422.8 560.1 423.1 560.3 423.4 560.3 424 560.5 424.3 560.6 424.7 560.7 425.3 560.8 425.4 560.8 426 561 426.5 561.3 426.6 561.3 427.2 561.6 427.6 561.7 427.9 561.8 428.5 561.9 428.8 562 429.1 562.2 429.8 562.4 429.9 562.5 430.4 562.6 431 562.7 431.1 562.7 431.7 562.7 432.1 562.7 432.3 562.8 433 563 433.3 563.1 433.6 563.2 434.3 563.5 434.4 563.6 434.9 563.8 435.5 564 436.2 564.2 436.6 564.4 436.8 564.5 437.4 564.8 437.8 564.9 438.1 565 438.7 565.1 438.9 565.1 439.4 565.2 440 565.3" stroke="#e51e10" stroke-width="1.05" fill="none" stroke-linejoin="round" stroke-opacity="0.9"/>
<path d="M280.4 645.1 281 645.1 281.5 645 281.7 645.1 282.3 645.1 282.6 645.1 283 645.1 283.6 645.1 283.8 645.1 284.2 645.2 284.9 645.2 285.5 645.1 286 645.1 286.1 645.1 286.8 645.1 287.1 645 287.4 644.8 288.1 644.3 288.3 644 288.7 643.6 289.3 643 289.4 642.9 290 642.4 290.5 642 290.6 642 291.3 641.7 291.6 641.7 291.9 641.6 292.5 641.5 292.8 641.5 293.2 641.5 293.8 641.5 293.9 641.5 294.4 641.5 295 641.6 295.1 641.6 295.7 641.5 296.1 641.5 296.4 641.5 297 641.5 297.3 641.5 297.6 641.5 298.3 641.6 298.4 641.6 298.9 641.5 299.5 641.5 299.6 641.5 300.2 641.5 300.6 641.4 300.8 641.5 301.5 641.5 301.8 641.5 302.1 641.5 302.7 641.4 302.9 641.4 303.4 641.4 304 641.4 304.7 641.4 305.1 641.4 305.3 641.4 305.9 641.5 306.3 641.5 306.6 641.5 307.2 641.5 307.4 641.5 307.9 641.5 308.5 641.4 309.1 641.4 309.6 641.4 309.8 641.4 310.4 641.4 310.7 641.4 311 641.4 311.7 641.5 311.9 641.5 312.3 641.5 313 641.5 313 641.4 313.6 641.4 314.1 641.4 314.2 641.4 314.9 641.4 315.2 641.4 315.5 641.4 316.2 641.3 316.4 641.3 316.8 641.3 317.4 641.3 317.5 641.3 318.1 641.4 318.6 641.4 318.7 641.4 319.3 641.3 319.7 641.3 320 641.3 320.6 641.3 320.9 641.4 321.3 641.3 321.9 641.3 322 641.2 322.5 641.2 323.1 641.2 323.2 641.2 323.8 641.3 324.2 641.3 324.4 641.3 325.1 641.3 325.4 641.3 325.7 641.3 326.4 641.3 326.5 641.3 327 641.2 327.6 641.2 328.3 641.2 328.7 641.2 328.9 641.2 329.6 641.3 329.9 641.3 330.2 641.3 330.8 641.3 331 641.3 331.5 641.3 332.1 641.2 332.7 641.2 333.2 641.3 333.4 641.3 334 641.2 334.3 641.1 334.7 641 335.3 640.2 335.5 639.8 335.9 638.6 336.6 636.8 337.2 635.2 337.7 634 337.9 633.7 338.5 632.9 338.8 632.8 339.1 632.7 339.8 632.6 340 632.6 340.4 632.7 341 632.7 341.1 632.7 341.7 632.8 342.2 632.8 342.3 632.8 343 632.8 343.3 632.8 343.6 632.8 344.2 632.9 344.5 632.9 344.9 633 345.5 633 345.6 633 346.2 632.9 346.7 632.9 346.8 632.9 347.4 633 347.8 633 348.1 633 348.7 633.1 349 633.2 349.3 633.1 350 633.1 350.1 633.1 350.6 633.2 351.2 633.3 351.3 633.3 351.9 633.3 352.3 633.3 352.5 633.3 353.2 633.2 353.5 633.2 353.8 633.3 354.5 633.3 354.6 633.3 355.1 633.4 355.7 633.4 356.4 633.5 356.8 633.5 357 633.5 357.6 633.5 358 633.5 358.3 633.6 358.9 633.6 359.1 633.6 359.6 633.6 360.2 633.5 360.8 633.7 361.3 633.8 361.5 633.8 362.1 633.7 362.4 633.7 362.8 633.7 363.4 633.7 363.6 633.7 364 633.8 364.7 633.9 365.3 633.8 365.8 633.8 365.9 633.8 366.6 633.9 366.9 634 367.2 634 367.9 633.9 368.1 633.9 368.5 633.9 369.1 634 369.2 634 369.8 634 370.3 634.1 370.4 634.1 371.1 634.1 371.4 634.1 371.7 634.1 372.3 634.2 372.6 634.2 373 634.2 373.6 634.2 373.7 634.2 374.2 634.2 374.8 634.3 374.9 634.3 375.5 634.3 375.9 634.4 376.2 634.4 376.8 634.4 377.1 634.4 377.4 634.4 378.1 634.4 378.2 634.4 378.7 634.5 379.3 634.6 379.4 634.6 380 634.6 380.4 634.7 380.6 634.7 381.3 634.6 381.6 634.6 381.9 634.6 382.5 634.7 382.7 634.7 383.2 634.7 383.8 634.8 384.5 634.8 384.9 634.7 385.1 634.8 385.7 634.6 386.1 634.3 386.4 633.7 387 631.9 387.2 631.3 387.7 629.5 388.3 627.1 388.9 624.7 389.4 622.9 389.6 622.4 390.2 621 390.5 620.7 390.8 620.6 391.5 620.6 391.7 620.6 392.1 620.7 392.8 620.7 393.4 620.7 393.9 620.7 394 620.8 394.7 620.9 395 621 395.3 621 396 621.1 396.2 621.1 396.6 621.1 397.2 621.1 397.3 621.1 397.9 621.2 398.4 621.3 398.5 621.3 399.1 621.4 399.5 621.5 399.8 621.5 400.4 621.5 400.7 621.6 401.1 621.6 401.7 621.7 401.8 621.7 402.3 621.8 402.9 621.9 403 621.9 403.6 621.9 404 622 404.2 622 404.9 622.1 405.2 622.1 405.5 622.1 406.2 622.1 406.3 622.1 406.8 622.2 407.4 622.3 408.1 622.4 408.5 622.4 408.7 622.4 409.4 622.4 409.7 622.5 410 622.5 410.6 622.6 410.8 622.6 411.3 622.7 411.9 622.8 412.5 622.9 413 622.9 413.2 622.9 413.8 623 414.1 623.1 414.5 623.1 415.1 623.2 415.3 623.2 415.7 623.2 416.4 623.3 417 623.3 417.5 623.4 417.7 623.4 418.3 623.4 418.6 623.5 418.9 623.5 419.6 623.6 419.8 623.7 420.2 623.8 420.8 623.9 420.9 623.9 421.5 623.9 422 623.9 422.1 623.9 422.8 624 423.1 624.1 423.4 624.1 424 624.2 424.3 624.2 424.7 624.2 425.3 624.2 425.4 624.2 426 624.3 426.5 624.5 426.6 624.5 427.2 624.5 427.6 624.5 427.9 624.5 428.5 624.6 428.8 624.7 429.1 624.7 429.8 624.7 429.9 624.7 430.4 624.8 431 624.8 431.1 624.8 431.7 625 432.1 625.1 432.3 625.1 433 625.2 433.3 625.2 433.6 625.2 434.3 625.2 434.4 625.2 434.9 625.3 435.5 625.4 436.2 625.4 436.6 625.5 436.8 625.5 437.4 625.6 437.8 625.6 438.1 625.6 438.7 625.7 438.9 625.7 439.4 625.8 440 625.8" stroke="#9400d3" stroke-width="1.05" fill="none" stroke-linejoin="round" stroke-opacity="0.75"/>
<path d="M280.4 645.1 281 645.1 281.5 645.1 281.7 645.1 282.3 645.1 282.6 645.1 283 645.1 283.6 645.1 283.8 645.1 284.2 645.1 284.9 645.1 285.5 645.1 286 645.1 286.1 645.1 286.8 645.1 287.1 645.1 287.4 645.1 288.1 645.1 288.3 645.1 288.7 645.1 289.3 645.1 289.4 645.1 290 645.1 290.5 644.9 290.6 644.9 291.3 644.7 291.6 644.7 291.9 644.6 292.5 644.6 292.8 644.6 293.2 644.6 293.8 644.6 293.9 644.6 294.4 644.6 295 644.5 295.1 644.5 295.7 644.6 296.1 644.6 296.4 644.6 297 644.6 297.3 644.6 297.6 644.6 298.3 644.6 298.4 644.6 298.9 644.5 299.5 644.5 299.6 644.5 300.2 644.5 300.6 644.6 300.8 644.6 301.5 644.6 301.8 644.6 302.1 644.6 302.7 644.5 302.9 644.5 303.4 644.6 304 644.6 304.7 644.6 305.1 644.5 305.3 644.5 305.9 644.6 306.3 644.6 306.6 644.6 307.2 644.6 307.4 644.6 307.9 644.6 308.5 644.6 309.1 644.6 309.6 644.6 309.8 644.6 310.4 644.6 310.7 644.5 311 644.6 311.7 644.6 311.9 644.6 312.3 644.6 313 644.6 313.6 644.6 314.1 644.6 314.2 644.6 314.9 644.6 315.2 644.6 315.5 644.6 316.2 644.6 316.4 644.6 316.8 644.6 317.4 644.6 317.5 644.6 318.1 644.6 318.6 644.6 318.7 644.6 319.3 644.6 319.7 644.6 320 644.6 320.6 644.6 320.9 644.6 321.3 644.6 321.9 644.6 322 644.6 322.5 644.6 323.1 644.6 323.2 644.6 323.8 644.6 324.2 644.6 324.4 644.6 325.1 644.6 325.4 644.6 325.7 644.6 326.4 644.6 326.5 644.6 327 644.6 327.6 644.5 328.3 644.5 328.7 644.5 328.9 644.6 329.6 644.6 329.9 644.6 330.2 644.6 330.8 644.6 331 644.6 331.5 644.6 332.1 644.6 332.7 644.5 333.2 644.5 333.4 644.5 334 644.5 334.3 644.5 334.7 644.6 335.3 644.6 335.5 644.6 335.9 644.5 336.6 644.3 337.2 644.1 337.7 643.9 337.9 643.8 338.5 643.5 338.8 643.4 339.1 643.4 339.8 643.3 340 643.3 340.4 643.3 341 643.4 341.1 643.4 341.7 643.4 342.2 643.3 342.3 643.3 343 643.4 343.3 643.4 343.6 643.4 344.2 643.3 344.5 643.3 344.9 643.3 345.5 643.3 345.6 643.3 346.2 643.3 346.7 643.3 346.8 643.3 347.4 643.3 347.8 643.3 348.1 643.3 348.7 643.3 349 643.4 349.3 643.3 350 643.3 350.1 643.3 350.6 643.3 351.2 643.3 351.3 643.3 351.9 643.3 352.3 643.3 352.5 643.3 353.2 643.3 353.5 643.3 353.8 643.3 354.5 643.3 354.6 643.3 355.1 643.3 355.7 643.3 356.4 643.3 356.8 643.3 357 643.3 357.6 643.3 358 643.3 358.3 643.3 358.9 643.4 359.1 643.4 359.6 643.4 360.2 643.3 360.8 643.3 361.3 643.3 361.5 643.3 362.1 643.3 362.4 643.3 362.8 643.3 363.4 643.3 363.6 643.3 364 643.3 364.7 643.4 365.3 643.4 365.8 643.3 365.9 643.3 366.6 643.3 366.9 643.3 367.2 643.3 367.9 643.4 368.1 643.4 368.5 643.4 369.1 643.3 369.2 643.3 369.8 643.4 370.3 643.4 370.4 643.4 371.1 643.4 371.4 643.4 371.7 643.4 372.3 643.4 372.6 643.4 373 643.4 373.6 643.3 373.7 643.3 374.2 643.3 374.8 643.4 374.9 643.4 375.5 643.4 375.9 643.4 376.2 643.4 376.8 643.4 377.1 643.3 377.4 643.3 378.1 643.3 378.2 643.3 378.7 643.3 379.3 643.4 379.4 643.4 380 643.4 380.4 643.3 380.6 643.3 381.3 643.3 381.6 643.3 381.9 643.3 382.5 643.3 382.7 643.3 383.2 643.3 383.8 643.3 384.5 643.3 384.9 643.3 385.1 643.3 385.7 643.3 386.1 643.4 386.4 643.3 387 643.3 387.2 643.2 387.7 643.1 388.3 642.7 388.9 642.3 389.4 641.9 389.6 641.8 390.2 641.4 390.5 641.3 390.8 641.3 391.5 641.3 391.7 641.3 392.1 641.3 392.8 641.3 393.4 641.3 393.9 641.3 394 641.3 394.7 641.3 395 641.3 395.3 641.3 396 641.3 396.2 641.3 396.6 641.3 397.2 641.3 397.3 641.3 397.9 641.3 398.4 641.4 398.5 641.4 399.1 641.4 399.5 641.4 399.8 641.4 400.4 641.4 400.7 641.4 401.1 641.4 401.7 641.4 401.8 641.4 402.3 641.4 402.9 641.4 403 641.4 403.6 641.4 404 641.4 404.2 641.4 404.9 641.4 405.2 641.4 405.5 641.4 406.2 641.4 406.3 641.4 406.8 641.4 407.4 641.4 408.1 641.5 408.5 641.5 408.7 641.5 409.4 641.5 409.7 641.5 410 641.5 410.6 641.5 410.8 641.5 411.3 641.5 411.9 641.5 412.5 641.5 413 641.5 413.2 641.5 413.8 641.5 414.1 641.5 414.5 641.5 415.1 641.6 415.3 641.6 415.7 641.6 416.4 641.6 417 641.6 417.5 641.6 417.7 641.6 418.3 641.6 418.6 641.6 418.9 641.6 419.6 641.7 419.8 641.7 420.2 641.7 420.8 641.7 420.9 641.7 421.5 641.7 422 641.7 422.1 641.7 422.8 641.7 423.1 641.7 423.4 641.7 424 641.7 424.3 641.7 424.7 641.7 425.3 641.8 425.4 641.8 426 641.8 426.5 641.8 426.6 641.8 427.2 641.8 427.6 641.8 427.9 641.8 428.5 641.8 428.8 641.8 429.1 641.8 429.8 641.8 429.9 641.8 430.4 641.8 431 641.8 431.1 641.8 431.7 641.8 432.1 641.8 432.3 641.8 433 641.8 433.3 641.8 433.6 641.8 434.3 641.9 434.4 641.9 434.9 641.9 435.5 641.9 436.2 641.9 436.6 641.9 436.8 641.9 437.4 641.9 437.8 641.9 438.1 641.9 438.7 641.9 438.9 641.9 439.4 641.9 440 641.9" stroke="#e69f00" stroke-width="1.05" fill="none" stroke-linejoin="round" stroke-opacity="0.7"/>
<rect x="521.5" y="27.6" width="155" height="125" fill="none" stroke="#c4c4c4" stroke-width="0.7"/>
<path d="M521.5 152.6v-1.8M521.5 27.6v1.8M537 152.6v-1.8M537 27.6v1.8M552.5 152.6v-1.8M552.5 27.6v1.8M568 152.6v-1.8M568 27.6v1.8M583.5 152.6v-1.8M583.5 27.6v1.8M599 152.6v-1.8M599 27.6v1.8M614.5 152.6v-1.8M614.5 27.6v1.8M630 152.6v-1.8M630 27.6v1.8M645.5 152.6v-1.8M645.5 27.6v1.8M661 152.6v-1.8M661 27.6v1.8M676.5 152.6v-1.8M676.5 27.6v1.8M521.5 152.6h1.8M676.5 152.6h-1.8M521.5 138.71h1.8M676.5 138.71h-1.8M521.5 124.82h1.8M676.5 124.82h-1.8M521.5 110.93h1.8M676.5 110.93h-1.8M521.5 97.04h1.8M676.5 97.04h-1.8M521.5 83.16h1.8M676.5 83.16h-1.8M521.5 69.27h1.8M676.5 69.27h-1.8M521.5 55.38h1.8M676.5 55.38h-1.8M521.5 41.49h1.8M676.5 41.49h-1.8M521.5 27.6h1.8M676.5 27.6h-1.8" stroke="#c4c4c4" stroke-width="0.6" fill="none"/>
<text x="517.7" y="155.1" font-size="5.6" text-anchor="end">0</text>
<text x="517.7" y="141.21" font-size="5.6" text-anchor="end">50000</text>
<text x="517.7" y="127.32" font-size="5.6" text-anchor="end">100000</text>
<text x="517.7" y="113.43" font-size="5.6" text-anchor="end">150000</text>
<text x="517.7" y="99.54" font-size="5.6" text-anchor="end">200000</text>
<text x="517.7" y="85.66" font-size="5.6" text-anchor="end">250000</text>
<text x="517.7" y="71.77" font-size="5.6" text-anchor="end">300000</text>
<text x="517.7" y="57.88" font-size="5.6" text-anchor="end">350000</text>
<text x="517.7" y="43.99" font-size="5.6" text-anchor="end">400000</text>
<text x="517.7" y="30.1" font-size="5.6" text-anchor="end">450000</text>
<text x="521.5" y="160.9" font-size="5.6" text-anchor="middle">0</text>
<text x="537" y="160.9" font-size="5.6" text-anchor="middle">10</text>
<text x="552.5" y="160.9" font-size="5.6" text-anchor="middle">20</text>
<text x="568" y="160.9" font-size="5.6" text-anchor="middle">30</text>
<text x="583.5" y="160.9" font-size="5.6" text-anchor="middle">40</text>
<text x="599" y="160.9" font-size="5.6" text-anchor="middle">50</text>
<text x="614.5" y="160.9" font-size="5.6" text-anchor="middle">60</text>
<text x="630" y="160.9" font-size="5.6" text-anchor="middle">70</text>
<text x="645.5" y="160.9" font-size="5.6" text-anchor="middle">80</text>
<text x="661" y="160.9" font-size="5.6" text-anchor="middle">90</text>
<text x="676.5" y="160.9" font-size="5.6" text-anchor="middle">100</text>
<text x="599" y="169.4" font-size="5.6" text-anchor="middle">days</text>
<text transform="translate(493.2,90.1) rotate(-90)" font-size="5.6" text-anchor="middle">ng/mL</text>
<rect x="591.4" y="35.2" width="80.6" height="64.3" fill="none" stroke="#c4c4c4" stroke-width="0.6"/>
<path d="M591.4 99.5v-1.5M591.4 35.2v1.5M599.46 99.5v-1.5M599.46 35.2v1.5M607.52 99.5v-1.5M607.52 35.2v1.5M615.58 99.5v-1.5M615.58 35.2v1.5M623.64 99.5v-1.5M623.64 35.2v1.5M631.7 99.5v-1.5M631.7 35.2v1.5M639.76 99.5v-1.5M639.76 35.2v1.5M647.82 99.5v-1.5M647.82 35.2v1.5M655.88 99.5v-1.5M655.88 35.2v1.5M663.94 99.5v-1.5M663.94 35.2v1.5M672 99.5v-1.5M672 35.2v1.5M591.4 99.5h1.5M672 99.5h-1.5M591.4 90.31h1.5M672 90.31h-1.5M591.4 81.13h1.5M672 81.13h-1.5M591.4 71.94h1.5M672 71.94h-1.5M591.4 62.76h1.5M672 62.76h-1.5M591.4 53.57h1.5M672 53.57h-1.5M591.4 44.39h1.5M672 44.39h-1.5M591.4 35.2h1.5M672 35.2h-1.5" stroke="#c4c4c4" stroke-width="0.6" fill="none"/>
<text x="588" y="101.5" font-size="5.5" text-anchor="end">0</text>
<text x="588" y="92.31" font-size="5.5" text-anchor="end">100000</text>
<text x="588" y="83.13" font-size="5.5" text-anchor="end">200000</text>
<text x="588" y="73.94" font-size="5.5" text-anchor="end">300000</text>
<text x="588" y="64.76" font-size="5.5" text-anchor="end">400000</text>
<text x="588" y="55.57" font-size="5.5" text-anchor="end">500000</text>
<text x="588" y="46.39" font-size="5.5" text-anchor="end">600000</text>
<text x="588" y="37.2" font-size="5.5" text-anchor="end">700000</text>
<text x="591.4" y="107.8" font-size="5.5" text-anchor="middle">0</text>
<text x="599.46" y="107.8" font-size="5.5" text-anchor="middle">10</text>
<text x="607.52" y="107.8" font-size="5.5" text-anchor="middle">20</text>
<text x="615.58" y="107.8" font-size="5.5" text-anchor="middle">30</text>
<text x="623.64" y="107.8" font-size="5.5" text-anchor="middle">40</text>
<text x="631.7" y="107.8" font-size="5.5" text-anchor="middle">50</text>
<text x="639.76" y="107.8" font-size="5.5" text-anchor="middle">60</text>
<text x="647.82" y="107.8" font-size="5.5" text-anchor="middle">70</text>
<text x="655.88" y="107.8" font-size="5.5" text-anchor="middle">80</text>
<text x="663.94" y="107.8" font-size="5.5" text-anchor="middle">90</text>
<text x="672" y="107.8" font-size="5.5" text-anchor="middle">100</text>
<text x="540.1" y="35.27" font-size="5.2" text-anchor="end">IFN-g</text>
<path d="M543.1 33.4H557.9" stroke="#9400d3" stroke-width="1.5" stroke-opacity="0.55"/>
<text x="540.1" y="41.2" font-size="5.2" text-anchor="end">IL-4</text>
<path d="M543.1 39.33H557.9" stroke="#009e73" stroke-width="1.5" stroke-opacity="0.5"/>
<text x="540.1" y="47.13" font-size="5.2" text-anchor="end">IL-12</text>
<path d="M543.1 45.26H557.9" stroke="#56b4e9" stroke-width="1.5" stroke-opacity="0.4"/>
<text x="540.1" y="53.06" font-size="5.2" text-anchor="end">TGF-b</text>
<path d="M543.1 51.19H557.9" stroke="#e69f00" stroke-width="1.5" stroke-opacity="0.55"/>
<text x="540.1" y="58.99" font-size="5.2" text-anchor="end">TNF-a</text>
<path d="M543.1 57.12H557.9" stroke="#e51e10" stroke-width="1.5" stroke-opacity="0.6"/>
<text x="540.1" y="64.92" font-size="5.2" text-anchor="end">IL-10</text>
<path d="M543.1 63.05H557.9" stroke="#3c3c3c" stroke-width="0.8" stroke-opacity="0.6"/>
<text x="540.1" y="70.85" font-size="5.2" text-anchor="end">IL-6</text>
<path d="M543.1 68.98H557.9" stroke="#9400d3" stroke-width="0.8" stroke-opacity="0.6"/>
<text x="540.1" y="76.78" font-size="5.2" text-anchor="end">IFN-b</text>
<path d="M543.1 74.91H557.9" stroke="#009e73" stroke-width="0.8" stroke-opacity="0.5"/>
<text x="540.1" y="82.71" font-size="5.2" text-anchor="end">IL-18</text>
<path d="M543.1 80.84H557.9" stroke="#56b4e9" stroke-width="0.8" stroke-opacity="0.4"/>
<text x="540.1" y="88.64" font-size="5.2" text-anchor="end">IL-23</text>
<path d="M543.1 86.77H557.9" stroke="#e69f00" stroke-width="0.8" stroke-opacity="0.6"/>
<text x="606.4" y="42.17" font-size="5.2" text-anchor="end">D</text>
<path d="M609.6 40.3H624.6" stroke="#56b4e9" stroke-width="0.9" stroke-opacity="1.0"/>
<text x="606.4" y="48.27" font-size="5.2" text-anchor="end">IL-2</text>
<path d="M609.6 46.4H624.6" stroke="#e69f00" stroke-width="1.0" stroke-opacity="1.0"/>
<path d="M521.5 152.3H676.5" stroke="#b0603a" stroke-width="1.0" stroke-opacity="0.8"/>
<path d="M521.5 152.6 522 150.1 522.5 149.2 523.1 148.6 523.6 148.1 524.1 147.8 524.6 147.6 525.1 147.4 525.6 147.2 526.2 147.1 526.7 147.1 527.2 147.1 527.7 147 528.2 147.1 528.8 147.2 529.3 147.3 529.8 147.4 530.3 147.6 530.8 147.8 531.3 148 531.9 148.2 532.4 148.5 532.9 148.7 533.4 148.9 533.9 149.2 534.5 149.4 535 149.6 535.5 149.8 536 150 536.5 150.2 537.1 150.4 537.6 150.5 538.1 150.7 538.6 150.8 539.1 151 539.6 151.1 540.2 151.2 540.7 151.3 541.2 151.4 541.7 151.5 542.2 151.6 542.8 151.7 543.3 151.8 543.8 151.9 544.3 151.9 544.8 152 545.3 152 545.9 152.1 546.4 152.1 546.9 152.2 547.4 152.2 547.9 152.3 548.5 152.3 549 152.3 549.5 152.3 550 152.4 550.5 152.4 551 152.4 551.6 152.4 552.1 152.4 552.6 152.5 553.1 152.5 553.6 152.5 554.2 152.5 554.7 152.5 555.2 152.5 555.7 152.5 556.2 152.5 556.8 152.5 557.3 152.5 557.8 152.6 558.3 152.6 558.8 152.6 559.3 152.6 559.9 152.6 560.4 152.6 560.9 152.6 561.4 152.6 561.9 152.6 562.5 152.6 563 152.6 563.5 152.6 564 152.6 564.5 152.6 565 152.6 565.6 152.6 566.1 152.6 566.6 152.6 567.1 152.6 567.6 152.6 568.2 152.6 568.7 152.6 569.2 152.6 569.7 152.6 570.2 152.6 570.7 152.6 571.3 152.6 571.8 152.6 572.3 152.6 572.8 151.5 573.3 148.5 573.9 146.1 574.4 144.3 574.9 142.9 575.4 141.8 575.9 141.1 576.4 140.7 577 140.4 577.5 140.4 578 140.5 578.5 140.8 579 141.2 579.6 141.7 580.1 142.3 580.6 142.9 581.1 143.6 581.6 144.2 582.2 144.9 582.7 145.5 583.2 146.1 583.7 146.7 584.2 147.2 584.7 147.7 585.3 148.2 585.8 148.6 586.3 149 586.8 149.4 587.3 149.8 587.9 150.1 588.4 150.3 588.9 150.6 589.4 150.8 589.9 151 590.4 151.2 591 151.4 591.5 151.5 592 151.6 592.5 151.7 593 151.8 593.6 151.9 594.1 152 594.6 152.1 595.1 152.2 595.6 152.2 596.1 152.3 596.7 152.3 597.2 152.3 597.7 152.4 598.2 152.4 598.7 152.4 599.3 152.4 599.8 152.5 600.3 152.5 600.8 152.5 601.3 152.5 601.9 152.5 602.4 152.5 602.9 152.5 603.4 152.6 603.9 152.6 604.4 152.6 605 152.6 605.5 152.6 606 152.6 606.5 152.6 607 152.6 607.6 152.6 608.1 152.6 608.6 152.6 609.1 152.6 609.6 152.6 610.1 152.6 610.7 152.6 611.2 152.6 611.7 152.6 612.2 152.6 612.7 152.6 613.3 152.6 613.8 152.6 614.3 152.6 614.8 152.6 615.3 152.6 615.8 152.6 616.4 152.6 616.9 152.6 617.4 152.6 617.9 152.6 618.4 152.6 619 152.6 619.5 152.6 620 152.6 620.5 152.6 621 152.6 621.6 152.6 622.1 152.6 622.6 152.6 623.1 152.6 623.6 152.6 624.1 152.6 624.7 152.6 625.2 152.1 625.7 150.4 626.2 149.3 626.7 148.5 627.3 148 627.8 147.7 628.3 147.6 628.8 147.6 629.3 147.7 629.8 147.8 630.4 148 630.9 148.2 631.4 148.4 631.9 148.6 632.4 148.9 633 149.1 633.5 149.3 634 149.5 634.5 149.7 635 149.9 635.5 150.1 636.1 150.3 636.6 150.5 637.1 150.6 637.6 150.8 638.1 150.9 638.7 151.1 639.2 151.2 639.7 151.3 640.2 151.4 640.7 151.5 641.2 151.6 641.8 151.7 642.3 151.8 642.8 151.8 643.3 151.9 643.8 152 644.4 152 644.9 152.1 645.4 152.1 645.9 152.2 646.4 152.2 647 152.2 647.5 152.3 648 152.3 648.5 152.3 649 152.3 649.5 152.4 650.1 152.4 650.6 152.4 651.1 152.4 651.6 152.4 652.1 152.5 652.7 152.5 653.2 152.5 653.7 152.5 654.2 152.5 654.7 152.5 655.2 152.5 655.8 152.5 656.3 152.5 656.8 152.5 657.3 152.5 657.8 152.6 658.4 152.6 658.9 152.6 659.4 152.6 659.9 152.6 660.4 152.6 660.9 152.6 661.5 152.6 662 152.6 662.5 152.6 663 152.6 663.5 152.6 664.1 152.6 664.6 152.6 665.1 152.6 665.6 152.6 666.1 152.6 666.7 152.6 667.2 152.6 667.7 152.6 668.2 152.6 668.7 152.6 669.2 152.6 669.8 152.6 670.3 152.6 670.8 152.6 671.3 152.6 671.8 152.6 672.4 152.6 672.9 152.6 673.4 152.6 673.9 152.6 674.4 152.6 674.9 152.6 675.5 152.6 676 152.6 676.5 152.6" stroke="#56b4e9" stroke-width="0.9" fill="none" stroke-linejoin="round" stroke-opacity="0.85"/>
<path d="M521.5 152.6 522 152.6 522.5 152.6 523.1 152.6 523.6 152.6 524.1 152.6 524.6 152.6 525.1 152.6 525.6 151.6 526.2 149.4 526.7 147.4 527.2 145.8 527.7 144.6 528.2 143.6 528.8 143 529.3 142.6 529.8 142.4 530.3 142.3 530.8 142.5 531.3 142.7 531.9 143.1 532.4 143.6 532.9 144.1 533.4 144.7 533.9 145.2 534.5 145.8 535 146.3 535.5 146.9 536 147.4 536.5 147.9 537.1 148.3 537.6 148.8 538.1 149.1 538.6 149.5 539.1 149.8 539.6 150.1 540.2 150.4 540.7 150.7 541.2 150.9 541.7 151.1 542.2 151.3 542.8 151.4 543.3 151.6 543.8 151.7 544.3 151.8 544.8 151.9 545.3 152 545.9 152.1 546.4 152.1 546.9 152.2 547.4 152.2 547.9 152.3 548.5 152.3 549 152.4 549.5 152.4 550 152.4 550.5 152.4 551 152.5 551.6 152.5 552.1 152.5 552.6 152.5 553.1 152.5 553.6 152.5 554.2 152.5 554.7 152.6 555.2 152.6 555.7 152.6 556.2 152.6 556.8 152.6 557.3 152.6 557.8 152.6 558.3 152.6 558.8 152.6 559.3 152.6 559.9 152.6 560.4 152.6 560.9 152.6 561.4 152.6 561.9 152.6 562.5 152.6 563 152.6 563.5 152.6 564 152.6 564.5 152.6 565 152.6 565.6 152.6 566.1 152.6 566.6 152.6 567.1 152.6 567.6 152.6 568.2 152.6 568.7 152.6 569.2 152.6 569.7 152.6 570.2 152.6 570.7 152.6 571.3 152.6 571.8 152.6 572.3 152.6 572.8 151.5 573.3 147.5 573.9 144 574.4 141.2 574.9 139.3 575.4 137.9 575.9 137.1 576.4 136.8 577 136.8 577.5 137.1 578 137.6 578.5 138.3 579 139.1 579.6 139.9 580.1 140.8 580.6 141.7 581.1 142.6 581.6 143.4 582.2 144.2 582.7 145 583.2 145.7 583.7 146.4 584.2 147 584.7 147.6 585.3 148.1 585.8 148.6 586.3 149 586.8 149.4 587.3 149.8 587.9 150.1 588.4 150.4 588.9 150.6 589.4 150.9 589.9 151.1 590.4 151.3 591 151.4 591.5 151.6 592 151.7 592.5 151.8 593 151.9 593.6 152 594.1 152.1 594.6 152.1 595.1 152.2 595.6 152.2 596.1 152.3 596.7 152.3 597.2 152.4 597.7 152.4 598.2 152.4 598.7 152.4 599.3 152.5 599.8 152.5 600.3 152.5 600.8 152.5 601.3 152.5 601.9 152.5 602.4 152.5 602.9 152.5 603.4 152.6 603.9 152.6 604.4 152.6 605 152.6 605.5 152.6 606 152.6 606.5 152.6 607 152.6 607.6 152.6 608.1 152.6 608.6 152.6 609.1 152.6 609.6 152.6 610.1 152.6 610.7 152.6 611.2 152.6 611.7 152.6 612.2 152.6 612.7 152.6 613.3 152.6 613.8 152.6 614.3 152.6 614.8 152.6 615.3 152.6 615.8 152.6 616.4 152.6 616.9 152.6 617.4 152.6 617.9 152.6 618.4 152.6 619 152.6 619.5 152.6 620 152.6 620.5 152.6 621 152.6 621.6 152.6 622.1 152.6 622.6 152.6 623.1 152.6 623.6 152.6 624.1 152.6 624.7 152.6 625.2 152.4 625.7 151.8 626.2 151.2 626.7 150.8 627.3 150.6 627.8 150.4 628.3 150.4 628.8 150.4 629.3 150.4 629.8 150.5 630.4 150.6 630.9 150.7 631.4 150.8 631.9 151 632.4 151.1 633 151.2 633.5 151.3 634 151.4 634.5 151.5 635 151.6 635.5 151.7 636.1 151.8 636.6 151.9 637.1 152 637.6 152 638.1 152.1 638.7 152.1 639.2 152.2 639.7 152.2 640.2 152.3 640.7 152.3 641.2 152.3 641.8 152.4 642.3 152.4 642.8 152.4 643.3 152.4 643.8 152.5 644.4 152.5 644.9 152.5 645.4 152.5 645.9 152.5 646.4 152.5 647 152.5 647.5 152.5 648 152.5 648.5 152.6 649 152.6 649.5 152.6 650.1 152.6 650.6 152.6 651.1 152.6 651.6 152.6 652.1 152.6 652.7 152.6 653.2 152.6 653.7 152.6 654.2 152.6 654.7 152.6 655.2 152.6 655.8 152.6 656.3 152.6 656.8 152.6 657.3 152.6 657.8 152.6 658.4 152.6 658.9 152.6 659.4 152.6 659.9 152.6 660.4 152.6 660.9 152.6 661.5 152.6 662 152.6 662.5 152.6 663 152.6 663.5 152.6 664.1 152.6 664.6 152.6 665.1 152.6 665.6 152.6 666.1 152.6 666.7 152.6 667.2 152.6 667.7 152.6 668.2 152.6 668.7 152.6 669.2 152.6 669.8 152.6 670.3 152.6 670.8 152.6 671.3 152.6 671.8 152.6 672.4 152.6 672.9 152.6 673.4 152.6 673.9 152.6 674.4 152.6 674.9 152.6 675.5 152.6 676 152.6 676.5 152.6" stroke="#3c3c3c" stroke-width="0.7" fill="none" stroke-linejoin="round" stroke-opacity="0.75"/>
<path d="M521.5 152.6 522 152.6 522.5 152.6 523.1 152.6 523.6 152.6 524.1 152.6 524.6 152.6 525.1 152.4 525.6 150.9 526.2 148.4 526.7 145.8 527.2 143.2 527.7 141 528.2 139.3 528.8 138 529.3 137.2 529.8 136.7 530.3 136.6 530.8 136.8 531.3 137.2 531.9 137.6 532.4 138.2 532.9 138.9 533.4 139.7 533.9 140.4 534.5 141.2 535 142 535.5 142.7 536 143.5 536.5 144.2 537.1 144.9 537.6 145.5 538.1 146.1 538.6 146.7 539.1 147.2 539.6 147.7 540.2 148.2 540.7 148.6 541.2 149 541.7 149.4 542.2 149.7 542.8 150 543.3 150.2 543.8 150.5 544.3 150.7 544.8 150.9 545.3 151.1 545.9 151.2 546.4 151.4 546.9 151.5 547.4 151.6 547.9 151.7 548.5 151.8 549 151.9 549.5 152 550 152.1 550.5 152.1 551 152.2 551.6 152.2 552.1 152.3 552.6 152.3 553.1 152.3 553.6 152.4 554.2 152.4 554.7 152.4 555.2 152.4 555.7 152.5 556.2 152.5 556.8 152.5 557.3 152.5 557.8 152.5 558.3 152.5 558.8 152.5 559.3 152.5 559.9 152.6 560.4 152.6 560.9 152.6 561.4 152.6 561.9 152.6 562.5 152.6 563 152.6 563.5 152.6 564 152.6 564.5 152.6 565 152.6 565.6 152.6 566.1 152.6 566.6 152.6 567.1 152.6 567.6 152.6 568.2 152.6 568.7 152.6 569.2 152.6 569.7 152.6 570.2 152.6 570.7 152.6 571.3 152.6 571.8 152.6 572.3 152.6 572.8 150.4 573.3 142.4 573.9 135.4 574.4 129.9 574.9 125.8 575.4 122.9 575.9 121.1 576.4 120.3 577 120.1 577.5 120.5 578 121.3 578.5 122.3 579 123.6 579.6 125.1 580.1 126.6 580.6 128.2 581.1 129.8 581.6 131.4 582.2 132.9 582.7 134.4 583.2 135.8 583.7 137.2 584.2 138.5 584.7 139.7 585.3 140.8 585.8 141.8 586.3 142.8 586.8 143.7 587.3 144.5 587.9 145.3 588.4 146 588.9 146.6 589.4 147.2 589.9 147.7 590.4 148.2 591 148.7 591.5 149.1 592 149.4 592.5 149.7 593 150 593.6 150.3 594.1 150.5 594.6 150.8 595.1 151 595.6 151.1 596.1 151.3 596.7 151.4 597.2 151.6 597.7 151.7 598.2 151.8 598.7 151.9 599.3 151.9 599.8 152 600.3 152.1 600.8 152.1 601.3 152.2 601.9 152.2 602.4 152.3 602.9 152.3 603.4 152.3 603.9 152.4 604.4 152.4 605 152.4 605.5 152.4 606 152.5 606.5 152.5 607 152.5 607.6 152.5 608.1 152.5 608.6 152.5 609.1 152.5 609.6 152.5 610.1 152.5 610.7 152.6 611.2 152.6 611.7 152.6 612.2 152.6 612.7 152.6 613.3 152.6 613.8 152.6 614.3 152.6 614.8 152.6 615.3 152.6 615.8 152.6 616.4 152.6 616.9 152.6 617.4 152.6 617.9 152.6 618.4 152.6 619 152.6 619.5 152.6 620 152.6 620.5 152.6 621 152.6 621.6 152.6 622.1 152.6 622.6 152.6 623.1 152.6 623.6 152.6 624.1 152.6 624.7 152.6 625.2 152.4 625.7 151.6 626.2 150.9 626.7 150.4 627.3 150.1 627.8 149.9 628.3 149.8 628.8 149.8 629.3 149.9 629.8 150 630.4 150.1 630.9 150.2 631.4 150.3 631.9 150.5 632.4 150.6 633 150.8 633.5 150.9 634 151 634.5 151.1 635 151.3 635.5 151.4 636.1 151.5 636.6 151.6 637.1 151.7 637.6 151.7 638.1 151.8 638.7 151.9 639.2 152 639.7 152 640.2 152.1 640.7 152.1 641.2 152.2 641.8 152.2 642.3 152.3 642.8 152.3 643.3 152.3 643.8 152.3 644.4 152.4 644.9 152.4 645.4 152.4 645.9 152.4 646.4 152.5 647 152.5 647.5 152.5 648 152.5 648.5 152.5 649 152.5 649.5 152.5 650.1 152.5 650.6 152.5 651.1 152.5 651.6 152.6 652.1 152.6 652.7 152.6 653.2 152.6 653.7 152.6 654.2 152.6 654.7 152.6 655.2 152.6 655.8 152.6 656.3 152.6 656.8 152.6 657.3 152.6 657.8 152.6 658.4 152.6 658.9 152.6 659.4 152.6 659.9 152.6 660.4 152.6 660.9 152.6 661.5 152.6 662 152.6 662.5 152.6 663 152.6 663.5 152.6 664.1 152.6 664.6 152.6 665.1 152.6 665.6 152.6 666.1 152.6 666.7 152.6 667.2 152.6 667.7 152.6 668.2 152.6 668.7 152.6 669.2 152.6 669.8 152.6 670.3 152.6 670.8 152.6 671.3 152.6 671.8 152.6 672.4 152.6 672.9 152.6 673.4 152.6 673.9 152.6 674.4 152.6 674.9 152.6 675.5 152.6 676 152.6 676.5 152.6" stroke="#e69f00" stroke-width="0.95" fill="none" stroke-linejoin="round" stroke-opacity="0.9"/>
<path d="M591.4 99H672" stroke="#56b4e9" stroke-width="0.9" stroke-opacity="0.8"/>
<path d="M591.4 99.5 591.7 99.5 591.9 99.5 592.2 99.5 592.5 99.5 592.7 99.3 593 98.2 593.3 96.5 593.6 94.4 593.8 92.4 594.1 90.4 594.4 88.6 594.6 87.1 594.9 85.9 595.2 84.9 595.4 84.3 595.7 83.9 596 83.7 596.3 83.7 596.5 83.9 596.8 84.1 597.1 84.4 597.3 84.8 597.6 85.3 597.9 85.7 598.1 86.3 598.4 86.8 598.7 87.3 598.9 87.9 599.2 88.5 599.5 89 599.8 89.6 600 90.1 600.3 90.6 600.6 91.2 600.8 91.6 601.1 92.1 601.4 92.6 601.6 93 601.9 93.4 602.2 93.8 602.5 94.2 602.7 94.6 603 94.9 603.3 95.2 603.5 95.5 603.8 95.8 604.1 96.1 604.3 96.3 604.6 96.5 604.9 96.8 605.1 97 605.4 97.2 605.7 97.3 606 97.5 606.2 97.6 606.5 97.8 606.8 97.9 607 98 607.3 98.2 607.6 98.3 607.8 98.4 608.1 98.5 608.4 98.5 608.7 98.6 608.9 98.7 609.2 98.7 609.5 98.8 609.7 98.9 610 98.9 610.3 99 610.5 99 610.8 99.1 611.1 99.1 611.3 99.1 611.6 99.2 611.9 99.2 612.2 99.2 612.4 99.2 612.7 99.3 613 99.3 613.2 99.3 613.5 99.3 613.8 99.3 614 99.3 614.3 99.4 614.6 99.4 614.9 99.4 615.1 99.4 615.4 99.4 615.7 99.4 615.9 99.4 616.2 99.4 616.5 99.4 616.7 99.4 617 99.4 617.3 99.4 617.5 99.5 617.8 99.5 618.1 99.5 618.4 99.1 618.6 91 618.9 80.8 619.2 71 619.4 62.6 619.7 55.9 620 50.8 620.2 47.3 620.5 45.1 620.8 44.2 621.1 44.2 621.3 44.7 621.6 45.7 621.9 46.9 622.1 48.4 622.4 50.1 622.7 51.9 622.9 53.8 623.2 55.8 623.5 57.8 623.7 59.8 624 61.9 624.3 63.8 624.6 65.8 624.8 67.7 625.1 69.5 625.4 71.3 625.6 73 625.9 74.6 626.2 76.1 626.4 77.6 626.7 79 627 80.4 627.3 81.6 627.5 82.8 627.8 84 628.1 85 628.3 86 628.6 87 628.9 87.9 629.1 88.7 629.4 89.4 629.7 90.2 629.9 90.8 630.2 91.5 630.5 92.1 630.8 92.6 631 93.1 631.3 93.6 631.6 94 631.8 94.5 632.1 94.8 632.4 95.2 632.6 95.5 632.9 95.8 633.2 96.1 633.5 96.4 633.7 96.6 634 96.8 634.3 97 634.5 97.2 634.8 97.4 635.1 97.6 635.3 97.7 635.6 97.9 635.9 98 636.1 98.1 636.4 98.2 636.7 98.3 637 98.4 637.2 98.5 637.5 98.6 637.8 98.7 638 98.7 638.3 98.8 638.6 98.8 638.8 98.9 639.1 98.9 639.4 99 639.7 99 639.9 99.1 640.2 99.1 640.5 99.1 640.7 99.2 641 99.2 641.3 99.2 641.5 99.2 641.8 99.3 642.1 99.3 642.3 99.3 642.6 99.3 642.9 99.3 643.2 99.3 643.4 99.4 643.7 99.4 644 99.4 644.2 99.4 644.5 99.4 644.8 99.4 645 99.4 645.3 99.4 645.6 94.4 645.9 84.4 646.1 76.4 646.4 71.3 646.7 68.9 646.9 68.5 647.2 68.7 647.5 69.2 647.7 69.8 648 70.5 648.3 71.4 648.5 72.2 648.8 73.1 649.1 74.1 649.4 75 649.6 76 649.9 76.9 650.2 77.8 650.4 78.7 650.7 79.6 651 80.5 651.2 81.3 651.5 82.2 651.8 82.9 652.1 83.7 652.3 84.5 652.6 85.2 652.9 85.8 653.1 86.5 653.4 87.1 653.7 87.7 653.9 88.3 654.2 88.9 654.5 89.4 654.7 89.9 655 90.4 655.3 90.8 655.6 91.3 655.8 91.7 656.1 92.1 656.4 92.5 656.6 92.8 656.9 93.2 657.2 93.5 657.4 93.8 657.7 94.1 658 94.4 658.3 94.7 658.5 94.9 658.8 95.2 659.1 95.4 659.3 95.6 659.6 95.8 659.9 96 660.1 96.2 660.4 96.4 660.7 96.5 660.9 96.7 661.2 96.9 661.5 97 661.8 97.1 662 97.3 662.3 97.4 662.6 97.5 662.8 97.6 663.1 97.7 663.4 97.8 663.6 97.9 663.9 98 664.2 98.1 664.5 98.1 664.7 98.2 665 98.3 665.3 98.4 665.5 98.4 665.8 98.5 666.1 98.5 666.3 98.6 666.6 98.6 666.9 98.7 667.1 98.7 667.4 98.8 667.7 98.8 668 98.9 668.2 98.9 668.5 98.9 668.8 99 669 99 669.3 99 669.6 99 669.8 99.1 670.1 99.1 670.4 99.1 670.7 99.1 670.9 99.2 671.2 99.2 671.5 99.2 671.7 99.2 672 99.2" stroke="#e69f00" stroke-width="1.0" fill="none" stroke-linejoin="round" stroke-opacity="0.85"/>
<path d="M521.5 152.6 521.7 150.6 521.8 148.6 522 146.4 522.2 144.2 522.4 141.9 522.5 139.4 522.7 136.9 522.9 134.4 523 131.7 523.2 129 523.4 126.2 523.6 123.3 523.7 120.2 523.9 116.7 524.1 112.9 524.2 109 524.4 105.1 524.6 101.1 524.8 97.4 524.9 93.9 525.1 90.7 525.3 88 525.4 85.8 525.6 83.7 525.8 81.8 525.9 79.9 526.1 78.1 526.3 76.3 526.5 74.6 526.6 73 526.8 71.5 527 70 527.1 68.6 527.3 67.2 527.5 65.9 527.7 64.7 527.8 63.6 528 62.5 528.2 61.4 528.3 60.4 528.5 59.5 528.7 58.6 528.9 57.8 529 57 529.2 56.3 529.4 55.5 529.5 54.8 529.7 54.1 529.9 53.5 530.1 52.8 530.2 52.2 530.4 51.6 530.6 51 530.7 50.4 530.9 49.9 531.1 49.4 531.3 48.9 531.4 48.4 531.6 47.9 531.8 47.5 531.9 47 532.1 46.6 532.3 46.2 532.4 45.9 532.6 45.5 532.8 45.1 533 44.8 533.1 44.5 533.3 44.2 533.5 43.8 533.6 43.5 533.8 43.2 534 42.9 534.2 42.6 534.3 42.3 534.5 42 534.7 41.7 534.8 41.4 535 41.1 535.2 40.9 535.4 40.6 535.5 40.4 535.7 40.1 535.9 39.9 536 39.7 536.2 39.4 536.4 39.2 536.6 39.1 536.7 38.9 536.9 38.7 537.1 38.5 537.2 38.4 537.4 38.3 537.6 38.2 537.8 38 537.9 38 538.1 37.9 538.3 37.8 538.4 37.7 538.6 37.7 538.8 37.6 538.9 37.5 539.1 37.5 539.3 37.4 539.5 37.4 539.6 37.4 539.8 37.3 540 37.3 540.1 37.3 540.3 37.3 540.5 37.3 540.7 37.3 540.8 37.3 541 37.3 541.2 37.4 541.3 37.4 541.5 37.4 541.7 37.4 541.9 37.4 542 37.4 542.2 37.4 542.4 37.5 542.5 37.5 542.7 37.5 542.9 37.5 543.1 37.6 543.2 37.6 543.4 37.7 543.6 38 543.7 38.4 543.9 38.9 544.1 39.5 544.3 40.1 544.4 40.9 544.6 41.9 544.8 43.6 544.9 45.8 545.1 48.3 545.3 51.2 545.4 54.2 545.6 57.3 545.8 60.3 546 63 546.1 65.5 546.3 67.8 546.5 70 546.6 72.2 546.8 74.4 547 76.6 547.2 78.7 547.3 80.7 547.5 82.5 547.7 84.3 547.8 85.9 548 87.4 548.2 88.8 548.4 90.2 548.5 91.5 548.7 92.8 548.9 94 549 95.2 549.2 96.3 549.4 97.4 549.6 98.5 549.7 99.5 549.9 100.5 550.1 101.5 550.2 102.4 550.4 103.3 550.6 104.3 550.8 105.2 550.9 106.1 551.1 107 551.3 107.9 551.4 108.7 551.6 109.6 551.8 110.4 552 111.2 552.1 112.1 552.3 112.9 552.5 113.7 552.6 114.4 552.8 115.2 553 115.9 553.1 116.7 553.3 117.4 553.5 118.1 553.7 118.8 553.8 119.5 554 120.1 554.2 120.8 554.3 121.4 554.5 122 554.7 122.6 554.9 123.2 555 123.7 555.2 124.3 555.4 124.8 555.5 125.3 555.7 125.8 555.9 126.3 556.1 126.8 556.2 127.3 556.4 127.8 556.6 128.3 556.7 128.8 556.9 129.3 557.1 129.8 557.3 130.2 557.4 130.7 557.6 131.1 557.8 131.6 557.9 132 558.1 132.5 558.3 132.9 558.5 133.3 558.6 133.8 558.8 134.2 559 134.6 559.1 135 559.3 135.4 559.5 135.8 559.6 136.2 559.8 136.5 560 136.9 560.2 137.3 560.3 137.6 560.5 138 560.7 138.3 560.8 138.7 561 139 561.2 139.3 561.4 139.6 561.5 140 561.7 140.3 561.9 140.6 562 140.9 562.2 141.1 562.4 141.4 562.6 141.7 562.7 142 562.9 142.2 563.1 142.5 563.2 142.7 563.4 143 563.6 143.2 563.8 143.4 563.9 143.6 564.1 143.9 564.3 144.1 564.4 144.3 564.6 144.5 564.8 144.7 565 144.9 565.1 145 565.3 145.2 565.5 145.4 565.6 145.6 565.8 145.8 566 145.9 566.1 146.1 566.3 146.3 566.5 146.4 566.7 146.6 566.8 146.7 567 146.9 567.2 147 567.3 147.2 567.5 147.3 567.7 147.5 567.9 147.6 568 147.8 568.2 147.9 568.4 148.1 568.5 148.2 568.7 148.4 568.9 148.5 569.1 148.7 569.2 148.8 569.4 149 569.6 149.1 569.7 149.3 569.9 149.5 570.1 149.6 570.3 149.8 570.4 149.9 570.6 150.1 570.8 150.3 570.9 150.4 571.1 150.6 571.3 150.8 571.5 151 571.6 151.2 571.8 151.4 572 151.5 572.1 151.7 572.3 151.9 572.5 152.1 572.6 152.3" stroke="#9400d3" stroke-width="1.2" fill="none" stroke-linejoin="round" stroke-opacity="0.7"/>
<path d="M572.6 152.3 572.8 148.7 573 145.2 573.2 141.8 573.3 138.4 573.5 135 573.7 131.7 573.9 128.5 574 125.4 574.2 122.3 574.4 119.2 574.6 116.3 574.7 113.4 574.9 110.5 575.1 107.7 575.3 105 575.4 102.4 575.6 99.7 575.8 97.1 576 94.4 576.1 91.8 576.3 89.3 576.5 86.8 576.7 84.4 576.8 82.2 577 80.2 577.2 78.4 577.4 76.8 577.5 75.4 577.7 74.1 577.9 72.8 578 71.6 578.2 70.5 578.4 69.4 578.6 68.3 578.7 67.2 578.9 66.2 579.1 65.3 579.3 64.4 579.4 63.5 579.6 62.6 579.8 61.8 580 61 580.1 60.3 580.3 59.6 580.5 58.9 580.7 58.3 580.8 57.7 581 57.1 581.2 56.5 581.4 56 581.5 55.5 581.7 55 581.9 54.6 582.1 54.1 582.2 53.7 582.4 53.3 582.6 52.8 582.8 52.4 582.9 52 583.1 51.6 583.3 51.3 583.4 50.9 583.6 50.5 583.8 50.2 584 49.9 584.1 49.5 584.3 49.2 584.5 48.9 584.7 48.6 584.8 48.3 585 48 585.2 47.7 585.4 47.4 585.5 47.2 585.7 46.9 585.9 46.7 586.1 46.4 586.2 46.2 586.4 45.9 586.6 45.7 586.8 45.5 586.9 45.3 587.1 45 587.3 44.8 587.5 44.6 587.6 44.4 587.8 44.2 588 44 588.2 43.8 588.3 43.6 588.5 43.4 588.7 43.2 588.8 43 589 42.8 589.2 42.6 589.4 42.4 589.5 42.2 589.7 42.1 589.9 41.9 590.1 41.8 590.2 41.7 590.4 41.5 590.6 41.4 590.8 41.4 590.9 41.3 591.1 41.2 591.3 41.2 591.5 41.2 591.6 41.2 591.8 41.2 592 41.3 592.2 41.3 592.3 41.3 592.5 41.4 592.7 41.4 592.9 41.5 593 41.5 593.2 41.6 593.4 41.7 593.6 41.8 593.7 41.9 593.9 42.2 594.1 42.5 594.2 43 594.4 43.5 594.6 44.1 594.8 44.6 594.9 45.3 595.1 46.1 595.3 47 595.5 48 595.6 49 595.8 50.2 596 51.4 596.2 52.6 596.3 54 596.5 55.3 596.7 56.8 596.9 58.6 597 60.6 597.2 62.9 597.4 65.2 597.6 67.8 597.7 70.4 597.9 73.1 598.1 75.8 598.3 78.5 598.4 81.2 598.6 83.8 598.8 86.4 599 88.8 599.1 91 599.3 93.1 599.5 94.9 599.6 96.4 599.8 97.9 600 99.3 600.2 100.6 600.3 101.9 600.5 103.2 600.7 104.4 600.9 105.6 601 106.8 601.2 107.9 601.4 109 601.6 110 601.7 111 601.9 112 602.1 113 602.3 113.9 602.4 114.8 602.6 115.7 602.8 116.5 603 117.4 603.1 118.1 603.3 118.9 603.5 119.7 603.7 120.4 603.8 121.1 604 121.8 604.2 122.5 604.4 123.2 604.5 123.9 604.7 124.5 604.9 125.2 605 125.8 605.2 126.4 605.4 127.1 605.6 127.7 605.7 128.3 605.9 128.9 606.1 129.4 606.3 130 606.4 130.6 606.6 131.1 606.8 131.6 607 132.2 607.1 132.7 607.3 133.2 607.5 133.7 607.7 134.1 607.8 134.6 608 135 608.2 135.5 608.4 135.9 608.5 136.3 608.7 136.7 608.9 137.1 609.1 137.5 609.2 137.8 609.4 138.2 609.6 138.5 609.8 138.8 609.9 139.1 610.1 139.4 610.3 139.7 610.4 140 610.6 140.3 610.8 140.6 611 140.9 611.1 141.2 611.3 141.5 611.5 141.7 611.7 142 611.8 142.3 612 142.5 612.2 142.8 612.4 143 612.5 143.3 612.7 143.5 612.9 143.8 613.1 144 613.2 144.2 613.4 144.5 613.6 144.7 613.8 144.9 613.9 145.1 614.1 145.3 614.3 145.5 614.5 145.7 614.6 145.9 614.8 146.1 615 146.3 615.2 146.5 615.3 146.7 615.5 146.9 615.7 147 615.8 147.2 616 147.4 616.2 147.6 616.4 147.7 616.5 147.9 616.7 148 616.9 148.2 617.1 148.3 617.2 148.5 617.4 148.6 617.6 148.7 617.8 148.9 617.9 149 618.1 149.1 618.3 149.3 618.5 149.4 618.6 149.5 618.8 149.6 619 149.8 619.2 149.9 619.3 150 619.5 150.1 619.7 150.2 619.9 150.4 620 150.5 620.2 150.6 620.4 150.7 620.5 150.8 620.7 150.9 620.9 151 621.1 151.1 621.2 151.2 621.4 151.3 621.6 151.4 621.8 151.5 621.9 151.6 622.1 151.7 622.3 151.8 622.5 151.8 622.6 151.9 622.8 152 623 152.1 623.2 152.1 623.3 152.2 623.5 152.3 623.7 152.3 623.9 152.4 624 152.4 624.2 152.5 624.4 152.5 624.6 152.6 624.7 152.6" stroke="#9400d3" stroke-width="1.2" fill="none" stroke-linejoin="round" stroke-opacity="0.7"/>
<path d="M624.7 152.6 624.9 149.9 625.1 147.2 625.2 144.5 625.4 141.7 625.6 139 625.8 136.4 625.9 133.7 626.1 131 626.3 128.3 626.5 125.6 626.6 123 626.8 120.3 627 117.6 627.2 114.9 627.3 112.1 627.5 109.1 627.7 106.1 627.8 103 628 100 628.2 97.1 628.4 94.4 628.5 91.8 628.7 89.6 628.9 87.6 629.1 86 629.2 84.7 629.4 83.4 629.6 82.2 629.8 81 629.9 79.9 630.1 78.9 630.3 77.8 630.4 76.9 630.6 75.9 630.8 75 631 74.2 631.1 73.4 631.3 72.6 631.5 71.8 631.7 71.1 631.8 70.4 632 69.8 632.2 69.2 632.3 68.5 632.5 68 632.7 67.4 632.9 66.8 633 66.3 633.2 65.8 633.4 65.3 633.6 64.8 633.7 64.3 633.9 63.8 634.1 63.3 634.3 62.9 634.4 62.4 634.6 62 634.8 61.5 634.9 61.1 635.1 60.7 635.3 60.3 635.5 59.9 635.6 59.5 635.8 59.1 636 58.7 636.2 58.3 636.3 58 636.5 57.6 636.7 57.3 636.9 56.9 637 56.6 637.2 56.3 637.4 55.9 637.5 55.6 637.7 55.3 637.9 55 638.1 54.7 638.2 54.4 638.4 54.1 638.6 53.9 638.8 53.6 638.9 53.3 639.1 53 639.3 52.8 639.4 52.5 639.6 52.3 639.8 52 640 51.8 640.1 51.5 640.3 51.3 640.5 51.1 640.7 50.8 640.8 50.6 641 50.4 641.2 50.1 641.4 49.9 641.5 49.6 641.7 49.4 641.9 49.2 642 48.9 642.2 48.7 642.4 48.4 642.6 48.2 642.7 48 642.9 47.8 643.1 47.5 643.3 47.3 643.4 47.1 643.6 46.9 643.8 46.7 643.9 46.5 644.1 46.4 644.3 46.2 644.5 46 644.6 45.9 644.8 45.8 645 45.6 645.2 45.5 645.3 45.4 645.5 45.3 645.7 45.2 645.9 45.2 646 45.1 646.2 45.1 646.4 45.1 646.5 45.1 646.7 45.3 646.9 45.5 647.1 45.8 647.2 46.2 647.4 46.6 647.6 47.3 647.8 48.2 647.9 49.4 648.1 50.9 648.3 52.5 648.5 54.2 648.6 56 648.8 57.9 649 59.8 649.1 61.7 649.3 63.5 649.5 65.3 649.7 66.9 649.8 68.7 650 70.5 650.2 72.4 650.4 74.4 650.5 76.4 650.7 78.3 650.9 80.3 651 82.3 651.2 84.3 651.4 86.2 651.6 88 651.7 89.8 651.9 91.5 652.1 93.1 652.3 94.6 652.4 95.9 652.6 97.1 652.8 98.3 653 99.5 653.1 100.6 653.3 101.8 653.5 102.8 653.6 103.9 653.8 104.9 654 105.9 654.2 106.9 654.3 107.8 654.5 108.7 654.7 109.6 654.9 110.5 655 111.4 655.2 112.2 655.4 113 655.5 113.8 655.7 114.6 655.9 115.3 656.1 116.1 656.2 116.8 656.4 117.5 656.6 118.2 656.8 118.8 656.9 119.5 657.1 120.1 657.3 120.8 657.5 121.4 657.6 122.1 657.8 122.7 658 123.3 658.1 123.9 658.3 124.5 658.5 125.1 658.7 125.7 658.8 126.2 659 126.8 659.2 127.3 659.4 127.9 659.5 128.4 659.7 129 659.9 129.5 660.1 130 660.2 130.5 660.4 131 660.6 131.4 660.7 131.9 660.9 132.4 661.1 132.8 661.3 133.2 661.4 133.7 661.6 134.1 661.8 134.5 662 134.9 662.1 135.3 662.3 135.6 662.5 136 662.6 136.4 662.8 136.7 663 137 663.2 137.3 663.3 137.7 663.5 138 663.7 138.3 663.9 138.6 664 138.9 664.2 139.2 664.4 139.5 664.6 139.8 664.7 140.1 664.9 140.4 665.1 140.6 665.2 140.9 665.4 141.2 665.6 141.5 665.8 141.7 665.9 142 666.1 142.2 666.3 142.5 666.5 142.7 666.6 143 666.8 143.2 667 143.5 667.2 143.7 667.3 143.9 667.5 144.1 667.7 144.4 667.8 144.6 668 144.8 668.2 145 668.4 145.2 668.5 145.4 668.7 145.6 668.9 145.8 669.1 146 669.2 146.2 669.4 146.4 669.6 146.6 669.7 146.7 669.9 146.9 670.1 147.1 670.3 147.3 670.4 147.4 670.6 147.6 670.8 147.8 671 147.9 671.1 148.1 671.3 148.2 671.5 148.4 671.7 148.5 671.8 148.7 672 148.8 672.2 149 672.3 149.1 672.5 149.3 672.7 149.4 672.9 149.5 673 149.7 673.2 149.8 673.4 149.9 673.6 150.1 673.7 150.2 673.9 150.3 674.1 150.4 674.2 150.5 674.4 150.6 674.6 150.8 674.8 150.9 674.9 151 675.1 151.1 675.3 151.2 675.5 151.3 675.6 151.4 675.8 151.4 676 151.5 676.2 151.6 676.3 151.7 676.5 151.8" stroke="#9400d3" stroke-width="1.2" fill="none" stroke-linejoin="round" stroke-opacity="0.7"/>
<rect x="524.2" y="195.3" width="154.3" height="125" fill="none" stroke="#c4c4c4" stroke-width="0.7"/>
<path d="M524.2 320.3v-1.8M524.2 195.3v1.8M539.63 320.3v-1.8M539.63 195.3v1.8M555.06 320.3v-1.8M555.06 195.3v1.8M570.49 320.3v-1.8M570.49 195.3v1.8M585.92 320.3v-1.8M585.92 195.3v1.8M601.35 320.3v-1.8M601.35 195.3v1.8M616.78 320.3v-1.8M616.78 195.3v1.8M632.21 320.3v-1.8M632.21 195.3v1.8M647.64 320.3v-1.8M647.64 195.3v1.8M663.07 320.3v-1.8M663.07 195.3v1.8M678.5 320.3v-1.8M678.5 195.3v1.8M524.2 320.3h1.8M678.5 320.3h-1.8M524.2 306.41h1.8M678.5 306.41h-1.8M524.2 292.52h1.8M678.5 292.52h-1.8M524.2 278.63h1.8M678.5 278.63h-1.8M524.2 264.74h1.8M678.5 264.74h-1.8M524.2 250.86h1.8M678.5 250.86h-1.8M524.2 236.97h1.8M678.5 236.97h-1.8M524.2 223.08h1.8M678.5 223.08h-1.8M524.2 209.19h1.8M678.5 209.19h-1.8M524.2 195.3h1.8M678.5 195.3h-1.8" stroke="#c4c4c4" stroke-width="0.6" fill="none"/>
<text x="520.4" y="322.8" font-size="5.6" text-anchor="end">0</text>
<text x="520.4" y="308.91" font-size="5.6" text-anchor="end">50000</text>
<text x="520.4" y="295.02" font-size="5.6" text-anchor="end">100000</text>
<text x="520.4" y="281.13" font-size="5.6" text-anchor="end">150000</text>
<text x="520.4" y="267.24" font-size="5.6" text-anchor="end">200000</text>
<text x="520.4" y="253.36" font-size="5.6" text-anchor="end">250000</text>
<text x="520.4" y="239.47" font-size="5.6" text-anchor="end">300000</text>
<text x="520.4" y="225.58" font-size="5.6" text-anchor="end">350000</text>
<text x="520.4" y="211.69" font-size="5.6" text-anchor="end">400000</text>
<text x="520.4" y="197.8" font-size="5.6" text-anchor="end">450000</text>
<text x="524.2" y="328.6" font-size="5.6" text-anchor="middle">0</text>
<text x="539.63" y="328.6" font-size="5.6" text-anchor="middle">10</text>
<text x="555.06" y="328.6" font-size="5.6" text-anchor="middle">20</text>
<text x="570.49" y="328.6" font-size="5.6" text-anchor="middle">30</text>
<text x="585.92" y="328.6" font-size="5.6" text-anchor="middle">40</text>
<text x="601.35" y="328.6" font-size="5.6" text-anchor="middle">50</text>
<text x="616.78" y="328.6" font-size="5.6" text-anchor="middle">60</text>
<text x="632.21" y="328.6" font-size="5.6" text-anchor="middle">70</text>
<text x="647.64" y="328.6" font-size="5.6" text-anchor="middle">80</text>
<text x="663.07" y="328.6" font-size="5.6" text-anchor="middle">90</text>
<text x="678.5" y="328.6" font-size="5.6" text-anchor="middle">100</text>
<text x="601.35" y="337.1" font-size="5.6" text-anchor="middle">days</text>
<text transform="translate(495.9,257.8) rotate(-90)" font-size="5.6" text-anchor="middle">ng/mL</text>
<rect x="594" y="203.1" width="81" height="64.3" fill="none" stroke="#c4c4c4" stroke-width="0.6"/>
<path d="M594 267.4v-1.5M594 203.1v1.5M602.1 267.4v-1.5M602.1 203.1v1.5M610.2 267.4v-1.5M610.2 203.1v1.5M618.3 267.4v-1.5M618.3 203.1v1.5M626.4 267.4v-1.5M626.4 203.1v1.5M634.5 267.4v-1.5M634.5 203.1v1.5M642.6 267.4v-1.5M642.6 203.1v1.5M650.7 267.4v-1.5M650.7 203.1v1.5M658.8 267.4v-1.5M658.8 203.1v1.5M666.9 267.4v-1.5M666.9 203.1v1.5M675 267.4v-1.5M675 203.1v1.5M594 267.4h1.5M675 267.4h-1.5M594 256.68h1.5M675 256.68h-1.5M594 245.97h1.5M675 245.97h-1.5M594 235.25h1.5M675 235.25h-1.5M594 224.53h1.5M675 224.53h-1.5M594 213.82h1.5M675 213.82h-1.5M594 203.1h1.5M675 203.1h-1.5" stroke="#c4c4c4" stroke-width="0.6" fill="none"/>
<text x="590.6" y="269.4" font-size="5.5" text-anchor="end">0</text>
<text x="590.6" y="258.68" font-size="5.5" text-anchor="end">100000</text>
<text x="590.6" y="247.97" font-size="5.5" text-anchor="end">200000</text>
<text x="590.6" y="237.25" font-size="5.5" text-anchor="end">300000</text>
<text x="590.6" y="226.53" font-size="5.5" text-anchor="end">400000</text>
<text x="590.6" y="215.82" font-size="5.5" text-anchor="end">500000</text>
<text x="590.6" y="205.1" font-size="5.5" text-anchor="end">600000</text>
<text x="594" y="275.7" font-size="5.5" text-anchor="middle">0</text>
<text x="602.1" y="275.7" font-size="5.5" text-anchor="middle">10</text>
<text x="610.2" y="275.7" font-size="5.5" text-anchor="middle">20</text>
<text x="618.3" y="275.7" font-size="5.5" text-anchor="middle">30</text>
<text x="626.4" y="275.7" font-size="5.5" text-anchor="middle">40</text>
<text x="634.5" y="275.7" font-size="5.5" text-anchor="middle">50</text>
<text x="642.6" y="275.7" font-size="5.5" text-anchor="middle">60</text>
<text x="650.7" y="275.7" font-size="5.5" text-anchor="middle">70</text>
<text x="658.8" y="275.7" font-size="5.5" text-anchor="middle">80</text>
<text x="666.9" y="275.7" font-size="5.5" text-anchor="middle">90</text>
<text x="675" y="275.7" font-size="5.5" text-anchor="middle">100</text>
<text x="542.8" y="202.37" font-size="5.2" text-anchor="end">IFN-g</text>
<path d="M545.8 200.5H560.6" stroke="#9400d3" stroke-width="1.5" stroke-opacity="0.55"/>
<text x="542.8" y="208.34" font-size="5.2" text-anchor="end">IL-4</text>
<path d="M545.8 206.47H560.6" stroke="#009e73" stroke-width="1.5" stroke-opacity="0.5"/>
<text x="542.8" y="214.31" font-size="5.2" text-anchor="end">IL-12</text>
<path d="M545.8 212.44H560.6" stroke="#56b4e9" stroke-width="1.5" stroke-opacity="0.4"/>
<text x="542.8" y="220.28" font-size="5.2" text-anchor="end">TGF-b</text>
<path d="M545.8 218.41H560.6" stroke="#e69f00" stroke-width="1.5" stroke-opacity="0.55"/>
<text x="542.8" y="226.25" font-size="5.2" text-anchor="end">TNF-a</text>
<path d="M545.8 224.38H560.6" stroke="#e51e10" stroke-width="1.5" stroke-opacity="0.6"/>
<text x="542.8" y="232.22" font-size="5.2" text-anchor="end">IL-10</text>
<path d="M545.8 230.35H560.6" stroke="#3c3c3c" stroke-width="0.8" stroke-opacity="0.6"/>
<text x="542.8" y="238.19" font-size="5.2" text-anchor="end">IL-6</text>
<path d="M545.8 236.32H560.6" stroke="#9400d3" stroke-width="0.8" stroke-opacity="0.6"/>
<text x="542.8" y="244.16" font-size="5.2" text-anchor="end">IFN-b</text>
<path d="M545.8 242.29H560.6" stroke="#009e73" stroke-width="0.8" stroke-opacity="0.5"/>
<text x="542.8" y="250.13" font-size="5.2" text-anchor="end">IL-18</text>
<path d="M545.8 248.26H560.6" stroke="#56b4e9" stroke-width="0.8" stroke-opacity="0.4"/>
<text x="542.8" y="256.1" font-size="5.2" text-anchor="end">IL-23</text>
<path d="M545.8 254.23H560.6" stroke="#e69f00" stroke-width="0.8" stroke-opacity="0.6"/>
<text x="609" y="210.07" font-size="5.2" text-anchor="end">D</text>
<path d="M612.2 208.2H627.2" stroke="#56b4e9" stroke-width="0.9" stroke-opacity="1.0"/>
<text x="609" y="216.17" font-size="5.2" text-anchor="end">IL-2</text>
<path d="M612.2 214.3H627.2" stroke="#e69f00" stroke-width="1.0" stroke-opacity="1.0"/>
<path d="M524.2 320H678.5" stroke="#b0603a" stroke-width="1.0" stroke-opacity="0.8"/>
<path d="M524.2 320.3 524.7 318.3 525.2 317.5 525.7 317.1 526.3 317 526.8 317 527.3 317 527.8 317.1 528.3 317.2 528.8 317.4 529.4 316.8 529.9 315.9 530.4 314.9 530.9 314 531.4 313.1 531.9 312.4 532.5 311.8 533 311.3 533.5 311 534 310.7 534.5 310.6 535 310.5 535.6 310.5 536.1 310.6 536.6 310.8 537.1 311 537.6 311.3 538.1 311.7 538.6 312 539.2 312.4 539.7 312.8 540.2 313.2 540.7 313.6 541.2 314 541.7 314.3 542.3 314.7 542.8 315.1 543.3 315.5 543.8 315.8 544.3 316.1 544.8 316.4 545.4 316.7 545.9 317 546.4 317.3 546.9 317.5 547.4 317.7 547.9 317.9 548.5 318.1 549 318.3 549.5 318.5 550 318.7 550.5 318.8 551 318.9 551.6 319.1 552.1 319.2 552.6 319.3 553.1 319.4 553.6 319.5 554.1 319.5 554.6 319.6 555.2 319.7 555.7 319.7 556.2 319.8 556.7 319.8 557.2 319.9 557.7 319.9 558.3 320 558.8 320 559.3 320 559.8 320 560.3 320.1 560.8 320.1 561.4 320.1 561.9 320.1 562.4 320.2 562.9 320.2 563.4 320.2 563.9 320.2 564.5 320.2 565 320.2 565.5 320.2 566 320.2 566.5 320.2 567 320.2 567.5 320.2 568.1 320.3 568.6 320.3 569.1 320.3 569.6 320.3 570.1 320.3 570.6 320.3 571.2 320.3 571.7 320.3 572.2 320.3 572.7 320.3 573.2 320.3 573.7 320.3 574.3 320.3 574.8 320.3 575.3 320.3 575.8 319.7 576.3 318.5 576.8 317.5 577.4 316.7 577.9 316 578.4 315.5 578.9 315.1 579.4 314.8 579.9 314.5 580.4 314.3 581 314.2 581.5 314.2 582 314.2 582.5 314.3 583 314.4 583.5 314.6 584.1 314.8 584.6 315 585.1 315.2 585.6 315.5 586.1 315.8 586.6 316 587.2 316.3 587.7 316.6 588.2 316.8 588.7 317.1 589.2 317.3 589.7 317.6 590.3 317.8 590.8 318 591.3 318.2 591.8 318.4 592.3 318.5 592.8 318.7 593.4 318.8 593.9 319 594.4 319.1 594.9 319.2 595.4 319.3 595.9 319.4 596.4 319.5 597 319.6 597.5 319.6 598 319.7 598.5 319.8 599 319.8 599.5 319.9 600.1 319.9 600.6 320 601.1 320 601.6 320 602.1 320.1 602.6 320.1 603.2 320.1 603.7 320.1 604.2 320.1 604.7 320.2 605.2 320.2 605.7 320.2 606.3 320.2 606.8 320.2 607.3 320.2 607.8 320.2 608.3 320.2 608.8 320.2 609.3 320.3 609.9 320.3 610.4 320.3 610.9 320.3 611.4 320.3 611.9 320.3 612.4 320.3 613 320.3 613.5 320.3 614 320.3 614.5 320.3 615 320.3 615.5 320.3 616.1 320.3 616.6 320.3 617.1 320.3 617.6 320.3 618.1 320.3 618.6 320.3 619.2 320.3 619.7 320.3 620.2 320.3 620.7 320.3 621.2 320.3 621.7 320.3 622.3 320.3 622.8 320.3 623.3 320.3 623.8 320.3 624.3 320.3 624.8 320.3 625.3 320.3 625.9 320.3 626.4 320.3 626.9 320.1 627.4 319.1 627.9 318.2 628.4 317.5 629 317 629.5 316.5 630 316.2 630.5 315.9 631 315.8 631.5 315.7 632.1 315.6 632.6 315.6 633.1 315.6 633.6 315.7 634.1 315.8 634.6 315.9 635.2 316 635.7 316.2 636.2 316.4 636.7 316.6 637.2 316.7 637.7 316.9 638.2 317.1 638.8 317.3 639.3 317.5 639.8 317.7 640.3 317.8 640.8 318 641.3 318.1 641.9 318.3 642.4 318.4 642.9 318.6 643.4 318.7 643.9 318.8 644.4 318.9 645 319 645.5 319.1 646 319.2 646.5 319.3 647 319.4 647.5 319.5 648.1 319.5 648.6 319.6 649.1 319.6 649.6 319.7 650.1 319.7 650.6 319.8 651.1 319.8 651.7 319.9 652.2 319.9 652.7 319.9 653.2 320 653.7 320 654.2 320 654.8 320.1 655.3 320.1 655.8 320.1 656.3 320.1 656.8 320.1 657.3 320.1 657.9 320.2 658.4 320.2 658.9 320.2 659.4 320.2 659.9 320.2 660.4 320.2 661 320.2 661.5 320.2 662 320.2 662.5 320.2 663 320.2 663.5 320.3 664.1 320.3 664.6 320.3 665.1 320.3 665.6 320.3 666.1 320.3 666.6 320.3 667.1 320.3 667.7 320.3 668.2 320.3 668.7 320.3 669.2 320.3 669.7 320.3 670.2 320.3 670.8 320.3 671.3 320.3 671.8 320.3 672.3 320.3 672.8 320.3 673.3 320.3 673.9 320.3 674.4 320.3 674.9 320.3 675.4 320.3 675.9 320.3 676.4 320.3 677 320.3 677.5 320.3 678 320.3 678.5 320.3" stroke="#56b4e9" stroke-width="0.9" fill="none" stroke-linejoin="round" stroke-opacity="0.85"/>
<path d="M524.2 320.3 524.7 320.3 525.2 320.3 525.7 320.3 526.3 320.3 526.8 320.3 527.3 320.3 527.8 320.3 528.3 320.3 528.8 318.5 529.4 315.2 529.9 312.1 530.4 309.4 530.9 307.2 531.4 305.4 531.9 304 532.5 302.9 533 302.2 533.5 301.7 534 301.5 534.5 301.4 535 301.5 535.6 301.8 536.1 302.2 536.6 302.7 537.1 303.3 537.6 303.9 538.1 304.5 538.6 305.2 539.2 305.9 539.7 306.7 540.2 307.4 540.7 308.1 541.2 308.8 541.7 309.4 542.3 310.1 542.8 310.7 543.3 311.3 543.8 311.9 544.3 312.5 544.8 313 545.4 313.5 545.9 314 546.4 314.4 546.9 314.8 547.4 315.2 547.9 315.6 548.5 316 549 316.3 549.5 316.6 550 316.9 550.5 317.1 551 317.4 551.6 317.6 552.1 317.8 552.6 318 553.1 318.2 553.6 318.4 554.1 318.5 554.6 318.7 555.2 318.8 555.7 318.9 556.2 319 556.7 319.2 557.2 319.2 557.7 319.3 558.3 319.4 558.8 319.5 559.3 319.6 559.8 319.6 560.3 319.7 560.8 319.7 561.4 319.8 561.9 319.8 562.4 319.9 562.9 319.9 563.4 319.9 563.9 320 564.5 320 565 320 565.5 320.1 566 320.1 566.5 320.1 567 320.1 567.5 320.1 568.1 320.1 568.6 320.2 569.1 320.2 569.6 320.2 570.1 320.2 570.6 320.2 571.2 320.2 571.7 320.2 572.2 320.2 572.7 320.2 573.2 320.2 573.7 320.2 574.3 320.3 574.8 320.3 575.3 320.3 575.8 319 576.3 315.9 576.8 313.1 577.4 311 577.9 309.4 578.4 308.3 578.9 307.6 579.4 307.3 579.9 307.3 580.4 307.4 581 307.8 581.5 308.3 582 308.8 582.5 309.4 583 310.1 583.5 310.7 584.1 311.4 584.6 312.1 585.1 312.7 585.6 313.3 586.1 313.9 586.6 314.4 587.2 314.9 587.7 315.4 588.2 315.9 588.7 316.3 589.2 316.7 589.7 317 590.3 317.4 590.8 317.6 591.3 317.9 591.8 318.2 592.3 318.4 592.8 318.6 593.4 318.8 593.9 318.9 594.4 319.1 594.9 319.2 595.4 319.3 595.9 319.4 596.4 319.5 597 319.6 597.5 319.7 598 319.8 598.5 319.8 599 319.9 599.5 319.9 600.1 320 600.6 320 601.1 320 601.6 320.1 602.1 320.1 602.6 320.1 603.2 320.1 603.7 320.2 604.2 320.2 604.7 320.2 605.2 320.2 605.7 320.2 606.3 320.2 606.8 320.2 607.3 320.2 607.8 320.2 608.3 320.3 608.8 320.3 609.3 320.3 609.9 320.3 610.4 320.3 610.9 320.3 611.4 320.3 611.9 320.3 612.4 320.3 613 320.3 613.5 320.3 614 320.3 614.5 320.3 615 320.3 615.5 320.3 616.1 320.3 616.6 320.3 617.1 320.3 617.6 320.3 618.1 320.3 618.6 320.3 619.2 320.3 619.7 320.3 620.2 320.3 620.7 320.3 621.2 320.3 621.7 320.3 622.3 320.3 622.8 320.3 623.3 320.3 623.8 320.3 624.3 320.3 624.8 320.3 625.3 320.3 625.9 320.3 626.4 320.3 626.9 320.2 627.4 319.3 627.9 318.3 628.4 317.6 629 316.9 629.5 316.4 630 316 630.5 315.7 631 315.5 631.5 315.4 632.1 315.3 632.6 315.3 633.1 315.4 633.6 315.5 634.1 315.6 634.6 315.7 635.2 315.9 635.7 316.1 636.2 316.3 636.7 316.5 637.2 316.7 637.7 316.9 638.2 317.1 638.8 317.3 639.3 317.4 639.8 317.6 640.3 317.8 640.8 318 641.3 318.1 641.9 318.3 642.4 318.4 642.9 318.6 643.4 318.7 643.9 318.8 644.4 318.9 645 319 645.5 319.1 646 319.2 646.5 319.3 647 319.4 647.5 319.5 648.1 319.5 648.6 319.6 649.1 319.6 649.6 319.7 650.1 319.7 650.6 319.8 651.1 319.8 651.7 319.9 652.2 319.9 652.7 319.9 653.2 320 653.7 320 654.2 320 654.8 320.1 655.3 320.1 655.8 320.1 656.3 320.1 656.8 320.1 657.3 320.1 657.9 320.2 658.4 320.2 658.9 320.2 659.4 320.2 659.9 320.2 660.4 320.2 661 320.2 661.5 320.2 662 320.2 662.5 320.2 663 320.2 663.5 320.3 664.1 320.3 664.6 320.3 665.1 320.3 665.6 320.3 666.1 320.3 666.6 320.3 667.1 320.3 667.7 320.3 668.2 320.3 668.7 320.3 669.2 320.3 669.7 320.3 670.2 320.3 670.8 320.3 671.3 320.3 671.8 320.3 672.3 320.3 672.8 320.3 673.3 320.3 673.9 320.3 674.4 320.3 674.9 320.3 675.4 320.3 675.9 320.3 676.4 320.3 677 320.3 677.5 320.3 678 320.3 678.5 320.3" stroke="#3c3c3c" stroke-width="0.7" fill="none" stroke-linejoin="round" stroke-opacity="0.75"/>
<path d="M524.2 320.3 524.7 320.3 525.2 320.3 525.7 320.3 526.3 320.3 526.8 320.3 527.3 320.3 527.8 320.3 528.3 318.4 528.8 313.5 529.4 307.3 529.9 300.8 530.4 294.5 530.9 288.8 531.4 283.9 531.9 279.8 532.5 276.6 533 274.2 533.5 272.6 534 271.7 534.5 271.4 535 271.6 535.6 272.2 536.1 273.1 536.6 274.3 537.1 275.7 537.6 277.2 538.1 278.9 538.6 280.7 539.2 282.5 539.7 284.3 540.2 286.2 540.7 288.1 541.2 289.9 541.7 291.7 542.3 293.4 542.8 295.1 543.3 296.7 543.8 298.3 544.3 299.8 544.8 301.2 545.4 302.5 545.9 303.8 546.4 305 546.9 306.1 547.4 307.2 547.9 308.2 548.5 309.1 549 310 549.5 310.8 550 311.5 550.5 312.3 551 312.9 551.6 313.5 552.1 314.1 552.6 314.6 553.1 315.1 553.6 315.5 554.1 315.9 554.6 316.3 555.2 316.6 555.7 316.9 556.2 317.2 556.7 317.5 557.2 317.7 557.7 318 558.3 318.2 558.8 318.4 559.3 318.5 559.8 318.7 560.3 318.8 560.8 319 561.4 319.1 561.9 319.2 562.4 319.3 562.9 319.4 563.4 319.5 563.9 319.6 564.5 319.6 565 319.7 565.5 319.7 566 319.8 566.5 319.8 567 319.9 567.5 319.9 568.1 320 568.6 320 569.1 320 569.6 320 570.1 320.1 570.6 320.1 571.2 320.1 571.7 320.1 572.2 320.1 572.7 320.2 573.2 320.2 573.7 320.2 574.3 320.2 574.8 320.2 575.3 320.2 575.8 319.3 576.3 315.3 576.8 311 577.4 307 577.9 303.6 578.4 301 578.9 299 579.4 297.7 579.9 297 580.4 296.7 581 296.8 581.5 297.1 582 297.7 582.5 298.3 583 299.1 583.5 300 584.1 300.9 584.6 301.8 585.1 302.8 585.6 303.8 586.1 304.7 586.6 305.7 587.2 306.6 587.7 307.5 588.2 308.3 588.7 309.1 589.2 309.9 589.7 310.7 590.3 311.4 590.8 312 591.3 312.7 591.8 313.2 592.3 313.8 592.8 314.3 593.4 314.8 593.9 315.2 594.4 315.6 594.9 316 595.4 316.4 595.9 316.7 596.4 317 597 317.3 597.5 317.5 598 317.8 598.5 318 599 318.2 599.5 318.4 600.1 318.5 600.6 318.7 601.1 318.8 601.6 319 602.1 319.1 602.6 319.2 603.2 319.3 603.7 319.4 604.2 319.5 604.7 319.5 605.2 319.6 605.7 319.7 606.3 319.7 606.8 319.8 607.3 319.8 607.8 319.9 608.3 319.9 608.8 320 609.3 320 609.9 320 610.4 320 610.9 320.1 611.4 320.1 611.9 320.1 612.4 320.1 613 320.1 613.5 320.2 614 320.2 614.5 320.2 615 320.2 615.5 320.2 616.1 320.2 616.6 320.2 617.1 320.2 617.6 320.2 618.1 320.2 618.6 320.2 619.2 320.3 619.7 320.3 620.2 320.3 620.7 320.3 621.2 320.3 621.7 320.3 622.3 320.3 622.8 320.3 623.3 320.3 623.8 320.3 624.3 320.3 624.8 320.3 625.3 320.3 625.9 320.3 626.4 320.3 626.9 320.2 627.4 319.1 627.9 318 628.4 317.1 629 316.3 629.5 315.7 630 315.1 630.5 314.8 631 314.5 631.5 314.3 632.1 314.2 632.6 314.2 633.1 314.2 633.6 314.3 634.1 314.4 634.6 314.6 635.2 314.8 635.7 315 636.2 315.2 636.7 315.4 637.2 315.7 637.7 315.9 638.2 316.2 638.8 316.4 639.3 316.6 639.8 316.8 640.3 317.1 640.8 317.3 641.3 317.5 641.9 317.7 642.4 317.8 642.9 318 643.4 318.2 643.9 318.3 644.4 318.5 645 318.6 645.5 318.7 646 318.9 646.5 319 647 319.1 647.5 319.2 648.1 319.3 648.6 319.3 649.1 319.4 649.6 319.5 650.1 319.6 650.6 319.6 651.1 319.7 651.7 319.7 652.2 319.8 652.7 319.8 653.2 319.9 653.7 319.9 654.2 319.9 654.8 320 655.3 320 655.8 320 656.3 320 656.8 320.1 657.3 320.1 657.9 320.1 658.4 320.1 658.9 320.1 659.4 320.2 659.9 320.2 660.4 320.2 661 320.2 661.5 320.2 662 320.2 662.5 320.2 663 320.2 663.5 320.2 664.1 320.2 664.6 320.2 665.1 320.2 665.6 320.3 666.1 320.3 666.6 320.3 667.1 320.3 667.7 320.3 668.2 320.3 668.7 320.3 669.2 320.3 669.7 320.3 670.2 320.3 670.8 320.3 671.3 320.3 671.8 320.3 672.3 320.3 672.8 320.3 673.3 320.3 673.9 320.3 674.4 320.3 674.9 320.3 675.4 320.3 675.9 320.3 676.4 320.3 677 320.3 677.5 320.3 678 320.3 678.5 320.3" stroke="#e69f00" stroke-width="0.95" fill="none" stroke-linejoin="round" stroke-opacity="0.9"/>
<path d="M594 266.9H675" stroke="#56b4e9" stroke-width="0.9" stroke-opacity="0.8"/>
<path d="M594 267.4 594.3 267.4 594.5 267.4 594.8 267.4 595.1 267.4 595.4 267.4 595.6 267.4 595.9 267.4 596.2 266.7 596.4 262.5 596.7 255.9 597 248.4 597.3 240.8 597.5 233.8 597.8 227.6 598.1 222.4 598.3 218.3 598.6 215.4 598.9 213.4 599.1 212.4 599.4 212.2 599.7 212.5 600 213 600.2 213.7 600.5 214.6 600.8 215.6 601 216.8 601.3 218.1 601.6 219.5 601.9 220.9 602.1 222.4 602.4 223.9 602.7 225.4 602.9 227 603.2 228.5 603.5 230 603.8 231.5 604 233 604.3 234.4 604.6 235.8 604.8 237.2 605.1 238.6 605.4 239.9 605.6 241.1 605.9 242.4 606.2 243.6 606.5 244.7 606.7 245.8 607 246.9 607.3 247.9 607.5 248.9 607.8 249.8 608.1 250.7 608.4 251.6 608.6 252.4 608.9 253.2 609.2 253.9 609.4 254.6 609.7 255.3 610 256 610.3 256.6 610.5 257.2 610.8 257.7 611.1 258.3 611.3 258.8 611.6 259.2 611.9 259.7 612.2 260.1 612.4 260.5 612.7 260.9 613 261.3 613.2 261.6 613.5 262 613.8 262.3 614 262.6 614.3 262.9 614.6 263.1 614.9 263.4 615.1 263.6 615.4 263.8 615.7 264 615.9 264.2 616.2 264.4 616.5 264.6 616.8 264.8 617 264.9 617.3 265.1 617.6 265.2 617.8 265.3 618.1 265.5 618.4 265.6 618.7 265.7 618.9 265.8 619.2 265.9 619.5 266 619.7 266.1 620 266.1 620.3 266.2 620.5 266.3 620.8 265.8 621.1 261.2 621.4 254.8 621.6 248.2 621.9 242.3 622.2 237.6 622.4 234.1 622.7 231.8 623 230.5 623.3 230.2 623.5 230.4 623.8 230.8 624.1 231.4 624.3 232.1 624.6 232.9 624.9 233.8 625.2 234.8 625.4 235.8 625.7 236.9 626 238 626.2 239.1 626.5 240.1 626.8 241.2 627.1 242.3 627.3 243.4 627.6 244.4 627.9 245.4 628.1 246.4 628.4 247.4 628.7 248.3 628.9 249.2 629.2 250.1 629.5 250.9 629.8 251.7 630 252.5 630.3 253.3 630.6 254 630.8 254.7 631.1 255.3 631.4 256 631.7 256.6 631.9 257.1 632.2 257.7 632.5 258.2 632.7 258.7 633 259.2 633.3 259.6 633.6 260.1 633.8 260.5 634.1 260.8 634.4 261.2 634.6 261.6 634.9 261.9 635.2 262.2 635.4 262.5 635.7 262.8 636 263 636.3 263.3 636.5 263.5 636.8 263.7 637.1 263.9 637.3 264.1 637.6 264.3 637.9 264.5 638.2 264.7 638.4 264.8 638.7 265 639 265.1 639.2 265.3 639.5 265.4 639.8 265.5 640.1 265.6 640.3 265.7 640.6 265.8 640.9 265.9 641.1 266 641.4 266.1 641.7 266.2 641.9 266.2 642.2 266.3 642.5 266.4 642.8 266.4 643 266.5 643.3 266.6 643.6 266.6 643.8 266.7 644.1 266.7 644.4 266.7 644.7 266.8 644.9 266.8 645.2 266.9 645.5 266.9 645.7 266.9 646 266.9 646.3 267 646.6 267 646.8 267 647.1 267.1 647.4 267.1 647.6 267.1 647.9 264.6 648.2 258.1 648.5 250.6 648.7 243.7 649 238.1 649.3 233.9 649.5 231.1 649.8 229.6 650.1 229.3 650.3 229.4 650.6 229.8 650.9 230.4 651.2 231.1 651.4 232 651.7 232.9 652 233.9 652.2 234.9 652.5 236 652.8 237.1 653.1 238.2 653.3 239.3 653.6 240.3 653.9 241.4 654.1 242.5 654.4 243.6 654.7 244.6 655 245.6 655.2 246.6 655.5 247.5 655.8 248.4 656 249.3 656.3 250.2 656.6 251 656.8 251.8 657.1 252.5 657.4 253.3 657.7 254 657.9 254.6 658.2 255.3 658.5 255.9 658.7 256.5 659 257 659.3 257.6 659.6 258.1 659.8 258.6 660.1 259 660.4 259.5 660.6 259.9 660.9 260.3 661.2 260.7 661.5 261.1 661.7 261.4 662 261.7 662.3 262 662.5 262.3 662.8 262.6 663.1 262.9 663.4 263.1 663.6 263.4 663.9 263.6 664.2 263.8 664.4 264 664.7 264.2 665 264.4 665.2 264.5 665.5 264.7 665.8 264.8 666.1 265 666.3 265.1 666.6 265.3 666.9 265.4 667.1 265.5 667.4 265.6 667.7 265.7 668 265.8 668.2 265.9 668.5 266 668.8 266.1 669 266.1 669.3 266.2 669.6 266.3 669.9 266.3 670.1 266.4 670.4 266.5 670.7 266.5 670.9 266.6 671.2 266.6 671.5 266.7 671.7 266.7 672 266.7 672.3 266.8 672.6 266.8 672.8 266.9 673.1 266.9 673.4 266.9 673.6 266.9 673.9 267 674.2 267 674.5 267 674.7 267 675 267.1" stroke="#e69f00" stroke-width="1.0" fill="none" stroke-linejoin="round" stroke-opacity="0.85"/>
<path d="M524.2 320.3 524.4 313.2 524.5 306.2 524.7 299.4 524.9 293 525.1 287 525.2 281.4 525.4 276.4 525.6 272 525.7 268.1 525.9 264.4 526.1 260.8 526.2 257.4 526.4 254.2 526.6 251.1 526.8 248.2 526.9 245.5 527.1 242.9 527.3 240.6 527.4 238.4 527.6 236.4 527.8 234.6 527.9 233 528.1 231.4 528.3 230 528.5 228.6 528.6 227.3 528.8 226.1 529 224.9 529.1 223.7 529.3 222.6 529.5 221.6 529.6 220.6 529.8 219.7 530 218.8 530.2 217.9 530.3 217.1 530.5 216.3 530.7 215.5 530.8 214.8 531 214.1 531.2 213.4 531.4 212.7 531.5 212.1 531.7 211.4 531.9 210.8 532 210.2 532.2 209.6 532.4 209 532.5 208.4 532.7 207.8 532.9 207.3 533.1 206.8 533.2 206.3 533.4 205.8 533.6 205.4 533.7 204.9 533.9 204.5 534.1 204.1 534.2 203.7 534.4 203.3 534.6 203 534.8 202.7 534.9 202.4 535.1 202.1 535.3 201.8 535.4 201.5 535.6 201.2 535.8 200.9 536 200.6 536.1 200.3 536.3 200 536.5 199.7 536.6 199.5 536.8 199.2 537 199 537.1 198.7 537.3 198.5 537.5 198.2 537.7 198 537.8 197.8 538 197.6 538.2 197.4 538.3 197.2 538.5 197.1 538.7 196.9 538.8 196.8 539 196.7 539.2 196.6 539.4 196.5 539.5 196.5 539.7 196.4 539.9 196.4 540 196.4 540.2 196.4 540.4 196.4 540.5 196.5 540.7 196.5 540.9 196.6 541.1 196.6 541.2 196.7 541.4 196.8 541.6 196.9 541.7 197 541.9 197.1 542.1 197.2 542.3 197.3 542.4 197.4 542.6 197.5 542.8 197.6 542.9 197.7 543.1 197.9 543.3 198 543.4 198.1 543.6 198.2 543.8 198.3 544 198.5 544.1 198.6 544.3 198.7 544.5 198.9 544.6 199 544.8 199.2 545 199.3 545.1 199.5 545.3 199.8 545.5 200 545.7 200.3 545.8 200.6 546 201.2 546.2 202.2 546.3 203.4 546.5 205 546.7 206.7 546.8 208.6 547 210.6 547.2 212.7 547.4 214.8 547.5 216.9 547.7 218.9 547.9 220.8 548 222.5 548.2 224.2 548.4 226 548.6 227.8 548.7 229.7 548.9 231.5 549.1 233.4 549.2 235.2 549.4 237.1 549.6 238.9 549.7 240.8 549.9 242.5 550.1 244.3 550.3 246 550.4 247.6 550.6 249.2 550.8 250.7 550.9 252.2 551.1 253.5 551.3 254.9 551.4 256.1 551.6 257.4 551.8 258.7 552 259.9 552.1 261.1 552.3 262.2 552.5 263.4 552.6 264.5 552.8 265.6 553 266.7 553.2 267.7 553.3 268.8 553.5 269.8 553.7 270.8 553.8 271.8 554 272.8 554.2 273.7 554.3 274.6 554.5 275.5 554.7 276.4 554.9 277.3 555 278.2 555.2 279 555.4 279.9 555.5 280.7 555.7 281.5 555.9 282.4 556 283.2 556.2 284 556.4 284.8 556.6 285.6 556.7 286.3 556.9 287.1 557.1 287.9 557.2 288.6 557.4 289.4 557.6 290.1 557.7 290.8 557.9 291.5 558.1 292.2 558.3 292.8 558.4 293.5 558.6 294.1 558.8 294.7 558.9 295.4 559.1 295.9 559.3 296.5 559.5 297.1 559.6 297.6 559.8 298.1 560 298.7 560.1 299.1 560.3 299.6 560.5 300.1 560.6 300.5 560.8 301 561 301.4 561.2 301.9 561.3 302.3 561.5 302.7 561.7 303.2 561.8 303.6 562 304 562.2 304.4 562.3 304.8 562.5 305.2 562.7 305.5 562.9 305.9 563 306.3 563.2 306.6 563.4 307 563.5 307.3 563.7 307.7 563.9 308 564 308.3 564.2 308.7 564.4 309 564.6 309.3 564.7 309.6 564.9 309.9 565.1 310.1 565.2 310.4 565.4 310.7 565.6 310.9 565.8 311.2 565.9 311.4 566.1 311.7 566.3 311.9 566.4 312.1 566.6 312.3 566.8 312.5 566.9 312.7 567.1 312.9 567.3 313.1 567.5 313.3 567.6 313.5 567.8 313.7 568 313.8 568.1 314 568.3 314.2 568.5 314.3 568.6 314.5 568.8 314.7 569 314.8 569.2 315 569.3 315.1 569.5 315.3 569.7 315.4 569.8 315.6 570 315.7 570.2 315.8 570.4 316 570.5 316.1 570.7 316.2 570.9 316.4 571 316.5 571.2 316.7 571.4 316.8 571.5 316.9 571.7 317.1 571.9 317.2 572.1 317.3 572.2 317.5 572.4 317.6 572.6 317.8 572.7 317.9 572.9 318 573.1 318.2 573.2 318.3 573.4 318.5 573.6 318.6 573.8 318.8 573.9 319 574.1 319.1 574.3 319.3 574.4 319.4 574.6 319.6 574.8 319.7 574.9 319.9 575.1 320" stroke="#9400d3" stroke-width="1.2" fill="none" stroke-linejoin="round" stroke-opacity="0.7"/>
<path d="M575.3 320 575.4 314 575.6 308.2 575.8 302.5 576 297 576.1 291.7 576.3 286.6 576.5 281.7 576.6 277.1 576.8 272.7 577 268.5 577.2 264.6 577.3 261 577.5 257.7 577.7 254.7 577.9 251.9 578 249.2 578.2 246.7 578.4 244.2 578.5 241.9 578.7 239.6 578.9 237.6 579.1 235.7 579.2 234.1 579.4 232.6 579.6 231.3 579.7 230.3 579.9 229.5 580.1 228.7 580.3 227.9 580.4 227.2 580.6 226.5 580.8 225.8 580.9 225.2 581.1 224.6 581.3 224 581.5 223.5 581.6 223 581.8 222.5 582 222.1 582.1 221.6 582.3 221.2 582.5 220.8 582.7 220.4 582.8 220.1 583 219.7 583.2 219.4 583.4 219.1 583.5 218.8 583.7 218.5 583.9 218.2 584 217.9 584.2 217.6 584.4 217.3 584.6 217 584.7 216.8 584.9 216.5 585.1 216.3 585.2 216 585.4 215.8 585.6 215.5 585.8 215.3 585.9 215.1 586.1 214.8 586.3 214.6 586.4 214.4 586.6 214.2 586.8 214 587 213.8 587.1 213.6 587.3 213.4 587.5 213.3 587.6 213.1 587.8 212.9 588 212.8 588.2 212.6 588.3 212.5 588.5 212.3 588.7 212.2 588.8 212.1 589 212 589.2 211.9 589.4 211.8 589.5 211.6 589.7 211.5 589.9 211.4 590.1 211.3 590.2 211.3 590.4 211.2 590.6 211.1 590.7 211 590.9 210.9 591.1 210.8 591.3 210.7 591.4 210.6 591.6 210.5 591.8 210.4 591.9 210.4 592.1 210.3 592.3 210.2 592.5 210.1 592.6 210.1 592.8 210 593 210 593.1 209.9 593.3 209.9 593.5 209.8 593.7 209.8 593.8 209.8 594 209.8 594.2 209.8 594.3 209.7 594.5 209.7 594.7 209.8 594.9 209.8 595 209.8 595.2 209.9 595.4 209.9 595.6 210 595.7 210.1 595.9 210.2 596.1 210.3 596.2 210.4 596.4 210.6 596.6 210.9 596.8 211.6 596.9 212.6 597.1 213.8 597.3 215.2 597.4 216.7 597.6 218.4 597.8 220.1 598 221.7 598.1 223.3 598.3 224.8 598.5 226.2 598.6 227.8 598.8 229.4 599 231 599.2 232.7 599.3 234.4 599.5 236.2 599.7 237.9 599.8 239.6 600 241.4 600.2 243.1 600.4 244.8 600.5 246.5 600.7 248.1 600.9 249.7 601.1 251.2 601.2 252.6 601.4 254 601.6 255.3 601.7 256.6 601.9 257.9 602.1 259.2 602.3 260.5 602.4 261.8 602.6 263.1 602.8 264.3 602.9 265.5 603.1 266.7 603.3 267.9 603.5 269 603.6 270.1 603.8 271.2 604 272.3 604.1 273.3 604.3 274.3 604.5 275.3 604.7 276.2 604.8 277.1 605 278 605.2 278.8 605.3 279.5 605.5 280.3 605.7 281.1 605.9 281.8 606 282.5 606.2 283.2 606.4 283.9 606.5 284.6 606.7 285.3 606.9 285.9 607.1 286.6 607.2 287.2 607.4 287.9 607.6 288.5 607.8 289.1 607.9 289.7 608.1 290.2 608.3 290.8 608.4 291.4 608.6 291.9 608.8 292.4 609 293 609.1 293.5 609.3 294 609.5 294.5 609.6 295 609.8 295.4 610 295.9 610.2 296.4 610.3 296.8 610.5 297.2 610.7 297.7 610.8 298.1 611 298.5 611.2 298.9 611.4 299.3 611.5 299.7 611.7 300.1 611.9 300.5 612 300.8 612.2 301.2 612.4 301.6 612.6 302 612.7 302.3 612.9 302.7 613.1 303 613.3 303.4 613.4 303.7 613.6 304 613.8 304.4 613.9 304.7 614.1 305 614.3 305.3 614.5 305.7 614.6 306 614.8 306.3 615 306.6 615.1 306.9 615.3 307.2 615.5 307.5 615.7 307.7 615.8 308 616 308.3 616.2 308.6 616.3 308.8 616.5 309.1 616.7 309.4 616.9 309.6 617 309.9 617.2 310.1 617.4 310.4 617.5 310.6 617.7 310.9 617.9 311.1 618.1 311.3 618.2 311.5 618.4 311.8 618.6 312 618.8 312.2 618.9 312.4 619.1 312.6 619.3 312.8 619.4 313 619.6 313.2 619.8 313.5 620 313.7 620.1 313.9 620.3 314.1 620.5 314.3 620.6 314.5 620.8 314.7 621 314.8 621.2 315 621.3 315.2 621.5 315.4 621.7 315.6 621.8 315.8 622 316 622.2 316.1 622.4 316.3 622.5 316.5 622.7 316.7 622.9 316.8 623 317 623.2 317.2 623.4 317.3 623.6 317.5 623.7 317.6 623.9 317.8 624.1 317.9 624.2 318.1 624.4 318.2 624.6 318.4 624.8 318.5 624.9 318.6 625.1 318.7 625.3 318.9 625.5 319 625.6 319.1 625.8 319.2 626 319.3 626.1 319.4 626.3 319.5 626.5 319.6 626.7 319.7" stroke="#9400d3" stroke-width="1.2" fill="none" stroke-linejoin="round" stroke-opacity="0.7"/>
<path d="M626.7 319.7 626.8 314.6 627 309.7 627.2 304.9 627.3 300.2 627.5 295.8 627.7 291.6 627.9 287.7 628 284 628.2 280.5 628.4 277.4 628.6 274.6 628.7 272 628.9 269.6 629.1 267.4 629.3 265.3 629.4 263.3 629.6 261.5 629.8 259.7 629.9 258.1 630.1 256.6 630.3 255.2 630.5 253.9 630.6 252.7 630.8 251.6 631 250.4 631.2 249.4 631.3 248.3 631.5 247.3 631.7 246.3 631.9 245.3 632 244.4 632.2 243.5 632.4 242.6 632.6 241.8 632.7 240.9 632.9 240.2 633.1 239.4 633.2 238.7 633.4 238 633.6 237.3 633.8 236.7 633.9 236.1 634.1 235.5 634.3 234.9 634.5 234.4 634.6 233.9 634.8 233.4 635 232.9 635.2 232.4 635.3 232 635.5 231.5 635.7 231.1 635.8 230.7 636 230.2 636.2 229.8 636.4 229.4 636.5 229.1 636.7 228.7 636.9 228.3 637.1 228 637.2 227.6 637.4 227.3 637.6 226.9 637.8 226.6 637.9 226.3 638.1 226 638.3 225.7 638.4 225.4 638.6 225.1 638.8 224.8 639 224.5 639.1 224.2 639.3 223.9 639.5 223.7 639.7 223.4 639.8 223.1 640 222.9 640.2 222.6 640.4 222.3 640.5 222.1 640.7 221.9 640.9 221.6 641 221.4 641.2 221.2 641.4 220.9 641.6 220.7 641.7 220.5 641.9 220.3 642.1 220.1 642.3 219.9 642.4 219.7 642.6 219.5 642.8 219.3 643 219.1 643.1 218.9 643.3 218.7 643.5 218.5 643.6 218.3 643.8 218.2 644 218 644.2 217.8 644.3 217.6 644.5 217.4 644.7 217.3 644.9 217.1 645 216.9 645.2 216.7 645.4 216.5 645.6 216.3 645.7 216.2 645.9 216 646.1 215.8 646.2 215.6 646.4 215.4 646.6 215.2 646.8 214.9 646.9 214.7 647.1 214.4 647.3 214.2 647.5 213.9 647.6 213.7 647.8 213.4 648 213.2 648.2 213 648.3 212.9 648.5 212.7 648.7 212.6 648.8 212.5 649 212.5 649.2 212.6 649.4 212.8 649.5 213.1 649.7 213.4 649.9 213.9 650.1 214.3 650.2 215 650.4 216.1 650.6 217.6 650.8 219.4 650.9 221.4 651.1 223.6 651.3 225.9 651.5 228.2 651.6 230.4 651.8 232.5 652 234.3 652.1 236 652.3 237.7 652.5 239.4 652.7 241.1 652.8 242.7 653 244.4 653.2 246.1 653.4 247.8 653.5 249.4 653.7 251 653.9 252.6 654.1 254.2 654.2 255.8 654.4 257.3 654.6 258.8 654.7 260.2 654.9 261.6 655.1 263 655.3 264.3 655.4 265.6 655.6 266.8 655.8 268 656 269.1 656.1 270.2 656.3 271.2 656.5 272.3 656.7 273.3 656.8 274.3 657 275.3 657.2 276.3 657.3 277.3 657.5 278.3 657.7 279.2 657.9 280.2 658 281.1 658.2 282 658.4 282.9 658.6 283.7 658.7 284.6 658.9 285.4 659.1 286.2 659.3 287 659.4 287.8 659.6 288.6 659.8 289.3 659.9 290 660.1 290.7 660.3 291.4 660.5 292.1 660.6 292.8 660.8 293.4 661 294 661.2 294.6 661.3 295.2 661.5 295.7 661.7 296.2 661.9 296.7 662 297.2 662.2 297.7 662.4 298.2 662.5 298.7 662.7 299.2 662.9 299.6 663.1 300.1 663.2 300.5 663.4 301 663.6 301.4 663.8 301.8 663.9 302.3 664.1 302.7 664.3 303.1 664.5 303.5 664.6 303.9 664.8 304.3 665 304.7 665.1 305 665.3 305.4 665.5 305.8 665.7 306.1 665.8 306.5 666 306.8 666.2 307.2 666.4 307.5 666.5 307.8 666.7 308.1 666.9 308.4 667.1 308.7 667.2 309 667.4 309.3 667.6 309.6 667.7 309.9 667.9 310.1 668.1 310.4 668.3 310.6 668.4 310.9 668.6 311.1 668.8 311.3 669 311.6 669.1 311.8 669.3 312 669.5 312.2 669.7 312.4 669.8 312.5 670 312.7 670.2 312.9 670.4 313.1 670.5 313.3 670.7 313.4 670.9 313.6 671 313.8 671.2 313.9 671.4 314.1 671.6 314.3 671.7 314.4 671.9 314.6 672.1 314.7 672.3 314.9 672.4 315 672.6 315.2 672.8 315.3 673 315.5 673.1 315.6 673.3 315.8 673.5 315.9 673.6 316 673.8 316.1 674 316.3 674.2 316.4 674.3 316.5 674.5 316.6 674.7 316.7 674.9 316.8 675 316.9 675.2 317 675.4 317.1 675.6 317.2 675.7 317.3 675.9 317.4 676.1 317.5 676.2 317.6 676.4 317.7 676.6 317.8 676.8 317.8 676.9 317.9 677.1 318 677.3 318 677.5 318.1 677.6 318.1 677.8 318.2 678 318.2 678.2 318.3 678.3 318.3 678.5 318.4" stroke="#9400d3" stroke-width="1.2" fill="none" stroke-linejoin="round" stroke-opacity="0.7"/>
<rect x="521.6" y="351.8" width="154.2" height="124.8" fill="none" stroke="#c4c4c4" stroke-width="0.7"/>
<path d="M521.6 476.6v-1.8M521.6 351.8v1.8M537.02 476.6v-1.8M537.02 351.8v1.8M552.44 476.6v-1.8M552.44 351.8v1.8M567.86 476.6v-1.8M567.86 351.8v1.8M583.28 476.6v-1.8M583.28 351.8v1.8M598.7 476.6v-1.8M598.7 351.8v1.8M614.12 476.6v-1.8M614.12 351.8v1.8M629.54 476.6v-1.8M629.54 351.8v1.8M644.96 476.6v-1.8M644.96 351.8v1.8M660.38 476.6v-1.8M660.38 351.8v1.8M675.8 476.6v-1.8M675.8 351.8v1.8M521.6 476.6h1.8M675.8 476.6h-1.8M521.6 462.73h1.8M675.8 462.73h-1.8M521.6 448.87h1.8M675.8 448.87h-1.8M521.6 435h1.8M675.8 435h-1.8M521.6 421.13h1.8M675.8 421.13h-1.8M521.6 407.27h1.8M675.8 407.27h-1.8M521.6 393.4h1.8M675.8 393.4h-1.8M521.6 379.53h1.8M675.8 379.53h-1.8M521.6 365.67h1.8M675.8 365.67h-1.8M521.6 351.8h1.8M675.8 351.8h-1.8" stroke="#c4c4c4" stroke-width="0.6" fill="none"/>
<text x="517.8" y="479.1" font-size="5.6" text-anchor="end">0</text>
<text x="517.8" y="465.23" font-size="5.6" text-anchor="end">50000</text>
<text x="517.8" y="451.37" font-size="5.6" text-anchor="end">100000</text>
<text x="517.8" y="437.5" font-size="5.6" text-anchor="end">150000</text>
<text x="517.8" y="423.63" font-size="5.6" text-anchor="end">200000</text>
<text x="517.8" y="409.77" font-size="5.6" text-anchor="end">250000</text>
<text x="517.8" y="395.9" font-size="5.6" text-anchor="end">300000</text>
<text x="517.8" y="382.03" font-size="5.6" text-anchor="end">350000</text>
<text x="517.8" y="368.17" font-size="5.6" text-anchor="end">400000</text>
<text x="517.8" y="354.3" font-size="5.6" text-anchor="end">450000</text>
<text x="521.6" y="484.9" font-size="5.6" text-anchor="middle">0</text>
<text x="537.02" y="484.9" font-size="5.6" text-anchor="middle">10</text>
<text x="552.44" y="484.9" font-size="5.6" text-anchor="middle">20</text>
<text x="567.86" y="484.9" font-size="5.6" text-anchor="middle">30</text>
<text x="583.28" y="484.9" font-size="5.6" text-anchor="middle">40</text>
<text x="598.7" y="484.9" font-size="5.6" text-anchor="middle">50</text>
<text x="614.12" y="484.9" font-size="5.6" text-anchor="middle">60</text>
<text x="629.54" y="484.9" font-size="5.6" text-anchor="middle">70</text>
<text x="644.96" y="484.9" font-size="5.6" text-anchor="middle">80</text>
<text x="660.38" y="484.9" font-size="5.6" text-anchor="middle">90</text>
<text x="675.8" y="484.9" font-size="5.6" text-anchor="middle">100</text>
<text x="598.7" y="493.4" font-size="5.6" text-anchor="middle">days</text>
<text transform="translate(493.3,414.2) rotate(-90)" font-size="5.6" text-anchor="middle">ng/mL</text>
<rect x="591.6" y="359.4" width="80.8" height="64.4" fill="none" stroke="#c4c4c4" stroke-width="0.6"/>
<path d="M591.6 423.8v-1.5M591.6 359.4v1.5M599.68 423.8v-1.5M599.68 359.4v1.5M607.76 423.8v-1.5M607.76 359.4v1.5M615.84 423.8v-1.5M615.84 359.4v1.5M623.92 423.8v-1.5M623.92 359.4v1.5M632 423.8v-1.5M632 359.4v1.5M640.08 423.8v-1.5M640.08 359.4v1.5M648.16 423.8v-1.5M648.16 359.4v1.5M656.24 423.8v-1.5M656.24 359.4v1.5M664.32 423.8v-1.5M664.32 359.4v1.5M672.4 423.8v-1.5M672.4 359.4v1.5M591.6 423.8h1.5M672.4 423.8h-1.5M591.6 413.07h1.5M672.4 413.07h-1.5M591.6 402.33h1.5M672.4 402.33h-1.5M591.6 391.6h1.5M672.4 391.6h-1.5M591.6 380.87h1.5M672.4 380.87h-1.5M591.6 370.13h1.5M672.4 370.13h-1.5M591.6 359.4h1.5M672.4 359.4h-1.5" stroke="#c4c4c4" stroke-width="0.6" fill="none"/>
<text x="588.2" y="425.8" font-size="5.5" text-anchor="end">0</text>
<text x="588.2" y="415.07" font-size="5.5" text-anchor="end">100000</text>
<text x="588.2" y="404.33" font-size="5.5" text-anchor="end">200000</text>
<text x="588.2" y="393.6" font-size="5.5" text-anchor="end">300000</text>
<text x="588.2" y="382.87" font-size="5.5" text-anchor="end">400000</text>
<text x="588.2" y="372.13" font-size="5.5" text-anchor="end">500000</text>
<text x="588.2" y="361.4" font-size="5.5" text-anchor="end">600000</text>
<text x="591.6" y="432.1" font-size="5.5" text-anchor="middle">0</text>
<text x="599.68" y="432.1" font-size="5.5" text-anchor="middle">10</text>
<text x="607.76" y="432.1" font-size="5.5" text-anchor="middle">20</text>
<text x="615.84" y="432.1" font-size="5.5" text-anchor="middle">30</text>
<text x="623.92" y="432.1" font-size="5.5" text-anchor="middle">40</text>
<text x="632" y="432.1" font-size="5.5" text-anchor="middle">50</text>
<text x="640.08" y="432.1" font-size="5.5" text-anchor="middle">60</text>
<text x="648.16" y="432.1" font-size="5.5" text-anchor="middle">70</text>
<text x="656.24" y="432.1" font-size="5.5" text-anchor="middle">80</text>
<text x="664.32" y="432.1" font-size="5.5" text-anchor="middle">90</text>
<text x="672.4" y="432.1" font-size="5.5" text-anchor="middle">100</text>
<text x="540.2" y="359.17" font-size="5.2" text-anchor="end">IFN-g</text>
<path d="M543.2 357.3H558" stroke="#9400d3" stroke-width="1.5" stroke-opacity="0.55"/>
<text x="540.2" y="365.14" font-size="5.2" text-anchor="end">IL-4</text>
<path d="M543.2 363.27H558" stroke="#009e73" stroke-width="1.5" stroke-opacity="0.5"/>
<text x="540.2" y="371.11" font-size="5.2" text-anchor="end">IL-12</text>
<path d="M543.2 369.24H558" stroke="#56b4e9" stroke-width="1.5" stroke-opacity="0.4"/>
<text x="540.2" y="377.08" font-size="5.2" text-anchor="end">TGF-b</text>
<path d="M543.2 375.21H558" stroke="#e69f00" stroke-width="1.5" stroke-opacity="0.55"/>
<text x="540.2" y="383.05" font-size="5.2" text-anchor="end">TNF-a</text>
<path d="M543.2 381.18H558" stroke="#e51e10" stroke-width="1.5" stroke-opacity="0.6"/>
<text x="540.2" y="389.02" font-size="5.2" text-anchor="end">IL-10</text>
<path d="M543.2 387.15H558" stroke="#3c3c3c" stroke-width="0.8" stroke-opacity="0.6"/>
<text x="540.2" y="394.99" font-size="5.2" text-anchor="end">IL-6</text>
<path d="M543.2 393.12H558" stroke="#9400d3" stroke-width="0.8" stroke-opacity="0.6"/>
<text x="540.2" y="400.96" font-size="5.2" text-anchor="end">IFN-b</text>
<path d="M543.2 399.09H558" stroke="#009e73" stroke-width="0.8" stroke-opacity="0.5"/>
<text x="540.2" y="406.93" font-size="5.2" text-anchor="end">IL-18</text>
<path d="M543.2 405.06H558" stroke="#56b4e9" stroke-width="0.8" stroke-opacity="0.4"/>
<text x="540.2" y="412.9" font-size="5.2" text-anchor="end">IL-23</text>
<path d="M543.2 411.03H558" stroke="#e69f00" stroke-width="0.8" stroke-opacity="0.6"/>
<text x="606.6" y="366.37" font-size="5.2" text-anchor="end">D</text>
<path d="M609.8 364.5H624.8" stroke="#56b4e9" stroke-width="0.9" stroke-opacity="1.0"/>
<text x="606.6" y="372.47" font-size="5.2" text-anchor="end">IL-2</text>
<path d="M609.8 370.6H624.8" stroke="#e69f00" stroke-width="1.0" stroke-opacity="1.0"/>
<path d="M521.6 476.3H675.8" stroke="#b0603a" stroke-width="1.0" stroke-opacity="0.8"/>
<path d="M521.6 476.6 522.1 475.2 522.6 474.2 523.1 473.4 523.7 472.7 524.2 472.2 524.7 471.7 525.2 471.2 525.7 470.9 526.2 470.6 526.8 470.3 527.3 470 527.8 469.9 528.3 469.7 528.8 469.6 529.3 469.4 529.9 469.4 530.4 469.3 530.9 469.3 531.4 469.2 531.9 469.2 532.4 469.2 532.9 469.3 533.5 469.5 534 469.6 534.5 469.8 535 470.1 535.5 470.3 536 470.6 536.6 470.9 537.1 471.1 537.6 471.4 538.1 471.7 538.6 472 539.1 472.3 539.7 472.6 540.2 472.9 540.7 473.1 541.2 473.4 541.7 473.6 542.2 473.8 542.7 474 543.3 474.2 543.8 474.4 544.3 474.6 544.8 474.8 545.3 474.9 545.8 475.1 546.4 475.2 546.9 475.3 547.4 475.5 547.9 475.6 548.4 475.7 548.9 475.7 549.4 475.8 550 475.9 550.5 476 551 476 551.5 476.1 552 476.1 552.5 476.2 553.1 476.2 553.6 476.3 554.1 476.3 554.6 476.3 555.1 476.4 555.6 476.4 556.2 476.4 556.7 476.4 557.2 476.4 557.7 476.5 558.2 476.5 558.7 476.5 559.2 476.5 559.8 476.5 560.3 476.5 560.8 476.5 561.3 476.5 561.8 476.5 562.3 476.6 562.9 476.6 563.4 476.6 563.9 476.6 564.4 476.6 564.9 476.6 565.4 476.6 566 476.6 566.5 476.6 567 476.6 567.5 476.6 568 476.6 568.5 476.6 569 476.6 569.6 476.6 570.1 476.6 570.6 476.6 571.1 476.6 571.6 476.6 572.1 476.6 572.7 475.7 573.2 473.5 573.7 471.8 574.2 470.4 574.7 469.4 575.2 468.7 575.8 468.2 576.3 467.9 576.8 467.7 577.3 467.7 577.8 467.8 578.3 468 578.8 468.2 579.4 468.4 579.9 468.7 580.4 469 580.9 469.4 581.4 469.7 581.9 470.1 582.5 470.4 583 470.7 583.5 471.1 584 471.4 584.5 471.7 585 472 585.5 472.3 586.1 472.6 586.6 472.9 587.1 473.1 587.6 473.4 588.1 473.6 588.6 473.8 589.2 474 589.7 474.2 590.2 474.4 590.7 474.5 591.2 474.7 591.7 474.8 592.3 475 592.8 475.1 593.3 475.2 593.8 475.3 594.3 475.4 594.8 475.5 595.3 475.6 595.9 475.7 596.4 475.7 596.9 475.8 597.4 475.9 597.9 475.9 598.4 476 599 476 599.5 476.1 600 476.1 600.5 476.2 601 476.2 601.5 476.2 602.1 476.3 602.6 476.3 603.1 476.3 603.6 476.3 604.1 476.4 604.6 476.4 605.1 476.4 605.7 476.4 606.2 476.4 606.7 476.4 607.2 476.5 607.7 476.5 608.2 476.5 608.8 476.5 609.3 476.5 609.8 476.5 610.3 476.5 610.8 476.5 611.3 476.5 611.9 476.5 612.4 476.5 612.9 476.5 613.4 476.6 613.9 476.6 614.4 476.6 614.9 476.6 615.5 476.6 616 476.6 616.5 476.6 617 476.6 617.5 476.6 618 476.6 618.6 476.6 619.1 476.6 619.6 476.6 620.1 476.6 620.6 476.6 621.1 476.6 621.6 476.6 622.2 476.6 622.7 476.6 623.2 476.6 623.7 476.6 624.2 476.6 624.7 476.1 625.3 474.5 625.8 473.3 626.3 472.2 626.8 471.4 627.3 470.7 627.8 470.2 628.4 469.9 628.9 469.6 629.4 469.5 629.9 469.4 630.4 469.4 630.9 469.5 631.4 469.6 632 469.7 632.5 469.9 633 470.1 633.5 470.3 634 470.6 634.5 470.8 635.1 471.1 635.6 471.3 636.1 471.6 636.6 471.9 637.1 472.1 637.6 472.4 638.2 472.6 638.7 472.8 639.2 473 639.7 473.3 640.2 473.5 640.7 473.7 641.2 473.9 641.8 474 642.3 474.2 642.8 474.4 643.3 474.5 643.8 474.7 644.3 474.8 644.9 474.9 645.4 475 645.9 475.1 646.4 475.2 646.9 475.3 647.4 475.4 648 475.5 648.5 475.6 649 475.7 649.5 475.7 650 475.8 650.5 475.9 651 475.9 651.6 476 652.1 476 652.6 476.1 653.1 476.1 653.6 476.1 654.1 476.2 654.7 476.2 655.2 476.2 655.7 476.3 656.2 476.3 656.7 476.3 657.2 476.3 657.7 476.4 658.3 476.4 658.8 476.4 659.3 476.4 659.8 476.4 660.3 476.4 660.8 476.5 661.4 476.5 661.9 476.5 662.4 476.5 662.9 476.5 663.4 476.5 663.9 476.5 664.5 476.5 665 476.5 665.5 476.5 666 476.5 666.5 476.5 667 476.5 667.5 476.6 668.1 476.6 668.6 476.6 669.1 476.6 669.6 476.6 670.1 476.6 670.6 476.6 671.2 476.6 671.7 476.6 672.2 476.6 672.7 476.6 673.2 476.6 673.7 476.6 674.3 476.6 674.8 476.6 675.3 476.6 675.8 476.6" stroke="#56b4e9" stroke-width="0.9" fill="none" stroke-linejoin="round" stroke-opacity="0.85"/>
<path d="M521.6 476.6 522.1 476.6 522.6 476.6 523.1 476.6 523.7 476.6 524.2 476.6 524.7 476.6 525.2 476.6 525.7 475.1 526.2 471.7 526.8 468.8 527.3 466.4 527.8 464.5 528.3 463 528.8 462.1 529.3 461.4 529.9 461.1 530.4 461.1 530.9 461.2 531.4 461.4 531.9 461.7 532.4 462.1 532.9 462.6 533.5 463.1 534 463.6 534.5 464.2 535 464.8 535.5 465.3 536 465.9 536.6 466.4 537.1 467 537.6 467.5 538.1 468 538.6 468.5 539.1 469 539.7 469.5 540.2 469.9 540.7 470.3 541.2 470.7 541.7 471.1 542.2 471.5 542.7 471.8 543.3 472.1 543.8 472.4 544.3 472.7 544.8 473 545.3 473.2 545.8 473.5 546.4 473.7 546.9 473.9 547.4 474.1 547.9 474.3 548.4 474.5 548.9 474.6 549.4 474.8 550 474.9 550.5 475 551 475.1 551.5 475.2 552 475.3 552.5 475.4 553.1 475.5 553.6 475.6 554.1 475.7 554.6 475.8 555.1 475.8 555.6 475.9 556.2 475.9 556.7 476 557.2 476 557.7 476.1 558.2 476.1 558.7 476.2 559.2 476.2 559.8 476.2 560.3 476.3 560.8 476.3 561.3 476.3 561.8 476.3 562.3 476.4 562.9 476.4 563.4 476.4 563.9 476.4 564.4 476.4 564.9 476.4 565.4 476.4 566 476.5 566.5 476.5 567 476.5 567.5 476.5 568 476.5 568.5 476.5 569 476.5 569.6 476.5 570.1 476.5 570.6 476.5 571.1 476.5 571.6 476.5 572.1 476.6 572.7 475.5 573.2 471.8 573.7 468.7 574.2 466.3 574.7 464.7 575.2 463.6 575.8 463.1 576.3 463 576.8 463.2 577.3 463.5 577.8 463.9 578.3 464.5 578.8 465 579.4 465.7 579.9 466.3 580.4 467 580.9 467.6 581.4 468.3 581.9 468.9 582.5 469.5 583 470 583.5 470.5 584 471 584.5 471.5 585 471.9 585.5 472.3 586.1 472.7 586.6 473.1 587.1 473.4 587.6 473.7 588.1 473.9 588.6 474.2 589.2 474.4 589.7 474.6 590.2 474.8 590.7 475 591.2 475.1 591.7 475.3 592.3 475.4 592.8 475.5 593.3 475.6 593.8 475.7 594.3 475.8 594.8 475.9 595.3 476 595.9 476 596.4 476.1 596.9 476.1 597.4 476.2 597.9 476.2 598.4 476.3 599 476.3 599.5 476.3 600 476.4 600.5 476.4 601 476.4 601.5 476.4 602.1 476.4 602.6 476.5 603.1 476.5 603.6 476.5 604.1 476.5 604.6 476.5 605.1 476.5 605.7 476.5 606.2 476.5 606.7 476.5 607.2 476.6 607.7 476.6 608.2 476.6 608.8 476.6 609.3 476.6 609.8 476.6 610.3 476.6 610.8 476.6 611.3 476.6 611.9 476.6 612.4 476.6 612.9 476.6 613.4 476.6 613.9 476.6 614.4 476.6 614.9 476.6 615.5 476.6 616 476.6 616.5 476.6 617 476.6 617.5 476.6 618 476.6 618.6 476.6 619.1 476.6 619.6 476.6 620.1 476.6 620.6 476.6 621.1 476.6 621.6 476.6 622.2 476.6 622.7 476.6 623.2 476.6 623.7 476.6 624.2 476.6 624.7 476.5 625.3 475.8 625.8 475.1 626.3 474.6 626.8 474.1 627.3 473.8 627.8 473.6 628.4 473.4 628.9 473.3 629.4 473.3 629.9 473.3 630.4 473.3 630.9 473.4 631.4 473.5 632 473.6 632.5 473.7 633 473.8 633.5 473.9 634 474.1 634.5 474.2 635.1 474.3 635.6 474.5 636.1 474.6 636.6 474.7 637.1 474.8 637.6 475 638.2 475.1 638.7 475.2 639.2 475.3 639.7 475.4 640.2 475.4 640.7 475.5 641.2 475.6 641.8 475.7 642.3 475.8 642.8 475.8 643.3 475.9 643.8 475.9 644.3 476 644.9 476 645.4 476.1 645.9 476.1 646.4 476.2 646.9 476.2 647.4 476.2 648 476.3 648.5 476.3 649 476.3 649.5 476.3 650 476.4 650.5 476.4 651 476.4 651.6 476.4 652.1 476.4 652.6 476.4 653.1 476.5 653.6 476.5 654.1 476.5 654.7 476.5 655.2 476.5 655.7 476.5 656.2 476.5 656.7 476.5 657.2 476.5 657.7 476.5 658.3 476.5 658.8 476.5 659.3 476.6 659.8 476.6 660.3 476.6 660.8 476.6 661.4 476.6 661.9 476.6 662.4 476.6 662.9 476.6 663.4 476.6 663.9 476.6 664.5 476.6 665 476.6 665.5 476.6 666 476.6 666.5 476.6 667 476.6 667.5 476.6 668.1 476.6 668.6 476.6 669.1 476.6 669.6 476.6 670.1 476.6 670.6 476.6 671.2 476.6 671.7 476.6 672.2 476.6 672.7 476.6 673.2 476.6 673.7 476.6 674.3 476.6 674.8 476.6 675.3 476.6 675.8 476.6" stroke="#3c3c3c" stroke-width="0.7" fill="none" stroke-linejoin="round" stroke-opacity="0.75"/>
<path d="M521.6 476.6 522.1 476.6 522.6 476.6 523.1 476.6 523.7 476.6 524.2 476.6 524.7 476.6 525.2 476.6 525.7 474.6 526.2 470.6 526.8 465.8 527.3 460.9 527.8 456.4 528.3 452.5 528.8 449.4 529.3 447.1 529.9 445.5 530.4 444.7 530.9 444.4 531.4 444.6 531.9 445.1 532.4 445.9 532.9 446.8 533.5 447.9 534 449.2 534.5 450.5 535 451.8 535.5 453.2 536 454.5 536.6 455.9 537.1 457.2 537.6 458.5 538.1 459.8 538.6 461 539.1 462.1 539.7 463.2 540.2 464.2 540.7 465.2 541.2 466.1 541.7 466.9 542.2 467.7 542.7 468.5 543.3 469.2 543.8 469.8 544.3 470.4 544.8 470.9 545.3 471.4 545.8 471.9 546.4 472.3 546.9 472.7 547.4 473.1 547.9 473.4 548.4 473.7 548.9 474 549.4 474.2 550 474.4 550.5 474.6 551 474.8 551.5 475 552 475.2 552.5 475.3 553.1 475.4 553.6 475.5 554.1 475.6 554.6 475.7 555.1 475.8 555.6 475.9 556.2 476 556.7 476 557.2 476.1 557.7 476.1 558.2 476.2 558.7 476.2 559.2 476.3 559.8 476.3 560.3 476.3 560.8 476.4 561.3 476.4 561.8 476.4 562.3 476.4 562.9 476.4 563.4 476.5 563.9 476.5 564.4 476.5 564.9 476.5 565.4 476.5 566 476.5 566.5 476.5 567 476.5 567.5 476.5 568 476.5 568.5 476.6 569 476.6 569.6 476.6 570.1 476.6 570.6 476.6 571.1 476.6 571.6 476.6 572.1 476.6 572.7 475.6 573.2 470.3 573.7 464.6 574.2 459.7 574.7 456 575.2 453.4 575.8 451.8 576.3 451.1 576.8 451.1 577.3 451.4 577.8 451.9 578.3 452.5 578.8 453.2 579.4 454 579.9 454.8 580.4 455.7 580.9 456.6 581.4 457.5 581.9 458.5 582.5 459.4 583 460.3 583.5 461.1 584 462 584.5 462.8 585 463.6 585.5 464.4 586.1 465.1 586.6 465.8 587.1 466.4 587.6 467.1 588.1 467.7 588.6 468.2 589.2 468.8 589.7 469.3 590.2 469.8 590.7 470.2 591.2 470.6 591.7 471 592.3 471.4 592.8 471.8 593.3 472.1 593.8 472.4 594.3 472.7 594.8 473 595.3 473.2 595.9 473.5 596.4 473.7 596.9 473.9 597.4 474.1 597.9 474.3 598.4 474.4 599 474.6 599.5 474.7 600 474.9 600.5 475 601 475.1 601.5 475.2 602.1 475.3 602.6 475.4 603.1 475.5 603.6 475.6 604.1 475.6 604.6 475.7 605.1 475.8 605.7 475.8 606.2 475.9 606.7 476 607.2 476 607.7 476 608.2 476.1 608.8 476.1 609.3 476.2 609.8 476.2 610.3 476.2 610.8 476.3 611.3 476.3 611.9 476.3 612.4 476.3 612.9 476.3 613.4 476.4 613.9 476.4 614.4 476.4 614.9 476.4 615.5 476.4 616 476.4 616.5 476.5 617 476.5 617.5 476.5 618 476.5 618.6 476.5 619.1 476.5 619.6 476.5 620.1 476.5 620.6 476.5 621.1 476.5 621.6 476.5 622.2 476.5 622.7 476.5 623.2 476.5 623.7 476.6 624.2 476.6 624.7 476.3 625.3 475.2 625.8 474.2 626.3 473.4 626.8 472.7 627.3 472.2 627.8 471.8 628.4 471.5 628.9 471.4 629.4 471.3 629.9 471.3 630.4 471.4 630.9 471.5 631.4 471.6 632 471.8 632.5 471.9 633 472.1 633.5 472.3 634 472.5 634.5 472.6 635.1 472.8 635.6 473 636.1 473.2 636.6 473.4 637.1 473.6 637.6 473.7 638.2 473.9 638.7 474.1 639.2 474.2 639.7 474.4 640.2 474.5 640.7 474.6 641.2 474.8 641.8 474.9 642.3 475 642.8 475.1 643.3 475.2 643.8 475.3 644.3 475.4 644.9 475.5 645.4 475.6 645.9 475.6 646.4 475.7 646.9 475.8 647.4 475.8 648 475.9 648.5 475.9 649 476 649.5 476 650 476.1 650.5 476.1 651 476.1 651.6 476.2 652.1 476.2 652.6 476.2 653.1 476.3 653.6 476.3 654.1 476.3 654.7 476.3 655.2 476.4 655.7 476.4 656.2 476.4 656.7 476.4 657.2 476.4 657.7 476.4 658.3 476.4 658.8 476.5 659.3 476.5 659.8 476.5 660.3 476.5 660.8 476.5 661.4 476.5 661.9 476.5 662.4 476.5 662.9 476.5 663.4 476.5 663.9 476.5 664.5 476.5 665 476.5 665.5 476.6 666 476.6 666.5 476.6 667 476.6 667.5 476.6 668.1 476.6 668.6 476.6 669.1 476.6 669.6 476.6 670.1 476.6 670.6 476.6 671.2 476.6 671.7 476.6 672.2 476.6 672.7 476.6 673.2 476.6 673.7 476.6 674.3 476.6 674.8 476.6 675.3 476.6 675.8 476.6" stroke="#e69f00" stroke-width="0.95" fill="none" stroke-linejoin="round" stroke-opacity="0.9"/>
<path d="M591.6 423.3H672.4" stroke="#56b4e9" stroke-width="0.9" stroke-opacity="0.8"/>
<path d="M591.6 423.8 591.9 423.8 592.1 423.8 592.4 423.8 592.7 423.7 593 422.4 593.2 419.8 593.5 416.1 593.8 411.9 594 407.5 594.3 403.1 594.6 399.1 594.8 395.4 595.1 392.3 595.4 389.7 595.7 387.7 595.9 386.3 596.2 385.3 596.5 384.9 596.7 384.9 597 385.1 597.3 385.5 597.5 386.1 597.8 386.8 598.1 387.6 598.4 388.5 598.6 389.5 598.9 390.6 599.2 391.7 599.4 392.9 599.7 394 600 395.2 600.2 396.4 600.5 397.6 600.8 398.8 601.1 399.9 601.3 401 601.6 402.1 601.9 403.2 602.1 404.3 602.4 405.3 602.7 406.3 602.9 407.2 603.2 408.1 603.5 409 603.8 409.8 604 410.6 604.3 411.4 604.6 412.1 604.8 412.8 605.1 413.4 605.4 414.1 605.7 414.7 605.9 415.2 606.2 415.7 606.5 416.2 606.7 416.7 607 417.2 607.3 417.6 607.5 418 607.8 418.4 608.1 418.7 608.4 419.1 608.6 419.4 608.9 419.7 609.2 419.9 609.4 420.2 609.7 420.4 610 420.7 610.2 420.9 610.5 421.1 610.8 421.3 611.1 421.4 611.3 421.6 611.6 421.8 611.9 421.9 612.1 422 612.4 422.1 612.7 422.3 612.9 422.4 613.2 422.5 613.5 422.6 613.8 422.7 614 422.7 614.3 422.8 614.6 422.9 614.8 422.9 615.1 423 615.4 423.1 615.7 423.1 615.9 423.2 616.2 423.2 616.5 423.3 616.7 423.3 617 423.3 617.3 423.4 617.5 423.4 617.8 423.4 618.1 423.5 618.4 422.8 618.6 416.2 618.9 406.9 619.2 397.2 619.4 388.4 619.7 381 620 375.2 620.2 371.1 620.5 368.6 620.8 367.4 621.1 367.3 621.3 367.9 621.6 369 621.9 370.5 622.1 372.3 622.4 374.3 622.7 376.5 622.9 378.7 623.2 381.1 623.5 383.4 623.8 385.8 624 388.1 624.3 390.3 624.6 392.5 624.8 394.6 625.1 396.6 625.4 398.6 625.6 400.4 625.9 402.1 626.2 403.8 626.5 405.3 626.7 406.7 627 408.1 627.3 409.3 627.5 410.5 627.8 411.6 628.1 412.6 628.4 413.5 628.6 414.4 628.9 415.2 629.2 415.9 629.4 416.6 629.7 417.2 630 417.8 630.2 418.3 630.5 418.8 630.8 419.3 631.1 419.7 631.3 420 631.6 420.4 631.9 420.7 632.1 421 632.4 421.2 632.7 421.5 632.9 421.7 633.2 421.9 633.5 422.1 633.8 422.2 634 422.4 634.3 422.5 634.6 422.6 634.8 422.7 635.1 422.8 635.4 422.9 635.6 423 635.9 423.1 636.2 423.2 636.5 423.2 636.7 423.3 637 423.3 637.3 423.4 637.5 423.4 637.8 423.5 638.1 423.5 638.4 423.5 638.6 423.5 638.9 423.6 639.2 423.6 639.4 423.6 639.7 423.6 640 423.6 640.2 423.7 640.5 423.7 640.8 423.7 641.1 423.7 641.3 423.7 641.6 423.7 641.9 423.7 642.1 423.7 642.4 423.7 642.7 423.7 642.9 423.8 643.2 423.8 643.5 423.8 643.8 423.8 644 423.8 644.3 423.8 644.6 423.8 644.8 423.8 645.1 423.8 645.4 423.8 645.6 420.4 645.9 407.8 646.2 394.6 646.5 384.2 646.7 377.4 647 374.1 647.3 373.5 647.5 373.9 647.8 374.7 648.1 375.7 648.3 377 648.6 378.4 648.9 380 649.2 381.6 649.4 383.2 649.7 384.9 650 386.5 650.2 388.2 650.5 389.8 650.8 391.4 651.1 392.9 651.3 394.5 651.6 395.9 651.9 397.3 652.1 398.7 652.4 400 652.7 401.3 652.9 402.5 653.2 403.6 653.5 404.7 653.8 405.8 654 406.8 654.3 407.7 654.6 408.6 654.8 409.5 655.1 410.3 655.4 411.1 655.6 411.8 655.9 412.5 656.2 413.2 656.5 413.8 656.7 414.4 657 414.9 657.3 415.5 657.5 416 657.8 416.4 658.1 416.9 658.3 417.3 658.6 417.7 658.9 418 659.2 418.4 659.4 418.7 659.7 419 660 419.3 660.2 419.6 660.5 419.9 660.8 420.1 661.1 420.3 661.3 420.5 661.6 420.7 661.9 420.9 662.1 421.1 662.4 421.3 662.7 421.4 662.9 421.6 663.2 421.7 663.5 421.9 663.8 422 664 422.1 664.3 422.2 664.6 422.3 664.8 422.4 665.1 422.5 665.4 422.6 665.6 422.6 665.9 422.7 666.2 422.8 666.5 422.9 666.7 422.9 667 423 667.3 423 667.5 423.1 667.8 423.1 668.1 423.2 668.3 423.2 668.6 423.2 668.9 423.3 669.2 423.3 669.4 423.3 669.7 423.4 670 423.4 670.2 423.4 670.5 423.4 670.8 423.5 671 423.5 671.3 423.5 671.6 423.5 671.9 423.5 672.1 423.6 672.4 423.6" stroke="#e69f00" stroke-width="1.0" fill="none" stroke-linejoin="round" stroke-opacity="0.85"/>
<path d="M521.6 476.6 521.8 470.9 521.9 465.2 522.1 459.7 522.3 454.4 522.5 449.3 522.6 444.5 522.8 439.9 523 435.6 523.1 431.6 523.3 428 523.5 424.5 523.6 421.2 523.8 418 524 414.9 524.2 411.9 524.3 409 524.5 406.3 524.7 403.7 524.8 401.2 525 398.9 525.2 396.7 525.3 394.6 525.5 392.8 525.7 391.1 525.9 389.5 526 388.1 526.2 386.7 526.4 385.3 526.5 384 526.7 382.7 526.9 381.5 527 380.4 527.2 379.3 527.4 378.2 527.6 377.2 527.7 376.3 527.9 375.4 528.1 374.5 528.2 373.7 528.4 372.9 528.6 372.2 528.7 371.6 528.9 371 529.1 370.4 529.3 369.8 529.4 369.2 529.6 368.7 529.8 368.1 529.9 367.6 530.1 367.1 530.3 366.6 530.4 366.1 530.6 365.7 530.8 365.2 531 364.8 531.1 364.4 531.3 364 531.5 363.7 531.6 363.3 531.8 363 532 362.7 532.2 362.5 532.3 362.2 532.5 362 532.7 361.8 532.8 361.7 533 361.5 533.2 361.3 533.3 361.2 533.5 361 533.7 360.9 533.9 360.7 534 360.6 534.2 360.4 534.4 360.3 534.5 360.1 534.7 360 534.9 359.9 535 359.8 535.2 359.6 535.4 359.5 535.6 359.4 535.7 359.3 535.9 359.2 536.1 359.2 536.2 359.1 536.4 359 536.6 359 536.7 358.9 536.9 358.8 537.1 358.8 537.3 358.8 537.4 358.8 537.6 358.7 537.8 358.7 537.9 358.7 538.1 358.7 538.3 358.7 538.4 358.8 538.6 358.8 538.8 358.8 539 358.8 539.1 358.9 539.3 358.9 539.5 358.9 539.6 359 539.8 359 540 359 540.2 359.1 540.3 359.2 540.5 359.2 540.7 359.3 540.8 359.3 541 359.5 541.2 359.6 541.3 359.9 541.5 360.2 541.7 360.5 541.9 360.9 542 361.3 542.2 361.7 542.4 362.2 542.5 362.8 542.7 363.4 542.9 364 543 364.8 543.2 366.1 543.4 367.8 543.6 369.7 543.7 371.8 543.9 374.2 544.1 376.5 544.2 379 544.4 381.3 544.6 383.5 544.7 385.6 544.9 387.3 545.1 389 545.3 390.6 545.4 392.2 545.6 393.8 545.8 395.3 545.9 396.8 546.1 398.3 546.3 399.8 546.4 401.2 546.6 402.7 546.8 404.1 547 405.4 547.1 406.8 547.3 408.1 547.5 409.4 547.6 410.7 547.8 411.9 548 413.2 548.1 414.4 548.3 415.6 548.5 416.8 548.7 418 548.8 419.1 549 420.3 549.2 421.5 549.3 422.6 549.5 423.7 549.7 424.9 549.9 426 550 427 550.2 428.1 550.4 429.2 550.5 430.2 550.7 431.2 550.9 432.2 551 433.2 551.2 434.1 551.4 435 551.6 435.9 551.7 436.8 551.9 437.6 552.1 438.4 552.2 439.2 552.4 440 552.6 440.7 552.7 441.4 552.9 442.2 553.1 442.9 553.3 443.6 553.4 444.3 553.6 445 553.8 445.7 553.9 446.4 554.1 447 554.3 447.7 554.4 448.3 554.6 449 554.8 449.6 555 450.2 555.1 450.8 555.3 451.4 555.5 452 555.6 452.6 555.8 453.1 556 453.7 556.1 454.2 556.3 454.8 556.5 455.3 556.7 455.8 556.8 456.3 557 456.8 557.2 457.3 557.3 457.7 557.5 458.2 557.7 458.6 557.8 459.1 558 459.5 558.2 459.9 558.4 460.3 558.5 460.7 558.7 461.1 558.9 461.5 559 461.8 559.2 462.2 559.4 462.6 559.6 462.9 559.7 463.3 559.9 463.6 560.1 464 560.2 464.3 560.4 464.7 560.6 465 560.7 465.3 560.9 465.6 561.1 466 561.3 466.3 561.4 466.6 561.6 466.9 561.8 467.2 561.9 467.4 562.1 467.7 562.3 468 562.4 468.3 562.6 468.5 562.8 468.8 563 469 563.1 469.3 563.3 469.5 563.5 469.7 563.6 469.9 563.8 470.2 564 470.4 564.1 470.5 564.3 470.7 564.5 470.9 564.7 471.1 564.8 471.3 565 471.4 565.2 471.6 565.3 471.7 565.5 471.9 565.7 472 565.8 472.2 566 472.3 566.2 472.4 566.4 472.6 566.5 472.7 566.7 472.8 566.9 473 567 473.1 567.2 473.2 567.4 473.3 567.6 473.4 567.7 473.5 567.9 473.7 568.1 473.8 568.2 473.9 568.4 474 568.6 474.1 568.7 474.2 568.9 474.3 569.1 474.4 569.3 474.5 569.4 474.6 569.6 474.7 569.8 474.8 569.9 474.9 570.1 475 570.3 475.1 570.4 475.2 570.6 475.3 570.8 475.4 571 475.5 571.1 475.6 571.3 475.7 571.5 475.8 571.6 475.9 571.8 476 572 476.1 572.1 476.1 572.3 476.2 572.5 476.3" stroke="#9400d3" stroke-width="1.2" fill="none" stroke-linejoin="round" stroke-opacity="0.7"/>
<path d="M572.5 476.3 572.7 471.5 572.8 466.8 573 462.2 573.2 457.6 573.4 453.2 573.5 449 573.7 444.8 573.9 440.8 574.1 437 574.2 433.4 574.4 429.9 574.6 426.7 574.8 423.6 574.9 420.8 575.1 418.2 575.3 415.8 575.5 413.4 575.6 411.1 575.8 408.8 576 406.6 576.2 404.5 576.3 402.4 576.5 400.5 576.7 398.6 576.9 396.8 577 395.1 577.2 393.5 577.4 392.1 577.6 390.7 577.7 389.5 577.9 388.4 578.1 387.5 578.3 386.6 578.4 385.9 578.6 385.1 578.8 384.4 579 383.7 579.1 383 579.3 382.3 579.5 381.7 579.7 381 579.9 380.4 580 379.9 580.2 379.3 580.4 378.8 580.6 378.2 580.7 377.7 580.9 377.3 581.1 376.8 581.3 376.4 581.4 376 581.6 375.6 581.8 375.2 582 374.8 582.1 374.5 582.3 374.1 582.5 373.8 582.7 373.5 582.8 373.2 583 372.9 583.2 372.7 583.4 372.4 583.5 372.2 583.7 372 583.9 371.8 584.1 371.5 584.2 371.3 584.4 371.1 584.6 371 584.8 370.8 584.9 370.6 585.1 370.4 585.3 370.3 585.5 370.1 585.6 369.9 585.8 369.8 586 369.6 586.2 369.5 586.3 369.4 586.5 369.2 586.7 369.1 586.9 369 587 368.8 587.2 368.7 587.4 368.6 587.6 368.5 587.7 368.3 587.9 368.2 588.1 368.1 588.3 368 588.4 367.9 588.6 367.7 588.8 367.6 589 367.5 589.1 367.4 589.3 367.3 589.5 367.1 589.7 367 589.8 366.9 590 366.7 590.2 366.6 590.4 366.4 590.5 366.3 590.7 366.1 590.9 366 591.1 366 591.2 365.9 591.4 365.9 591.6 366 591.8 366 591.9 366 592.1 366 592.3 366.1 592.5 366.1 592.7 366.2 592.8 366.2 593 366.3 593.2 366.3 593.4 366.4 593.5 366.5 593.7 366.6 593.9 366.7 594.1 366.8 594.2 366.9 594.4 367.1 594.6 367.5 594.8 368.3 594.9 369.4 595.1 370.8 595.3 372.5 595.5 374.4 595.6 376.4 595.8 378.5 596 380.6 596.2 382.7 596.3 384.8 596.5 386.7 596.7 388.5 596.9 390.5 597 392.7 597.2 394.8 597.4 397.1 597.6 399.3 597.7 401.6 597.9 403.8 598.1 405.9 598.3 407.9 598.4 409.8 598.6 411.5 598.8 413 599 414.5 599.1 415.9 599.3 417.4 599.5 418.8 599.7 420.1 599.8 421.5 600 422.8 600.2 424 600.4 425.3 600.5 426.5 600.7 427.6 600.9 428.8 601.1 429.9 601.2 431 601.4 432 601.6 433 601.8 434 601.9 435 602.1 435.9 602.3 436.8 602.5 437.6 602.6 438.5 602.8 439.2 603 440 603.2 440.8 603.3 441.5 603.5 442.2 603.7 442.9 603.9 443.6 604 444.3 604.2 445 604.4 445.6 604.6 446.3 604.7 446.9 604.9 447.6 605.1 448.2 605.3 448.8 605.5 449.4 605.6 449.9 605.8 450.5 606 451.1 606.2 451.6 606.3 452.2 606.5 452.7 606.7 453.2 606.9 453.7 607 454.2 607.2 454.7 607.4 455.1 607.6 455.6 607.7 456 607.9 456.5 608.1 456.9 608.3 457.3 608.4 457.7 608.6 458.1 608.8 458.5 609 458.9 609.1 459.3 609.3 459.7 609.5 460 609.7 460.4 609.8 460.7 610 461.1 610.2 461.4 610.4 461.8 610.5 462.1 610.7 462.4 610.9 462.8 611.1 463.1 611.2 463.4 611.4 463.7 611.6 464.1 611.8 464.4 611.9 464.7 612.1 465 612.3 465.3 612.5 465.5 612.6 465.8 612.8 466.1 613 466.4 613.2 466.7 613.3 466.9 613.5 467.2 613.7 467.4 613.9 467.7 614 467.9 614.2 468.2 614.4 468.4 614.6 468.6 614.7 468.8 614.9 469 615.1 469.3 615.3 469.5 615.4 469.7 615.6 469.8 615.8 470 616 470.2 616.1 470.4 616.3 470.5 616.5 470.7 616.7 470.8 616.8 471 617 471.1 617.2 471.3 617.4 471.4 617.5 471.5 617.7 471.6 617.9 471.7 618.1 471.9 618.3 472 618.4 472.1 618.6 472.2 618.8 472.2 619 472.3 619.1 472.4 619.3 472.5 619.5 472.6 619.7 472.7 619.8 472.8 620 472.9 620.2 472.9 620.4 473 620.5 473.1 620.7 473.2 620.9 473.3 621.1 473.3 621.2 473.4 621.4 473.5 621.6 473.6 621.8 473.7 621.9 473.8 622.1 473.9 622.3 474 622.5 474.1 622.6 474.2 622.8 474.3 623 474.4 623.2 474.6 623.3 474.7 623.5 474.8 623.7 475 623.9 475.1 624 475.3 624.2 475.4 624.4 475.6 624.6 475.9 624.7 476.1 624.9 476.3" stroke="#9400d3" stroke-width="1.2" fill="none" stroke-linejoin="round" stroke-opacity="0.7"/>
<path d="M624.9 476.3 625.1 471.6 625.3 467 625.4 462.6 625.6 458.3 625.8 454.1 625.9 450.2 626.1 446.4 626.3 442.8 626.4 439.4 626.6 436.2 626.8 433.3 627 430.6 627.1 428.2 627.3 425.9 627.5 423.7 627.6 421.6 627.8 419.6 628 417.7 628.1 416 628.3 414.3 628.5 412.8 628.7 411.3 628.8 409.9 629 408.7 629.2 407.5 629.3 406.3 629.5 405.2 629.7 404.1 629.8 403 630 402 630.2 401 630.4 400 630.5 399.1 630.7 398.1 630.9 397.2 631 396.4 631.2 395.5 631.4 394.7 631.6 393.9 631.7 393.1 631.9 392.4 632.1 391.7 632.2 391 632.4 390.4 632.6 389.7 632.7 389.1 632.9 388.5 633.1 388 633.3 387.4 633.4 386.9 633.6 386.4 633.8 386 633.9 385.5 634.1 385 634.3 384.6 634.4 384.1 634.6 383.7 634.8 383.2 635 382.8 635.1 382.4 635.3 382 635.5 381.6 635.6 381.2 635.8 380.8 636 380.4 636.1 380 636.3 379.7 636.5 379.3 636.7 379 636.8 378.7 637 378.3 637.2 378 637.3 377.7 637.5 377.4 637.7 377.1 637.8 376.9 638 376.6 638.2 376.3 638.4 376.1 638.5 375.8 638.7 375.6 638.9 375.4 639 375.1 639.2 374.9 639.4 374.7 639.6 374.6 639.7 374.4 639.9 374.2 640.1 374 640.2 373.8 640.4 373.6 640.6 373.5 640.7 373.3 640.9 373.1 641.1 372.9 641.3 372.8 641.4 372.6 641.6 372.4 641.8 372.2 641.9 372.1 642.1 371.9 642.3 371.8 642.4 371.6 642.6 371.5 642.8 371.3 643 371.2 643.1 371.1 643.3 370.9 643.5 370.8 643.6 370.7 643.8 370.6 644 370.5 644.1 370.4 644.3 370.3 644.5 370.2 644.7 370.1 644.8 370.1 645 370 645.2 370 645.3 369.9 645.5 369.9 645.7 369.8 645.8 369.8 646 369.8 646.2 369.9 646.4 370 646.5 370.3 646.7 370.6 646.9 371 647 371.4 647.2 372.3 647.4 373.7 647.5 375.5 647.7 377.5 647.9 379.8 648.1 382.3 648.2 384.9 648.4 387.6 648.6 390.2 648.7 392.7 648.9 395 649.1 397.1 649.3 398.9 649.4 400.8 649.6 402.7 649.8 404.5 649.9 406.4 650.1 408.2 650.3 410 650.4 411.8 650.6 413.6 650.8 415.3 651 417 651.1 418.7 651.3 420.3 651.5 421.8 651.6 423.3 651.8 424.7 652 426.1 652.1 427.4 652.3 428.6 652.5 429.7 652.7 430.8 652.8 431.9 653 433 653.2 434.1 653.3 435.2 653.5 436.2 653.7 437.2 653.8 438.2 654 439.2 654.2 440.1 654.4 441.1 654.5 442 654.7 442.9 654.9 443.7 655 444.6 655.2 445.4 655.4 446.2 655.5 447 655.7 447.8 655.9 448.5 656.1 449.2 656.2 449.9 656.4 450.6 656.6 451.2 656.7 451.8 656.9 452.4 657.1 453 657.2 453.5 657.4 454 657.6 454.5 657.8 455 657.9 455.5 658.1 456 658.3 456.4 658.4 456.9 658.6 457.4 658.8 457.8 659 458.2 659.1 458.7 659.3 459.1 659.5 459.5 659.6 459.9 659.8 460.3 660 460.7 660.1 461.1 660.3 461.5 660.5 461.8 660.7 462.2 660.8 462.6 661 462.9 661.2 463.3 661.3 463.6 661.5 463.9 661.7 464.2 661.8 464.5 662 464.9 662.2 465.1 662.4 465.4 662.5 465.7 662.7 466 662.9 466.3 663 466.5 663.2 466.8 663.4 467 663.5 467.3 663.7 467.5 663.9 467.7 664.1 467.9 664.2 468.1 664.4 468.3 664.6 468.5 664.7 468.7 664.9 468.9 665.1 469.1 665.2 469.2 665.4 469.4 665.6 469.6 665.8 469.7 665.9 469.9 666.1 470 666.3 470.2 666.4 470.4 666.6 470.5 666.8 470.6 667 470.8 667.1 470.9 667.3 471.1 667.5 471.2 667.6 471.3 667.8 471.5 668 471.6 668.1 471.7 668.3 471.8 668.5 472 668.7 472.1 668.8 472.2 669 472.3 669.2 472.4 669.3 472.5 669.5 472.7 669.7 472.8 669.8 472.9 670 473 670.2 473.1 670.4 473.2 670.5 473.3 670.7 473.4 670.9 473.5 671 473.6 671.2 473.6 671.4 473.7 671.5 473.8 671.7 473.9 671.9 474 672.1 474.1 672.2 474.2 672.4 474.2 672.6 474.3 672.7 474.4 672.9 474.5 673.1 474.5 673.2 474.6 673.4 474.7 673.6 474.8 673.8 474.8 673.9 474.9 674.1 475 674.3 475 674.4 475.1 674.6 475.1 674.8 475.2 674.9 475.2 675.1 475.3 675.3 475.4 675.5 475.4 675.6 475.4 675.8 475.5" stroke="#9400d3" stroke-width="1.2" fill="none" stroke-linejoin="round" stroke-opacity="0.7"/>
<rect x="523.3" y="521.4" width="154.5" height="125.2" fill="none" stroke="#c4c4c4" stroke-width="0.7"/>
<path d="M523.3 646.6v-1.8M523.3 521.4v1.8M538.75 646.6v-1.8M538.75 521.4v1.8M554.2 646.6v-1.8M554.2 521.4v1.8M569.65 646.6v-1.8M569.65 521.4v1.8M585.1 646.6v-1.8M585.1 521.4v1.8M600.55 646.6v-1.8M600.55 521.4v1.8M616 646.6v-1.8M616 521.4v1.8M631.45 646.6v-1.8M631.45 521.4v1.8M646.9 646.6v-1.8M646.9 521.4v1.8M662.35 646.6v-1.8M662.35 521.4v1.8M677.8 646.6v-1.8M677.8 521.4v1.8M523.3 646.6h1.8M677.8 646.6h-1.8M523.3 632.69h1.8M677.8 632.69h-1.8M523.3 618.78h1.8M677.8 618.78h-1.8M523.3 604.87h1.8M677.8 604.87h-1.8M523.3 590.96h1.8M677.8 590.96h-1.8M523.3 577.04h1.8M677.8 577.04h-1.8M523.3 563.13h1.8M677.8 563.13h-1.8M523.3 549.22h1.8M677.8 549.22h-1.8M523.3 535.31h1.8M677.8 535.31h-1.8M523.3 521.4h1.8M677.8 521.4h-1.8" stroke="#c4c4c4" stroke-width="0.6" fill="none"/>
<text x="519.5" y="649.1" font-size="5.6" text-anchor="end">0</text>
<text x="519.5" y="635.19" font-size="5.6" text-anchor="end">50000</text>
<text x="519.5" y="621.28" font-size="5.6" text-anchor="end">100000</text>
<text x="519.5" y="607.37" font-size="5.6" text-anchor="end">150000</text>
<text x="519.5" y="593.46" font-size="5.6" text-anchor="end">200000</text>
<text x="519.5" y="579.54" font-size="5.6" text-anchor="end">250000</text>
<text x="519.5" y="565.63" font-size="5.6" text-anchor="end">300000</text>
<text x="519.5" y="551.72" font-size="5.6" text-anchor="end">350000</text>
<text x="519.5" y="537.81" font-size="5.6" text-anchor="end">400000</text>
<text x="519.5" y="523.9" font-size="5.6" text-anchor="end">450000</text>
<text x="523.3" y="654.9" font-size="5.6" text-anchor="middle">0</text>
<text x="538.75" y="654.9" font-size="5.6" text-anchor="middle">10</text>
<text x="554.2" y="654.9" font-size="5.6" text-anchor="middle">20</text>
<text x="569.65" y="654.9" font-size="5.6" text-anchor="middle">30</text>
<text x="585.1" y="654.9" font-size="5.6" text-anchor="middle">40</text>
<text x="600.55" y="654.9" font-size="5.6" text-anchor="middle">50</text>
<text x="616" y="654.9" font-size="5.6" text-anchor="middle">60</text>
<text x="631.45" y="654.9" font-size="5.6" text-anchor="middle">70</text>
<text x="646.9" y="654.9" font-size="5.6" text-anchor="middle">80</text>
<text x="662.35" y="654.9" font-size="5.6" text-anchor="middle">90</text>
<text x="677.8" y="654.9" font-size="5.6" text-anchor="middle">100</text>
<text x="600.55" y="663.4" font-size="5.6" text-anchor="middle">days</text>
<text transform="translate(495,584) rotate(-90)" font-size="5.6" text-anchor="middle">ng/mL</text>
<rect x="593.8" y="529.4" width="81.2" height="64.4" fill="none" stroke="#c4c4c4" stroke-width="0.6"/>
<path d="M593.8 593.8v-1.5M593.8 529.4v1.5M601.92 593.8v-1.5M601.92 529.4v1.5M610.04 593.8v-1.5M610.04 529.4v1.5M618.16 593.8v-1.5M618.16 529.4v1.5M626.28 593.8v-1.5M626.28 529.4v1.5M634.4 593.8v-1.5M634.4 529.4v1.5M642.52 593.8v-1.5M642.52 529.4v1.5M650.64 593.8v-1.5M650.64 529.4v1.5M658.76 593.8v-1.5M658.76 529.4v1.5M666.88 593.8v-1.5M666.88 529.4v1.5M675 593.8v-1.5M675 529.4v1.5M593.8 593.8h1.5M675 593.8h-1.5M593.8 586.64h1.5M675 586.64h-1.5M593.8 579.49h1.5M675 579.49h-1.5M593.8 572.33h1.5M675 572.33h-1.5M593.8 565.18h1.5M675 565.18h-1.5M593.8 558.02h1.5M675 558.02h-1.5M593.8 550.87h1.5M675 550.87h-1.5M593.8 543.71h1.5M675 543.71h-1.5M593.8 536.56h1.5M675 536.56h-1.5M593.8 529.4h1.5M675 529.4h-1.5" stroke="#c4c4c4" stroke-width="0.6" fill="none"/>
<text x="590.4" y="595.8" font-size="5.5" text-anchor="end">0</text>
<text x="590.4" y="588.64" font-size="5.5" text-anchor="end">50000</text>
<text x="590.4" y="581.49" font-size="5.5" text-anchor="end">100000</text>
<text x="590.4" y="574.33" font-size="5.5" text-anchor="end">150000</text>
<text x="590.4" y="567.18" font-size="5.5" text-anchor="end">200000</text>
<text x="590.4" y="560.02" font-size="5.5" text-anchor="end">250000</text>
<text x="590.4" y="552.87" font-size="5.5" text-anchor="end">300000</text>
<text x="590.4" y="545.71" font-size="5.5" text-anchor="end">350000</text>
<text x="590.4" y="538.56" font-size="5.5" text-anchor="end">400000</text>
<text x="590.4" y="531.4" font-size="5.5" text-anchor="end">450000</text>
<text x="593.8" y="602.1" font-size="5.5" text-anchor="middle">0</text>
<text x="601.92" y="602.1" font-size="5.5" text-anchor="middle">10</text>
<text x="610.04" y="602.1" font-size="5.5" text-anchor="middle">20</text>
<text x="618.16" y="602.1" font-size="5.5" text-anchor="middle">30</text>
<text x="626.28" y="602.1" font-size="5.5" text-anchor="middle">40</text>
<text x="634.4" y="602.1" font-size="5.5" text-anchor="middle">50</text>
<text x="642.52" y="602.1" font-size="5.5" text-anchor="middle">60</text>
<text x="650.64" y="602.1" font-size="5.5" text-anchor="middle">70</text>
<text x="658.76" y="602.1" font-size="5.5" text-anchor="middle">80</text>
<text x="666.88" y="602.1" font-size="5.5" text-anchor="middle">90</text>
<text x="675" y="602.1" font-size="5.5" text-anchor="middle">100</text>
<text x="541.9" y="529.17" font-size="5.2" text-anchor="end">IFN-g</text>
<path d="M544.9 527.3H559.7" stroke="#9400d3" stroke-width="1.5" stroke-opacity="0.55"/>
<text x="541.9" y="535.14" font-size="5.2" text-anchor="end">IL-4</text>
<path d="M544.9 533.27H559.7" stroke="#009e73" stroke-width="1.5" stroke-opacity="0.5"/>
<text x="541.9" y="541.11" font-size="5.2" text-anchor="end">IL-12</text>
<path d="M544.9 539.24H559.7" stroke="#56b4e9" stroke-width="1.5" stroke-opacity="0.4"/>
<text x="541.9" y="547.08" font-size="5.2" text-anchor="end">TGF-b</text>
<path d="M544.9 545.21H559.7" stroke="#e69f00" stroke-width="1.5" stroke-opacity="0.55"/>
<text x="541.9" y="553.05" font-size="5.2" text-anchor="end">TNF-a</text>
<path d="M544.9 551.18H559.7" stroke="#e51e10" stroke-width="1.5" stroke-opacity="0.6"/>
<text x="541.9" y="559.02" font-size="5.2" text-anchor="end">IL-10</text>
<path d="M544.9 557.15H559.7" stroke="#3c3c3c" stroke-width="0.8" stroke-opacity="0.6"/>
<text x="541.9" y="564.99" font-size="5.2" text-anchor="end">IL-6</text>
<path d="M544.9 563.12H559.7" stroke="#9400d3" stroke-width="0.8" stroke-opacity="0.6"/>
<text x="541.9" y="570.96" font-size="5.2" text-anchor="end">IFN-b</text>
<path d="M544.9 569.09H559.7" stroke="#009e73" stroke-width="0.8" stroke-opacity="0.5"/>
<text x="541.9" y="576.93" font-size="5.2" text-anchor="end">IL-18</text>
<path d="M544.9 575.06H559.7" stroke="#56b4e9" stroke-width="0.8" stroke-opacity="0.4"/>
<text x="541.9" y="582.9" font-size="5.2" text-anchor="end">IL-23</text>
<path d="M544.9 581.03H559.7" stroke="#e69f00" stroke-width="0.8" stroke-opacity="0.6"/>
<text x="608.8" y="536.37" font-size="5.2" text-anchor="end">D</text>
<path d="M612 534.5H627" stroke="#56b4e9" stroke-width="0.9" stroke-opacity="1.0"/>
<text x="608.8" y="542.47" font-size="5.2" text-anchor="end">IL-2</text>
<path d="M612 540.6H627" stroke="#e69f00" stroke-width="1.0" stroke-opacity="1.0"/>
<path d="M523.3 646.3H677.8" stroke="#b0603a" stroke-width="1.0" stroke-opacity="0.8"/>
<path d="M523.3 646.6 523.8 645 524.3 643.9 524.9 643 525.4 642.2 525.9 641.6 526.4 641 526.9 640.5 527.4 640.1 528 639.8 528.5 639.5 529 639.2 529.5 639 530 638.8 530.5 638.7 531.1 638.5 531.6 638.4 532.1 638.4 532.6 638.3 533.1 638.3 533.6 638.3 534.2 638.4 534.7 638.5 535.2 638.7 535.7 639 536.2 639.3 536.7 639.7 537.3 640 537.8 640.4 538.3 640.8 538.8 641.2 539.3 641.6 539.8 642 540.4 642.4 540.9 642.7 541.4 643.1 541.9 643.4 542.4 643.7 542.9 644 543.5 644.3 544 644.5 544.5 644.7 545 644.9 545.5 645.1 546 645.3 546.6 645.4 547.1 645.6 547.6 645.7 548.1 645.8 548.6 645.9 549.1 646 549.7 646.1 550.2 646.1 550.7 646.2 551.2 646.2 551.7 646.3 552.2 646.3 552.8 646.4 553.3 646.4 553.8 646.4 554.3 646.4 554.8 646.5 555.3 646.5 555.9 646.5 556.4 646.5 556.9 646.5 557.4 646.5 557.9 646.5 558.4 646.6 559 646.6 559.5 646.6 560 646.6 560.5 646.6 561 646.6 561.5 646.6 562.1 646.6 562.6 646.6 563.1 646.6 563.6 646.6 564.1 646.6 564.6 646.6 565.2 646.6 565.7 646.6 566.2 646.6 566.7 646.6 567.2 646.6 567.7 646.6 568.3 646.6 568.8 646.6 569.3 646.6 569.8 646.6 570.3 646.6 570.8 646.6 571.4 646.6 571.9 646.6 572.4 646.6 572.9 646.6 573.4 646.6 573.9 646.6 574.5 646 575 644.3 575.5 643.1 576 642 576.5 641.3 577 640.7 577.6 640.3 578.1 640.1 578.6 640 579.1 639.9 579.6 640 580.1 640.1 580.7 640.2 581.2 640.4 581.7 640.7 582.2 640.9 582.7 641.2 583.2 641.5 583.8 641.8 584.3 642 584.8 642.3 585.3 642.6 585.8 642.8 586.3 643.1 586.9 643.3 587.4 643.6 587.9 643.8 588.4 644 588.9 644.2 589.4 644.4 590 644.5 590.5 644.7 591 644.9 591.5 645 592 645.1 592.5 645.2 593.1 645.4 593.6 645.5 594.1 645.6 594.6 645.6 595.1 645.7 595.6 645.8 596.2 645.9 596.7 645.9 597.2 646 597.7 646 598.2 646.1 598.7 646.1 599.3 646.2 599.8 646.2 600.3 646.3 600.8 646.3 601.3 646.3 601.8 646.3 602.4 646.4 602.9 646.4 603.4 646.4 603.9 646.4 604.4 646.4 604.9 646.5 605.5 646.5 606 646.5 606.5 646.5 607 646.5 607.5 646.5 608 646.5 608.6 646.5 609.1 646.5 609.6 646.5 610.1 646.5 610.6 646.6 611.1 646.6 611.7 646.6 612.2 646.6 612.7 646.6 613.2 646.6 613.7 646.6 614.2 646.6 614.8 646.6 615.3 646.6 615.8 646.6 616.3 646.6 616.8 646.6 617.3 646.6 617.9 646.6 618.4 646.6 618.9 646.6 619.4 646.6 619.9 646.6 620.4 646.6 621 646.6 621.5 646.6 622 646.6 622.5 646.6 623 646.6 623.5 646.6 624.1 646.6 624.6 646.6 625.1 646.6 625.6 646.6 626.1 646.6 626.6 646.1 627.2 644.6 627.7 643.4 628.2 642.5 628.7 641.9 629.2 641.5 629.7 641.2 630.3 641.1 630.8 641 631.3 641.1 631.8 641.2 632.3 641.3 632.8 641.4 633.4 641.6 633.9 641.8 634.4 641.9 634.9 642.1 635.4 642.3 635.9 642.5 636.5 642.7 637 642.9 637.5 643.1 638 643.3 638.5 643.5 639 643.6 639.6 643.8 640.1 644 640.6 644.1 641.1 644.3 641.6 644.4 642.1 644.5 642.7 644.7 643.2 644.8 643.7 644.9 644.2 645 644.7 645.1 645.2 645.2 645.8 645.3 646.3 645.4 646.8 645.5 647.3 645.5 647.8 645.6 648.3 645.7 648.9 645.7 649.4 645.8 649.9 645.9 650.4 645.9 650.9 646 651.4 646 652 646 652.5 646.1 653 646.1 653.5 646.2 654 646.2 654.5 646.2 655.1 646.2 655.6 646.3 656.1 646.3 656.6 646.3 657.1 646.3 657.6 646.4 658.2 646.4 658.7 646.4 659.2 646.4 659.7 646.4 660.2 646.4 660.7 646.4 661.3 646.5 661.8 646.5 662.3 646.5 662.8 646.5 663.3 646.5 663.8 646.5 664.4 646.5 664.9 646.5 665.4 646.5 665.9 646.5 666.4 646.5 666.9 646.5 667.5 646.5 668 646.5 668.5 646.6 669 646.6 669.5 646.6 670 646.6 670.6 646.6 671.1 646.6 671.6 646.6 672.1 646.6 672.6 646.6 673.1 646.6 673.7 646.6 674.2 646.6 674.7 646.6 675.2 646.6 675.7 646.6 676.2 646.6 676.8 646.6 677.3 646.6 677.8 646.6" stroke="#56b4e9" stroke-width="0.9" fill="none" stroke-linejoin="round" stroke-opacity="0.85"/>
<path d="M523.3 646.6 523.8 646.6 524.3 646.6 524.9 646.6 525.4 646.6 525.9 646.6 526.4 646.6 526.9 643.2 527.4 639.8 528 636.8 528.5 634.3 529 632.2 529.5 630.7 530 629.5 530.5 628.7 531.1 628.2 531.6 628 532.1 628 532.6 628.3 533.1 628.6 533.6 629.1 534.2 629.7 534.7 630.4 535.2 631.1 535.7 631.9 536.2 632.7 536.7 633.5 537.3 634.2 537.8 635 538.3 635.8 538.8 636.5 539.3 637.2 539.8 637.9 540.4 638.5 540.9 639.1 541.4 639.7 541.9 640.2 542.4 640.7 542.9 641.2 543.5 641.6 544 642 544.5 642.4 545 642.8 545.5 643.1 546 643.4 546.6 643.7 547.1 643.9 547.6 644.2 548.1 644.4 548.6 644.6 549.1 644.8 549.7 644.9 550.2 645.1 550.7 645.2 551.2 645.4 551.7 645.5 552.2 645.6 552.8 645.7 553.3 645.8 553.8 645.8 554.3 645.9 554.8 646 555.3 646 555.9 646.1 556.4 646.1 556.9 646.2 557.4 646.2 557.9 646.3 558.4 646.3 559 646.3 559.5 646.4 560 646.4 560.5 646.4 561 646.4 561.5 646.4 562.1 646.5 562.6 646.5 563.1 646.5 563.6 646.5 564.1 646.5 564.6 646.5 565.2 646.5 565.7 646.5 566.2 646.5 566.7 646.5 567.2 646.6 567.7 646.6 568.3 646.6 568.8 646.6 569.3 646.6 569.8 646.6 570.3 646.6 570.8 646.6 571.4 646.6 571.9 646.6 572.4 646.6 572.9 646.6 573.4 646.6 573.9 646.6 574.5 645.1 575 640 575.5 636.1 576 633.6 576.5 632.2 577 631.6 577.6 631.6 578.1 631.9 578.6 632.4 579.1 632.9 579.6 633.6 580.1 634.3 580.7 635 581.2 635.7 581.7 636.4 582.2 637.1 582.7 637.8 583.2 638.4 583.8 639 584.3 639.6 584.8 640.1 585.3 640.7 585.8 641.1 586.3 641.6 586.9 642 587.4 642.4 587.9 642.8 588.4 643.1 588.9 643.4 589.4 643.7 590 643.9 590.5 644.2 591 644.4 591.5 644.6 592 644.8 592.5 644.9 593.1 645.1 593.6 645.2 594.1 645.4 594.6 645.5 595.1 645.6 595.6 645.7 596.2 645.8 596.7 645.8 597.2 645.9 597.7 646 598.2 646 598.7 646.1 599.3 646.1 599.8 646.2 600.3 646.2 600.8 646.3 601.3 646.3 601.8 646.3 602.4 646.3 602.9 646.4 603.4 646.4 603.9 646.4 604.4 646.4 604.9 646.4 605.5 646.5 606 646.5 606.5 646.5 607 646.5 607.5 646.5 608 646.5 608.6 646.5 609.1 646.5 609.6 646.5 610.1 646.5 610.6 646.6 611.1 646.6 611.7 646.6 612.2 646.6 612.7 646.6 613.2 646.6 613.7 646.6 614.2 646.6 614.8 646.6 615.3 646.6 615.8 646.6 616.3 646.6 616.8 646.6 617.3 646.6 617.9 646.6 618.4 646.6 618.9 646.6 619.4 646.6 619.9 646.6 620.4 646.6 621 646.6 621.5 646.6 622 646.6 622.5 646.6 623 646.6 623.5 646.6 624.1 646.6 624.6 646.6 625.1 646.6 625.6 646.6 626.1 646.6 626.6 646.3 627.2 644.8 627.7 643.4 628.2 642.4 628.7 641.6 629.2 641 629.7 640.7 630.3 640.5 630.8 640.5 631.3 640.5 631.8 640.6 632.3 640.8 632.8 640.9 633.4 641.1 633.9 641.3 634.4 641.5 634.9 641.8 635.4 642 635.9 642.2 636.5 642.4 637 642.6 637.5 642.9 638 643.1 638.5 643.3 639 643.5 639.6 643.7 640.1 643.8 640.6 644 641.1 644.2 641.6 644.3 642.1 644.5 642.7 644.6 643.2 644.7 643.7 644.9 644.2 645 644.7 645.1 645.2 645.2 645.8 645.3 646.3 645.4 646.8 645.5 647.3 645.6 647.8 645.6 648.3 645.7 648.9 645.8 649.4 645.8 649.9 645.9 650.4 645.9 650.9 646 651.4 646 652 646.1 652.5 646.1 653 646.1 653.5 646.2 654 646.2 654.5 646.2 655.1 646.3 655.6 646.3 656.1 646.3 656.6 646.3 657.1 646.4 657.6 646.4 658.2 646.4 658.7 646.4 659.2 646.4 659.7 646.4 660.2 646.4 660.7 646.5 661.3 646.5 661.8 646.5 662.3 646.5 662.8 646.5 663.3 646.5 663.8 646.5 664.4 646.5 664.9 646.5 665.4 646.5 665.9 646.5 666.4 646.5 666.9 646.5 667.5 646.6 668 646.6 668.5 646.6 669 646.6 669.5 646.6 670 646.6 670.6 646.6 671.1 646.6 671.6 646.6 672.1 646.6 672.6 646.6 673.1 646.6 673.7 646.6 674.2 646.6 674.7 646.6 675.2 646.6 675.7 646.6 676.2 646.6 676.8 646.6 677.3 646.6 677.8 646.6" stroke="#3c3c3c" stroke-width="0.7" fill="none" stroke-linejoin="round" stroke-opacity="0.75"/>
<path d="M523.3 646.6 523.8 646.6 524.3 646.6 524.9 646.6 525.4 646.6 525.9 646.6 526.4 646.5 526.9 644.8 527.4 640.7 528 635 528.5 628.4 529 621.9 529.5 616 530 610.9 530.5 606.9 531.1 604.1 531.6 602.3 532.1 601.6 532.6 601.6 533.1 602.1 533.6 602.9 534.2 603.9 534.7 605.2 535.2 606.6 535.7 608.1 536.2 609.8 536.7 611.4 537.3 613.2 537.8 614.9 538.3 616.6 538.8 618.3 539.3 619.9 539.8 621.6 540.4 623.1 540.9 624.6 541.4 626.1 541.9 627.4 542.4 628.7 542.9 630 543.5 631.2 544 632.3 544.5 633.3 545 634.3 545.5 635.2 546 636.1 546.6 636.9 547.1 637.6 547.6 638.3 548.1 639 548.6 639.6 549.1 640.1 549.7 640.7 550.2 641.2 550.7 641.6 551.2 642 551.7 642.4 552.2 642.7 552.8 643.1 553.3 643.4 553.8 643.6 554.3 643.9 554.8 644.1 555.3 644.3 555.9 644.5 556.4 644.7 556.9 644.9 557.4 645 557.9 645.2 558.4 645.3 559 645.4 559.5 645.5 560 645.6 560.5 645.7 561 645.8 561.5 645.9 562.1 645.9 562.6 646 563.1 646 563.6 646.1 564.1 646.1 564.6 646.2 565.2 646.2 565.7 646.3 566.2 646.3 566.7 646.3 567.2 646.3 567.7 646.4 568.3 646.4 568.8 646.4 569.3 646.4 569.8 646.4 570.3 646.5 570.8 646.5 571.4 646.5 571.9 646.5 572.4 646.5 572.9 646.5 573.4 646.5 573.9 646.5 574.5 645.4 575 638.7 575.5 631.7 576 625.9 576.5 621.5 577 618.5 577.6 616.9 578.1 616.3 578.6 616.4 579.1 616.8 579.6 617.5 580.1 618.4 580.7 619.3 581.2 620.4 581.7 621.5 582.2 622.7 582.7 623.8 583.2 625 583.8 626.2 584.3 627.3 584.8 628.4 585.3 629.5 585.8 630.5 586.3 631.5 586.9 632.5 587.4 633.4 587.9 634.2 588.4 635 588.9 635.8 589.4 636.5 590 637.2 590.5 637.9 591 638.5 591.5 639.1 592 639.6 592.5 640.1 593.1 640.6 593.6 641 594.1 641.4 594.6 641.8 595.1 642.2 595.6 642.5 596.2 642.8 596.7 643.1 597.2 643.4 597.7 643.6 598.2 643.8 598.7 644 599.3 644.2 599.8 644.4 600.3 644.6 600.8 644.7 601.3 644.9 601.8 645 602.4 645.1 602.9 645.3 603.4 645.4 603.9 645.5 604.4 645.6 604.9 645.6 605.5 645.7 606 645.8 606.5 645.9 607 645.9 607.5 646 608 646 608.6 646.1 609.1 646.1 609.6 646.1 610.1 646.2 610.6 646.2 611.1 646.2 611.7 646.3 612.2 646.3 612.7 646.3 613.2 646.4 613.7 646.4 614.2 646.4 614.8 646.4 615.3 646.4 615.8 646.4 616.3 646.5 616.8 646.5 617.3 646.5 617.9 646.5 618.4 646.5 618.9 646.5 619.4 646.5 619.9 646.5 620.4 646.5 621 646.5 621.5 646.5 622 646.5 622.5 646.5 623 646.6 623.5 646.6 624.1 646.6 624.6 646.6 625.1 646.6 625.6 646.6 626.1 646.6 626.6 646.2 627.2 644.5 627.7 643 628.2 641.8 628.7 640.9 629.2 640.3 629.7 639.9 630.3 639.7 630.8 639.6 631.3 639.7 631.8 639.8 632.3 639.9 632.8 640.1 633.4 640.3 633.9 640.5 634.4 640.8 634.9 641 635.4 641.3 635.9 641.5 636.5 641.8 637 642 637.5 642.2 638 642.5 638.5 642.7 639 642.9 639.6 643.1 640.1 643.3 640.6 643.5 641.1 643.7 641.6 643.9 642.1 644 642.7 644.2 643.2 644.3 643.7 644.5 644.2 644.6 644.7 644.8 645.2 644.9 645.8 645 646.3 645.1 646.8 645.2 647.3 645.3 647.8 645.4 648.3 645.5 648.9 645.5 649.4 645.6 649.9 645.7 650.4 645.7 650.9 645.8 651.4 645.9 652 645.9 652.5 646 653 646 653.5 646 654 646.1 654.5 646.1 655.1 646.2 655.6 646.2 656.1 646.2 656.6 646.2 657.1 646.3 657.6 646.3 658.2 646.3 658.7 646.3 659.2 646.4 659.7 646.4 660.2 646.4 660.7 646.4 661.3 646.4 661.8 646.4 662.3 646.4 662.8 646.5 663.3 646.5 663.8 646.5 664.4 646.5 664.9 646.5 665.4 646.5 665.9 646.5 666.4 646.5 666.9 646.5 667.5 646.5 668 646.5 668.5 646.5 669 646.5 669.5 646.5 670 646.6 670.6 646.6 671.1 646.6 671.6 646.6 672.1 646.6 672.6 646.6 673.1 646.6 673.7 646.6 674.2 646.6 674.7 646.6 675.2 646.6 675.7 646.6 676.2 646.6 676.8 646.6 677.3 646.6 677.8 646.6" stroke="#e69f00" stroke-width="0.95" fill="none" stroke-linejoin="round" stroke-opacity="0.9"/>
<path d="M593.8 593.3H675" stroke="#56b4e9" stroke-width="0.9" stroke-opacity="0.8"/>
<path d="M593.8 593.8 594.1 593.8 594.3 593 594.6 590.2 594.9 585.8 595.2 580.1 595.4 573.7 595.7 567.2 596 560.8 596.2 554.8 596.5 549.5 596.8 545.1 597.1 541.4 597.3 538.6 597.6 536.7 597.9 535.6 598.1 535.1 598.4 535.3 598.7 535.8 599 536.6 599.2 537.8 599.5 539.1 599.8 540.7 600 542.4 600.3 544.2 600.6 546.1 600.9 548.1 601.1 550.1 601.4 552.1 601.7 554.1 601.9 556.1 602.2 558.1 602.5 560 602.8 561.9 603 563.7 603.3 565.5 603.6 567.2 603.8 568.8 604.1 570.4 604.4 571.8 604.7 573.3 604.9 574.6 605.2 575.9 605.5 577.1 605.7 578.2 606 579.3 606.3 580.3 606.6 581.3 606.8 582.2 607.1 583 607.4 583.8 607.7 584.6 607.9 585.2 608.2 585.9 608.5 586.5 608.7 587 609 587.6 609.3 588 609.6 588.5 609.8 588.9 610.1 589.3 610.4 589.6 610.6 590 610.9 590.3 611.2 590.6 611.5 590.8 611.7 591.1 612 591.3 612.3 591.5 612.5 591.7 612.8 591.9 613.1 592 613.4 592.2 613.6 592.3 613.9 592.4 614.2 592.5 614.4 592.6 614.7 592.7 615 592.8 615.3 592.9 615.5 593 615.8 593.1 616.1 593.1 616.3 593.2 616.6 593.2 616.9 593.3 617.2 593.3 617.4 593.4 617.7 593.4 618 593.4 618.2 593.5 618.5 593.5 618.8 593.5 619.1 593.6 619.3 593.6 619.6 593.6 619.9 593.6 620.1 593.6 620.4 593.6 620.7 592.6 621 583.4 621.2 571 621.5 558.9 621.8 548.7 622 540.9 622.3 535.7 622.6 532.8 622.9 531.8 623.1 532 623.4 532.6 623.7 533.5 623.9 534.7 624.2 536 624.5 537.5 624.8 539.1 625 540.7 625.3 542.4 625.6 544.2 625.8 545.9 626.1 547.7 626.4 549.5 626.7 551.2 626.9 552.9 627.2 554.6 627.5 556.3 627.7 557.9 628 559.5 628.3 561 628.6 562.5 628.8 563.9 629.1 565.3 629.4 566.7 629.6 567.9 629.9 569.2 630.2 570.4 630.5 571.5 630.7 572.6 631 573.7 631.3 574.7 631.5 575.6 631.8 576.5 632.1 577.4 632.4 578.3 632.6 579.1 632.9 579.8 633.2 580.5 633.4 581.2 633.7 581.9 634 582.5 634.3 583.1 634.5 583.7 634.8 584.2 635.1 584.7 635.4 585.2 635.6 585.7 635.9 586.1 636.2 586.5 636.4 586.9 636.7 587.3 637 587.7 637.3 588 637.5 588.3 637.8 588.6 638.1 588.9 638.3 589.2 638.6 589.4 638.9 589.7 639.2 589.9 639.4 590.1 639.7 590.3 640 590.5 640.2 590.7 640.5 590.9 640.8 591 641.1 591.2 641.3 591.3 641.6 591.5 641.9 591.6 642.1 591.7 642.4 591.9 642.7 592 643 592.1 643.2 592.2 643.5 592.3 643.8 592.3 644 592.4 644.3 592.5 644.6 592.6 644.9 592.7 645.1 592.7 645.4 592.8 645.7 592.8 645.9 592.9 646.2 592.9 646.5 593 646.8 593 647 593.1 647.3 593.1 647.6 591.5 647.8 576.8 648.1 558.5 648.4 543.8 648.7 534.7 648.9 531 649.2 531 649.5 531.6 649.7 532.6 650 533.8 650.3 535.3 650.6 536.8 650.8 538.5 651.1 540.2 651.4 542 651.6 543.7 651.9 545.5 652.2 547.3 652.5 549.1 652.7 550.8 653 552.5 653.3 554.2 653.5 555.8 653.8 557.4 654.1 558.9 654.4 560.4 654.6 561.8 654.9 563.2 655.2 564.6 655.4 565.9 655.7 567.1 656 568.3 656.3 569.5 656.5 570.6 656.8 571.6 657.1 572.7 657.3 573.7 657.6 574.6 657.9 575.5 658.2 576.4 658.4 577.2 658.7 578 659 578.7 659.2 579.4 659.5 580.1 659.8 580.8 660.1 581.4 660.3 582 660.6 582.6 660.9 583.1 661.1 583.7 661.4 584.1 661.7 584.6 662 585.1 662.2 585.5 662.5 585.9 662.8 586.3 663.1 586.7 663.3 587 663.6 587.4 663.9 587.7 664.1 588 664.4 588.3 664.7 588.6 665 588.8 665.2 589.1 665.5 589.3 665.8 589.5 666 589.7 666.3 590 666.6 590.1 666.9 590.3 667.1 590.5 667.4 590.7 667.7 590.8 667.9 591 668.2 591.1 668.5 591.3 668.8 591.4 669 591.5 669.3 591.6 669.6 591.7 669.8 591.8 670.1 591.9 670.4 592 670.7 592.1 670.9 592.2 671.2 592.3 671.5 592.4 671.7 592.5 672 592.5 672.3 592.6 672.6 592.6 672.8 592.7 673.1 592.8 673.4 592.8 673.6 592.9 673.9 592.9 674.2 593 674.5 593 674.7 593 675 593.1" stroke="#e69f00" stroke-width="1.0" fill="none" stroke-linejoin="round" stroke-opacity="0.85"/>
<path d="M523.3 646.6 523.5 644.5 523.6 642.3 523.8 640.2 524 638 524.2 635.9 524.3 633.8 524.5 631.7 524.7 629.6 524.8 627.5 525 625.4 525.2 623.2 525.3 620.8 525.5 618.2 525.7 615.4 525.9 612.3 526 609 526.2 605.6 526.4 602.1 526.5 598.5 526.7 595 526.9 591.6 527.1 588.3 527.2 585.2 527.4 582.4 527.6 579.9 527.7 577.4 527.9 575.1 528.1 572.7 528.2 570.5 528.4 568.4 528.6 566.3 528.8 564.4 528.9 562.6 529.1 560.8 529.3 559.2 529.4 557.7 529.6 556.2 529.8 554.8 530 553.4 530.1 552.1 530.3 550.8 530.5 549.6 530.6 548.5 530.8 547.4 531 546.3 531.1 545.4 531.3 544.5 531.5 543.7 531.7 542.9 531.8 542.1 532 541.4 532.2 540.6 532.3 539.9 532.5 539.2 532.7 538.6 532.8 537.9 533 537.4 533.2 536.9 533.4 536.4 533.5 536 533.7 535.7 533.9 535.4 534 535.2 534.2 535.1 534.4 534.9 534.6 534.7 534.7 534.6 534.9 534.4 535.1 534.3 535.2 534.2 535.4 534.1 535.6 534 535.7 533.9 535.9 533.8 536.1 533.8 536.3 533.7 536.4 533.7 536.6 533.6 536.8 533.6 536.9 533.6 537.1 533.7 537.3 533.7 537.5 533.7 537.6 533.8 537.8 533.8 538 533.9 538.1 533.9 538.3 534 538.5 534.1 538.6 534.2 538.8 534.3 539 534.4 539.2 534.4 539.3 534.5 539.5 534.6 539.7 534.7 539.8 534.8 540 535 540.2 535.1 540.4 535.2 540.5 535.3 540.7 535.4 540.9 535.5 541 535.6 541.2 535.8 541.4 535.9 541.5 536.1 541.7 536.3 541.9 536.5 542.1 536.7 542.2 536.9 542.4 537 542.6 537.2 542.7 537.4 542.9 537.5 543.1 537.6 543.3 537.7 543.4 537.8 543.6 537.9 543.8 538 543.9 538 544.1 538.1 544.3 538.1 544.4 538.1 544.6 538.2 544.8 538.2 545 538.2 545.1 538.3 545.3 538.4 545.5 538.4 545.6 538.5 545.8 538.6 546 538.8 546.1 539.1 546.3 539.6 546.5 540.3 546.7 541 546.8 542.3 547 544.2 547.2 546.6 547.3 549.3 547.5 552.2 547.7 555.2 547.9 558 548 560.6 548.2 562.8 548.4 564.8 548.5 566.8 548.7 568.7 548.9 570.5 549 572.3 549.2 574.1 549.4 575.8 549.6 577.4 549.7 578.9 549.9 580.4 550.1 581.8 550.2 583.2 550.4 584.6 550.6 585.9 550.8 587.2 550.9 588.4 551.1 589.6 551.3 590.8 551.4 592 551.6 593.1 551.8 594.2 551.9 595.3 552.1 596.3 552.3 597.3 552.5 598.3 552.6 599.2 552.8 600.1 553 601 553.1 601.8 553.3 602.7 553.5 603.5 553.7 604.3 553.8 605.1 554 605.9 554.2 606.7 554.3 607.4 554.5 608.1 554.7 608.9 554.8 609.6 555 610.3 555.2 611 555.4 611.6 555.5 612.3 555.7 613 555.9 613.6 556 614.2 556.2 614.9 556.4 615.5 556.6 616.1 556.7 616.7 556.9 617.2 557.1 617.8 557.2 618.4 557.4 618.9 557.6 619.5 557.7 620 557.9 620.5 558.1 621.1 558.3 621.6 558.4 622.1 558.6 622.6 558.8 623.1 558.9 623.6 559.1 624.1 559.3 624.6 559.4 625.1 559.6 625.5 559.8 626 560 626.5 560.1 626.9 560.3 627.4 560.5 627.8 560.6 628.3 560.8 628.7 561 629.1 561.2 629.5 561.3 630 561.5 630.4 561.7 630.8 561.8 631.2 562 631.6 562.2 631.9 562.3 632.3 562.5 632.7 562.7 633.1 562.9 633.4 563 633.8 563.2 634.2 563.4 634.5 563.5 634.9 563.7 635.2 563.9 635.6 564.1 636 564.2 636.3 564.4 636.7 564.6 637 564.7 637.4 564.9 637.7 565.1 638 565.2 638.4 565.4 638.7 565.6 639 565.8 639.3 565.9 639.6 566.1 639.9 566.3 640.2 566.4 640.5 566.6 640.8 566.8 641 567 641.3 567.1 641.5 567.3 641.7 567.5 641.9 567.6 642.1 567.8 642.3 568 642.4 568.1 642.6 568.3 642.7 568.5 642.9 568.7 643 568.8 643.1 569 643.3 569.2 643.4 569.3 643.5 569.5 643.6 569.7 643.7 569.9 643.8 570 643.9 570.2 644 570.4 644 570.5 644.1 570.7 644.2 570.9 644.3 571 644.4 571.2 644.5 571.4 644.5 571.6 644.6 571.7 644.7 571.9 644.8 572.1 644.9 572.2 645 572.4 645.1 572.6 645.1 572.8 645.2 572.9 645.3 573.1 645.4 573.3 645.5 573.4 645.7 573.6 645.8 573.8 645.9 573.9 646 574.1 646.2 574.3 646.3" stroke="#9400d3" stroke-width="1.2" fill="none" stroke-linejoin="round" stroke-opacity="0.7"/>
<path d="M574.3 646.3 574.5 639.7 574.6 633.3 574.8 627 575 621.1 575.2 615.4 575.3 610.2 575.5 605.3 575.7 601 575.9 597.1 576 593.8 576.2 590.8 576.4 587.9 576.6 585.1 576.7 582.5 576.9 580.1 577.1 577.8 577.3 575.7 577.4 573.8 577.6 572 577.8 570.4 578 568.9 578.2 567.6 578.3 566.4 578.5 565.2 578.7 564.1 578.9 563 579 561.9 579.2 560.9 579.4 559.9 579.6 559 579.7 558.1 579.9 557.2 580.1 556.4 580.3 555.6 580.4 554.8 580.6 554.1 580.8 553.4 581 552.7 581.1 552.1 581.3 551.5 581.5 550.9 581.7 550.4 581.8 549.9 582 549.4 582.2 549 582.4 548.6 582.5 548.1 582.7 547.8 582.9 547.4 583.1 547 583.2 546.6 583.4 546.3 583.6 545.9 583.8 545.6 583.9 545.3 584.1 544.9 584.3 544.6 584.5 544.3 584.7 544 584.8 543.8 585 543.5 585.2 543.2 585.4 543 585.5 542.7 585.7 542.5 585.9 542.2 586.1 542 586.2 541.7 586.4 541.5 586.6 541.3 586.8 541.1 586.9 540.9 587.1 540.7 587.3 540.5 587.5 540.3 587.6 540.1 587.8 539.9 588 539.7 588.2 539.5 588.3 539.4 588.5 539.2 588.7 539 588.9 538.8 589 538.6 589.2 538.5 589.4 538.3 589.6 538.1 589.7 537.9 589.9 537.7 590.1 537.6 590.3 537.4 590.4 537.2 590.6 537.1 590.8 536.9 591 536.8 591.2 536.7 591.3 536.5 591.5 536.4 591.7 536.4 591.9 536.3 592 536.2 592.2 536.2 592.4 536.2 592.6 536.1 592.7 536.1 592.9 536.1 593.1 536.1 593.3 536.1 593.4 536.1 593.6 536.1 593.8 536.1 594 536.1 594.1 536.1 594.3 536.1 594.5 536.1 594.7 536.1 594.8 536.1 595 536.1 595.2 536.1 595.4 536.1 595.5 536.1 595.7 536.1 595.9 536.1 596.1 536.1 596.2 536.1 596.4 536.1 596.6 536.1 596.8 536.2 596.9 537.1 597.1 538.6 597.3 540.6 597.5 543.1 597.7 545.8 597.8 548.7 598 551.5 598.2 554.2 598.4 556.6 598.5 558.7 598.7 560.9 598.9 563.2 599.1 565.4 599.2 567.6 599.4 569.8 599.6 572 599.8 574.1 599.9 576.1 600.1 578.1 600.3 579.9 600.5 581.6 600.6 583.1 600.8 584.6 601 586 601.2 587.4 601.3 588.8 601.5 590.2 601.7 591.5 601.9 592.8 602 594.1 602.2 595.3 602.4 596.5 602.6 597.7 602.7 598.8 602.9 599.9 603.1 601 603.3 602.1 603.4 603.1 603.6 604 603.8 605 604 605.9 604.2 606.7 604.3 607.6 604.5 608.4 604.7 609.1 604.9 609.9 605 610.6 605.2 611.3 605.4 612 605.6 612.7 605.7 613.3 605.9 614 606.1 614.6 606.3 615.3 606.4 615.9 606.6 616.5 606.8 617.1 607 617.6 607.1 618.2 607.3 618.8 607.5 619.3 607.7 619.8 607.8 620.4 608 620.9 608.2 621.4 608.4 621.9 608.5 622.4 608.7 622.8 608.9 623.3 609.1 623.7 609.2 624.2 609.4 624.6 609.6 625 609.8 625.5 609.9 625.9 610.1 626.3 610.3 626.7 610.5 627 610.7 627.4 610.8 627.8 611 628.1 611.2 628.5 611.4 628.8 611.5 629.2 611.7 629.5 611.9 629.8 612.1 630.2 612.2 630.5 612.4 630.8 612.6 631.1 612.8 631.5 612.9 631.8 613.1 632.1 613.3 632.4 613.5 632.7 613.6 633 613.8 633.3 614 633.5 614.2 633.8 614.3 634.1 614.5 634.4 614.7 634.6 614.9 634.9 615 635.2 615.2 635.4 615.4 635.7 615.6 635.9 615.7 636.2 615.9 636.4 616.1 636.7 616.3 636.9 616.4 637.2 616.6 637.4 616.8 637.6 617 637.8 617.2 638.1 617.3 638.3 617.5 638.5 617.7 638.7 617.9 638.9 618 639.1 618.2 639.3 618.4 639.5 618.6 639.7 618.7 639.9 618.9 640.1 619.1 640.3 619.3 640.5 619.4 640.6 619.6 640.8 619.8 641 620 641.2 620.1 641.3 620.3 641.5 620.5 641.7 620.7 641.8 620.8 642 621 642.1 621.2 642.3 621.4 642.4 621.5 642.6 621.7 642.7 621.9 642.9 622.1 643 622.2 643.2 622.4 643.3 622.6 643.4 622.8 643.6 622.9 643.7 623.1 643.8 623.3 644 623.5 644.1 623.7 644.2 623.8 644.3 624 644.5 624.2 644.6 624.4 644.7 624.5 644.8 624.7 645 624.9 645.1 625.1 645.2 625.2 645.3 625.4 645.4 625.6 645.5 625.8 645.7 625.9 645.8 626.1 645.9 626.3 646 626.5 646.1 626.6 646.2 626.8 646.3" stroke="#9400d3" stroke-width="1.2" fill="none" stroke-linejoin="round" stroke-opacity="0.7"/>
<path d="M626.8 646.3 627 641.8 627.2 637.4 627.3 633.2 627.5 629 627.7 625 627.8 621.1 628 617.3 628.2 613.7 628.3 610.3 628.5 607 628.7 603.9 628.9 600.9 629 598.2 629.2 595.5 629.4 592.9 629.5 590.3 629.7 587.9 629.9 585.5 630.1 583.3 630.2 581.2 630.4 579.2 630.6 577.4 630.7 575.8 630.9 574.3 631.1 573 631.2 571.8 631.4 570.7 631.6 569.5 631.8 568.5 631.9 567.4 632.1 566.4 632.3 565.5 632.4 564.5 632.6 563.6 632.8 562.8 633 561.9 633.1 561.1 633.3 560.4 633.5 559.6 633.6 558.9 633.8 558.2 634 557.5 634.1 556.9 634.3 556.2 634.5 555.6 634.7 555 634.8 554.4 635 553.9 635.2 553.3 635.3 552.7 635.5 552.2 635.7 551.7 635.9 551.2 636 550.7 636.2 550.2 636.4 549.7 636.5 549.2 636.7 548.7 636.9 548.3 637 547.8 637.2 547.4 637.4 547 637.6 546.6 637.7 546.1 637.9 545.7 638.1 545.3 638.2 544.9 638.4 544.6 638.6 544.2 638.8 543.8 638.9 543.4 639.1 543.1 639.3 542.7 639.4 542.4 639.6 542 639.8 541.7 639.9 541.4 640.1 541 640.3 540.7 640.5 540.4 640.6 540 640.8 539.7 641 539.4 641.1 539.1 641.3 538.7 641.5 538.4 641.7 538.1 641.8 537.8 642 537.4 642.2 537.1 642.3 536.8 642.5 536.5 642.7 536.2 642.8 535.9 643 535.5 643.2 535.2 643.4 534.9 643.5 534.6 643.7 534.3 643.9 534 644 533.7 644.2 533.4 644.4 533.1 644.5 532.9 644.7 532.6 644.9 532.3 645.1 532.1 645.2 531.8 645.4 531.6 645.6 531.3 645.7 531.1 645.9 530.9 646.1 530.6 646.3 530.4 646.4 530.2 646.6 530.1 646.8 529.9 646.9 529.7 647.1 529.5 647.3 529.4 647.4 529.2 647.6 529.1 647.8 529 648 528.9 648.1 529.1 648.3 529.7 648.5 530.7 648.6 532 648.8 533.6 649 535.3 649.2 537.2 649.3 539.2 649.5 541.2 649.7 543.1 649.8 544.9 650 546.6 650.2 548.2 650.3 549.8 650.5 551.5 650.7 553.2 650.9 554.9 651 556.6 651.2 558.3 651.4 560 651.5 561.7 651.7 563.4 651.9 565 652.1 566.6 652.2 568.2 652.4 569.8 652.6 571.5 652.7 573.1 652.9 574.8 653.1 576.4 653.2 578.1 653.4 579.7 653.6 581.3 653.8 582.9 653.9 584.5 654.1 586 654.3 587.5 654.4 588.9 654.6 590.3 654.8 591.6 655 592.9 655.1 594.1 655.3 595.2 655.5 596.2 655.6 597.3 655.8 598.3 656 599.3 656.1 600.3 656.3 601.3 656.5 602.3 656.7 603.2 656.8 604.2 657 605.1 657.2 606 657.3 606.9 657.5 607.7 657.7 608.6 657.8 609.4 658 610.2 658.2 611 658.4 611.8 658.5 612.5 658.7 613.3 658.9 614 659 614.7 659.2 615.4 659.4 616 659.6 616.7 659.7 617.3 659.9 617.9 660.1 618.5 660.2 619.1 660.4 619.6 660.6 620.1 660.7 620.7 660.9 621.2 661.1 621.7 661.3 622.2 661.4 622.7 661.6 623.2 661.8 623.7 661.9 624.2 662.1 624.7 662.3 625.1 662.5 625.6 662.6 626 662.8 626.5 663 626.9 663.1 627.4 663.3 627.8 663.5 628.2 663.6 628.6 663.8 629 664 629.4 664.2 629.8 664.3 630.2 664.5 630.6 664.7 631 664.8 631.3 665 631.7 665.2 632 665.4 632.4 665.5 632.7 665.7 633 665.9 633.4 666 633.7 666.2 634 666.4 634.3 666.5 634.6 666.7 634.8 666.9 635.1 667.1 635.4 667.2 635.6 667.4 635.9 667.6 636.1 667.7 636.4 667.9 636.6 668.1 636.8 668.3 637 668.4 637.2 668.6 637.4 668.8 637.6 668.9 637.8 669.1 638 669.3 638.2 669.4 638.4 669.6 638.6 669.8 638.8 670 639 670.1 639.2 670.3 639.3 670.5 639.5 670.6 639.7 670.8 639.8 671 640 671.1 640.2 671.3 640.3 671.5 640.5 671.7 640.6 671.8 640.8 672 641 672.2 641.1 672.3 641.2 672.5 641.4 672.7 641.5 672.9 641.7 673 641.8 673.2 642 673.4 642.1 673.5 642.2 673.7 642.4 673.9 642.5 674 642.6 674.2 642.7 674.4 642.9 674.6 643 674.7 643.1 674.9 643.2 675.1 643.4 675.2 643.5 675.4 643.6 675.6 643.7 675.8 643.8 675.9 644 676.1 644.1 676.3 644.2 676.4 644.3 676.6 644.4 676.8 644.6 676.9 644.7 677.1 644.8 677.3 644.9 677.5 645 677.6 645.1 677.8 645.2" stroke="#9400d3" stroke-width="1.2" fill="none" stroke-linejoin="round" stroke-opacity="0.7"/>
</g>
</svg>
</body></html>
